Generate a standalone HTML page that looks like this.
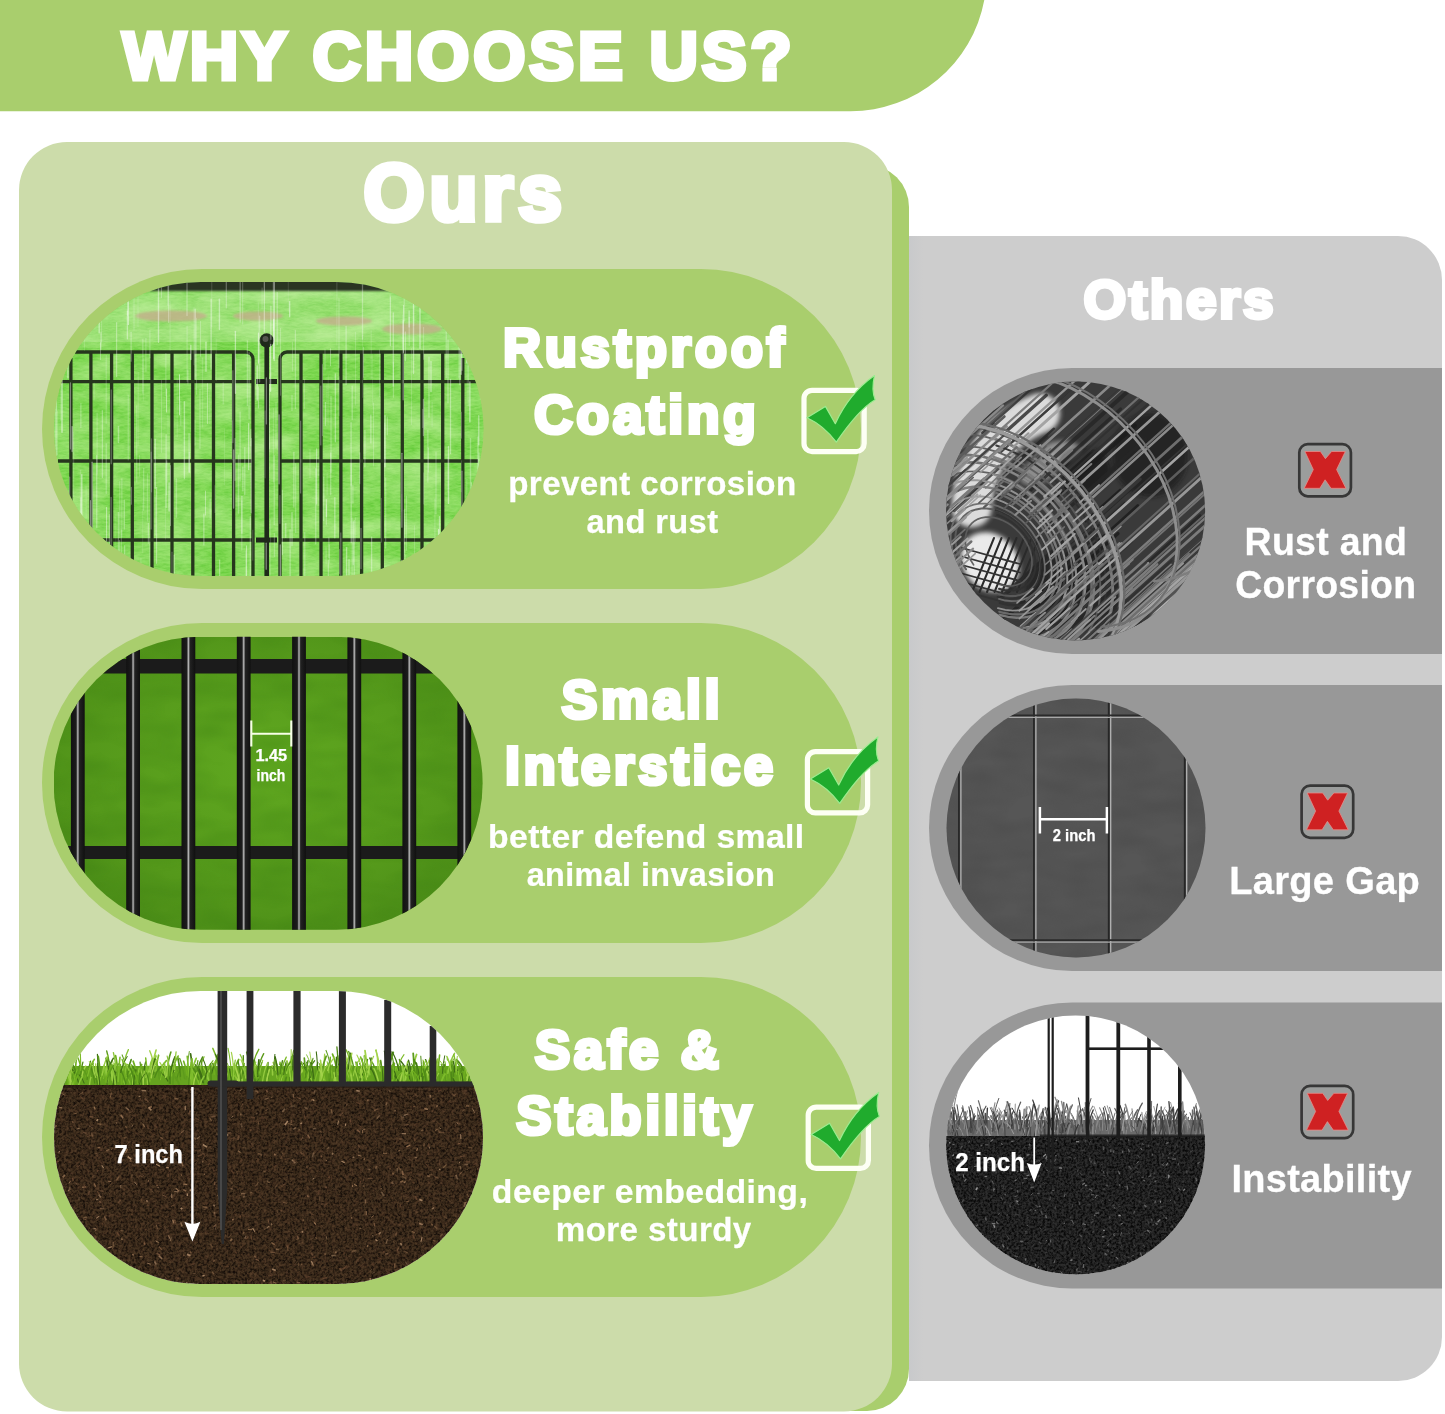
<!DOCTYPE html>
<html lang="en">
<head>
<meta charset="utf-8">
<title>Why Choose Us?</title>
<style>
html,body{margin:0;padding:0;background:#fff;}
body{width:1445px;height:1414px;overflow:hidden;font-family:"Liberation Sans",sans-serif;}
svg{display:block;}
.hv{font-family:"Liberation Sans",sans-serif;font-weight:bold;fill:#fff;stroke:#fff;stroke-linejoin:miter;stroke-miterlimit:3;}
.sub{font-family:"Liberation Sans",sans-serif;font-weight:normal;fill:#fff;stroke:#fff;stroke-width:1.1px;stroke-linejoin:round;}
.lbl{font-family:"Liberation Sans",sans-serif;font-weight:bold;fill:#fff;stroke:#fff;stroke-width:0.25px;}
</style>
</head>
<body>
<svg width="1445" height="1414" viewBox="0 0 1445 1414">
<defs>

<clipPath id="c1"><rect x="54" y="282" width="429.5" height="294" rx="147" ry="147"/></clipPath>
<clipPath id="c2"><rect x="53.6" y="636.7" width="429" height="293" rx="146.5" ry="146.5"/></clipPath>
<clipPath id="c3"><rect x="54" y="991" width="429" height="293" rx="146.5" ry="146.5"/></clipPath>
<clipPath id="k1"><circle cx="1075.6" cy="511" r="129.5"/></clipPath>
<clipPath id="k2"><circle cx="1076" cy="828" r="129.5"/></clipPath>
<clipPath id="k3"><circle cx="1075.6" cy="1145" r="129.5"/></clipPath>
<filter id="soil" x="0" y="0" width="100%" height="100%" color-interpolation-filters="sRGB">
  <feTurbulence type="fractalNoise" baseFrequency="0.42" numOctaves="3" seed="4"/>
  <feColorMatrix type="matrix" values="0 0 0 0 0  0 0 0 0 0  0 0 0 0 0  2.6 0 0 0 -0.95"/>
  <feComposite in="SourceGraphic" operator="in"/>
</filter>
<filter id="soil2" x="0" y="0" width="100%" height="100%" color-interpolation-filters="sRGB">
  <feTurbulence type="fractalNoise" baseFrequency="0.22" numOctaves="2" seed="11"/>
  <feColorMatrix type="matrix" values="0 0 0 0 0  0 0 0 0 0  0 0 0 0 0  0 2.4 0 0 -1.0"/>
  <feComposite in="SourceGraphic" operator="in"/>
</filter>
<filter id="grain" x="0" y="0" width="100%" height="100%" color-interpolation-filters="sRGB">
  <feTurbulence type="fractalNoise" baseFrequency="0.12 0.5" numOctaves="3" seed="9"/>
  <feColorMatrix type="matrix" values="0 0 0 0 0  0 0 0 0 0  0 0 0 0 0  1.8 0 0 0 -0.6"/>
  <feComposite in="SourceGraphic" operator="in"/>
</filter>
<filter id="cloud" x="0" y="0" width="100%" height="100%" color-interpolation-filters="sRGB">
  <feTurbulence type="fractalNoise" baseFrequency="0.02 0.05" numOctaves="2" seed="3"/>
  <feColorMatrix type="matrix" values="0 0 0 0 0  0 0 0 0 0  0 0 0 0 0  1.6 0 0 0 -0.5"/>
  <feComposite in="SourceGraphic" operator="in"/>
</filter>
<filter id="nf" filterUnits="userSpaceOnUse" x="0" y="0" width="1445" height="1414"><feOffset dx="0" dy="0"/></filter>
<filter id="b1" x="-30%" y="-60%" width="160%" height="220%"><feGaussianBlur stdDeviation="1"/></filter>
<filter id="b2" x="-60%" y="-60%" width="220%" height="220%"><feGaussianBlur stdDeviation="2.5"/></filter>
<filter id="b05"><feGaussianBlur stdDeviation="0.5"/></filter>
<linearGradient id="gbar" x1="0" x2="1" y1="0" y2="0">
  <stop offset="0" stop-color="#111"/><stop offset="0.38" stop-color="#1c1c1c"/>
  <stop offset="0.5" stop-color="#b9b9b9"/><stop offset="0.62" stop-color="#222"/><stop offset="1" stop-color="#101010"/>
</linearGradient>
<radialGradient id="g2bg" cx="0.5" cy="0.45" r="0.7">
  <stop offset="0" stop-color="#60a820"/><stop offset="0.6" stop-color="#55991b"/><stop offset="1" stop-color="#478716"/>
</radialGradient>
<linearGradient id="pnlshade" x1="0" x2="1" y1="0" y2="0">
  <stop offset="0" stop-color="#c8c9cb"/><stop offset="1" stop-color="#cdcdcd"/>
</linearGradient>
</defs>

<rect width="1445" height="1414" fill="#fff"/>
<path d="M0 0H984.3A136 136 0 0 1 850.5 111.2H0Z" fill="#a9ce6d"/>
<rect x="60" y="165" width="849" height="1246" rx="42" ry="42" fill="#a9ce6d"/>
<rect x="19" y="142" width="873" height="1269.5" rx="48" ry="48" fill="#ccdcaa"/>
<path d="M909 236H1398a44 44 0 0 1 44 44V1337a44 44 0 0 1 -44 44H909Z" fill="#cdcdcd"/>
<rect x="909" y="236" width="14" height="1145" fill="url(#pnlshade)"/>
<rect x="42" y="269" width="819" height="320" rx="160" ry="160" fill="#a9ce6d"/>
<rect x="42" y="623" width="819" height="320" rx="160" ry="160" fill="#a9ce6d"/>
<rect x="42" y="977" width="819" height="320" rx="160" ry="160" fill="#a9ce6d"/>
<path d="M1072 368H1442V654H1072a143 143 0 0 1 0 -286Z" fill="#989898"/>
<path d="M1072 685H1442V971H1072a143 143 0 0 1 0 -286Z" fill="#989898"/>
<path d="M1072 1002.5H1442V1288.5H1072a143 143 0 0 1 0 -286Z" fill="#989898"/>
<g clip-path="url(#c1)">
<rect x="54" y="282" width="430" height="294" fill="#84db57"/>
<rect x="54" y="282" width="430" height="294" fill="#4fbf26" filter="url(#grain)" opacity="0.6"/>
<rect x="54" y="282" width="430" height="294" fill="#d6f8b4" filter="url(#cloud)" opacity="0.65"/>
<rect x="54" y="282" width="430" height="60" fill="#dff7c8" opacity="0.25"/>
<rect x="150" y="277" width="250" height="14" fill="#2b3524" filter="url(#b1)"/>
<ellipse cx="171" cy="316" rx="36" ry="5.5" fill="#c2ae8a" opacity="0.8" filter="url(#b1)"/>
<ellipse cx="258" cy="316" rx="25" ry="4.5" fill="#c2ae8a" opacity="0.8" filter="url(#b1)"/>
<ellipse cx="344" cy="321" rx="28" ry="4.5" fill="#c2ae8a" opacity="0.8" filter="url(#b1)"/>
<ellipse cx="412" cy="329" rx="30" ry="5.5" fill="#c2ae8a" opacity="0.8" filter="url(#b1)"/>
<g stroke="#26361d" stroke-width="3.3" fill="none" stroke-linecap="butt">
<path d="M70.9 358V580"/>
<path d="M90.9 352V580"/>
<path d="M111.6 352V580"/>
<path d="M132.3 352V580"/>
<path d="M152 352V580"/>
<path d="M172 352V580"/>
<path d="M192.8 352V580"/>
<path d="M213.5 352V580"/>
<path d="M233.6 352V580"/>
<path d="M301 352V580"/>
<path d="M321 352V580"/>
<path d="M340.9 352V580"/>
<path d="M361.6 352V580"/>
<path d="M382.3 352V580"/>
<path d="M402.3 352V580"/>
<path d="M422 352V580"/>
<path d="M442.7 352V580"/>
<path d="M462.8 358V580"/>
<path d="M75 352H246a7 7 0 0 1 7 7V580"/>
<path d="M463 352H287a7 7 0 0 0 -7 7V580"/>
<path d="M58 381.6H253"/><path d="M280 381.6H478"/>
<path d="M58 461H253"/><path d="M280 461H478"/>
<path d="M58 540H253"/><path d="M280 540H478"/>
</g>
<path d="M266.7 340V580" stroke="#1f2a1a" stroke-width="4.6"/>
<circle cx="266.7" cy="340.5" r="7.2" fill="#1f2a1a"/>
<circle cx="265.5" cy="339" r="3" fill="#55584f"/>
<path d="M256 381.6H277M256 540H277" stroke="#1f2a1a" stroke-width="5"/>
<g stroke="#fff" stroke-linecap="round">
<path d="M194.0 307.7v57" stroke-width="1.1" opacity="0.18"/>
<path d="M211.8 279.6v47" stroke-width="1.0" opacity="0.16"/>
<path d="M85.8 289.5v42" stroke-width="0.7" opacity="0.44"/>
<path d="M151.1 452.1v77" stroke-width="1.0" opacity="0.35"/>
<path d="M471.9 276.1v71" stroke-width="0.7" opacity="0.25"/>
<path d="M106.2 355.5v68" stroke-width="1.1" opacity="0.21"/>
<path d="M328.2 374.8v50" stroke-width="0.7" opacity="0.17"/>
<path d="M143.7 468.2v42" stroke-width="1.1" opacity="0.26"/>
<path d="M249.1 352.8v66" stroke-width="0.8" opacity="0.39"/>
<path d="M300.7 421.1v72" stroke-width="0.9" opacity="0.41"/>
<path d="M473.6 297.8v42" stroke-width="0.7" opacity="0.41"/>
<path d="M264.3 273.9v58" stroke-width="1.1" opacity="0.42"/>
<path d="M429.0 357.1v60" stroke-width="1.1" opacity="0.36"/>
<path d="M250.3 516.5v76" stroke-width="1.2" opacity="0.32"/>
<path d="M81.8 474.6v57" stroke-width="1.3" opacity="0.50"/>
<path d="M177.2 378.9v58" stroke-width="1.0" opacity="0.16"/>
<path d="M127.6 297.5v18" stroke-width="0.7" opacity="0.42"/>
<path d="M161.5 380.5v72" stroke-width="1.0" opacity="0.18"/>
<path d="M290.1 529.7v68" stroke-width="0.9" opacity="0.45"/>
<path d="M232.9 370.7v72" stroke-width="0.7" opacity="0.49"/>
<path d="M131.1 332.3v29" stroke-width="1.1" opacity="0.32"/>
<path d="M167.9 263.2v42" stroke-width="1.1" opacity="0.28"/>
<path d="M462.0 471.2v48" stroke-width="1.2" opacity="0.37"/>
<path d="M79.0 534.6v65" stroke-width="1.3" opacity="0.46"/>
<path d="M223.2 382.9v21" stroke-width="0.7" opacity="0.37"/>
<path d="M84.7 325.3v25" stroke-width="0.6" opacity="0.27"/>
<path d="M56.1 307.8v21" stroke-width="0.6" opacity="0.28"/>
<path d="M428.5 448.1v24" stroke-width="0.9" opacity="0.24"/>
<path d="M211.1 299.2v70" stroke-width="1.0" opacity="0.50"/>
<path d="M262.1 288.0v21" stroke-width="0.8" opacity="0.27"/>
<path d="M409.1 310.9v16" stroke-width="1.1" opacity="0.48"/>
<path d="M118.5 426.6v16" stroke-width="1.5" opacity="0.33"/>
<path d="M423.8 472.9v31" stroke-width="0.8" opacity="0.28"/>
<path d="M384.8 423.4v65" stroke-width="0.8" opacity="0.27"/>
<path d="M401.7 560.4v70" stroke-width="1.3" opacity="0.43"/>
<path d="M371.2 330.7v48" stroke-width="0.6" opacity="0.27"/>
<path d="M67.9 346.7v31" stroke-width="1.5" opacity="0.39"/>
<path d="M246.5 545.9v79" stroke-width="0.9" opacity="0.48"/>
<path d="M149.9 330.7v27" stroke-width="1.2" opacity="0.22"/>
<path d="M439.5 516.7v46" stroke-width="1.3" opacity="0.38"/>
<path d="M92.1 462.2v74" stroke-width="1.3" opacity="0.42"/>
<path d="M259.6 316.1v66" stroke-width="1.3" opacity="0.27"/>
<path d="M469.9 381.9v40" stroke-width="1.3" opacity="0.48"/>
<path d="M128.4 300.5v24" stroke-width="1.3" opacity="0.47"/>
<path d="M118.3 512.4v79" stroke-width="0.9" opacity="0.38"/>
<path d="M289.7 301.7v15" stroke-width="1.2" opacity="0.49"/>
<path d="M280.3 544.9v43" stroke-width="1.3" opacity="0.46"/>
<path d="M145.9 338.3v33" stroke-width="1.1" opacity="0.23"/>
<path d="M166.5 389.0v23" stroke-width="0.9" opacity="0.47"/>
<path d="M251.2 438.8v74" stroke-width="1.4" opacity="0.30"/>
<path d="M269.7 423.1v49" stroke-width="1.0" opacity="0.16"/>
<path d="M134.0 263.2v67" stroke-width="1.0" opacity="0.21"/>
<path d="M364.9 430.6v36" stroke-width="1.1" opacity="0.33"/>
<path d="M390.1 294.2v51" stroke-width="0.8" opacity="0.24"/>
<path d="M385.0 415.8v51" stroke-width="1.4" opacity="0.42"/>
<path d="M244.8 447.6v47" stroke-width="1.2" opacity="0.33"/>
<path d="M248.7 423.6v46" stroke-width="1.2" opacity="0.48"/>
<path d="M429.4 547.5v31" stroke-width="1.4" opacity="0.35"/>
<path d="M413.8 303.6v22" stroke-width="0.7" opacity="0.30"/>
<path d="M158.5 284.2v58" stroke-width="1.4" opacity="0.42"/>
<path d="M121.8 479.0v58" stroke-width="1.4" opacity="0.20"/>
<path d="M468.2 328.5v77" stroke-width="1.0" opacity="0.29"/>
<path d="M477.7 514.2v25" stroke-width="1.1" opacity="0.30"/>
<path d="M200.5 321.3v35" stroke-width="0.6" opacity="0.40"/>
<path d="M292.0 395.5v15" stroke-width="1.2" opacity="0.27"/>
<path d="M274.2 281.5v79" stroke-width="1.5" opacity="0.43"/>
<path d="M100.6 342.5v17" stroke-width="0.8" opacity="0.42"/>
<path d="M111.2 389.9v74" stroke-width="0.8" opacity="0.44"/>
<path d="M119.6 540.5v52" stroke-width="0.7" opacity="0.40"/>
<path d="M80.5 470.5v42" stroke-width="1.4" opacity="0.18"/>
<path d="M326.3 504.9v20" stroke-width="0.7" opacity="0.45"/>
<path d="M423.5 399.5v36" stroke-width="1.4" opacity="0.34"/>
<path d="M170.1 301.2v49" stroke-width="0.7" opacity="0.23"/>
<path d="M124.8 277.3v27" stroke-width="0.9" opacity="0.26"/>
<path d="M379.5 349.9v47" stroke-width="0.9" opacity="0.21"/>
<path d="M63.7 337.9v15" stroke-width="1.1" opacity="0.41"/>
<path d="M136.7 405.9v76" stroke-width="1.3" opacity="0.19"/>
<path d="M240.1 412.0v69" stroke-width="1.1" opacity="0.29"/>
<path d="M349.0 559.7v37" stroke-width="1.2" opacity="0.44"/>
<path d="M326.9 384.6v37" stroke-width="0.7" opacity="0.17"/>
<path d="M86.1 486.5v31" stroke-width="0.7" opacity="0.21"/>
<path d="M414.4 525.8v58" stroke-width="0.8" opacity="0.25"/>
<path d="M180.8 401.2v24" stroke-width="0.8" opacity="0.31"/>
<path d="M465.7 556.7v50" stroke-width="1.5" opacity="0.24"/>
<path d="M187.9 370.0v14" stroke-width="1.0" opacity="0.28"/>
<path d="M270.2 322.9v47" stroke-width="0.8" opacity="0.15"/>
<path d="M94.2 383.1v17" stroke-width="0.9" opacity="0.16"/>
<path d="M155.2 439.4v49" stroke-width="1.2" opacity="0.41"/>
<path d="M361.0 528.4v40" stroke-width="1.5" opacity="0.26"/>
<path d="M119.7 481.4v56" stroke-width="1.4" opacity="0.17"/>
<path d="M436.0 452.1v62" stroke-width="0.7" opacity="0.43"/>
<path d="M279.1 414.8v69" stroke-width="1.3" opacity="0.43"/>
<path d="M304.8 532.5v59" stroke-width="0.8" opacity="0.39"/>
<path d="M69.3 302.3v38" stroke-width="1.4" opacity="0.19"/>
<path d="M293.9 452.2v55" stroke-width="1.0" opacity="0.39"/>
<path d="M57.4 503.7v63" stroke-width="1.1" opacity="0.33"/>
<path d="M336.9 282.0v63" stroke-width="0.7" opacity="0.24"/>
<path d="M169.1 483.0v28" stroke-width="1.5" opacity="0.41"/>
<path d="M266.4 377.9v46" stroke-width="1.3" opacity="0.39"/>
<path d="M318.8 456.8v19" stroke-width="0.8" opacity="0.20"/>
<path d="M372.6 354.2v51" stroke-width="0.7" opacity="0.15"/>
<path d="M170.5 465.6v60" stroke-width="0.9" opacity="0.39"/>
<path d="M276.0 402.8v45" stroke-width="1.4" opacity="0.19"/>
<path d="M140.9 558.4v76" stroke-width="1.0" opacity="0.16"/>
<path d="M405.3 555.3v44" stroke-width="0.8" opacity="0.24"/>
<path d="M458.8 325.8v52" stroke-width="1.1" opacity="0.20"/>
<path d="M461.9 302.2v68" stroke-width="1.4" opacity="0.33"/>
<path d="M355.6 332.1v73" stroke-width="0.6" opacity="0.32"/>
<path d="M57.5 411.0v44" stroke-width="0.7" opacity="0.26"/>
<path d="M202.5 357.8v69" stroke-width="1.3" opacity="0.15"/>
<path d="M413.5 298.4v75" stroke-width="1.4" opacity="0.40"/>
<path d="M179.5 374.8v40" stroke-width="1.1" opacity="0.50"/>
<path d="M209.7 391.7v32" stroke-width="0.7" opacity="0.17"/>
<path d="M411.6 348.5v76" stroke-width="0.8" opacity="0.24"/>
<path d="M273.7 319.5v39" stroke-width="1.4" opacity="0.48"/>
<path d="M401.9 453.2v74" stroke-width="1.1" opacity="0.48"/>
<path d="M362.5 277.0v62" stroke-width="1.3" opacity="0.31"/>
<path d="M330.6 348.7v17" stroke-width="0.7" opacity="0.47"/>
<path d="M257.2 366.1v34" stroke-width="1.5" opacity="0.41"/>
<path d="M166.8 460.8v34" stroke-width="1.0" opacity="0.35"/>
<path d="M127.3 311.0v28" stroke-width="1.0" opacity="0.47"/>
<path d="M149.7 536.6v80" stroke-width="0.7" opacity="0.31"/>
<path d="M138.0 289.5v37" stroke-width="0.8" opacity="0.18"/>
<path d="M166.1 434.6v73" stroke-width="1.0" opacity="0.41"/>
<path d="M232.3 420.8v39" stroke-width="0.7" opacity="0.27"/>
<path d="M174.2 555.2v22" stroke-width="1.2" opacity="0.33"/>
<path d="M423.6 327.4v32" stroke-width="1.0" opacity="0.24"/>
<path d="M245.9 551.0v70" stroke-width="0.6" opacity="0.46"/>
<path d="M69.7 477.0v73" stroke-width="1.1" opacity="0.32"/>
<path d="M56.1 380.6v75" stroke-width="1.4" opacity="0.44"/>
<path d="M470.2 337.3v21" stroke-width="1.1" opacity="0.20"/>
<path d="M346.6 547.3v62" stroke-width="1.3" opacity="0.38"/>
<path d="M250.8 429.1v17" stroke-width="0.8" opacity="0.42"/>
<path d="M447.9 457.6v34" stroke-width="0.8" opacity="0.19"/>
<path d="M327.1 473.7v21" stroke-width="1.1" opacity="0.17"/>
<path d="M304.3 379.6v29" stroke-width="0.6" opacity="0.36"/>
<path d="M184.4 401.6v77" stroke-width="1.4" opacity="0.38"/>
<path d="M258.5 333.1v30" stroke-width="1.2" opacity="0.49"/>
<path d="M187.0 268.6v47" stroke-width="1.0" opacity="0.39"/>
<path d="M165.6 464.2v75" stroke-width="0.6" opacity="0.23"/>
<path d="M200.0 389.4v59" stroke-width="1.3" opacity="0.22"/>
<path d="M370.9 415.0v28" stroke-width="0.9" opacity="0.49"/>
<path d="M405.3 331.9v29" stroke-width="0.9" opacity="0.42"/>
<path d="M461.5 412.2v26" stroke-width="1.0" opacity="0.23"/>
<path d="M339.4 549.5v24" stroke-width="0.8" opacity="0.29"/>
<path d="M471.0 305.0v17" stroke-width="1.0" opacity="0.17"/>
<path d="M438.6 529.7v62" stroke-width="1.4" opacity="0.50"/>
<path d="M196.3 318.2v76" stroke-width="0.6" opacity="0.41"/>
<path d="M339.0 376.7v39" stroke-width="0.8" opacity="0.27"/>
<path d="M57.2 346.8v37" stroke-width="0.7" opacity="0.48"/>
<path d="M466.8 324.8v38" stroke-width="1.3" opacity="0.44"/>
<path d="M240.2 276.9v45" stroke-width="1.4" opacity="0.28"/>
<path d="M138.2 372.4v73" stroke-width="1.0" opacity="0.16"/>
<path d="M401.8 494.3v17" stroke-width="0.7" opacity="0.16"/>
<path d="M448.0 339.9v63" stroke-width="0.9" opacity="0.46"/>
<path d="M172.0 552.2v55" stroke-width="1.2" opacity="0.24"/>
<path d="M190.8 345.5v14" stroke-width="1.4" opacity="0.41"/>
<path d="M326.1 547.8v16" stroke-width="1.0" opacity="0.23"/>
<path d="M463.6 551.0v40" stroke-width="1.0" opacity="0.24"/>
<path d="M266.2 543.2v26" stroke-width="1.3" opacity="0.43"/>
<path d="M406.5 496.2v54" stroke-width="0.9" opacity="0.26"/>
<path d="M210.2 499.0v19" stroke-width="1.3" opacity="0.22"/>
<path d="M161.4 281.6v16" stroke-width="0.9" opacity="0.34"/>
<path d="M473.6 529.7v79" stroke-width="0.7" opacity="0.24"/>
<path d="M97.1 413.0v61" stroke-width="0.8" opacity="0.31"/>
<path d="M233.6 450.0v58" stroke-width="1.4" opacity="0.41"/>
<path d="M339.0 298.7v69" stroke-width="1.1" opacity="0.25"/>
<path d="M214.9 485.6v27" stroke-width="0.8" opacity="0.24"/>
<path d="M121.3 529.9v52" stroke-width="1.0" opacity="0.26"/>
<path d="M478.8 415.7v29" stroke-width="1.2" opacity="0.43"/>
<path d="M478.1 293.0v45" stroke-width="1.4" opacity="0.44"/>
<path d="M445.5 274.2v33" stroke-width="0.8" opacity="0.19"/>
<path d="M470.5 438.7v75" stroke-width="1.4" opacity="0.28"/>
<path d="M247.3 340.8v65" stroke-width="0.7" opacity="0.48"/>
<path d="M310.0 449.8v28" stroke-width="0.7" opacity="0.28"/>
<path d="M142.9 339.2v54" stroke-width="0.8" opacity="0.38"/>
<path d="M60.8 361.2v59" stroke-width="0.9" opacity="0.21"/>
<path d="M142.7 503.0v50" stroke-width="0.7" opacity="0.17"/>
<path d="M224.4 428.7v56" stroke-width="0.7" opacity="0.18"/>
<path d="M352.2 386.2v33" stroke-width="1.5" opacity="0.26"/>
<path d="M189.1 433.7v38" stroke-width="1.4" opacity="0.30"/>
<path d="M480.6 372.2v27" stroke-width="0.8" opacity="0.40"/>
<path d="M58.5 535.2v42" stroke-width="1.0" opacity="0.44"/>
<path d="M432.1 401.7v25" stroke-width="1.1" opacity="0.16"/>
<path d="M328.9 537.7v20" stroke-width="0.9" opacity="0.37"/>
<path d="M270.9 306.2v33" stroke-width="1.4" opacity="0.33"/>
<path d="M102.3 410.6v67" stroke-width="0.8" opacity="0.49"/>
<path d="M110.0 547.8v78" stroke-width="0.6" opacity="0.32"/>
<path d="M450.5 379.5v74" stroke-width="1.3" opacity="0.37"/>
<path d="M124.3 500.1v29" stroke-width="1.4" opacity="0.29"/>
<path d="M409.2 317.4v28" stroke-width="1.1" opacity="0.29"/>
<path d="M219.4 299.3v30" stroke-width="1.4" opacity="0.40"/>
<path d="M73.5 432.4v64" stroke-width="1.4" opacity="0.16"/>
<path d="M106.2 443.7v50" stroke-width="0.9" opacity="0.37"/>
<path d="M235.0 438.5v42" stroke-width="1.0" opacity="0.38"/>
<path d="M242.7 269.1v55" stroke-width="0.8" opacity="0.32"/>
<path d="M381.3 498.3v44" stroke-width="1.0" opacity="0.21"/>
<path d="M101.6 300.9v42" stroke-width="1.0" opacity="0.18"/>
<path d="M273.3 274.4v56" stroke-width="1.3" opacity="0.18"/>
<path d="M387.3 417.0v18" stroke-width="0.9" opacity="0.33"/>
<path d="M461.1 303.3v71" stroke-width="1.3" opacity="0.50"/>
<path d="M403.2 320.7v79" stroke-width="1.5" opacity="0.32"/>
<path d="M446.2 312.0v66" stroke-width="0.7" opacity="0.48"/>
<path d="M205.5 491.1v24" stroke-width="0.8" opacity="0.46"/>
<path d="M403.5 305.5v47" stroke-width="0.8" opacity="0.47"/>
<path d="M168.0 415.3v35" stroke-width="0.8" opacity="0.16"/>
<path d="M124.7 545.7v59" stroke-width="0.8" opacity="0.46"/>
<path d="M390.4 296.9v49" stroke-width="0.9" opacity="0.37"/>
<path d="M427.9 430.2v52" stroke-width="0.7" opacity="0.46"/>
<path d="M479.0 452.8v40" stroke-width="0.8" opacity="0.43"/>
<path d="M478.0 436.9v38" stroke-width="1.0" opacity="0.42"/>
<path d="M131.3 487.3v17" stroke-width="0.8" opacity="0.44"/>
<path d="M328.3 560.2v53" stroke-width="0.9" opacity="0.38"/>
<path d="M56.8 272.2v24" stroke-width="1.0" opacity="0.37"/>
<path d="M274.4 533.3v23" stroke-width="1.2" opacity="0.23"/>
<path d="M65.5 262.8v37" stroke-width="0.9" opacity="0.19"/>
<path d="M151.5 438.8v53" stroke-width="1.2" opacity="0.22"/>
<path d="M258.3 302.8v76" stroke-width="0.7" opacity="0.24"/>
<path d="M96.8 455.4v72" stroke-width="1.0" opacity="0.42"/>
<path d="M168.6 265.5v57" stroke-width="0.9" opacity="0.35"/>
<path d="M331.0 396.5v76" stroke-width="0.8" opacity="0.41"/>
<path d="M440.9 275.3v49" stroke-width="0.8" opacity="0.29"/>
<path d="M80.9 498.0v15" stroke-width="1.4" opacity="0.34"/>
<path d="M116.6 322.5v54" stroke-width="1.2" opacity="0.33"/>
<path d="M402.5 314.9v34" stroke-width="0.6" opacity="0.26"/>
<path d="M434.9 499.2v61" stroke-width="1.4" opacity="0.15"/>
<path d="M373.4 403.0v63" stroke-width="0.8" opacity="0.31"/>
<path d="M100.9 332.4v17" stroke-width="1.3" opacity="0.27"/>
<path d="M352.1 518.1v61" stroke-width="1.1" opacity="0.24"/>
<path d="M241.8 500.9v49" stroke-width="1.2" opacity="0.24"/>
<path d="M467.1 327.7v72" stroke-width="0.8" opacity="0.16"/>
<path d="M156.6 487.4v76" stroke-width="0.9" opacity="0.41"/>
<path d="M431.0 361.6v30" stroke-width="1.2" opacity="0.47"/>
<path d="M351.2 463.6v79" stroke-width="1.4" opacity="0.31"/>
<path d="M353.2 521.8v43" stroke-width="1.1" opacity="0.40"/>
<path d="M187.1 326.2v55" stroke-width="1.4" opacity="0.18"/>
<path d="M117.6 270.2v21" stroke-width="0.9" opacity="0.48"/>
<path d="M116.4 270.7v17" stroke-width="1.2" opacity="0.39"/>
<path d="M352.9 485.2v18" stroke-width="0.9" opacity="0.36"/>
<path d="M404.3 510.3v73" stroke-width="1.4" opacity="0.17"/>
<path d="M445.5 548.1v21" stroke-width="0.7" opacity="0.22"/>
<path d="M70.7 518.9v68" stroke-width="1.3" opacity="0.37"/>
<path d="M325.0 349.1v21" stroke-width="1.3" opacity="0.18"/>
<path d="M143.3 358.7v42" stroke-width="0.8" opacity="0.16"/>
<path d="M176.4 478.9v38" stroke-width="1.5" opacity="0.26"/>
<path d="M270.6 520.0v55" stroke-width="1.0" opacity="0.16"/>
<path d="M241.9 496.2v37" stroke-width="1.1" opacity="0.40"/>
<path d="M148.3 523.3v20" stroke-width="0.8" opacity="0.44"/>
<path d="M56.6 323.2v64" stroke-width="0.6" opacity="0.49"/>
<path d="M265.1 410.9v67" stroke-width="1.0" opacity="0.21"/>
<path d="M203.9 514.0v31" stroke-width="0.9" opacity="0.48"/>
<path d="M147.5 473.9v47" stroke-width="1.2" opacity="0.19"/>
<path d="M90.5 500.7v60" stroke-width="1.2" opacity="0.43"/>
<path d="M207.5 383.6v40" stroke-width="0.7" opacity="0.46"/>
<path d="M434.5 269.6v28" stroke-width="1.4" opacity="0.24"/>
<path d="M269.5 376.9v72" stroke-width="1.0" opacity="0.23"/>
<path d="M282.4 490.6v64" stroke-width="0.9" opacity="0.38"/>
<path d="M195.2 309.1v70" stroke-width="1.3" opacity="0.38"/>
<path d="M128.2 395.0v65" stroke-width="0.7" opacity="0.35"/>
<path d="M252.8 530.2v30" stroke-width="0.9" opacity="0.22"/>
<path d="M355.5 517.6v24" stroke-width="0.8" opacity="0.20"/>
<path d="M195.1 420.2v25" stroke-width="0.8" opacity="0.26"/>
<path d="M471.4 482.8v21" stroke-width="0.7" opacity="0.49"/>
<path d="M219.7 560.1v66" stroke-width="1.0" opacity="0.41"/>
<path d="M139.6 455.3v21" stroke-width="0.9" opacity="0.22"/>
<path d="M70.5 382.9v66" stroke-width="1.1" opacity="0.39"/>
<path d="M325.4 402.4v23" stroke-width="1.0" opacity="0.36"/>
<path d="M371.6 537.1v42" stroke-width="1.3" opacity="0.35"/>
<path d="M235.4 331.3v62" stroke-width="1.3" opacity="0.46"/>
<path d="M354.2 520.3v59" stroke-width="1.0" opacity="0.37"/>
<path d="M189.3 452.4v20" stroke-width="1.3" opacity="0.30"/>
<path d="M359.8 452.8v31" stroke-width="1.0" opacity="0.30"/>
<path d="M320.8 386.0v59" stroke-width="0.8" opacity="0.48"/>
<path d="M334.8 497.8v40" stroke-width="1.5" opacity="0.32"/>
<path d="M72.2 426.6v25" stroke-width="1.4" opacity="0.42"/>
<path d="M277.2 292.6v52" stroke-width="1.2" opacity="0.34"/>
<path d="M274.2 455.7v69" stroke-width="1.0" opacity="0.33"/>
<path d="M459.8 325.7v59" stroke-width="1.3" opacity="0.29"/>
<path d="M108.1 560.3v37" stroke-width="0.8" opacity="0.17"/>
<path d="M226.3 266.0v42" stroke-width="1.2" opacity="0.30"/>
<path d="M206.0 342.3v29" stroke-width="1.4" opacity="0.41"/>
<path d="M280.5 328.3v67" stroke-width="0.8" opacity="0.29"/>
<path d="M111.1 497.3v67" stroke-width="1.0" opacity="0.37"/>
<path d="M295.4 330.5v78" stroke-width="1.2" opacity="0.27"/>
<path d="M404.8 509.3v45" stroke-width="1.1" opacity="0.25"/>
<path d="M109.3 514.6v37" stroke-width="0.8" opacity="0.45"/>
<path d="M216.2 338.8v42" stroke-width="0.6" opacity="0.22"/>
<path d="M363.5 347.2v30" stroke-width="1.0" opacity="0.26"/>
<path d="M238.5 455.1v58" stroke-width="1.4" opacity="0.28"/>
<path d="M420.0 279.3v69" stroke-width="1.3" opacity="0.47"/>
<path d="M115.8 513.9v56" stroke-width="0.6" opacity="0.16"/>
<path d="M461.5 460.8v31" stroke-width="0.7" opacity="0.19"/>
<path d="M155.5 497.2v37" stroke-width="1.4" opacity="0.20"/>
<path d="M393.3 312.9v73" stroke-width="1.3" opacity="0.36"/>
<path d="M340.8 532.9v66" stroke-width="0.8" opacity="0.44"/>
<path d="M351.1 422.8v63" stroke-width="1.4" opacity="0.30"/>
<path d="M292.5 342.1v29" stroke-width="1.0" opacity="0.20"/>
<path d="M80.9 403.5v24" stroke-width="1.0" opacity="0.32"/>
<path d="M285.8 523.5v14" stroke-width="1.0" opacity="0.44"/>
<path d="M295.7 463.6v69" stroke-width="1.0" opacity="0.28"/>
<path d="M465.2 284.8v56" stroke-width="0.6" opacity="0.37"/>
<path d="M315.7 468.8v75" stroke-width="1.5" opacity="0.27"/>
<path d="M273.5 408.9v73" stroke-width="1.2" opacity="0.16"/>
<path d="M322.4 364.6v71" stroke-width="1.0" opacity="0.28"/>
<path d="M279.9 495.5v28" stroke-width="1.0" opacity="0.30"/>
<path d="M292.0 512.5v33" stroke-width="1.0" opacity="0.44"/>
<path d="M270.6 344.3v47" stroke-width="1.2" opacity="0.49"/>
<path d="M393.4 362.3v35" stroke-width="1.1" opacity="0.25"/>
<path d="M326.4 499.6v17" stroke-width="1.4" opacity="0.40"/>
<path d="M288.3 277.1v34" stroke-width="0.8" opacity="0.15"/>
<path d="M448.5 446.4v57" stroke-width="1.4" opacity="0.43"/>
<path d="M316.6 448.9v55" stroke-width="1.1" opacity="0.39"/>
<path d="M346.1 326.4v58" stroke-width="1.3" opacity="0.31"/>
<path d="M99.2 316.9v16" stroke-width="1.4" opacity="0.42"/>
<path d="M335.3 373.8v68" stroke-width="1.1" opacity="0.43"/>
<path d="M165.9 353.5v42" stroke-width="1.0" opacity="0.26"/>
<path d="M329.4 545.0v18" stroke-width="0.6" opacity="0.35"/>
<path d="M106.6 507.5v52" stroke-width="1.0" opacity="0.47"/>
<path d="M62.0 379.3v53" stroke-width="1.5" opacity="0.48"/>
<path d="M258.5 387.0v21" stroke-width="0.8" opacity="0.38"/>
<path d="M120.7 266.7v14" stroke-width="0.7" opacity="0.39"/>
<path d="M467.7 288.7v71" stroke-width="0.6" opacity="0.20"/>
<path d="M362.4 335.4v62" stroke-width="0.6" opacity="0.22"/>
<path d="M385.7 478.2v70" stroke-width="0.7" opacity="0.41"/>
<path d="M323.8 476.9v44" stroke-width="0.8" opacity="0.48"/>
<path d="M466.8 479.3v15" stroke-width="1.2" opacity="0.16"/>
<path d="M404.2 286.1v35" stroke-width="0.7" opacity="0.41"/>
<path d="M422.8 409.4v18" stroke-width="1.1" opacity="0.28"/>
<path d="M242.9 467.1v24" stroke-width="0.9" opacity="0.43"/>
<path d="M330.7 452.8v42" stroke-width="1.3" opacity="0.29"/>
</g>
</g>
<g clip-path="url(#c2)">
<rect x="54" y="637" width="429" height="293" fill="url(#g2bg)"/>
<rect x="54" y="637" width="429" height="293" fill="#3a7d12" filter="url(#cloud)" opacity="0.35"/>
<rect x="54" y="659" width="429" height="14.5" fill="#1b1b1b"/>
<rect x="54" y="846" width="429" height="13" fill="#1b1b1b"/>
<rect x="70.9" y="630" width="13.8" height="310" fill="url(#gbar)"/>
<rect x="126.2" y="630" width="13.8" height="310" fill="url(#gbar)"/>
<rect x="181.5" y="630" width="13.8" height="310" fill="url(#gbar)"/>
<rect x="236.8" y="630" width="13.8" height="310" fill="url(#gbar)"/>
<rect x="292.1" y="630" width="13.8" height="310" fill="url(#gbar)"/>
<rect x="347.4" y="630" width="13.8" height="310" fill="url(#gbar)"/>
<rect x="402.4" y="630" width="13.8" height="310" fill="url(#gbar)"/>
<rect x="457.4" y="630" width="13.8" height="310" fill="url(#gbar)"/>
<path d="M251.3 733.7H291.3M251.3 720.5V746.5M291.3 720.5V746.5" stroke="#f6ffe6" stroke-width="2.1" fill="none"/>
</g>
<g clip-path="url(#c3)">
<rect x="54" y="991" width="429" height="293" fill="#fff"/>
<rect x="54" y="1066" width="430" height="22" fill="#66a31f"/>
<g stroke-linecap="round" fill="none">
<path d="M462.0 1083.9q-1.8 -9.2 -6.2 -15.4" stroke="#3e6e14" stroke-width="1.7"/>
<path d="M366.4 1069.3q0.4 -6.0 1.2 -10.0" stroke="#4f8a17" stroke-width="1.2"/>
<path d="M348.6 1080.4q-0.9 -11.8 -3.0 -19.6" stroke="#6fae1f" stroke-width="1.2"/>
<path d="M166.9 1072.0q1.2 -12.0 4.0 -20.0" stroke="#5d9b1c" stroke-width="1.6"/>
<path d="M403.9 1085.5q1.5 -9.3 4.9 -15.4" stroke="#96cc40" stroke-width="1.2"/>
<path d="M87.1 1079.5q1.1 -11.0 3.5 -18.4" stroke="#4f8a17" stroke-width="1.2"/>
<path d="M75.1 1076.5q0.4 -10.3 1.2 -17.2" stroke="#6fae1f" stroke-width="1.6"/>
<path d="M250.4 1070.7q-1.1 -11.1 -3.7 -18.5" stroke="#5d9b1c" stroke-width="1.7"/>
<path d="M277.5 1078.1q-1.3 -9.4 -4.3 -15.7" stroke="#a3d24a" stroke-width="1.6"/>
<path d="M176.4 1080.0q1.5 -7.6 5.0 -12.7" stroke="#4f8a17" stroke-width="0.9"/>
<path d="M484.8 1076.1q1.2 -5.6 4.0 -9.4" stroke="#a3d24a" stroke-width="1.2"/>
<path d="M63.2 1074.3q1.6 -11.9 5.2 -19.9" stroke="#96cc40" stroke-width="1.4"/>
<path d="M143.1 1086.6q0.4 -10.1 1.3 -16.9" stroke="#a3d24a" stroke-width="1.1"/>
<path d="M66.5 1072.8q0.2 -8.2 0.8 -13.6" stroke="#96cc40" stroke-width="1.3"/>
<path d="M418.7 1086.0q1.8 -11.5 5.9 -19.2" stroke="#8cc63a" stroke-width="1.1"/>
<path d="M296.1 1081.2q-0.4 -12.3 -1.5 -20.4" stroke="#96cc40" stroke-width="1.7"/>
<path d="M211.7 1073.5q1.9 -10.4 6.2 -17.4" stroke="#3e6e14" stroke-width="1.0"/>
<path d="M291.0 1069.5q0.1 -12.0 0.2 -19.9" stroke="#96cc40" stroke-width="1.0"/>
<path d="M113.1 1083.3q-0.8 -12.1 -2.8 -20.2" stroke="#96cc40" stroke-width="1.6"/>
<path d="M96.0 1075.2q-0.1 -6.8 -0.3 -11.3" stroke="#a3d24a" stroke-width="1.3"/>
<path d="M402.1 1086.4q1.7 -11.8 5.8 -19.6" stroke="#6fae1f" stroke-width="1.0"/>
<path d="M413.1 1070.5q1.0 -9.6 3.5 -16.0" stroke="#96cc40" stroke-width="1.8"/>
<path d="M453.7 1076.3q-0.7 -9.7 -2.5 -16.1" stroke="#4f8a17" stroke-width="1.3"/>
<path d="M323.9 1071.7q0.2 -10.5 0.7 -17.5" stroke="#a3d24a" stroke-width="1.3"/>
<path d="M115.1 1076.9q-0.9 -10.2 -2.8 -17.1" stroke="#a3d24a" stroke-width="1.1"/>
<path d="M97.6 1077.7q0.1 -8.6 0.2 -14.3" stroke="#4f8a17" stroke-width="1.4"/>
<path d="M414.2 1071.3q-0.3 -10.7 -1.0 -17.8" stroke="#5d9b1c" stroke-width="1.8"/>
<path d="M453.3 1070.9q-1.9 -7.1 -6.2 -11.8" stroke="#5d9b1c" stroke-width="1.0"/>
<path d="M329.0 1077.4q-0.2 -8.8 -0.8 -14.6" stroke="#5d9b1c" stroke-width="1.1"/>
<path d="M239.8 1086.3q-1.5 -6.5 -5.1 -10.8" stroke="#a3d24a" stroke-width="1.4"/>
<path d="M150.5 1072.3q1.6 -9.5 5.5 -15.8" stroke="#96cc40" stroke-width="1.6"/>
<path d="M126.4 1071.6q-1.3 -10.0 -4.3 -16.7" stroke="#5d9b1c" stroke-width="1.1"/>
<path d="M78.6 1082.9q-1.9 -8.0 -6.2 -13.3" stroke="#3e6e14" stroke-width="1.2"/>
<path d="M417.1 1085.4q-0.1 -13.2 -0.3 -22.0" stroke="#5d9b1c" stroke-width="1.1"/>
<path d="M295.5 1087.7q0.3 -5.1 1.0 -8.5" stroke="#6fae1f" stroke-width="1.2"/>
<path d="M456.4 1087.4q-1.1 -5.4 -3.6 -8.9" stroke="#3e6e14" stroke-width="1.6"/>
<path d="M428.5 1079.9q-1.6 -11.8 -5.5 -19.7" stroke="#96cc40" stroke-width="1.3"/>
<path d="M61.2 1084.3q-1.7 -5.8 -5.8 -9.7" stroke="#a3d24a" stroke-width="1.1"/>
<path d="M186.0 1079.6q1.0 -16.8 3.3 -28.1" stroke="#5d9b1c" stroke-width="0.9"/>
<path d="M311.3 1080.0q-1.7 -8.9 -5.6 -14.8" stroke="#8cc63a" stroke-width="1.5"/>
<path d="M69.7 1071.3q-0.9 -8.7 -3.1 -14.4" stroke="#8cc63a" stroke-width="1.0"/>
<path d="M435.6 1079.3q0.7 -6.6 2.4 -11.0" stroke="#96cc40" stroke-width="1.6"/>
<path d="M121.6 1084.7q-0.3 -12.1 -1.1 -20.2" stroke="#6fae1f" stroke-width="1.3"/>
<path d="M460.4 1083.8q-0.7 -7.4 -2.3 -12.4" stroke="#7dbb2a" stroke-width="1.7"/>
<path d="M296.1 1087.7q0.3 -7.3 0.9 -12.2" stroke="#3e6e14" stroke-width="1.4"/>
<path d="M467.6 1086.8q0.6 -6.7 1.9 -11.2" stroke="#3e6e14" stroke-width="1.0"/>
<path d="M131.7 1075.2q-1.2 -6.4 -3.8 -10.6" stroke="#7dbb2a" stroke-width="1.8"/>
<path d="M388.6 1086.8q1.6 -9.7 5.4 -16.2" stroke="#6fae1f" stroke-width="0.9"/>
<path d="M329.7 1074.0q0.2 -10.1 0.6 -16.8" stroke="#6fae1f" stroke-width="1.5"/>
<path d="M159.3 1078.9q-0.9 -8.2 -3.0 -13.6" stroke="#5d9b1c" stroke-width="1.2"/>
<path d="M122.8 1070.1q1.7 -12.3 5.6 -20.5" stroke="#8cc63a" stroke-width="1.3"/>
<path d="M282.8 1071.8q-0.9 -5.8 -2.9 -9.6" stroke="#7dbb2a" stroke-width="1.4"/>
<path d="M169.5 1083.0q-0.2 -10.6 -0.6 -17.6" stroke="#4f8a17" stroke-width="1.5"/>
<path d="M137.7 1082.5q0.5 -8.4 1.6 -14.0" stroke="#96cc40" stroke-width="1.6"/>
<path d="M63.5 1075.3q2.0 -6.3 6.6 -10.5" stroke="#7dbb2a" stroke-width="0.9"/>
<path d="M203.8 1085.4q-0.0 -6.7 -0.1 -11.1" stroke="#5d9b1c" stroke-width="1.7"/>
<path d="M144.2 1070.1q0.4 -5.0 1.5 -8.3" stroke="#3e6e14" stroke-width="1.3"/>
<path d="M77.0 1076.4q-1.6 -8.2 -5.5 -13.7" stroke="#4f8a17" stroke-width="1.8"/>
<path d="M345.5 1086.7q-1.5 -8.1 -5.0 -13.4" stroke="#4f8a17" stroke-width="1.5"/>
<path d="M420.6 1084.6q1.0 -8.8 3.4 -14.7" stroke="#96cc40" stroke-width="1.1"/>
<path d="M325.0 1081.0q-1.7 -10.3 -5.6 -17.1" stroke="#7dbb2a" stroke-width="1.6"/>
<path d="M305.4 1078.5q-0.3 -12.3 -1.1 -20.5" stroke="#5d9b1c" stroke-width="1.7"/>
<path d="M314.8 1076.2q0.9 -8.3 3.1 -13.9" stroke="#5d9b1c" stroke-width="1.2"/>
<path d="M279.4 1080.3q2.1 -13.9 6.9 -23.2" stroke="#7dbb2a" stroke-width="1.3"/>
<path d="M130.3 1074.8q0.3 -5.9 1.1 -9.9" stroke="#8cc63a" stroke-width="1.6"/>
<path d="M193.9 1087.4q-0.7 -9.5 -2.4 -15.9" stroke="#7dbb2a" stroke-width="1.7"/>
<path d="M466.8 1069.5q-0.8 -6.8 -2.8 -11.3" stroke="#5d9b1c" stroke-width="1.4"/>
<path d="M485.3 1078.8q-0.5 -8.8 -1.5 -14.7" stroke="#3e6e14" stroke-width="0.9"/>
<path d="M344.8 1077.6q-0.4 -7.4 -1.3 -12.3" stroke="#7dbb2a" stroke-width="1.5"/>
<path d="M454.8 1071.9q-0.4 -6.3 -1.4 -10.4" stroke="#3e6e14" stroke-width="1.5"/>
<path d="M375.5 1070.8q-1.8 -7.6 -5.9 -12.7" stroke="#5d9b1c" stroke-width="1.4"/>
<path d="M98.2 1086.0q2.1 -10.2 6.9 -17.0" stroke="#7dbb2a" stroke-width="1.5"/>
<path d="M278.5 1084.5q-0.4 -6.4 -1.2 -10.7" stroke="#6fae1f" stroke-width="1.5"/>
<path d="M313.0 1075.7q-1.9 -12.6 -6.4 -20.9" stroke="#7dbb2a" stroke-width="0.9"/>
<path d="M51.2 1082.5q-0.4 -9.1 -1.4 -15.2" stroke="#8cc63a" stroke-width="1.4"/>
<path d="M341.3 1072.7q-1.0 -8.7 -3.3 -14.5" stroke="#a3d24a" stroke-width="1.4"/>
<path d="M229.2 1071.3q-1.7 -6.0 -5.5 -10.0" stroke="#8cc63a" stroke-width="1.0"/>
<path d="M463.3 1078.3q1.3 -8.4 4.2 -14.1" stroke="#6fae1f" stroke-width="1.5"/>
<path d="M302.4 1071.7q-2.0 -6.7 -6.5 -11.1" stroke="#8cc63a" stroke-width="1.7"/>
<path d="M463.2 1070.2q-2.0 -6.3 -6.7 -10.5" stroke="#4f8a17" stroke-width="1.7"/>
<path d="M304.0 1087.2q-1.1 -8.2 -3.5 -13.7" stroke="#6fae1f" stroke-width="1.0"/>
<path d="M305.9 1072.3q-0.2 -4.8 -0.6 -8.1" stroke="#7dbb2a" stroke-width="1.4"/>
<path d="M468.6 1078.4q-0.5 -12.2 -1.5 -20.3" stroke="#4f8a17" stroke-width="1.3"/>
<path d="M223.8 1082.5q-1.7 -5.0 -5.8 -8.3" stroke="#a3d24a" stroke-width="1.2"/>
<path d="M131.3 1087.5q-1.6 -7.1 -5.4 -11.8" stroke="#7dbb2a" stroke-width="1.2"/>
<path d="M334.0 1087.3q0.2 -8.1 0.8 -13.5" stroke="#7dbb2a" stroke-width="1.1"/>
<path d="M173.6 1073.5q-0.7 -5.1 -2.2 -8.5" stroke="#a3d24a" stroke-width="1.1"/>
<path d="M106.6 1072.7q0.2 -9.0 0.8 -15.1" stroke="#96cc40" stroke-width="1.7"/>
<path d="M401.0 1072.0q-0.5 -7.6 -1.7 -12.6" stroke="#4f8a17" stroke-width="1.2"/>
<path d="M257.5 1072.9q1.9 -11.5 6.2 -19.2" stroke="#5d9b1c" stroke-width="1.4"/>
<path d="M242.0 1087.8q0.0 -9.0 0.1 -15.0" stroke="#a3d24a" stroke-width="1.7"/>
<path d="M103.5 1078.7q1.1 -9.0 3.8 -15.1" stroke="#7dbb2a" stroke-width="0.9"/>
<path d="M363.1 1071.8q0.8 -4.9 2.7 -8.2" stroke="#4f8a17" stroke-width="1.2"/>
<path d="M339.0 1071.1q0.0 -9.2 0.0 -15.3" stroke="#5d9b1c" stroke-width="1.1"/>
<path d="M363.4 1070.7q-0.4 -7.1 -1.4 -11.8" stroke="#3e6e14" stroke-width="1.3"/>
<path d="M446.3 1083.7q-1.5 -11.7 -5.1 -19.5" stroke="#5d9b1c" stroke-width="1.1"/>
<path d="M209.8 1084.2q-2.0 -10.2 -6.6 -17.0" stroke="#96cc40" stroke-width="1.1"/>
<path d="M419.2 1075.7q-1.6 -9.7 -5.4 -16.2" stroke="#4f8a17" stroke-width="1.5"/>
<path d="M67.6 1069.8q-0.8 -6.1 -2.8 -10.1" stroke="#7dbb2a" stroke-width="1.6"/>
<path d="M290.8 1081.0q-1.1 -12.1 -3.8 -20.2" stroke="#96cc40" stroke-width="1.5"/>
<path d="M161.1 1077.3q-2.1 -10.1 -7.0 -16.9" stroke="#5d9b1c" stroke-width="1.7"/>
<path d="M431.5 1080.1q0.8 -10.2 2.5 -17.0" stroke="#6fae1f" stroke-width="1.6"/>
<path d="M141.6 1086.4q-0.4 -14.5 -1.5 -24.2" stroke="#4f8a17" stroke-width="1.2"/>
<path d="M89.2 1087.0q0.8 -8.1 2.7 -13.5" stroke="#96cc40" stroke-width="1.4"/>
<path d="M345.0 1072.9q1.2 -10.1 3.9 -16.8" stroke="#96cc40" stroke-width="1.6"/>
<path d="M69.0 1082.4q0.2 -11.1 0.6 -18.5" stroke="#4f8a17" stroke-width="1.4"/>
<path d="M158.9 1070.1q-1.3 -7.6 -4.2 -12.7" stroke="#5d9b1c" stroke-width="1.0"/>
<path d="M349.2 1078.2q-2.1 -8.6 -6.9 -14.3" stroke="#96cc40" stroke-width="1.0"/>
<path d="M329.4 1082.3q0.4 -5.8 1.2 -9.7" stroke="#4f8a17" stroke-width="1.2"/>
<path d="M405.5 1079.4q0.7 -10.7 2.3 -17.9" stroke="#96cc40" stroke-width="1.7"/>
<path d="M227.1 1072.9q-1.9 -13.4 -6.4 -22.4" stroke="#5d9b1c" stroke-width="1.2"/>
<path d="M98.2 1074.9q-0.2 -12.3 -0.8 -20.5" stroke="#3e6e14" stroke-width="1.2"/>
<path d="M293.1 1069.9q-0.1 -8.5 -0.2 -14.1" stroke="#3e6e14" stroke-width="1.8"/>
<path d="M295.8 1071.1q-1.3 -8.6 -4.3 -14.4" stroke="#3e6e14" stroke-width="0.9"/>
<path d="M450.9 1081.2q0.6 -9.7 2.1 -16.2" stroke="#5d9b1c" stroke-width="1.5"/>
<path d="M84.1 1083.2q-1.5 -5.0 -5.0 -8.3" stroke="#3e6e14" stroke-width="1.1"/>
<path d="M328.2 1085.1q1.2 -12.0 4.0 -20.0" stroke="#5d9b1c" stroke-width="1.6"/>
<path d="M192.4 1072.5q-0.6 -11.2 -1.8 -18.7" stroke="#3e6e14" stroke-width="1.7"/>
<path d="M160.5 1070.1q1.8 -5.6 5.9 -9.4" stroke="#7dbb2a" stroke-width="1.7"/>
<path d="M462.0 1078.4q-0.8 -8.7 -2.8 -14.5" stroke="#8cc63a" stroke-width="1.0"/>
<path d="M149.2 1071.6q2.0 -9.8 6.7 -16.3" stroke="#96cc40" stroke-width="1.3"/>
<path d="M145.2 1076.1q1.4 -5.0 4.7 -8.4" stroke="#7dbb2a" stroke-width="1.0"/>
<path d="M81.4 1070.1q-1.8 -10.3 -6.1 -17.2" stroke="#6fae1f" stroke-width="1.5"/>
<path d="M410.2 1086.2q-0.2 -6.1 -0.8 -10.1" stroke="#3e6e14" stroke-width="1.4"/>
<path d="M254.4 1079.3q0.1 -8.8 0.5 -14.7" stroke="#a3d24a" stroke-width="1.8"/>
<path d="M469.4 1080.8q0.5 -15.0 1.5 -24.9" stroke="#5d9b1c" stroke-width="1.4"/>
<path d="M233.6 1076.0q1.5 -9.9 5.1 -16.5" stroke="#6fae1f" stroke-width="1.7"/>
<path d="M147.0 1083.1q0.3 -10.2 1.1 -17.0" stroke="#7dbb2a" stroke-width="1.2"/>
<path d="M154.7 1077.4q2.0 -6.8 6.6 -11.4" stroke="#4f8a17" stroke-width="1.4"/>
<path d="M99.0 1085.4q-1.0 -10.2 -3.5 -16.9" stroke="#96cc40" stroke-width="1.1"/>
<path d="M249.8 1079.3q1.7 -10.2 5.7 -17.1" stroke="#8cc63a" stroke-width="1.7"/>
<path d="M346.3 1084.2q0.0 -5.8 0.1 -9.7" stroke="#8cc63a" stroke-width="1.5"/>
<path d="M468.7 1078.8q0.2 -8.4 0.6 -14.0" stroke="#4f8a17" stroke-width="1.4"/>
<path d="M387.9 1071.6q-0.5 -13.4 -1.8 -22.3" stroke="#6fae1f" stroke-width="1.5"/>
<path d="M466.7 1077.7q1.7 -5.7 5.7 -9.6" stroke="#8cc63a" stroke-width="1.5"/>
<path d="M430.2 1079.7q-1.4 -12.0 -4.6 -19.9" stroke="#3e6e14" stroke-width="1.6"/>
<path d="M370.9 1069.2q0.1 -6.8 0.2 -11.3" stroke="#3e6e14" stroke-width="1.5"/>
<path d="M69.0 1080.5q1.3 -5.6 4.2 -9.3" stroke="#8cc63a" stroke-width="0.9"/>
<path d="M446.9 1073.6q-2.0 -7.6 -6.7 -12.6" stroke="#96cc40" stroke-width="1.0"/>
<path d="M59.1 1071.1q0.2 -11.0 0.8 -18.4" stroke="#5d9b1c" stroke-width="1.7"/>
<path d="M341.9 1084.9q2.1 -9.4 7.0 -15.6" stroke="#5d9b1c" stroke-width="1.8"/>
<path d="M56.0 1075.5q1.6 -6.0 5.2 -10.0" stroke="#6fae1f" stroke-width="1.0"/>
<path d="M320.5 1081.2q2.0 -9.5 6.5 -15.8" stroke="#96cc40" stroke-width="1.3"/>
<path d="M430.6 1080.6q-1.2 -5.4 -4.0 -9.0" stroke="#a3d24a" stroke-width="1.4"/>
<path d="M69.0 1072.2q0.3 -7.6 1.1 -12.7" stroke="#7dbb2a" stroke-width="1.7"/>
<path d="M187.1 1075.4q-1.1 -8.6 -3.5 -14.3" stroke="#6fae1f" stroke-width="1.5"/>
<path d="M367.0 1071.7q-0.6 -12.6 -2.0 -21.0" stroke="#a3d24a" stroke-width="1.8"/>
<path d="M64.9 1079.7q1.2 -10.8 3.8 -18.0" stroke="#8cc63a" stroke-width="1.2"/>
<path d="M172.8 1084.1q0.8 -11.6 2.5 -19.3" stroke="#5d9b1c" stroke-width="1.8"/>
<path d="M198.9 1075.9q1.6 -11.5 5.2 -19.1" stroke="#7dbb2a" stroke-width="1.2"/>
<path d="M357.0 1081.8q0.0 -11.7 0.1 -19.5" stroke="#4f8a17" stroke-width="1.6"/>
<path d="M484.5 1071.9q0.7 -6.4 2.4 -10.7" stroke="#7dbb2a" stroke-width="1.3"/>
<path d="M298.0 1074.7q-0.8 -8.8 -2.7 -14.7" stroke="#3e6e14" stroke-width="1.0"/>
<path d="M132.9 1086.6q-0.6 -9.4 -2.1 -15.6" stroke="#96cc40" stroke-width="1.2"/>
<path d="M387.7 1077.1q1.7 -14.8 5.6 -24.7" stroke="#5d9b1c" stroke-width="1.7"/>
<path d="M288.3 1083.4q-2.0 -9.7 -6.7 -16.1" stroke="#6fae1f" stroke-width="1.3"/>
<path d="M137.4 1080.5q-1.3 -11.5 -4.2 -19.2" stroke="#6fae1f" stroke-width="1.8"/>
<path d="M312.0 1070.5q-0.7 -11.1 -2.2 -18.5" stroke="#a3d24a" stroke-width="0.9"/>
<path d="M168.0 1081.2q-2.0 -4.9 -6.6 -8.2" stroke="#3e6e14" stroke-width="1.2"/>
<path d="M376.7 1081.3q-0.7 -8.0 -2.3 -13.3" stroke="#6fae1f" stroke-width="1.7"/>
<path d="M397.2 1070.7q2.0 -9.6 6.8 -16.0" stroke="#7dbb2a" stroke-width="1.1"/>
<path d="M252.0 1069.3q2.0 -12.0 6.8 -20.0" stroke="#6fae1f" stroke-width="1.3"/>
<path d="M359.6 1084.9q0.1 -8.5 0.4 -14.1" stroke="#8cc63a" stroke-width="1.2"/>
<path d="M207.7 1075.5q-1.5 -10.1 -4.9 -16.8" stroke="#3e6e14" stroke-width="1.1"/>
<path d="M319.7 1084.5q0.6 -12.3 2.1 -20.4" stroke="#96cc40" stroke-width="1.4"/>
<path d="M207.6 1079.1q0.2 -6.9 0.8 -11.6" stroke="#8cc63a" stroke-width="1.5"/>
<path d="M387.5 1075.9q1.1 -12.5 3.6 -20.9" stroke="#8cc63a" stroke-width="1.7"/>
<path d="M322.3 1071.3q1.2 -9.0 3.9 -15.1" stroke="#5d9b1c" stroke-width="1.7"/>
<path d="M209.4 1071.8q1.8 -6.2 5.9 -10.3" stroke="#a3d24a" stroke-width="1.4"/>
<path d="M203.0 1082.5q-1.2 -8.2 -4.0 -13.7" stroke="#3e6e14" stroke-width="1.7"/>
<path d="M219.6 1073.0q-2.0 -14.7 -6.8 -24.6" stroke="#7dbb2a" stroke-width="1.5"/>
<path d="M202.9 1073.3q-0.5 -7.7 -1.7 -12.9" stroke="#4f8a17" stroke-width="0.9"/>
<path d="M59.1 1082.5q-0.7 -6.7 -2.4 -11.1" stroke="#7dbb2a" stroke-width="1.5"/>
<path d="M180.1 1087.9q-1.4 -6.5 -4.8 -10.8" stroke="#5d9b1c" stroke-width="1.8"/>
<path d="M109.5 1074.7q-1.1 -9.9 -3.5 -16.5" stroke="#3e6e14" stroke-width="1.5"/>
<path d="M310.6 1077.6q-1.2 -9.3 -4.1 -15.5" stroke="#3e6e14" stroke-width="0.9"/>
<path d="M387.4 1077.3q1.8 -8.2 6.1 -13.7" stroke="#6fae1f" stroke-width="1.6"/>
<path d="M116.2 1086.3q0.0 -5.8 0.0 -9.7" stroke="#3e6e14" stroke-width="1.0"/>
<path d="M123.6 1082.0q1.8 -5.5 5.9 -9.2" stroke="#7dbb2a" stroke-width="1.7"/>
<path d="M477.1 1069.6q0.8 -6.6 2.7 -11.0" stroke="#6fae1f" stroke-width="1.0"/>
<path d="M309.5 1079.9q-1.9 -10.2 -6.3 -17.1" stroke="#3e6e14" stroke-width="1.0"/>
<path d="M98.1 1087.2q-2.1 -12.4 -7.0 -20.6" stroke="#4f8a17" stroke-width="1.5"/>
<path d="M114.5 1083.0q-0.0 -11.6 -0.1 -19.3" stroke="#8cc63a" stroke-width="1.2"/>
<path d="M143.8 1087.4q-1.0 -11.7 -3.2 -19.5" stroke="#a3d24a" stroke-width="0.9"/>
<path d="M167.3 1087.4q1.9 -10.5 6.3 -17.5" stroke="#5d9b1c" stroke-width="0.9"/>
<path d="M350.0 1081.4q0.8 -9.0 2.7 -15.1" stroke="#5d9b1c" stroke-width="1.3"/>
<path d="M188.8 1077.0q-0.5 -12.4 -1.6 -20.6" stroke="#7dbb2a" stroke-width="1.6"/>
<path d="M441.6 1081.1q2.1 -6.7 6.8 -11.1" stroke="#7dbb2a" stroke-width="1.8"/>
<path d="M409.9 1081.6q-2.0 -5.5 -6.5 -9.1" stroke="#6fae1f" stroke-width="1.3"/>
<path d="M293.5 1082.0q-0.2 -8.3 -0.6 -13.8" stroke="#6fae1f" stroke-width="1.3"/>
<path d="M332.2 1077.9q-0.5 -7.5 -1.7 -12.5" stroke="#7dbb2a" stroke-width="1.2"/>
<path d="M78.0 1087.5q1.4 -6.9 4.6 -11.5" stroke="#8cc63a" stroke-width="1.5"/>
<path d="M286.8 1073.2q1.7 -9.6 5.7 -16.0" stroke="#96cc40" stroke-width="1.7"/>
<path d="M201.6 1080.2q-1.8 -9.3 -6.1 -15.4" stroke="#3e6e14" stroke-width="1.4"/>
<path d="M280.0 1084.5q1.4 -6.7 4.5 -11.1" stroke="#96cc40" stroke-width="1.1"/>
<path d="M463.0 1085.3q-0.7 -9.9 -2.5 -16.5" stroke="#3e6e14" stroke-width="1.6"/>
<path d="M406.5 1071.3q-1.7 -6.0 -5.6 -10.0" stroke="#3e6e14" stroke-width="1.5"/>
<path d="M277.8 1074.7q-0.9 -10.0 -2.9 -16.6" stroke="#96cc40" stroke-width="1.5"/>
<path d="M245.9 1078.1q-1.5 -11.0 -4.9 -18.4" stroke="#a3d24a" stroke-width="1.2"/>
<path d="M277.0 1073.5q-0.5 -7.7 -1.7 -12.8" stroke="#6fae1f" stroke-width="1.4"/>
<path d="M50.4 1073.9q0.2 -9.4 0.6 -15.7" stroke="#3e6e14" stroke-width="1.1"/>
<path d="M165.7 1077.3q-1.7 -8.9 -5.8 -14.8" stroke="#a3d24a" stroke-width="1.3"/>
<path d="M395.4 1080.7q-0.6 -10.8 -1.9 -18.0" stroke="#5d9b1c" stroke-width="1.8"/>
<path d="M237.9 1080.5q1.5 -6.8 4.9 -11.3" stroke="#a3d24a" stroke-width="1.7"/>
<path d="M133.5 1087.5q0.7 -10.4 2.3 -17.3" stroke="#3e6e14" stroke-width="1.7"/>
<path d="M84.9 1077.5q1.8 -7.9 6.1 -13.1" stroke="#6fae1f" stroke-width="1.0"/>
<path d="M295.7 1086.8q2.1 -10.3 6.9 -17.1" stroke="#a3d24a" stroke-width="1.7"/>
<path d="M241.8 1078.3q0.7 -8.8 2.4 -14.7" stroke="#4f8a17" stroke-width="1.3"/>
<path d="M67.7 1081.9q1.1 -9.1 3.8 -15.2" stroke="#8cc63a" stroke-width="1.0"/>
<path d="M419.7 1079.8q1.5 -4.9 4.9 -8.2" stroke="#4f8a17" stroke-width="1.4"/>
<path d="M74.0 1081.9q-1.9 -10.3 -6.2 -17.2" stroke="#7dbb2a" stroke-width="1.7"/>
<path d="M111.1 1076.7q-0.8 -5.2 -2.5 -8.7" stroke="#4f8a17" stroke-width="1.4"/>
<path d="M52.6 1087.8q-0.8 -6.9 -2.6 -11.6" stroke="#5d9b1c" stroke-width="1.5"/>
<path d="M180.3 1076.5q-0.8 -11.7 -2.7 -19.5" stroke="#4f8a17" stroke-width="1.7"/>
<path d="M399.7 1085.3q-1.9 -6.8 -6.3 -11.3" stroke="#3e6e14" stroke-width="1.7"/>
<path d="M336.2 1082.5q-0.7 -5.9 -2.2 -9.8" stroke="#96cc40" stroke-width="1.7"/>
<path d="M292.5 1070.0q-0.4 -7.3 -1.3 -12.1" stroke="#3e6e14" stroke-width="0.9"/>
<path d="M145.8 1077.3q2.0 -6.4 6.6 -10.6" stroke="#96cc40" stroke-width="1.3"/>
<path d="M367.3 1072.9q1.5 -6.4 5.0 -10.6" stroke="#8cc63a" stroke-width="0.9"/>
<path d="M426.1 1070.4q1.8 -9.5 5.9 -15.8" stroke="#a3d24a" stroke-width="1.3"/>
<path d="M343.8 1081.8q1.4 -7.1 4.7 -11.8" stroke="#a3d24a" stroke-width="1.6"/>
<path d="M361.9 1078.8q-1.7 -8.4 -5.7 -14.1" stroke="#6fae1f" stroke-width="1.3"/>
<path d="M337.3 1073.9q-1.4 -11.9 -4.8 -19.8" stroke="#6fae1f" stroke-width="1.7"/>
<path d="M108.2 1072.0q1.6 -8.3 5.2 -13.8" stroke="#3e6e14" stroke-width="1.5"/>
<path d="M363.6 1074.9q-1.2 -6.8 -4.0 -11.4" stroke="#4f8a17" stroke-width="1.3"/>
<path d="M64.4 1076.2q0.2 -9.8 0.6 -16.3" stroke="#8cc63a" stroke-width="1.1"/>
<path d="M114.9 1072.5q-1.9 -7.4 -6.5 -12.3" stroke="#3e6e14" stroke-width="1.0"/>
<path d="M452.6 1087.9q-0.9 -12.1 -2.9 -20.2" stroke="#3e6e14" stroke-width="0.9"/>
<path d="M390.7 1085.9q-0.9 -11.9 -3.1 -19.9" stroke="#5d9b1c" stroke-width="1.4"/>
<path d="M285.8 1070.7q1.7 -5.9 5.5 -9.8" stroke="#4f8a17" stroke-width="1.4"/>
<path d="M180.7 1080.0q-1.5 -8.0 -4.9 -13.3" stroke="#5d9b1c" stroke-width="0.9"/>
<path d="M195.2 1077.5q-1.3 -6.7 -4.5 -11.2" stroke="#5d9b1c" stroke-width="1.6"/>
<path d="M365.5 1077.6q-0.4 -12.9 -1.5 -21.5" stroke="#6fae1f" stroke-width="0.9"/>
<path d="M273.8 1070.8q0.3 -9.8 1.1 -16.4" stroke="#3e6e14" stroke-width="1.0"/>
<path d="M367.2 1083.0q-1.7 -7.6 -5.7 -12.7" stroke="#6fae1f" stroke-width="1.7"/>
<path d="M430.8 1078.1q-1.6 -10.4 -5.4 -17.3" stroke="#96cc40" stroke-width="1.1"/>
<path d="M285.9 1075.2q-1.9 -6.7 -6.4 -11.2" stroke="#5d9b1c" stroke-width="1.2"/>
<path d="M136.2 1076.7q-1.1 -6.4 -3.6 -10.6" stroke="#4f8a17" stroke-width="1.7"/>
<path d="M56.6 1086.9q0.3 -8.6 1.0 -14.3" stroke="#4f8a17" stroke-width="1.0"/>
<path d="M124.7 1085.0q0.5 -12.6 1.7 -21.0" stroke="#8cc63a" stroke-width="1.2"/>
<path d="M438.3 1070.6q0.4 -9.3 1.3 -15.5" stroke="#6fae1f" stroke-width="1.6"/>
<path d="M81.9 1075.4q1.1 -5.6 3.8 -9.3" stroke="#a3d24a" stroke-width="1.6"/>
<path d="M199.1 1084.4q-2.1 -8.4 -6.8 -14.0" stroke="#7dbb2a" stroke-width="1.6"/>
<path d="M64.1 1084.0q-1.4 -6.0 -4.7 -9.9" stroke="#3e6e14" stroke-width="1.6"/>
<path d="M138.8 1086.6q-1.8 -10.2 -6.1 -16.9" stroke="#6fae1f" stroke-width="1.6"/>
<path d="M259.2 1078.4q1.1 -10.9 3.5 -18.1" stroke="#8cc63a" stroke-width="1.1"/>
<path d="M322.6 1085.1q-0.6 -14.9 -2.1 -24.8" stroke="#a3d24a" stroke-width="1.6"/>
<path d="M264.8 1083.7q0.8 -8.7 2.7 -14.5" stroke="#5d9b1c" stroke-width="1.7"/>
<path d="M374.8 1084.8q-0.3 -11.1 -0.9 -18.4" stroke="#5d9b1c" stroke-width="1.6"/>
<path d="M308.8 1081.4q1.3 -13.9 4.2 -23.1" stroke="#4f8a17" stroke-width="1.1"/>
<path d="M306.2 1079.7q1.8 -11.6 6.1 -19.4" stroke="#6fae1f" stroke-width="1.3"/>
<path d="M391.8 1084.1q1.4 -10.1 4.6 -16.9" stroke="#7dbb2a" stroke-width="1.8"/>
<path d="M149.6 1081.8q1.7 -11.0 5.7 -18.3" stroke="#7dbb2a" stroke-width="1.6"/>
<path d="M52.0 1078.3q-0.3 -9.2 -1.1 -15.3" stroke="#5d9b1c" stroke-width="1.3"/>
<path d="M196.2 1073.1q0.5 -7.6 1.7 -12.6" stroke="#5d9b1c" stroke-width="1.2"/>
<path d="M482.7 1072.6q0.2 -11.7 0.5 -19.6" stroke="#4f8a17" stroke-width="1.0"/>
<path d="M347.8 1069.8q-1.0 -11.2 -3.2 -18.7" stroke="#a3d24a" stroke-width="1.2"/>
<path d="M147.8 1085.9q-0.4 -9.6 -1.5 -15.9" stroke="#96cc40" stroke-width="1.2"/>
<path d="M432.0 1084.0q2.0 -9.5 6.6 -15.9" stroke="#7dbb2a" stroke-width="1.4"/>
<path d="M50.2 1072.3q1.3 -12.2 4.3 -20.3" stroke="#5d9b1c" stroke-width="1.6"/>
<path d="M344.8 1087.7q0.7 -10.5 2.3 -17.5" stroke="#a3d24a" stroke-width="1.7"/>
<path d="M439.7 1081.7q-0.2 -5.4 -0.8 -9.0" stroke="#5d9b1c" stroke-width="1.2"/>
<path d="M338.3 1081.0q0.7 -7.7 2.5 -12.9" stroke="#96cc40" stroke-width="1.3"/>
<path d="M351.5 1069.3q-1.6 -11.6 -5.3 -19.4" stroke="#7dbb2a" stroke-width="1.3"/>
<path d="M377.5 1085.9q-2.0 -10.5 -6.5 -17.5" stroke="#3e6e14" stroke-width="1.3"/>
<path d="M53.1 1086.8q1.8 -6.9 5.9 -11.5" stroke="#6fae1f" stroke-width="1.8"/>
<path d="M125.7 1080.2q-1.1 -12.5 -3.6 -20.8" stroke="#6fae1f" stroke-width="1.3"/>
<path d="M476.5 1081.3q-0.5 -11.1 -1.7 -18.5" stroke="#3e6e14" stroke-width="1.5"/>
<path d="M171.0 1072.1q1.2 -9.3 4.1 -15.5" stroke="#3e6e14" stroke-width="1.7"/>
<path d="M137.5 1084.3q0.1 -5.3 0.3 -8.8" stroke="#5d9b1c" stroke-width="1.7"/>
<path d="M306.1 1087.5q0.8 -10.9 2.7 -18.1" stroke="#5d9b1c" stroke-width="1.2"/>
<path d="M461.5 1072.7q-1.6 -7.3 -5.5 -12.2" stroke="#5d9b1c" stroke-width="1.2"/>
<path d="M189.4 1084.1q0.5 -13.1 1.7 -21.8" stroke="#7dbb2a" stroke-width="1.5"/>
<path d="M389.5 1075.0q-0.1 -6.0 -0.4 -10.0" stroke="#7dbb2a" stroke-width="1.6"/>
<path d="M170.1 1075.9q-0.9 -12.0 -3.0 -19.9" stroke="#8cc63a" stroke-width="1.1"/>
<path d="M386.3 1069.8q-0.6 -11.2 -2.0 -18.7" stroke="#3e6e14" stroke-width="1.1"/>
<path d="M156.1 1070.3q0.7 -9.1 2.5 -15.1" stroke="#7dbb2a" stroke-width="1.7"/>
<path d="M360.3 1086.7q0.9 -6.1 3.1 -10.2" stroke="#8cc63a" stroke-width="1.6"/>
<path d="M222.0 1086.9q-0.5 -10.6 -1.5 -17.7" stroke="#3e6e14" stroke-width="1.2"/>
<path d="M131.0 1085.6q0.7 -8.9 2.4 -14.9" stroke="#5d9b1c" stroke-width="1.0"/>
<path d="M197.7 1070.3q1.5 -8.0 4.9 -13.4" stroke="#4f8a17" stroke-width="1.4"/>
<path d="M226.0 1079.9q1.2 -6.9 4.0 -11.6" stroke="#a3d24a" stroke-width="1.0"/>
<path d="M342.8 1083.3q1.7 -8.7 5.6 -14.5" stroke="#7dbb2a" stroke-width="1.7"/>
<path d="M107.2 1082.4q-0.9 -10.3 -3.1 -17.1" stroke="#8cc63a" stroke-width="1.6"/>
<path d="M313.7 1078.7q-0.8 -9.5 -2.7 -15.9" stroke="#3e6e14" stroke-width="1.5"/>
<path d="M475.0 1084.2q-1.8 -7.6 -6.0 -12.7" stroke="#3e6e14" stroke-width="1.1"/>
<path d="M249.6 1083.5q2.0 -8.3 6.7 -13.8" stroke="#6fae1f" stroke-width="0.9"/>
<path d="M410.7 1071.1q-0.7 -6.6 -2.2 -10.9" stroke="#3e6e14" stroke-width="1.4"/>
<path d="M150.4 1079.6q2.0 -11.2 6.6 -18.7" stroke="#6fae1f" stroke-width="1.1"/>
<path d="M125.4 1084.4q1.9 -6.9 6.4 -11.5" stroke="#5d9b1c" stroke-width="1.6"/>
<path d="M305.0 1076.6q-1.1 -8.8 -3.8 -14.7" stroke="#6fae1f" stroke-width="1.6"/>
<path d="M469.1 1075.3q-1.5 -15.7 -5.1 -26.2" stroke="#96cc40" stroke-width="1.8"/>
<path d="M433.8 1080.7q-1.6 -6.3 -5.4 -10.5" stroke="#a3d24a" stroke-width="1.2"/>
<path d="M134.7 1083.0q-1.3 -8.8 -4.2 -14.7" stroke="#4f8a17" stroke-width="1.6"/>
<path d="M137.7 1083.4q1.2 -11.3 4.0 -18.9" stroke="#6fae1f" stroke-width="1.7"/>
<path d="M365.0 1082.7q-2.0 -5.3 -6.8 -8.8" stroke="#5d9b1c" stroke-width="1.4"/>
<path d="M323.6 1079.7q-1.7 -7.3 -5.5 -12.1" stroke="#a3d24a" stroke-width="1.5"/>
<path d="M233.6 1069.6q-0.7 -10.4 -2.2 -17.3" stroke="#a3d24a" stroke-width="1.2"/>
<path d="M435.5 1078.2q-0.8 -5.4 -2.5 -9.1" stroke="#a3d24a" stroke-width="1.7"/>
<path d="M280.3 1073.8q0.7 -7.8 2.2 -13.1" stroke="#4f8a17" stroke-width="1.5"/>
<path d="M462.2 1087.6q-0.5 -8.2 -1.6 -13.7" stroke="#7dbb2a" stroke-width="1.0"/>
<path d="M55.6 1073.1q-2.1 -9.4 -6.9 -15.6" stroke="#8cc63a" stroke-width="1.3"/>
<path d="M68.9 1085.9q0.5 -11.7 1.7 -19.6" stroke="#96cc40" stroke-width="1.3"/>
<path d="M328.8 1072.9q-0.5 -6.7 -1.6 -11.2" stroke="#8cc63a" stroke-width="1.0"/>
<path d="M432.6 1087.0q1.8 -8.2 5.9 -13.7" stroke="#96cc40" stroke-width="1.6"/>
<path d="M298.6 1082.7q0.6 -11.5 2.1 -19.2" stroke="#4f8a17" stroke-width="1.5"/>
<path d="M254.7 1085.7q-0.5 -12.8 -1.7 -21.4" stroke="#4f8a17" stroke-width="1.6"/>
<path d="M437.7 1069.1q-1.2 -9.2 -3.9 -15.4" stroke="#6fae1f" stroke-width="1.1"/>
<path d="M445.9 1072.8q-0.4 -4.8 -1.4 -8.0" stroke="#4f8a17" stroke-width="1.6"/>
<path d="M69.3 1079.6q-1.9 -9.3 -6.4 -15.5" stroke="#96cc40" stroke-width="0.9"/>
<path d="M380.1 1071.0q-1.3 -12.4 -4.4 -20.7" stroke="#a3d24a" stroke-width="1.5"/>
<path d="M190.9 1078.7q1.6 -12.3 5.3 -20.4" stroke="#8cc63a" stroke-width="1.7"/>
<path d="M292.4 1084.6q0.4 -8.7 1.3 -14.5" stroke="#8cc63a" stroke-width="1.5"/>
<path d="M338.4 1080.7q0.3 -8.4 0.8 -13.9" stroke="#4f8a17" stroke-width="0.9"/>
<path d="M411.7 1084.4q0.6 -8.4 2.1 -14.0" stroke="#4f8a17" stroke-width="1.5"/>
<path d="M478.7 1080.6q0.7 -5.5 2.5 -9.1" stroke="#8cc63a" stroke-width="1.6"/>
<path d="M420.5 1085.1q-0.8 -5.6 -2.8 -9.3" stroke="#5d9b1c" stroke-width="1.0"/>
<path d="M314.4 1087.6q-1.6 -12.8 -5.4 -21.4" stroke="#4f8a17" stroke-width="1.4"/>
<path d="M248.7 1076.7q1.7 -9.6 5.8 -15.9" stroke="#8cc63a" stroke-width="1.7"/>
<path d="M415.0 1082.6q1.5 -5.0 4.9 -8.4" stroke="#7dbb2a" stroke-width="1.6"/>
<path d="M73.9 1080.8q-1.5 -7.1 -5.1 -11.8" stroke="#5d9b1c" stroke-width="1.7"/>
<path d="M62.4 1076.3q1.9 -6.1 6.3 -10.1" stroke="#96cc40" stroke-width="1.6"/>
<path d="M414.9 1087.9q-1.1 -10.7 -3.5 -17.8" stroke="#7dbb2a" stroke-width="1.4"/>
<path d="M198.6 1079.3q-2.1 -7.6 -7.0 -12.6" stroke="#4f8a17" stroke-width="1.7"/>
<path d="M396.4 1079.1q-0.8 -5.6 -2.6 -9.4" stroke="#3e6e14" stroke-width="1.2"/>
<path d="M284.3 1087.3q0.6 -6.1 2.1 -10.1" stroke="#4f8a17" stroke-width="1.7"/>
<path d="M227.7 1086.4q-1.7 -10.2 -5.7 -17.0" stroke="#4f8a17" stroke-width="1.1"/>
<path d="M379.2 1085.8q-1.6 -10.4 -5.3 -17.3" stroke="#a3d24a" stroke-width="1.4"/>
<path d="M317.8 1072.2q-0.5 -12.2 -1.5 -20.3" stroke="#3e6e14" stroke-width="1.1"/>
<path d="M62.1 1082.1q2.0 -6.4 6.5 -10.7" stroke="#a3d24a" stroke-width="1.5"/>
<path d="M310.7 1082.2q-2.0 -9.2 -6.8 -15.3" stroke="#3e6e14" stroke-width="1.0"/>
<path d="M293.0 1082.7q1.6 -9.9 5.3 -16.4" stroke="#96cc40" stroke-width="1.1"/>
<path d="M93.6 1074.8q-0.2 -8.0 -0.8 -13.3" stroke="#8cc63a" stroke-width="1.7"/>
<path d="M250.8 1075.1q1.2 -6.4 4.0 -10.7" stroke="#8cc63a" stroke-width="1.7"/>
<path d="M400.1 1081.7q1.7 -9.3 5.7 -15.6" stroke="#a3d24a" stroke-width="1.6"/>
<path d="M338.5 1074.9q1.4 -10.1 4.7 -16.8" stroke="#6fae1f" stroke-width="1.2"/>
<path d="M334.4 1079.8q1.5 -8.4 4.9 -14.0" stroke="#a3d24a" stroke-width="1.7"/>
<path d="M204.9 1079.3q1.0 -6.2 3.3 -10.3" stroke="#3e6e14" stroke-width="1.2"/>
<path d="M278.0 1071.1q-0.9 -6.7 -3.0 -11.2" stroke="#7dbb2a" stroke-width="1.7"/>
<path d="M63.1 1081.3q1.5 -11.7 4.9 -19.5" stroke="#4f8a17" stroke-width="1.5"/>
<path d="M255.7 1085.5q1.4 -5.2 4.7 -8.7" stroke="#4f8a17" stroke-width="1.2"/>
<path d="M256.0 1078.3q-0.0 -5.7 -0.1 -9.4" stroke="#7dbb2a" stroke-width="1.0"/>
<path d="M259.1 1072.3q-1.6 -6.6 -5.3 -11.0" stroke="#8cc63a" stroke-width="1.1"/>
<path d="M243.5 1073.5q-0.1 -10.8 -0.2 -17.9" stroke="#4f8a17" stroke-width="1.4"/>
<path d="M429.4 1087.3q0.1 -16.1 0.3 -26.9" stroke="#4f8a17" stroke-width="1.4"/>
<path d="M272.6 1075.0q-0.1 -5.6 -0.4 -9.3" stroke="#96cc40" stroke-width="1.6"/>
<path d="M107.4 1084.3q1.2 -12.4 4.0 -20.6" stroke="#8cc63a" stroke-width="1.0"/>
<path d="M479.1 1078.2q0.1 -10.0 0.2 -16.6" stroke="#6fae1f" stroke-width="1.5"/>
<path d="M349.5 1069.6q0.7 -9.9 2.3 -16.4" stroke="#a3d24a" stroke-width="1.5"/>
<path d="M113.2 1084.3q1.5 -12.2 5.0 -20.3" stroke="#3e6e14" stroke-width="1.5"/>
<path d="M333.8 1082.3q0.9 -4.9 3.1 -8.2" stroke="#96cc40" stroke-width="1.1"/>
<path d="M65.7 1077.3q1.0 -5.9 3.5 -9.8" stroke="#4f8a17" stroke-width="1.7"/>
<path d="M225.3 1081.9q-1.1 -4.9 -3.7 -8.2" stroke="#96cc40" stroke-width="1.2"/>
<path d="M422.0 1083.1q1.7 -10.0 5.7 -16.7" stroke="#4f8a17" stroke-width="1.7"/>
<path d="M138.0 1088.0q1.9 -8.4 6.5 -13.9" stroke="#3e6e14" stroke-width="0.9"/>
<path d="M127.4 1076.8q1.1 -10.3 3.8 -17.2" stroke="#4f8a17" stroke-width="1.6"/>
<path d="M50.1 1080.5q0.3 -6.8 0.9 -11.4" stroke="#7dbb2a" stroke-width="1.0"/>
<path d="M154.8 1071.3q-1.5 -12.3 -5.1 -20.5" stroke="#a3d24a" stroke-width="1.4"/>
<path d="M436.5 1070.1q0.4 -6.6 1.2 -11.0" stroke="#96cc40" stroke-width="1.6"/>
<path d="M160.4 1079.8q1.0 -6.5 3.4 -10.9" stroke="#7dbb2a" stroke-width="1.0"/>
<path d="M239.9 1084.6q-1.8 -12.3 -6.0 -20.6" stroke="#a3d24a" stroke-width="1.7"/>
<path d="M233.2 1079.1q0.6 -11.4 2.1 -19.0" stroke="#8cc63a" stroke-width="1.3"/>
<path d="M267.8 1079.1q0.1 -10.1 0.3 -16.8" stroke="#4f8a17" stroke-width="1.3"/>
<path d="M308.2 1073.8q1.9 -7.8 6.4 -13.0" stroke="#4f8a17" stroke-width="1.3"/>
<path d="M466.9 1073.9q-1.9 -11.2 -6.2 -18.7" stroke="#96cc40" stroke-width="1.1"/>
<path d="M193.1 1086.5q1.1 -8.3 3.7 -13.8" stroke="#a3d24a" stroke-width="1.3"/>
<path d="M191.4 1087.5q0.2 -17.1 0.6 -28.6" stroke="#7dbb2a" stroke-width="1.8"/>
<path d="M442.4 1073.4q0.7 -10.5 2.3 -17.6" stroke="#3e6e14" stroke-width="1.0"/>
<path d="M147.0 1073.1q-0.4 -9.1 -1.3 -15.1" stroke="#7dbb2a" stroke-width="1.5"/>
<path d="M254.7 1077.6q-0.7 -7.4 -2.2 -12.3" stroke="#7dbb2a" stroke-width="1.2"/>
<path d="M403.8 1082.2q-0.4 -10.1 -1.5 -16.8" stroke="#8cc63a" stroke-width="1.8"/>
<path d="M384.3 1084.9q0.9 -9.8 2.9 -16.3" stroke="#4f8a17" stroke-width="1.2"/>
<path d="M420.7 1081.3q0.7 -9.2 2.3 -15.4" stroke="#6fae1f" stroke-width="1.1"/>
<path d="M56.5 1079.2q-1.8 -10.5 -6.0 -17.4" stroke="#6fae1f" stroke-width="1.7"/>
<path d="M87.4 1073.7q1.7 -6.2 5.6 -10.3" stroke="#4f8a17" stroke-width="0.9"/>
<path d="M99.8 1086.8q-0.7 -12.4 -2.3 -20.6" stroke="#3e6e14" stroke-width="1.2"/>
<path d="M232.0 1078.1q-1.4 -8.9 -4.7 -14.8" stroke="#8cc63a" stroke-width="1.0"/>
<path d="M72.8 1087.5q-0.7 -5.8 -2.4 -9.7" stroke="#96cc40" stroke-width="1.0"/>
<path d="M313.9 1087.8q1.4 -11.1 4.7 -18.5" stroke="#7dbb2a" stroke-width="1.2"/>
<path d="M362.6 1073.4q-1.7 -11.0 -5.7 -18.4" stroke="#a3d24a" stroke-width="1.1"/>
<path d="M358.6 1084.3q-1.7 -11.0 -5.7 -18.3" stroke="#96cc40" stroke-width="1.4"/>
<path d="M110.3 1072.7q-1.1 -13.0 -3.6 -21.7" stroke="#5d9b1c" stroke-width="1.4"/>
<path d="M277.5 1075.3q-2.0 -5.2 -6.7 -8.7" stroke="#5d9b1c" stroke-width="1.1"/>
<path d="M363.0 1077.6q2.0 -6.3 6.8 -10.5" stroke="#5d9b1c" stroke-width="1.0"/>
<path d="M77.0 1077.8q0.8 -7.4 2.5 -12.4" stroke="#5d9b1c" stroke-width="1.3"/>
<path d="M278.0 1074.8q-0.9 -10.8 -2.9 -18.1" stroke="#3e6e14" stroke-width="1.4"/>
<path d="M115.9 1086.7q-1.3 -11.6 -4.2 -19.4" stroke="#8cc63a" stroke-width="1.6"/>
<path d="M363.2 1085.5q-0.8 -10.1 -2.6 -16.9" stroke="#8cc63a" stroke-width="1.0"/>
<path d="M80.5 1076.4q0.7 -8.6 2.4 -14.3" stroke="#4f8a17" stroke-width="1.3"/>
<path d="M421.6 1086.8q0.1 -8.1 0.5 -13.4" stroke="#3e6e14" stroke-width="1.5"/>
<path d="M95.8 1077.7q-1.9 -9.8 -6.5 -16.3" stroke="#a3d24a" stroke-width="1.0"/>
<path d="M348.2 1069.7q0.7 -9.9 2.2 -16.5" stroke="#3e6e14" stroke-width="1.3"/>
<path d="M87.4 1076.5q-1.9 -5.5 -6.3 -9.2" stroke="#5d9b1c" stroke-width="1.7"/>
<path d="M342.3 1079.1q1.3 -10.3 4.5 -17.1" stroke="#7dbb2a" stroke-width="1.1"/>
<path d="M125.7 1083.5q-1.6 -8.1 -5.3 -13.5" stroke="#4f8a17" stroke-width="1.3"/>
<path d="M290.6 1070.7q0.9 -12.2 3.1 -20.3" stroke="#7dbb2a" stroke-width="1.3"/>
<path d="M467.0 1080.5q0.9 -7.1 3.0 -11.8" stroke="#a3d24a" stroke-width="1.6"/>
<path d="M449.2 1078.3q1.3 -11.6 4.2 -19.3" stroke="#6fae1f" stroke-width="1.1"/>
<path d="M254.6 1087.8q-0.8 -6.0 -2.5 -9.9" stroke="#a3d24a" stroke-width="1.6"/>
<path d="M420.0 1082.0q-1.1 -11.7 -3.8 -19.6" stroke="#3e6e14" stroke-width="0.9"/>
<path d="M382.9 1080.5q-0.7 -11.8 -2.4 -19.7" stroke="#3e6e14" stroke-width="1.6"/>
<path d="M166.0 1076.0q-0.5 -7.7 -1.7 -12.9" stroke="#8cc63a" stroke-width="1.7"/>
<path d="M55.5 1081.8q0.3 -10.7 0.9 -17.8" stroke="#4f8a17" stroke-width="1.6"/>
<path d="M330.9 1070.0q-1.5 -11.7 -4.9 -19.6" stroke="#5d9b1c" stroke-width="1.1"/>
<path d="M336.0 1076.2q0.2 -11.3 0.5 -18.9" stroke="#3e6e14" stroke-width="1.5"/>
<path d="M73.9 1086.0q1.2 -6.1 3.8 -10.2" stroke="#6fae1f" stroke-width="1.6"/>
<path d="M417.4 1087.6q-0.2 -12.2 -0.5 -20.3" stroke="#4f8a17" stroke-width="1.6"/>
<path d="M207.4 1070.2q1.7 -5.7 5.6 -9.5" stroke="#6fae1f" stroke-width="1.1"/>
<path d="M80.8 1070.3q-0.2 -10.6 -0.5 -17.6" stroke="#7dbb2a" stroke-width="1.2"/>
<path d="M257.8 1076.2q0.3 -9.8 1.1 -16.3" stroke="#3e6e14" stroke-width="1.7"/>
<path d="M369.9 1074.9q-1.7 -11.6 -5.5 -19.4" stroke="#8cc63a" stroke-width="1.3"/>
<path d="M231.6 1085.7q-0.6 -10.0 -1.9 -16.7" stroke="#3e6e14" stroke-width="1.7"/>
<path d="M337.2 1085.4q-0.2 -9.9 -0.5 -16.5" stroke="#7dbb2a" stroke-width="0.9"/>
<path d="M107.1 1088.0q0.1 -6.2 0.2 -10.4" stroke="#3e6e14" stroke-width="1.0"/>
<path d="M396.1 1080.5q1.9 -5.3 6.2 -8.8" stroke="#7dbb2a" stroke-width="1.0"/>
<path d="M327.7 1070.5q2.1 -8.1 6.9 -13.4" stroke="#a3d24a" stroke-width="1.3"/>
<path d="M378.0 1069.2q-0.5 -11.6 -1.7 -19.3" stroke="#a3d24a" stroke-width="1.1"/>
<path d="M446.8 1079.5q-0.6 -10.7 -1.9 -17.9" stroke="#6fae1f" stroke-width="1.1"/>
<path d="M60.2 1078.5q1.9 -11.8 6.4 -19.7" stroke="#96cc40" stroke-width="1.7"/>
<path d="M294.1 1071.7q-0.3 -9.7 -1.1 -16.2" stroke="#5d9b1c" stroke-width="1.4"/>
<path d="M151.9 1073.1q1.3 -13.8 4.2 -23.0" stroke="#a3d24a" stroke-width="1.6"/>
<path d="M153.4 1073.9q0.4 -8.8 1.4 -14.7" stroke="#4f8a17" stroke-width="1.8"/>
<path d="M364.6 1071.1q-1.2 -8.4 -4.0 -14.0" stroke="#7dbb2a" stroke-width="1.7"/>
<path d="M72.9 1086.9q1.2 -10.3 4.2 -17.1" stroke="#7dbb2a" stroke-width="1.0"/>
<path d="M250.5 1081.1q1.1 -12.6 3.7 -21.0" stroke="#4f8a17" stroke-width="1.8"/>
<path d="M149.3 1085.5q-0.8 -7.6 -2.7 -12.6" stroke="#4f8a17" stroke-width="1.3"/>
<path d="M112.2 1080.2q-0.3 -5.8 -1.2 -9.6" stroke="#96cc40" stroke-width="1.6"/>
<path d="M308.1 1078.0q-0.1 -7.0 -0.4 -11.6" stroke="#a3d24a" stroke-width="1.4"/>
<path d="M151.6 1075.7q1.0 -9.9 3.3 -16.5" stroke="#3e6e14" stroke-width="1.2"/>
<path d="M351.1 1076.4q0.3 -6.0 1.0 -10.0" stroke="#6fae1f" stroke-width="0.9"/>
<path d="M392.0 1078.1q0.7 -8.8 2.5 -14.6" stroke="#7dbb2a" stroke-width="1.5"/>
<path d="M118.2 1081.4q0.5 -14.5 1.8 -24.1" stroke="#7dbb2a" stroke-width="1.6"/>
<path d="M307.3 1081.9q0.2 -7.5 0.7 -12.4" stroke="#7dbb2a" stroke-width="1.5"/>
<path d="M174.5 1071.6q0.5 -11.9 1.6 -19.8" stroke="#96cc40" stroke-width="1.3"/>
<path d="M169.8 1078.9q1.2 -5.0 4.1 -8.3" stroke="#3e6e14" stroke-width="1.5"/>
<path d="M257.9 1075.3q1.2 -7.8 4.0 -13.0" stroke="#5d9b1c" stroke-width="0.9"/>
<path d="M398.8 1070.3q-2.0 -11.1 -6.8 -18.5" stroke="#3e6e14" stroke-width="1.2"/>
<path d="M265.8 1086.8q1.0 -10.2 3.3 -17.0" stroke="#a3d24a" stroke-width="1.0"/>
<path d="M149.4 1070.1q0.9 -6.9 3.1 -11.4" stroke="#8cc63a" stroke-width="1.8"/>
<path d="M290.2 1086.5q-0.3 -5.5 -0.9 -9.2" stroke="#4f8a17" stroke-width="0.9"/>
<path d="M266.6 1082.9q0.9 -8.1 2.9 -13.5" stroke="#a3d24a" stroke-width="1.4"/>
<path d="M475.9 1069.7q-2.0 -5.2 -6.7 -8.7" stroke="#a3d24a" stroke-width="1.0"/>
<path d="M120.6 1072.4q2.0 -9.6 6.6 -15.9" stroke="#3e6e14" stroke-width="1.0"/>
<path d="M423.7 1075.2q-0.1 -8.0 -0.2 -13.3" stroke="#6fae1f" stroke-width="1.8"/>
<path d="M357.8 1072.3q-0.6 -6.2 -2.1 -10.3" stroke="#6fae1f" stroke-width="1.3"/>
<path d="M321.3 1086.2q1.6 -10.9 5.4 -18.2" stroke="#6fae1f" stroke-width="1.3"/>
<path d="M434.3 1080.4q1.9 -7.4 6.2 -12.4" stroke="#6fae1f" stroke-width="1.7"/>
<path d="M294.5 1071.7q0.8 -6.2 2.7 -10.3" stroke="#6fae1f" stroke-width="1.4"/>
<path d="M452.3 1082.3q-0.6 -12.1 -1.9 -20.2" stroke="#4f8a17" stroke-width="1.4"/>
<path d="M367.6 1076.8q1.8 -12.3 6.0 -20.5" stroke="#a3d24a" stroke-width="1.2"/>
<path d="M214.2 1074.1q1.2 -11.8 4.0 -19.7" stroke="#6fae1f" stroke-width="1.8"/>
<path d="M350.0 1075.0q0.5 -10.7 1.6 -17.8" stroke="#a3d24a" stroke-width="1.4"/>
<path d="M288.1 1087.1q-0.0 -11.5 -0.1 -19.2" stroke="#6fae1f" stroke-width="1.0"/>
<path d="M381.8 1079.9q-0.3 -11.9 -1.0 -19.8" stroke="#6fae1f" stroke-width="1.0"/>
<path d="M388.8 1071.0q-0.2 -11.4 -0.8 -19.0" stroke="#5d9b1c" stroke-width="1.0"/>
<path d="M245.7 1076.0q-0.8 -5.1 -2.8 -8.5" stroke="#8cc63a" stroke-width="1.5"/>
<path d="M171.2 1076.0q2.1 -12.0 7.0 -20.0" stroke="#7dbb2a" stroke-width="1.6"/>
<path d="M352.0 1081.3q-0.8 -7.0 -2.6 -11.6" stroke="#96cc40" stroke-width="1.8"/>
<path d="M70.2 1084.9q0.4 -11.1 1.4 -18.5" stroke="#a3d24a" stroke-width="1.2"/>
<path d="M421.2 1085.3q-0.2 -6.8 -0.8 -11.4" stroke="#6fae1f" stroke-width="1.0"/>
<path d="M421.2 1086.0q-0.1 -5.1 -0.4 -8.4" stroke="#8cc63a" stroke-width="1.6"/>
<path d="M199.6 1086.7q1.3 -6.2 4.4 -10.4" stroke="#8cc63a" stroke-width="1.5"/>
<path d="M415.5 1073.9q-1.2 -6.1 -3.9 -10.1" stroke="#4f8a17" stroke-width="1.1"/>
<path d="M447.9 1073.2q2.0 -11.9 6.6 -19.8" stroke="#8cc63a" stroke-width="1.5"/>
<path d="M282.4 1085.2q1.3 -12.8 4.3 -21.3" stroke="#6fae1f" stroke-width="1.6"/>
<path d="M151.2 1077.8q1.8 -11.2 5.9 -18.7" stroke="#a3d24a" stroke-width="1.4"/>
<path d="M102.2 1075.0q1.7 -11.7 5.6 -19.6" stroke="#96cc40" stroke-width="1.3"/>
<path d="M166.8 1076.0q0.4 -9.1 1.3 -15.2" stroke="#a3d24a" stroke-width="1.2"/>
<path d="M91.6 1076.2q-0.0 -5.7 -0.0 -9.5" stroke="#5d9b1c" stroke-width="1.8"/>
<path d="M217.9 1079.4q-1.6 -9.7 -5.3 -16.1" stroke="#5d9b1c" stroke-width="1.3"/>
<path d="M211.1 1083.8q-0.1 -12.1 -0.3 -20.2" stroke="#4f8a17" stroke-width="1.4"/>
<path d="M426.1 1081.7q-0.8 -7.6 -2.8 -12.7" stroke="#4f8a17" stroke-width="1.5"/>
<path d="M305.7 1077.0q0.7 -9.8 2.3 -16.3" stroke="#4f8a17" stroke-width="1.5"/>
<path d="M348.3 1086.6q0.9 -12.5 3.0 -20.9" stroke="#6fae1f" stroke-width="1.1"/>
<path d="M475.1 1070.7q0.8 -7.0 2.7 -11.6" stroke="#7dbb2a" stroke-width="1.2"/>
<path d="M359.6 1079.1q2.1 -6.2 6.8 -10.3" stroke="#4f8a17" stroke-width="1.0"/>
<path d="M456.4 1074.1q-0.7 -11.7 -2.5 -19.4" stroke="#7dbb2a" stroke-width="1.3"/>
<path d="M354.1 1070.3q-1.6 -11.3 -5.5 -18.8" stroke="#5d9b1c" stroke-width="1.4"/>
<path d="M236.5 1085.5q-0.3 -6.9 -1.0 -11.6" stroke="#7dbb2a" stroke-width="1.0"/>
<path d="M366.6 1079.5q-1.0 -7.6 -3.4 -12.7" stroke="#a3d24a" stroke-width="1.0"/>
<path d="M116.1 1071.1q-0.8 -11.0 -2.7 -18.4" stroke="#8cc63a" stroke-width="1.4"/>
<path d="M229.9 1079.3q-1.1 -8.0 -3.7 -13.3" stroke="#6fae1f" stroke-width="1.1"/>
<path d="M409.3 1073.6q-0.5 -5.5 -1.6 -9.2" stroke="#3e6e14" stroke-width="1.3"/>
<path d="M68.1 1087.5q-1.1 -17.3 -3.7 -28.8" stroke="#6fae1f" stroke-width="1.4"/>
<path d="M128.9 1070.3q-1.7 -5.4 -5.8 -9.1" stroke="#8cc63a" stroke-width="1.3"/>
<path d="M184.5 1078.7q-1.5 -12.1 -4.8 -20.2" stroke="#5d9b1c" stroke-width="1.3"/>
<path d="M456.1 1071.0q0.4 -8.8 1.2 -14.7" stroke="#96cc40" stroke-width="1.0"/>
<path d="M419.5 1081.3q-1.9 -6.0 -6.2 -10.0" stroke="#6fae1f" stroke-width="1.2"/>
<path d="M94.7 1083.1q-1.4 -10.4 -4.6 -17.3" stroke="#4f8a17" stroke-width="1.3"/>
<path d="M338.3 1070.7q-0.4 -14.3 -1.4 -23.8" stroke="#4f8a17" stroke-width="1.3"/>
<path d="M283.8 1074.5q0.7 -7.6 2.3 -12.7" stroke="#3e6e14" stroke-width="1.1"/>
<path d="M224.7 1082.1q-1.8 -8.2 -6.0 -13.6" stroke="#4f8a17" stroke-width="1.8"/>
<path d="M451.1 1070.9q-1.3 -8.7 -4.3 -14.5" stroke="#96cc40" stroke-width="1.4"/>
<path d="M245.3 1070.2q-1.6 -9.4 -5.2 -15.7" stroke="#8cc63a" stroke-width="1.3"/>
<path d="M105.4 1082.0q2.0 -10.2 6.7 -17.1" stroke="#6fae1f" stroke-width="1.6"/>
<path d="M394.6 1070.4q-1.2 -11.1 -3.9 -18.4" stroke="#5d9b1c" stroke-width="1.2"/>
<path d="M353.2 1076.0q2.0 -10.4 6.7 -17.3" stroke="#96cc40" stroke-width="1.1"/>
<path d="M107.6 1079.3q1.7 -8.2 5.7 -13.6" stroke="#5d9b1c" stroke-width="1.5"/>
<path d="M100.2 1076.2q-0.6 -12.0 -2.0 -19.9" stroke="#5d9b1c" stroke-width="1.8"/>
<path d="M188.8 1086.3q0.4 -10.9 1.2 -18.2" stroke="#4f8a17" stroke-width="1.2"/>
<path d="M139.0 1082.8q0.2 -5.8 0.8 -9.6" stroke="#4f8a17" stroke-width="1.5"/>
<path d="M337.6 1071.4q0.4 -5.0 1.4 -8.3" stroke="#6fae1f" stroke-width="1.4"/>
<path d="M170.2 1083.6q0.1 -10.3 0.2 -17.1" stroke="#4f8a17" stroke-width="1.5"/>
<path d="M430.0 1079.3q1.4 -9.0 4.6 -15.1" stroke="#6fae1f" stroke-width="1.6"/>
<path d="M260.4 1082.9q-0.6 -6.5 -2.0 -10.8" stroke="#5d9b1c" stroke-width="1.3"/>
<path d="M87.6 1075.8q2.0 -9.9 6.8 -16.5" stroke="#7dbb2a" stroke-width="1.5"/>
<path d="M344.8 1081.1q-1.8 -10.2 -6.1 -17.0" stroke="#3e6e14" stroke-width="1.3"/>
<path d="M240.7 1080.6q-0.8 -11.7 -2.7 -19.6" stroke="#4f8a17" stroke-width="1.2"/>
<path d="M255.9 1082.7q-1.7 -10.5 -5.6 -17.6" stroke="#4f8a17" stroke-width="1.1"/>
<path d="M262.4 1082.5q1.5 -11.8 5.1 -19.6" stroke="#96cc40" stroke-width="1.2"/>
<path d="M117.7 1071.9q-0.6 -9.8 -2.1 -16.3" stroke="#6fae1f" stroke-width="1.7"/>
<path d="M421.8 1075.3q-0.3 -11.4 -1.0 -19.1" stroke="#4f8a17" stroke-width="1.0"/>
<path d="M391.9 1078.7q0.0 -5.7 0.1 -9.4" stroke="#5d9b1c" stroke-width="1.8"/>
<path d="M220.9 1072.5q-1.6 -10.9 -5.4 -18.2" stroke="#3e6e14" stroke-width="1.2"/>
<path d="M346.3 1080.9q0.5 -10.1 1.6 -16.8" stroke="#5d9b1c" stroke-width="1.0"/>
<path d="M358.8 1085.1q1.1 -6.7 3.8 -11.1" stroke="#3e6e14" stroke-width="1.0"/>
<path d="M299.2 1078.8q-1.1 -14.6 -3.7 -24.4" stroke="#96cc40" stroke-width="1.2"/>
<path d="M231.6 1075.9q-1.1 -16.6 -3.6 -27.7" stroke="#7dbb2a" stroke-width="1.1"/>
<path d="M306.0 1076.2q1.3 -5.1 4.3 -8.5" stroke="#5d9b1c" stroke-width="1.3"/>
<path d="M361.3 1077.9q-0.2 -4.9 -0.5 -8.2" stroke="#a3d24a" stroke-width="1.6"/>
</g>
<rect x="54" y="1085" width="430" height="200" fill="#41301f"/>
<rect x="54" y="1085" width="430" height="200" fill="#120b07" filter="url(#soil)" opacity="0.9"/>
<rect x="54" y="1085" width="430" height="200" fill="#80593d" filter="url(#soil2)" opacity="0.3"/>
<g>
<path d="M415.3 1195.9l1.5 4.0" stroke="#6b4a33" stroke-width="1.8" opacity="0.77"/>
<path d="M374.9 1272.1l-2.4 1.0" stroke="#b28e6c" stroke-width="1.0" opacity="0.35"/>
<path d="M94.1 1106.7l1.2 2.8" stroke="#a07a58" stroke-width="1.3" opacity="0.86"/>
<path d="M203.2 1160.8l-1.1 1.5" stroke="#a07a58" stroke-width="1.3" opacity="0.55"/>
<path d="M423.5 1129.9l-2.6 1.0" stroke="#8a6748" stroke-width="1.4" opacity="0.66"/>
<path d="M171.5 1237.5l-1.5 3.7" stroke="#b28e6c" stroke-width="0.9" opacity="0.71"/>
<path d="M282.2 1152.9l2.3 3.8" stroke="#8a6748" stroke-width="1.0" opacity="0.36"/>
<path d="M439.3 1132.3l5.0 0.1" stroke="#7d5a40" stroke-width="1.5" opacity="0.60"/>
<path d="M228.1 1134.4l-2.4 1.9" stroke="#b28e6c" stroke-width="1.7" opacity="0.80"/>
<path d="M79.0 1162.4l-2.5 0.9" stroke="#5a3e2b" stroke-width="1.5" opacity="0.62"/>
<path d="M256.6 1127.5l3.2 1.9" stroke="#4d3526" stroke-width="1.0" opacity="0.80"/>
<path d="M269.3 1225.9l-2.9 2.5" stroke="#b28e6c" stroke-width="1.1" opacity="0.65"/>
<path d="M111.5 1183.3l-0.7 1.8" stroke="#8a6748" stroke-width="1.1" opacity="0.46"/>
<path d="M471.6 1242.6l-4.3 0.8" stroke="#4d3526" stroke-width="1.2" opacity="0.81"/>
<path d="M297.1 1235.9l1.3 2.8" stroke="#7d5a40" stroke-width="1.6" opacity="0.71"/>
<path d="M99.7 1208.3l4.7 0.5" stroke="#a07a58" stroke-width="1.5" opacity="0.50"/>
<path d="M416.9 1123.6l-2.8 1.7" stroke="#6b4a33" stroke-width="1.4" opacity="0.48"/>
<path d="M91.3 1250.1l0.3 2.3" stroke="#7d5a40" stroke-width="1.0" opacity="0.84"/>
<path d="M199.4 1094.1l0.9 1.5" stroke="#6b4a33" stroke-width="0.8" opacity="0.75"/>
<path d="M75.7 1225.7l-1.3 2.2" stroke="#4d3526" stroke-width="1.7" opacity="0.83"/>
<path d="M478.6 1174.8l-2.0 1.5" stroke="#6b4a33" stroke-width="1.6" opacity="0.75"/>
<path d="M151.7 1106.8l-3.3 0.8" stroke="#a07a58" stroke-width="1.4" opacity="0.84"/>
<path d="M217.8 1194.8l1.6 4.0" stroke="#b28e6c" stroke-width="1.0" opacity="0.88"/>
<path d="M174.6 1234.2l-2.0 1.2" stroke="#4d3526" stroke-width="1.1" opacity="0.38"/>
<path d="M94.7 1174.8l-2.5 1.9" stroke="#8a6748" stroke-width="1.3" opacity="0.36"/>
<path d="M377.3 1234.3l-2.5 1.0" stroke="#7d5a40" stroke-width="1.0" opacity="0.62"/>
<path d="M445.4 1271.0l3.7 2.0" stroke="#5a3e2b" stroke-width="1.7" opacity="0.61"/>
<path d="M271.4 1242.5l3.3 2.3" stroke="#8a6748" stroke-width="1.4" opacity="0.85"/>
<path d="M167.1 1157.0l2.3 0.9" stroke="#a07a58" stroke-width="1.4" opacity="0.47"/>
<path d="M241.6 1089.4l-1.9 1.4" stroke="#b28e6c" stroke-width="0.9" opacity="0.65"/>
<path d="M295.7 1264.0l-1.2 1.7" stroke="#4d3526" stroke-width="1.7" opacity="0.78"/>
<path d="M344.9 1248.0l0.8 3.8" stroke="#5a3e2b" stroke-width="1.0" opacity="0.41"/>
<path d="M230.7 1188.4l2.0 1.0" stroke="#b28e6c" stroke-width="1.2" opacity="0.50"/>
<path d="M96.8 1229.8l-1.8 1.0" stroke="#a07a58" stroke-width="1.3" opacity="0.59"/>
<path d="M270.1 1252.2l4.7 0.2" stroke="#7d5a40" stroke-width="1.2" opacity="0.84"/>
<path d="M331.1 1108.9l0.9 4.4" stroke="#8a6748" stroke-width="1.4" opacity="0.68"/>
<path d="M457.0 1122.5l0.9 1.7" stroke="#b28e6c" stroke-width="0.9" opacity="0.70"/>
<path d="M350.6 1118.9l-0.6 4.0" stroke="#6b4a33" stroke-width="0.9" opacity="0.66"/>
<path d="M439.1 1127.5l1.9 1.4" stroke="#b28e6c" stroke-width="0.9" opacity="0.62"/>
<path d="M161.4 1147.5l0.3 2.8" stroke="#b28e6c" stroke-width="1.7" opacity="0.58"/>
<path d="M377.6 1257.4l3.9 1.5" stroke="#5a3e2b" stroke-width="1.5" opacity="0.78"/>
<path d="M481.2 1129.8l4.1 0.5" stroke="#5a3e2b" stroke-width="1.5" opacity="0.64"/>
<path d="M150.0 1170.5l-1.6 4.0" stroke="#4d3526" stroke-width="1.2" opacity="0.59"/>
<path d="M383.7 1251.0l0.2 2.1" stroke="#5a3e2b" stroke-width="1.7" opacity="0.80"/>
<path d="M144.6 1098.6l3.8 3.0" stroke="#7d5a40" stroke-width="1.8" opacity="0.63"/>
<path d="M104.8 1222.6l-2.9 0.9" stroke="#6b4a33" stroke-width="0.8" opacity="0.69"/>
<path d="M325.1 1253.4l0.2 1.9" stroke="#8a6748" stroke-width="1.2" opacity="0.70"/>
<path d="M454.5 1116.8l0.5 1.4" stroke="#8a6748" stroke-width="0.8" opacity="0.59"/>
<path d="M193.4 1205.5l1.0 1.7" stroke="#4d3526" stroke-width="0.9" opacity="0.37"/>
<path d="M180.7 1244.1l-1.2 1.7" stroke="#6b4a33" stroke-width="1.5" opacity="0.39"/>
<path d="M455.7 1093.9l-1.8 2.1" stroke="#7d5a40" stroke-width="1.4" opacity="0.70"/>
<path d="M371.5 1263.6l2.9 1.1" stroke="#5a3e2b" stroke-width="1.8" opacity="0.56"/>
<path d="M240.8 1133.5l-2.6 0.3" stroke="#4d3526" stroke-width="1.5" opacity="0.56"/>
<path d="M276.7 1197.5l-3.1 1.8" stroke="#4d3526" stroke-width="1.2" opacity="0.83"/>
<path d="M141.1 1174.9l-1.8 1.7" stroke="#7d5a40" stroke-width="1.4" opacity="0.44"/>
<path d="M117.8 1142.2l-1.7 0.9" stroke="#6b4a33" stroke-width="1.2" opacity="0.37"/>
<path d="M244.6 1267.5l2.1 2.9" stroke="#4d3526" stroke-width="1.6" opacity="0.41"/>
<path d="M397.3 1168.0l-0.1 4.4" stroke="#b28e6c" stroke-width="1.2" opacity="0.42"/>
<path d="M257.1 1092.1l2.0 1.0" stroke="#6b4a33" stroke-width="1.6" opacity="0.65"/>
<path d="M313.3 1102.7l3.0 3.9" stroke="#5a3e2b" stroke-width="1.1" opacity="0.48"/>
<path d="M414.2 1098.1l-1.3 1.3" stroke="#4d3526" stroke-width="1.2" opacity="0.68"/>
<path d="M424.3 1108.6l3.8 0.8" stroke="#a07a58" stroke-width="1.6" opacity="0.82"/>
<path d="M344.7 1145.4l-0.4 1.5" stroke="#5a3e2b" stroke-width="1.4" opacity="0.51"/>
<path d="M171.9 1214.3l4.1 1.1" stroke="#5a3e2b" stroke-width="1.1" opacity="0.55"/>
<path d="M189.8 1251.3l1.6 2.0" stroke="#7d5a40" stroke-width="1.2" opacity="0.84"/>
<path d="M171.5 1280.3l-4.7 1.6" stroke="#5a3e2b" stroke-width="1.1" opacity="0.80"/>
<path d="M316.5 1128.8l-3.8 0.0" stroke="#b28e6c" stroke-width="1.6" opacity="0.36"/>
<path d="M164.4 1226.2l1.7 3.5" stroke="#7d5a40" stroke-width="1.2" opacity="0.45"/>
<path d="M333.1 1147.6l-1.7 1.3" stroke="#4d3526" stroke-width="1.4" opacity="0.73"/>
<path d="M72.5 1126.3l-2.8 0.4" stroke="#5a3e2b" stroke-width="1.0" opacity="0.72"/>
<path d="M295.0 1279.4l2.4 3.0" stroke="#5a3e2b" stroke-width="1.3" opacity="0.45"/>
<path d="M461.3 1277.1l-3.8 3.2" stroke="#5a3e2b" stroke-width="0.8" opacity="0.39"/>
<path d="M347.0 1103.8l-0.4 2.1" stroke="#8a6748" stroke-width="1.7" opacity="0.50"/>
<path d="M391.8 1181.7l1.5 2.3" stroke="#b28e6c" stroke-width="1.7" opacity="0.45"/>
<path d="M288.2 1123.5l4.4 1.3" stroke="#a07a58" stroke-width="1.0" opacity="0.54"/>
<path d="M98.0 1119.2l-1.4 1.8" stroke="#b28e6c" stroke-width="1.6" opacity="0.88"/>
<path d="M177.8 1105.0l3.8 2.8" stroke="#5a3e2b" stroke-width="1.0" opacity="0.61"/>
<path d="M243.0 1212.1l-1.4 1.1" stroke="#7d5a40" stroke-width="1.2" opacity="0.48"/>
<path d="M308.6 1179.1l1.0 3.7" stroke="#6b4a33" stroke-width="1.0" opacity="0.51"/>
<path d="M470.2 1161.6l-4.6 0.2" stroke="#6b4a33" stroke-width="1.6" opacity="0.67"/>
<path d="M323.7 1203.4l-3.0 1.1" stroke="#7d5a40" stroke-width="1.6" opacity="0.43"/>
<path d="M285.6 1140.8l0.7 2.1" stroke="#4d3526" stroke-width="1.8" opacity="0.78"/>
<path d="M338.7 1154.5l0.5 2.1" stroke="#8a6748" stroke-width="1.4" opacity="0.53"/>
<path d="M452.0 1161.4l2.5 0.8" stroke="#4d3526" stroke-width="1.5" opacity="0.87"/>
<path d="M165.6 1142.4l0.7 3.3" stroke="#5a3e2b" stroke-width="1.3" opacity="0.77"/>
<path d="M190.3 1110.4l-1.6 4.0" stroke="#7d5a40" stroke-width="1.5" opacity="0.72"/>
<path d="M357.0 1129.9l3.0 2.3" stroke="#7d5a40" stroke-width="1.7" opacity="0.90"/>
<path d="M245.2 1243.7l-0.8 1.9" stroke="#6b4a33" stroke-width="1.0" opacity="0.39"/>
<path d="M248.1 1092.5l0.2 2.9" stroke="#6b4a33" stroke-width="1.2" opacity="0.82"/>
<path d="M388.5 1203.3l1.9 1.7" stroke="#5a3e2b" stroke-width="1.2" opacity="0.38"/>
<path d="M432.5 1090.8l4.2 0.5" stroke="#5a3e2b" stroke-width="1.0" opacity="0.53"/>
<path d="M59.2 1107.3l2.9 0.5" stroke="#b28e6c" stroke-width="1.3" opacity="0.62"/>
<path d="M214.3 1108.2l1.0 2.4" stroke="#5a3e2b" stroke-width="1.4" opacity="0.58"/>
<path d="M465.3 1186.4l-0.2 1.9" stroke="#6b4a33" stroke-width="1.2" opacity="0.41"/>
<path d="M367.8 1245.1l-0.6 1.8" stroke="#a07a58" stroke-width="1.3" opacity="0.77"/>
<path d="M417.6 1148.3l-1.0 2.8" stroke="#a07a58" stroke-width="1.1" opacity="0.86"/>
<path d="M408.4 1263.6l2.5 2.5" stroke="#5a3e2b" stroke-width="0.9" opacity="0.70"/>
<path d="M312.8 1099.2l1.3 1.9" stroke="#b28e6c" stroke-width="1.4" opacity="0.85"/>
<path d="M296.8 1282.5l3.1 0.3" stroke="#a07a58" stroke-width="1.4" opacity="0.67"/>
<path d="M116.7 1232.1l2.7 3.8" stroke="#6b4a33" stroke-width="1.5" opacity="0.87"/>
<path d="M60.0 1151.5l-1.6 0.6" stroke="#b28e6c" stroke-width="1.0" opacity="0.85"/>
<path d="M124.7 1140.2l-3.0 3.3" stroke="#4d3526" stroke-width="1.5" opacity="0.64"/>
<path d="M313.8 1152.5l-1.3 4.7" stroke="#b28e6c" stroke-width="1.6" opacity="0.41"/>
<path d="M242.5 1261.8l-2.0 0.3" stroke="#5a3e2b" stroke-width="1.0" opacity="0.66"/>
<path d="M386.1 1271.4l2.4 0.1" stroke="#5a3e2b" stroke-width="0.9" opacity="0.42"/>
<path d="M413.6 1089.2l-3.4 1.9" stroke="#4d3526" stroke-width="0.9" opacity="0.53"/>
<path d="M120.8 1115.1l2.3 3.2" stroke="#a07a58" stroke-width="1.7" opacity="0.82"/>
<path d="M251.2 1235.4l0.2 4.4" stroke="#6b4a33" stroke-width="1.0" opacity="0.87"/>
<path d="M401.6 1133.7l4.5 0.0" stroke="#b28e6c" stroke-width="1.1" opacity="0.84"/>
<path d="M132.1 1174.4l-0.3 4.3" stroke="#8a6748" stroke-width="1.8" opacity="0.42"/>
<path d="M133.4 1226.7l0.7 1.9" stroke="#4d3526" stroke-width="1.4" opacity="0.50"/>
<path d="M162.0 1194.8l4.1 1.9" stroke="#7d5a40" stroke-width="1.0" opacity="0.73"/>
<path d="M342.8 1112.8l-3.2 2.7" stroke="#8a6748" stroke-width="1.1" opacity="0.76"/>
<path d="M448.7 1221.3l-2.8 1.9" stroke="#5a3e2b" stroke-width="0.9" opacity="0.54"/>
<path d="M431.5 1120.6l4.0 0.9" stroke="#6b4a33" stroke-width="1.7" opacity="0.57"/>
<path d="M107.9 1177.5l4.7 0.8" stroke="#4d3526" stroke-width="1.2" opacity="0.37"/>
<path d="M200.1 1136.2l-3.2 2.5" stroke="#b28e6c" stroke-width="1.3" opacity="0.55"/>
<path d="M418.9 1259.9l2.9 0.6" stroke="#8a6748" stroke-width="1.5" opacity="0.47"/>
<path d="M193.6 1144.1l-3.4 1.5" stroke="#5a3e2b" stroke-width="1.1" opacity="0.69"/>
<path d="M92.4 1112.1l3.0 0.6" stroke="#5a3e2b" stroke-width="1.1" opacity="0.49"/>
<path d="M98.2 1186.9l-1.5 1.4" stroke="#5a3e2b" stroke-width="1.0" opacity="0.35"/>
<path d="M431.6 1252.0l-2.7 0.3" stroke="#4d3526" stroke-width="0.9" opacity="0.70"/>
<path d="M371.6 1269.0l-1.2 2.3" stroke="#a07a58" stroke-width="0.9" opacity="0.53"/>
<path d="M410.3 1145.1l-3.9 1.7" stroke="#a07a58" stroke-width="1.3" opacity="0.88"/>
<path d="M113.6 1268.6l-1.9 4.1" stroke="#5a3e2b" stroke-width="1.5" opacity="0.79"/>
<path d="M171.8 1193.6l0.0 4.6" stroke="#b28e6c" stroke-width="1.0" opacity="0.76"/>
<path d="M255.0 1169.2l3.5 2.5" stroke="#4d3526" stroke-width="0.9" opacity="0.70"/>
<path d="M479.7 1149.5l2.3 1.7" stroke="#4d3526" stroke-width="1.7" opacity="0.87"/>
<path d="M325.7 1160.3l1.6 0.6" stroke="#a07a58" stroke-width="0.9" opacity="0.76"/>
<path d="M380.1 1271.5l-1.7 3.1" stroke="#4d3526" stroke-width="1.0" opacity="0.87"/>
<path d="M307.5 1194.8l0.5 2.3" stroke="#8a6748" stroke-width="1.8" opacity="0.75"/>
<path d="M69.9 1186.4l-0.1 3.8" stroke="#b28e6c" stroke-width="1.0" opacity="0.54"/>
<path d="M389.7 1262.4l3.1 2.9" stroke="#5a3e2b" stroke-width="1.7" opacity="0.58"/>
<path d="M86.9 1231.7l1.9 1.1" stroke="#6b4a33" stroke-width="1.2" opacity="0.86"/>
<path d="M405.8 1147.9l3.4 0.7" stroke="#4d3526" stroke-width="1.2" opacity="0.42"/>
<path d="M87.8 1152.4l-2.6 1.2" stroke="#4d3526" stroke-width="1.1" opacity="0.60"/>
<path d="M153.9 1125.3l3.7 2.4" stroke="#5a3e2b" stroke-width="1.7" opacity="0.85"/>
<path d="M379.6 1115.2l-2.7 3.4" stroke="#b28e6c" stroke-width="1.4" opacity="0.45"/>
<path d="M471.7 1220.1l-0.4 3.7" stroke="#6b4a33" stroke-width="1.4" opacity="0.56"/>
<path d="M319.7 1151.2l3.9 0.1" stroke="#5a3e2b" stroke-width="1.6" opacity="0.75"/>
<path d="M183.4 1134.3l-1.5 2.0" stroke="#4d3526" stroke-width="1.4" opacity="0.66"/>
<path d="M258.9 1158.4l-2.7 3.8" stroke="#6b4a33" stroke-width="1.8" opacity="0.36"/>
<path d="M430.4 1094.8l-0.4 2.8" stroke="#b28e6c" stroke-width="1.4" opacity="0.62"/>
<path d="M240.7 1215.5l-0.7 2.1" stroke="#6b4a33" stroke-width="1.3" opacity="0.84"/>
<path d="M193.9 1240.6l-1.5 2.1" stroke="#4d3526" stroke-width="1.6" opacity="0.70"/>
<path d="M244.1 1231.9l-1.1 1.9" stroke="#a07a58" stroke-width="1.3" opacity="0.45"/>
<path d="M443.5 1281.6l0.5 1.5" stroke="#8a6748" stroke-width="1.1" opacity="0.75"/>
<path d="M301.8 1122.7l-1.3 1.4" stroke="#b28e6c" stroke-width="1.4" opacity="0.88"/>
<path d="M184.2 1237.2l1.0 3.6" stroke="#5a3e2b" stroke-width="1.7" opacity="0.51"/>
<path d="M375.7 1224.6l-0.5 2.3" stroke="#4d3526" stroke-width="0.8" opacity="0.53"/>
<path d="M191.7 1127.7l1.0 4.5" stroke="#6b4a33" stroke-width="1.5" opacity="0.71"/>
<path d="M174.9 1189.0l-2.0 0.3" stroke="#8a6748" stroke-width="0.9" opacity="0.55"/>
<path d="M105.3 1124.0l2.5 2.5" stroke="#5a3e2b" stroke-width="1.3" opacity="0.55"/>
<path d="M275.9 1249.1l2.9 0.4" stroke="#a07a58" stroke-width="1.6" opacity="0.66"/>
<path d="M258.0 1153.3l4.2 1.9" stroke="#a07a58" stroke-width="1.5" opacity="0.48"/>
<path d="M160.3 1137.1l2.7 1.9" stroke="#7d5a40" stroke-width="1.3" opacity="0.81"/>
<path d="M204.4 1186.2l-1.1 1.9" stroke="#4d3526" stroke-width="1.0" opacity="0.63"/>
<path d="M258.3 1097.8l0.8 1.6" stroke="#8a6748" stroke-width="0.9" opacity="0.43"/>
<path d="M280.6 1123.0l-1.5 1.1" stroke="#a07a58" stroke-width="0.9" opacity="0.56"/>
<path d="M184.2 1202.6l0.9 1.5" stroke="#5a3e2b" stroke-width="1.1" opacity="0.57"/>
<path d="M464.8 1156.1l-4.6 0.5" stroke="#7d5a40" stroke-width="1.0" opacity="0.63"/>
<path d="M470.6 1223.4l0.6 4.8" stroke="#7d5a40" stroke-width="1.4" opacity="0.40"/>
<path d="M465.1 1109.0l-3.1 2.5" stroke="#8a6748" stroke-width="1.2" opacity="0.39"/>
<path d="M98.7 1194.5l2.2 3.0" stroke="#b28e6c" stroke-width="1.6" opacity="0.61"/>
<path d="M402.5 1147.7l-0.2 1.6" stroke="#5a3e2b" stroke-width="1.0" opacity="0.46"/>
<path d="M201.7 1202.4l3.4 2.3" stroke="#6b4a33" stroke-width="1.8" opacity="0.40"/>
<path d="M356.1 1230.9l-0.5 1.5" stroke="#5a3e2b" stroke-width="1.2" opacity="0.68"/>
<path d="M403.5 1142.7l4.7 0.4" stroke="#8a6748" stroke-width="1.3" opacity="0.50"/>
<path d="M251.9 1129.4l-2.1 1.0" stroke="#6b4a33" stroke-width="1.7" opacity="0.72"/>
<path d="M304.1 1114.6l1.3 4.6" stroke="#6b4a33" stroke-width="1.2" opacity="0.73"/>
<path d="M271.1 1281.3l0.0 3.5" stroke="#b28e6c" stroke-width="1.5" opacity="0.37"/>
<path d="M352.3 1185.1l0.1 2.0" stroke="#a07a58" stroke-width="1.2" opacity="0.83"/>
<path d="M270.0 1270.6l1.2 1.4" stroke="#6b4a33" stroke-width="1.3" opacity="0.71"/>
<path d="M298.5 1262.6l-0.1 3.3" stroke="#a07a58" stroke-width="1.0" opacity="0.36"/>
<path d="M194.9 1150.1l2.7 1.1" stroke="#6b4a33" stroke-width="0.9" opacity="0.61"/>
<path d="M427.0 1217.0l-2.1 0.9" stroke="#5a3e2b" stroke-width="1.1" opacity="0.75"/>
<path d="M142.4 1197.2l-1.2 4.0" stroke="#7d5a40" stroke-width="0.8" opacity="0.66"/>
<path d="M143.7 1154.2l-3.9 1.2" stroke="#5a3e2b" stroke-width="0.9" opacity="0.75"/>
<path d="M373.8 1215.4l-2.5 2.1" stroke="#a07a58" stroke-width="0.9" opacity="0.73"/>
<path d="M74.4 1141.4l3.5 0.1" stroke="#5a3e2b" stroke-width="1.4" opacity="0.42"/>
<path d="M236.7 1171.2l0.7 3.4" stroke="#8a6748" stroke-width="1.3" opacity="0.43"/>
<path d="M166.1 1147.0l-1.0 2.9" stroke="#8a6748" stroke-width="1.5" opacity="0.57"/>
<path d="M246.6 1204.4l0.9 2.1" stroke="#6b4a33" stroke-width="1.0" opacity="0.38"/>
<path d="M358.5 1258.7l-2.4 4.0" stroke="#7d5a40" stroke-width="1.6" opacity="0.48"/>
<path d="M163.3 1225.1l-2.5 1.9" stroke="#5a3e2b" stroke-width="0.9" opacity="0.45"/>
<path d="M400.6 1243.0l1.1 2.5" stroke="#b28e6c" stroke-width="1.8" opacity="0.74"/>
<path d="M251.0 1117.3l4.0 0.8" stroke="#6b4a33" stroke-width="1.5" opacity="0.59"/>
<path d="M302.8 1242.7l-4.1 0.8" stroke="#7d5a40" stroke-width="0.9" opacity="0.67"/>
<path d="M234.6 1137.7l-4.0 0.9" stroke="#6b4a33" stroke-width="1.4" opacity="0.59"/>
<path d="M147.2 1263.2l3.5 1.0" stroke="#b28e6c" stroke-width="1.0" opacity="0.75"/>
<path d="M195.8 1273.2l-2.6 0.4" stroke="#a07a58" stroke-width="0.8" opacity="0.49"/>
<path d="M455.6 1123.2l-0.0 4.5" stroke="#5a3e2b" stroke-width="0.9" opacity="0.66"/>
<path d="M127.4 1148.7l-1.7 4.3" stroke="#a07a58" stroke-width="1.1" opacity="0.85"/>
<path d="M347.4 1176.1l-1.6 1.9" stroke="#4d3526" stroke-width="1.2" opacity="0.85"/>
<path d="M125.0 1126.5l2.1 0.9" stroke="#8a6748" stroke-width="1.0" opacity="0.80"/>
<path d="M184.8 1255.3l-2.0 0.1" stroke="#8a6748" stroke-width="1.7" opacity="0.58"/>
<path d="M449.2 1137.9l-3.3 0.2" stroke="#4d3526" stroke-width="1.0" opacity="0.89"/>
<path d="M408.3 1114.1l-4.8 1.3" stroke="#b28e6c" stroke-width="1.3" opacity="0.64"/>
<path d="M142.7 1123.5l1.9 3.4" stroke="#a07a58" stroke-width="1.1" opacity="0.72"/>
<path d="M374.7 1125.4l-1.8 0.2" stroke="#6b4a33" stroke-width="1.6" opacity="0.65"/>
<path d="M194.2 1137.5l1.5 2.0" stroke="#8a6748" stroke-width="1.5" opacity="0.73"/>
<path d="M77.3 1234.3l-0.8 3.7" stroke="#a07a58" stroke-width="0.8" opacity="0.44"/>
<path d="M164.7 1192.0l-3.0 1.9" stroke="#5a3e2b" stroke-width="1.0" opacity="0.62"/>
<path d="M287.5 1246.3l0.6 4.4" stroke="#8a6748" stroke-width="1.1" opacity="0.82"/>
<path d="M104.3 1216.3l2.0 4.1" stroke="#8a6748" stroke-width="1.5" opacity="0.76"/>
<path d="M462.4 1255.2l-1.3 3.8" stroke="#8a6748" stroke-width="1.1" opacity="0.50"/>
<path d="M91.2 1281.0l3.6 0.5" stroke="#8a6748" stroke-width="1.4" opacity="0.71"/>
<path d="M199.7 1141.5l-1.7 4.2" stroke="#4d3526" stroke-width="1.3" opacity="0.51"/>
<path d="M301.7 1263.6l-0.3 1.6" stroke="#8a6748" stroke-width="1.3" opacity="0.61"/>
<path d="M291.5 1230.8l-3.0 1.0" stroke="#6b4a33" stroke-width="1.2" opacity="0.40"/>
<path d="M333.0 1252.2l1.7 0.1" stroke="#7d5a40" stroke-width="0.9" opacity="0.51"/>
<path d="M419.1 1223.4l3.7 1.3" stroke="#b28e6c" stroke-width="1.7" opacity="0.71"/>
<path d="M286.7 1146.6l2.6 1.6" stroke="#5a3e2b" stroke-width="1.2" opacity="0.42"/>
<path d="M219.2 1196.5l-0.5 2.9" stroke="#b28e6c" stroke-width="1.6" opacity="0.64"/>
<path d="M314.0 1178.1l-1.3 1.3" stroke="#b28e6c" stroke-width="1.3" opacity="0.78"/>
<path d="M299.6 1111.9l1.3 1.3" stroke="#8a6748" stroke-width="1.1" opacity="0.57"/>
<path d="M284.9 1108.7l-2.6 3.4" stroke="#b28e6c" stroke-width="1.7" opacity="0.49"/>
<path d="M77.8 1234.9l1.3 1.5" stroke="#8a6748" stroke-width="1.1" opacity="0.43"/>
<path d="M410.9 1178.8l-2.2 1.5" stroke="#8a6748" stroke-width="1.5" opacity="0.41"/>
<path d="M188.9 1099.8l-2.1 2.6" stroke="#4d3526" stroke-width="1.7" opacity="0.77"/>
<path d="M292.2 1159.7l3.0 3.5" stroke="#b28e6c" stroke-width="1.7" opacity="0.70"/>
<path d="M351.6 1217.1l0.4 1.6" stroke="#a07a58" stroke-width="1.1" opacity="0.85"/>
<path d="M131.5 1267.1l-0.2 2.0" stroke="#7d5a40" stroke-width="0.9" opacity="0.43"/>
<path d="M342.5 1214.0l-3.2 2.2" stroke="#7d5a40" stroke-width="0.9" opacity="0.36"/>
<path d="M155.6 1240.9l3.0 1.6" stroke="#b28e6c" stroke-width="0.9" opacity="0.82"/>
<path d="M422.1 1237.0l-1.2 4.8" stroke="#b28e6c" stroke-width="1.1" opacity="0.88"/>
<path d="M389.7 1221.7l2.3 3.3" stroke="#5a3e2b" stroke-width="1.7" opacity="0.37"/>
<path d="M241.1 1113.6l-0.7 1.8" stroke="#a07a58" stroke-width="1.6" opacity="0.64"/>
<path d="M465.9 1090.4l-3.8 1.3" stroke="#5a3e2b" stroke-width="1.4" opacity="0.65"/>
<path d="M57.8 1182.2l-2.5 1.5" stroke="#a07a58" stroke-width="1.8" opacity="0.71"/>
<path d="M73.4 1113.0l3.4 0.8" stroke="#8a6748" stroke-width="1.0" opacity="0.71"/>
<path d="M331.8 1175.7l-0.5 4.4" stroke="#5a3e2b" stroke-width="1.4" opacity="0.64"/>
<path d="M285.4 1183.9l-4.4 2.3" stroke="#7d5a40" stroke-width="1.6" opacity="0.39"/>
<path d="M107.1 1156.4l2.7 1.1" stroke="#4d3526" stroke-width="1.6" opacity="0.88"/>
<path d="M149.1 1132.3l2.5 0.2" stroke="#6b4a33" stroke-width="0.8" opacity="0.58"/>
<path d="M448.5 1242.6l1.4 3.8" stroke="#b28e6c" stroke-width="1.5" opacity="0.73"/>
<path d="M360.4 1180.9l0.3 2.5" stroke="#6b4a33" stroke-width="0.9" opacity="0.87"/>
<path d="M192.4 1213.1l-0.0 1.6" stroke="#4d3526" stroke-width="1.6" opacity="0.62"/>
<path d="M129.4 1141.9l-3.4 3.6" stroke="#6b4a33" stroke-width="1.1" opacity="0.67"/>
<path d="M446.5 1164.5l-3.4 3.4" stroke="#8a6748" stroke-width="1.1" opacity="0.74"/>
<path d="M404.0 1116.7l-1.3 1.0" stroke="#b28e6c" stroke-width="1.6" opacity="0.38"/>
<path d="M286.9 1231.9l-4.8 0.2" stroke="#6b4a33" stroke-width="0.8" opacity="0.47"/>
<path d="M229.5 1139.3l1.7 2.9" stroke="#6b4a33" stroke-width="1.7" opacity="0.50"/>
<path d="M294.5 1159.3l-1.2 4.6" stroke="#5a3e2b" stroke-width="1.7" opacity="0.49"/>
<path d="M406.2 1092.6l1.2 4.6" stroke="#8a6748" stroke-width="0.8" opacity="0.38"/>
<path d="M79.2 1196.6l-0.3 3.1" stroke="#a07a58" stroke-width="1.7" opacity="0.39"/>
<path d="M352.8 1156.9l1.6 0.8" stroke="#b28e6c" stroke-width="1.6" opacity="0.60"/>
<path d="M394.9 1278.1l-3.3 0.8" stroke="#8a6748" stroke-width="1.7" opacity="0.54"/>
<path d="M405.6 1181.5l-1.8 1.5" stroke="#a07a58" stroke-width="1.4" opacity="0.82"/>
<path d="M139.4 1256.5l3.4 0.3" stroke="#a07a58" stroke-width="0.9" opacity="0.79"/>
<path d="M408.8 1156.0l1.3 4.3" stroke="#8a6748" stroke-width="1.2" opacity="0.35"/>
<path d="M93.6 1228.1l2.2 1.0" stroke="#b28e6c" stroke-width="1.4" opacity="0.72"/>
<path d="M361.1 1228.3l-1.6 0.1" stroke="#b28e6c" stroke-width="1.2" opacity="0.36"/>
<path d="M239.1 1135.2l-1.3 4.7" stroke="#7d5a40" stroke-width="1.7" opacity="0.70"/>
<path d="M152.5 1133.9l3.4 1.1" stroke="#6b4a33" stroke-width="1.1" opacity="0.52"/>
<path d="M257.8 1120.7l1.2 3.8" stroke="#8a6748" stroke-width="1.2" opacity="0.60"/>
<path d="M283.6 1221.5l3.3 1.0" stroke="#5a3e2b" stroke-width="0.9" opacity="0.76"/>
<path d="M341.4 1161.2l3.3 1.4" stroke="#b28e6c" stroke-width="1.2" opacity="0.89"/>
<path d="M215.9 1115.7l-2.9 1.3" stroke="#5a3e2b" stroke-width="1.1" opacity="0.40"/>
<path d="M311.4 1264.0l2.5 1.3" stroke="#a07a58" stroke-width="1.4" opacity="0.76"/>
<path d="M160.3 1223.6l-2.9 0.0" stroke="#5a3e2b" stroke-width="1.2" opacity="0.71"/>
<path d="M425.8 1128.7l2.3 4.4" stroke="#6b4a33" stroke-width="0.9" opacity="0.41"/>
<path d="M131.3 1179.1l-4.6 0.5" stroke="#5a3e2b" stroke-width="0.8" opacity="0.39"/>
<path d="M69.7 1173.2l3.3 0.3" stroke="#4d3526" stroke-width="0.9" opacity="0.77"/>
<path d="M201.6 1152.4l3.0 2.3" stroke="#7d5a40" stroke-width="1.3" opacity="0.49"/>
<path d="M388.5 1089.8l1.9 1.9" stroke="#b28e6c" stroke-width="1.3" opacity="0.37"/>
<path d="M182.3 1207.9l-1.6 1.1" stroke="#b28e6c" stroke-width="1.8" opacity="0.89"/>
<path d="M412.5 1234.5l1.9 4.0" stroke="#6b4a33" stroke-width="1.7" opacity="0.75"/>
<path d="M354.4 1116.6l4.4 0.5" stroke="#4d3526" stroke-width="1.5" opacity="0.61"/>
<path d="M299.0 1238.4l-2.9 1.3" stroke="#8a6748" stroke-width="1.1" opacity="0.54"/>
<path d="M83.0 1279.7l-4.2 1.3" stroke="#6b4a33" stroke-width="1.3" opacity="0.82"/>
<path d="M392.5 1182.5l-1.6 0.9" stroke="#6b4a33" stroke-width="1.1" opacity="0.56"/>
<path d="M430.5 1192.6l-1.9 4.5" stroke="#5a3e2b" stroke-width="1.7" opacity="0.42"/>
<path d="M193.4 1089.4l-2.9 0.2" stroke="#b28e6c" stroke-width="1.8" opacity="0.66"/>
<path d="M124.9 1192.2l-1.5 3.4" stroke="#6b4a33" stroke-width="0.9" opacity="0.76"/>
<path d="M151.1 1152.3l2.4 4.4" stroke="#6b4a33" stroke-width="1.1" opacity="0.72"/>
<path d="M268.7 1249.9l2.1 1.5" stroke="#6b4a33" stroke-width="1.6" opacity="0.54"/>
<path d="M231.4 1234.2l-2.7 3.7" stroke="#8a6748" stroke-width="0.8" opacity="0.54"/>
<path d="M220.4 1133.8l-2.8 0.6" stroke="#6b4a33" stroke-width="0.9" opacity="0.52"/>
<path d="M106.9 1098.5l-2.6 3.2" stroke="#a07a58" stroke-width="0.8" opacity="0.37"/>
<path d="M107.7 1261.7l-0.3 3.7" stroke="#5a3e2b" stroke-width="1.2" opacity="0.50"/>
<path d="M117.7 1257.6l-1.9 4.4" stroke="#7d5a40" stroke-width="1.2" opacity="0.88"/>
<path d="M254.1 1255.9l1.8 1.5" stroke="#8a6748" stroke-width="1.7" opacity="0.67"/>
<path d="M327.5 1203.1l-2.2 1.7" stroke="#6b4a33" stroke-width="1.5" opacity="0.65"/>
<path d="M367.3 1103.3l-4.1 0.1" stroke="#4d3526" stroke-width="0.9" opacity="0.36"/>
<path d="M266.0 1090.2l1.9 2.1" stroke="#7d5a40" stroke-width="1.3" opacity="0.80"/>
<path d="M348.1 1256.0l2.2 1.0" stroke="#8a6748" stroke-width="1.1" opacity="0.36"/>
<path d="M413.2 1233.0l0.0 1.5" stroke="#7d5a40" stroke-width="0.9" opacity="0.61"/>
<path d="M335.8 1251.4l0.1 2.0" stroke="#a07a58" stroke-width="1.3" opacity="0.89"/>
<path d="M56.2 1124.9l-0.3 2.1" stroke="#a07a58" stroke-width="1.4" opacity="0.56"/>
<path d="M83.5 1092.1l-4.0 2.2" stroke="#8a6748" stroke-width="0.9" opacity="0.77"/>
<path d="M127.7 1156.5l3.6 2.7" stroke="#b28e6c" stroke-width="1.7" opacity="0.89"/>
<path d="M173.4 1127.5l0.6 1.8" stroke="#5a3e2b" stroke-width="1.0" opacity="0.56"/>
<path d="M97.0 1244.3l1.7 1.1" stroke="#8a6748" stroke-width="1.0" opacity="0.71"/>
<path d="M115.0 1241.1l-2.9 4.1" stroke="#5a3e2b" stroke-width="1.3" opacity="0.44"/>
<path d="M157.7 1117.7l2.6 0.7" stroke="#8a6748" stroke-width="1.5" opacity="0.40"/>
<path d="M148.0 1204.4l-0.1 1.6" stroke="#6b4a33" stroke-width="1.4" opacity="0.88"/>
<path d="M377.8 1109.5l1.9 4.4" stroke="#5a3e2b" stroke-width="1.3" opacity="0.54"/>
<path d="M460.0 1166.1l0.8 3.3" stroke="#b28e6c" stroke-width="1.5" opacity="0.44"/>
<path d="M346.4 1266.4l-3.8 2.8" stroke="#6b4a33" stroke-width="1.8" opacity="0.77"/>
<path d="M146.8 1199.9l0.4 2.3" stroke="#b28e6c" stroke-width="1.3" opacity="0.75"/>
<path d="M84.9 1242.3l0.7 2.3" stroke="#8a6748" stroke-width="1.8" opacity="0.90"/>
<path d="M397.2 1140.5l-1.6 2.8" stroke="#6b4a33" stroke-width="1.2" opacity="0.55"/>
<path d="M65.1 1180.7l-0.3 2.6" stroke="#6b4a33" stroke-width="1.3" opacity="0.39"/>
<path d="M432.3 1174.7l-3.2 0.3" stroke="#8a6748" stroke-width="1.3" opacity="0.56"/>
<path d="M111.3 1092.6l-0.9 4.8" stroke="#8a6748" stroke-width="1.0" opacity="0.78"/>
<path d="M191.6 1169.4l-1.4 4.1" stroke="#7d5a40" stroke-width="0.9" opacity="0.46"/>
<path d="M212.3 1166.9l1.7 4.6" stroke="#5a3e2b" stroke-width="1.4" opacity="0.64"/>
<path d="M71.5 1204.6l-2.0 1.1" stroke="#4d3526" stroke-width="0.8" opacity="0.88"/>
<path d="M283.2 1202.5l4.0 0.9" stroke="#8a6748" stroke-width="1.2" opacity="0.62"/>
<path d="M215.3 1187.4l2.7 2.0" stroke="#7d5a40" stroke-width="1.0" opacity="0.50"/>
<path d="M262.9 1280.3l2.1 0.8" stroke="#b28e6c" stroke-width="1.7" opacity="0.89"/>
<path d="M270.9 1223.6l1.2 1.3" stroke="#b28e6c" stroke-width="1.7" opacity="0.55"/>
<path d="M403.3 1181.0l-3.0 1.1" stroke="#8a6748" stroke-width="1.7" opacity="0.85"/>
<path d="M108.2 1250.9l-1.3 1.8" stroke="#5a3e2b" stroke-width="1.7" opacity="0.43"/>
<path d="M260.0 1180.4l2.3 0.8" stroke="#4d3526" stroke-width="1.5" opacity="0.63"/>
<path d="M315.5 1256.9l-3.5 0.5" stroke="#6b4a33" stroke-width="1.1" opacity="0.70"/>
<path d="M445.3 1214.7l-1.7 4.4" stroke="#5a3e2b" stroke-width="0.9" opacity="0.36"/>
<path d="M143.9 1242.5l1.2 2.2" stroke="#6b4a33" stroke-width="1.7" opacity="0.89"/>
<path d="M83.6 1164.8l0.4 2.4" stroke="#4d3526" stroke-width="1.7" opacity="0.41"/>
<path d="M159.8 1278.9l3.5 2.9" stroke="#7d5a40" stroke-width="0.9" opacity="0.60"/>
<path d="M276.0 1242.2l2.1 1.4" stroke="#5a3e2b" stroke-width="0.8" opacity="0.69"/>
<path d="M94.8 1235.4l1.1 4.6" stroke="#7d5a40" stroke-width="1.5" opacity="0.41"/>
<path d="M154.9 1152.1l-1.9 3.7" stroke="#a07a58" stroke-width="1.2" opacity="0.74"/>
<path d="M68.7 1189.6l-0.2 1.8" stroke="#a07a58" stroke-width="1.5" opacity="0.81"/>
<path d="M94.2 1152.9l2.8 0.8" stroke="#8a6748" stroke-width="0.9" opacity="0.49"/>
<path d="M327.1 1277.8l-4.5 0.4" stroke="#6b4a33" stroke-width="1.4" opacity="0.79"/>
<path d="M407.3 1275.5l2.3 2.2" stroke="#7d5a40" stroke-width="1.0" opacity="0.42"/>
<path d="M315.9 1210.7l-1.4 0.7" stroke="#6b4a33" stroke-width="0.9" opacity="0.45"/>
<path d="M300.2 1129.8l-1.8 0.5" stroke="#8a6748" stroke-width="1.7" opacity="0.66"/>
<path d="M315.0 1090.1l-1.2 3.4" stroke="#b28e6c" stroke-width="1.3" opacity="0.37"/>
<path d="M97.3 1123.8l4.0 0.6" stroke="#8a6748" stroke-width="1.1" opacity="0.79"/>
<path d="M288.4 1158.6l-3.5 0.4" stroke="#7d5a40" stroke-width="0.9" opacity="0.60"/>
<path d="M78.8 1221.3l0.3 2.8" stroke="#a07a58" stroke-width="1.4" opacity="0.45"/>
<path d="M303.7 1151.7l0.3 4.0" stroke="#6b4a33" stroke-width="1.7" opacity="0.49"/>
<path d="M283.0 1186.2l-4.3 1.9" stroke="#6b4a33" stroke-width="1.1" opacity="0.49"/>
<path d="M272.8 1192.8l3.2 2.7" stroke="#5a3e2b" stroke-width="1.0" opacity="0.53"/>
<path d="M112.6 1147.7l-1.5 2.4" stroke="#8a6748" stroke-width="0.9" opacity="0.70"/>
<path d="M64.6 1256.0l-1.4 2.3" stroke="#5a3e2b" stroke-width="1.1" opacity="0.51"/>
<path d="M216.2 1133.8l3.0 0.9" stroke="#b28e6c" stroke-width="0.9" opacity="0.47"/>
<path d="M164.1 1095.1l-1.5 3.2" stroke="#5a3e2b" stroke-width="1.4" opacity="0.86"/>
<path d="M255.1 1189.9l2.0 2.4" stroke="#5a3e2b" stroke-width="1.2" opacity="0.53"/>
<path d="M466.0 1105.8l3.4 0.2" stroke="#8a6748" stroke-width="1.7" opacity="0.77"/>
<path d="M91.4 1095.0l-2.1 2.9" stroke="#4d3526" stroke-width="1.4" opacity="0.37"/>
<path d="M218.3 1190.5l2.0 0.1" stroke="#8a6748" stroke-width="0.9" opacity="0.85"/>
<path d="M287.8 1121.1l-2.9 3.8" stroke="#b28e6c" stroke-width="1.7" opacity="0.88"/>
<path d="M471.8 1141.4l-2.9 0.4" stroke="#4d3526" stroke-width="0.9" opacity="0.83"/>
<path d="M356.3 1090.5l3.4 0.7" stroke="#b28e6c" stroke-width="1.4" opacity="0.83"/>
<path d="M99.1 1201.3l2.2 1.4" stroke="#7d5a40" stroke-width="1.7" opacity="0.74"/>
<path d="M438.5 1254.7l1.6 1.3" stroke="#6b4a33" stroke-width="0.9" opacity="0.83"/>
<path d="M286.9 1271.6l0.0 1.8" stroke="#4d3526" stroke-width="1.7" opacity="0.78"/>
<path d="M411.8 1231.4l3.1 1.5" stroke="#8a6748" stroke-width="1.5" opacity="0.74"/>
<path d="M251.4 1142.7l1.0 3.9" stroke="#7d5a40" stroke-width="1.0" opacity="0.51"/>
<path d="M209.9 1162.9l-2.3 2.2" stroke="#6b4a33" stroke-width="1.1" opacity="0.77"/>
<path d="M185.1 1105.7l0.2 4.5" stroke="#b28e6c" stroke-width="1.1" opacity="0.90"/>
<path d="M461.6 1172.5l-1.8 1.3" stroke="#a07a58" stroke-width="1.0" opacity="0.73"/>
<path d="M109.3 1149.4l-3.1 1.6" stroke="#a07a58" stroke-width="1.6" opacity="0.61"/>
<path d="M109.1 1273.8l-1.8 3.4" stroke="#5a3e2b" stroke-width="0.8" opacity="0.90"/>
<path d="M443.5 1216.5l3.9 2.1" stroke="#8a6748" stroke-width="1.2" opacity="0.41"/>
<path d="M121.9 1280.9l-1.2 2.2" stroke="#b28e6c" stroke-width="1.3" opacity="0.77"/>
<path d="M414.3 1138.6l0.8 2.7" stroke="#6b4a33" stroke-width="1.6" opacity="0.66"/>
<path d="M168.3 1173.9l-0.1 3.1" stroke="#6b4a33" stroke-width="1.2" opacity="0.73"/>
<path d="M283.4 1186.0l1.6 1.7" stroke="#4d3526" stroke-width="0.9" opacity="0.36"/>
<path d="M321.8 1225.2l1.7 3.2" stroke="#7d5a40" stroke-width="0.9" opacity="0.55"/>
<path d="M86.0 1186.8l-4.1 0.6" stroke="#8a6748" stroke-width="1.8" opacity="0.82"/>
<path d="M425.5 1229.4l-0.7 2.2" stroke="#4d3526" stroke-width="1.8" opacity="0.71"/>
<path d="M220.9 1171.9l-1.1 3.2" stroke="#b28e6c" stroke-width="1.2" opacity="0.65"/>
<path d="M144.7 1242.4l-0.7 4.0" stroke="#a07a58" stroke-width="0.9" opacity="0.39"/>
<path d="M439.5 1160.0l0.4 4.9" stroke="#7d5a40" stroke-width="1.4" opacity="0.46"/>
<path d="M190.6 1189.2l-0.1 2.0" stroke="#b28e6c" stroke-width="1.8" opacity="0.80"/>
<path d="M393.2 1273.7l-2.2 2.7" stroke="#b28e6c" stroke-width="1.7" opacity="0.88"/>
<path d="M393.1 1197.8l-1.6 0.7" stroke="#5a3e2b" stroke-width="1.7" opacity="0.78"/>
<path d="M178.7 1282.8l1.7 0.3" stroke="#8a6748" stroke-width="1.5" opacity="0.67"/>
<path d="M129.2 1282.5l0.7 1.6" stroke="#7d5a40" stroke-width="1.4" opacity="0.59"/>
<path d="M251.4 1275.6l2.2 2.6" stroke="#5a3e2b" stroke-width="1.8" opacity="0.46"/>
<path d="M281.2 1105.6l0.5 1.6" stroke="#5a3e2b" stroke-width="1.7" opacity="0.43"/>
<path d="M433.4 1097.8l-0.9 1.8" stroke="#8a6748" stroke-width="1.3" opacity="0.41"/>
<path d="M252.6 1228.0l2.2 3.7" stroke="#b28e6c" stroke-width="1.1" opacity="0.87"/>
<path d="M135.7 1114.9l-0.4 2.7" stroke="#4d3526" stroke-width="1.1" opacity="0.54"/>
<path d="M408.9 1124.4l-4.6 0.9" stroke="#7d5a40" stroke-width="1.1" opacity="0.64"/>
<path d="M174.5 1219.6l1.1 3.8" stroke="#8a6748" stroke-width="1.0" opacity="0.67"/>
<path d="M205.9 1209.1l-3.0 0.2" stroke="#8a6748" stroke-width="0.9" opacity="0.43"/>
<path d="M132.9 1124.8l-1.3 2.4" stroke="#b28e6c" stroke-width="1.0" opacity="0.49"/>
<path d="M132.5 1117.2l-1.9 3.0" stroke="#8a6748" stroke-width="0.9" opacity="0.39"/>
<path d="M265.6 1258.0l-2.5 2.3" stroke="#4d3526" stroke-width="0.9" opacity="0.55"/>
<path d="M459.9 1161.8l-0.8 1.6" stroke="#b28e6c" stroke-width="0.9" opacity="0.85"/>
<path d="M187.4 1282.6l-1.6 0.0" stroke="#b28e6c" stroke-width="0.9" opacity="0.73"/>
<path d="M272.5 1275.5l-4.5 0.5" stroke="#7d5a40" stroke-width="1.6" opacity="0.36"/>
<path d="M109.6 1279.3l-3.4 1.4" stroke="#a07a58" stroke-width="1.1" opacity="0.43"/>
<path d="M303.3 1219.2l0.0 2.2" stroke="#8a6748" stroke-width="1.7" opacity="0.67"/>
<path d="M429.9 1146.3l-0.6 2.4" stroke="#b28e6c" stroke-width="0.9" opacity="0.81"/>
<path d="M120.9 1239.1l2.0 0.4" stroke="#a07a58" stroke-width="1.6" opacity="0.71"/>
<path d="M215.5 1188.9l1.4 1.0" stroke="#7d5a40" stroke-width="1.4" opacity="0.37"/>
<path d="M89.2 1227.1l0.0 1.9" stroke="#5a3e2b" stroke-width="1.1" opacity="0.89"/>
<path d="M355.9 1096.3l-1.9 2.8" stroke="#5a3e2b" stroke-width="1.7" opacity="0.67"/>
<path d="M202.9 1144.5l4.0 2.6" stroke="#b28e6c" stroke-width="1.6" opacity="0.86"/>
<path d="M77.2 1219.1l-0.2 2.0" stroke="#b28e6c" stroke-width="1.0" opacity="0.66"/>
<path d="M61.4 1093.3l3.3 1.9" stroke="#a07a58" stroke-width="0.9" opacity="0.66"/>
<path d="M241.0 1123.4l1.2 4.1" stroke="#b28e6c" stroke-width="1.7" opacity="0.37"/>
<path d="M412.3 1181.8l2.3 1.8" stroke="#6b4a33" stroke-width="1.4" opacity="0.61"/>
<path d="M72.3 1177.8l1.1 3.0" stroke="#6b4a33" stroke-width="1.5" opacity="0.87"/>
<path d="M180.7 1222.2l1.5 4.4" stroke="#b28e6c" stroke-width="1.4" opacity="0.66"/>
<path d="M156.2 1185.2l1.9 0.4" stroke="#7d5a40" stroke-width="1.1" opacity="0.80"/>
<path d="M345.2 1252.8l-2.5 1.8" stroke="#5a3e2b" stroke-width="1.1" opacity="0.59"/>
<path d="M413.8 1210.1l3.8 3.1" stroke="#7d5a40" stroke-width="1.3" opacity="0.40"/>
<path d="M415.3 1106.2l-2.1 0.8" stroke="#7d5a40" stroke-width="1.2" opacity="0.77"/>
<path d="M451.1 1243.0l2.8 0.2" stroke="#4d3526" stroke-width="1.3" opacity="0.65"/>
<path d="M252.2 1169.3l-1.1 1.6" stroke="#4d3526" stroke-width="1.2" opacity="0.69"/>
<path d="M94.2 1183.4l1.4 3.3" stroke="#a07a58" stroke-width="1.3" opacity="0.83"/>
<path d="M425.6 1124.8l-3.1 3.1" stroke="#5a3e2b" stroke-width="0.9" opacity="0.61"/>
<path d="M142.7 1208.1l-2.3 0.2" stroke="#5a3e2b" stroke-width="1.1" opacity="0.83"/>
<path d="M222.1 1170.8l2.4 2.1" stroke="#4d3526" stroke-width="1.3" opacity="0.82"/>
<path d="M375.4 1239.4l2.1 1.7" stroke="#b28e6c" stroke-width="1.3" opacity="0.88"/>
<path d="M142.7 1101.5l1.6 1.2" stroke="#b28e6c" stroke-width="0.9" opacity="0.43"/>
<path d="M339.6 1268.0l2.0 3.3" stroke="#7d5a40" stroke-width="1.7" opacity="0.59"/>
<path d="M154.0 1205.5l3.1 1.2" stroke="#4d3526" stroke-width="1.4" opacity="0.79"/>
<path d="M245.1 1196.3l-2.0 0.7" stroke="#b28e6c" stroke-width="1.4" opacity="0.45"/>
<path d="M133.6 1226.2l-1.4 1.0" stroke="#5a3e2b" stroke-width="0.8" opacity="0.89"/>
<path d="M381.9 1188.6l-1.5 0.5" stroke="#a07a58" stroke-width="1.1" opacity="0.69"/>
<path d="M214.9 1181.5l-0.4 3.8" stroke="#7d5a40" stroke-width="1.3" opacity="0.79"/>
<path d="M58.8 1231.2l-2.4 2.8" stroke="#a07a58" stroke-width="0.8" opacity="0.88"/>
<path d="M140.2 1095.8l-1.5 1.4" stroke="#b28e6c" stroke-width="1.1" opacity="0.73"/>
<path d="M145.2 1150.2l-0.0 2.0" stroke="#5a3e2b" stroke-width="1.5" opacity="0.62"/>
<path d="M468.1 1253.5l4.0 2.4" stroke="#7d5a40" stroke-width="1.4" opacity="0.64"/>
<path d="M126.9 1151.6l1.7 1.4" stroke="#a07a58" stroke-width="0.8" opacity="0.39"/>
<path d="M212.3 1271.6l1.2 2.5" stroke="#8a6748" stroke-width="1.3" opacity="0.70"/>
<path d="M156.3 1224.7l1.2 3.9" stroke="#a07a58" stroke-width="1.1" opacity="0.47"/>
<path d="M403.8 1250.8l3.9 2.0" stroke="#8a6748" stroke-width="1.5" opacity="0.53"/>
<path d="M258.6 1182.0l-1.2 1.2" stroke="#a07a58" stroke-width="1.0" opacity="0.85"/>
<path d="M354.2 1184.2l2.7 1.5" stroke="#a07a58" stroke-width="1.2" opacity="0.83"/>
<path d="M369.5 1141.4l-0.3 1.5" stroke="#4d3526" stroke-width="1.4" opacity="0.41"/>
<path d="M276.6 1185.5l-1.3 2.2" stroke="#a07a58" stroke-width="1.4" opacity="0.39"/>
<path d="M405.2 1261.5l2.3 3.3" stroke="#b28e6c" stroke-width="1.2" opacity="0.36"/>
<path d="M399.2 1138.8l3.4 0.3" stroke="#7d5a40" stroke-width="1.3" opacity="0.85"/>
<path d="M398.6 1282.9l-3.5 0.5" stroke="#4d3526" stroke-width="1.3" opacity="0.88"/>
<path d="M319.1 1190.0l-0.6 4.8" stroke="#5a3e2b" stroke-width="1.6" opacity="0.82"/>
<path d="M353.2 1223.3l-0.1 3.5" stroke="#4d3526" stroke-width="1.3" opacity="0.85"/>
<path d="M181.0 1174.2l0.8 1.5" stroke="#8a6748" stroke-width="1.1" opacity="0.80"/>
<path d="M68.1 1244.8l-3.7 2.7" stroke="#8a6748" stroke-width="1.3" opacity="0.59"/>
<path d="M281.4 1218.7l-2.7 0.2" stroke="#6b4a33" stroke-width="0.9" opacity="0.35"/>
<path d="M167.5 1109.6l-2.0 1.2" stroke="#4d3526" stroke-width="1.5" opacity="0.46"/>
<path d="M358.9 1151.0l-0.1 1.8" stroke="#b28e6c" stroke-width="0.8" opacity="0.40"/>
<path d="M158.8 1255.9l3.4 3.0" stroke="#b28e6c" stroke-width="1.5" opacity="0.66"/>
<path d="M111.8 1135.9l0.1 1.5" stroke="#6b4a33" stroke-width="0.9" opacity="0.72"/>
<path d="M168.2 1235.2l1.9 3.6" stroke="#b28e6c" stroke-width="1.1" opacity="0.65"/>
<path d="M479.6 1209.3l1.7 4.6" stroke="#8a6748" stroke-width="1.1" opacity="0.90"/>
<path d="M335.8 1255.4l-4.6 0.4" stroke="#b28e6c" stroke-width="1.5" opacity="0.45"/>
<path d="M478.8 1229.9l-0.1 4.5" stroke="#6b4a33" stroke-width="1.1" opacity="0.55"/>
<path d="M365.1 1158.5l-1.4 1.2" stroke="#8a6748" stroke-width="1.4" opacity="0.88"/>
<path d="M193.9 1114.6l-3.2 2.2" stroke="#5a3e2b" stroke-width="1.1" opacity="0.50"/>
<path d="M133.1 1110.9l-4.2 2.2" stroke="#7d5a40" stroke-width="1.5" opacity="0.36"/>
<path d="M418.7 1193.5l1.3 2.1" stroke="#5a3e2b" stroke-width="0.9" opacity="0.49"/>
<path d="M269.5 1092.0l2.2 2.3" stroke="#4d3526" stroke-width="1.6" opacity="0.80"/>
<path d="M272.2 1269.0l3.6 1.6" stroke="#b28e6c" stroke-width="1.6" opacity="0.83"/>
<path d="M72.3 1245.9l-3.3 1.8" stroke="#8a6748" stroke-width="0.9" opacity="0.57"/>
<path d="M256.4 1112.6l0.8 1.8" stroke="#b28e6c" stroke-width="1.6" opacity="0.38"/>
<path d="M94.5 1215.0l3.4 1.7" stroke="#4d3526" stroke-width="1.3" opacity="0.57"/>
<path d="M468.2 1164.4l-3.8 0.1" stroke="#b28e6c" stroke-width="1.4" opacity="0.38"/>
<path d="M434.1 1241.0l-0.2 3.6" stroke="#5a3e2b" stroke-width="1.5" opacity="0.65"/>
<path d="M167.7 1131.3l-2.5 1.8" stroke="#5a3e2b" stroke-width="1.3" opacity="0.83"/>
<path d="M362.6 1129.8l-0.1 3.5" stroke="#a07a58" stroke-width="0.9" opacity="0.85"/>
<path d="M464.3 1178.2l1.5 0.0" stroke="#6b4a33" stroke-width="1.5" opacity="0.42"/>
<path d="M165.1 1150.1l1.4 2.9" stroke="#8a6748" stroke-width="1.3" opacity="0.48"/>
<path d="M187.4 1193.4l-0.0 2.6" stroke="#b28e6c" stroke-width="1.4" opacity="0.88"/>
<path d="M215.0 1260.1l-2.1 1.5" stroke="#7d5a40" stroke-width="1.3" opacity="0.68"/>
<path d="M242.2 1159.6l-2.2 2.0" stroke="#5a3e2b" stroke-width="1.7" opacity="0.77"/>
<path d="M129.4 1161.0l2.2 0.0" stroke="#8a6748" stroke-width="1.7" opacity="0.72"/>
<path d="M265.5 1228.0l-1.1 2.0" stroke="#8a6748" stroke-width="1.5" opacity="0.53"/>
<path d="M64.2 1252.5l-3.3 3.2" stroke="#8a6748" stroke-width="1.7" opacity="0.49"/>
<path d="M227.8 1089.3l-1.5 0.5" stroke="#7d5a40" stroke-width="0.9" opacity="0.51"/>
<path d="M235.6 1280.2l3.2 1.6" stroke="#6b4a33" stroke-width="1.6" opacity="0.48"/>
<path d="M391.6 1281.2l2.1 1.1" stroke="#6b4a33" stroke-width="0.8" opacity="0.65"/>
<path d="M88.8 1125.7l4.0 2.5" stroke="#b28e6c" stroke-width="0.9" opacity="0.43"/>
<path d="M82.8 1218.7l3.5 1.0" stroke="#8a6748" stroke-width="0.9" opacity="0.78"/>
<path d="M287.4 1244.7l0.8 1.4" stroke="#6b4a33" stroke-width="1.4" opacity="0.42"/>
<path d="M369.9 1278.2l1.5 3.6" stroke="#b28e6c" stroke-width="1.7" opacity="0.74"/>
<path d="M120.4 1230.5l3.1 0.4" stroke="#8a6748" stroke-width="1.0" opacity="0.65"/>
<path d="M451.9 1093.7l2.2 2.3" stroke="#8a6748" stroke-width="1.5" opacity="0.36"/>
<path d="M413.7 1264.0l1.4 3.0" stroke="#4d3526" stroke-width="1.2" opacity="0.89"/>
<path d="M372.9 1178.3l-4.9 0.1" stroke="#7d5a40" stroke-width="1.3" opacity="0.58"/>
<path d="M197.8 1165.9l2.0 1.7" stroke="#4d3526" stroke-width="1.0" opacity="0.72"/>
<path d="M150.3 1189.2l2.2 0.6" stroke="#6b4a33" stroke-width="1.6" opacity="0.56"/>
<path d="M126.0 1276.3l-1.3 3.6" stroke="#8a6748" stroke-width="1.6" opacity="0.37"/>
<path d="M132.4 1253.9l1.2 1.6" stroke="#a07a58" stroke-width="1.4" opacity="0.76"/>
<path d="M111.4 1283.3l-0.9 3.5" stroke="#7d5a40" stroke-width="1.7" opacity="0.50"/>
<path d="M387.5 1239.2l-1.5 4.5" stroke="#b28e6c" stroke-width="1.1" opacity="0.57"/>
<path d="M467.7 1147.2l4.8 0.8" stroke="#8a6748" stroke-width="1.3" opacity="0.39"/>
<path d="M233.7 1219.3l-1.6 0.7" stroke="#a07a58" stroke-width="1.4" opacity="0.85"/>
<path d="M326.7 1236.2l-0.5 3.3" stroke="#b28e6c" stroke-width="0.9" opacity="0.47"/>
<path d="M233.7 1226.9l-3.4 0.7" stroke="#5a3e2b" stroke-width="1.2" opacity="0.71"/>
<path d="M54.1 1170.6l2.0 0.1" stroke="#b28e6c" stroke-width="1.0" opacity="0.90"/>
<path d="M300.4 1152.1l2.4 2.3" stroke="#7d5a40" stroke-width="1.5" opacity="0.57"/>
<path d="M93.6 1182.3l1.9 4.6" stroke="#6b4a33" stroke-width="1.4" opacity="0.39"/>
<path d="M306.9 1196.6l2.9 0.2" stroke="#7d5a40" stroke-width="1.3" opacity="0.55"/>
<path d="M473.3 1226.9l-0.8 2.3" stroke="#5a3e2b" stroke-width="1.1" opacity="0.65"/>
<path d="M77.9 1165.8l-1.7 1.0" stroke="#6b4a33" stroke-width="1.2" opacity="0.63"/>
<path d="M377.3 1247.4l-1.9 2.1" stroke="#4d3526" stroke-width="1.5" opacity="0.48"/>
<path d="M153.1 1199.6l-2.6 0.3" stroke="#4d3526" stroke-width="0.9" opacity="0.83"/>
<path d="M472.4 1108.4l2.2 4.3" stroke="#b28e6c" stroke-width="0.9" opacity="0.68"/>
<path d="M415.2 1094.6l3.1 2.1" stroke="#8a6748" stroke-width="1.6" opacity="0.43"/>
<path d="M89.7 1191.0l-1.3 3.7" stroke="#7d5a40" stroke-width="1.8" opacity="0.54"/>
<path d="M146.8 1125.4l2.1 3.6" stroke="#5a3e2b" stroke-width="1.7" opacity="0.87"/>
<path d="M321.4 1134.7l-0.9 4.1" stroke="#5a3e2b" stroke-width="1.2" opacity="0.83"/>
<path d="M295.6 1264.1l-3.8 1.3" stroke="#5a3e2b" stroke-width="1.3" opacity="0.35"/>
<path d="M437.7 1129.1l-2.6 1.3" stroke="#8a6748" stroke-width="1.1" opacity="0.75"/>
<path d="M117.4 1259.1l-0.3 3.0" stroke="#a07a58" stroke-width="1.8" opacity="0.64"/>
<path d="M295.8 1127.5l-2.5 2.0" stroke="#b28e6c" stroke-width="1.6" opacity="0.58"/>
<path d="M199.7 1096.1l2.8 2.2" stroke="#4d3526" stroke-width="0.9" opacity="0.45"/>
<path d="M474.7 1163.1l2.8 1.2" stroke="#6b4a33" stroke-width="1.6" opacity="0.49"/>
<path d="M307.6 1134.7l2.2 3.6" stroke="#a07a58" stroke-width="1.5" opacity="0.67"/>
<path d="M262.9 1171.2l2.7 0.1" stroke="#a07a58" stroke-width="1.3" opacity="0.46"/>
<path d="M431.0 1223.9l1.9 1.2" stroke="#8a6748" stroke-width="1.3" opacity="0.62"/>
<path d="M415.9 1111.9l1.2 1.0" stroke="#5a3e2b" stroke-width="0.9" opacity="0.70"/>
<path d="M310.6 1234.9l-0.3 1.7" stroke="#4d3526" stroke-width="1.6" opacity="0.64"/>
<path d="M126.0 1260.0l2.2 0.3" stroke="#5a3e2b" stroke-width="1.2" opacity="0.45"/>
<path d="M393.4 1241.3l2.0 3.0" stroke="#8a6748" stroke-width="0.8" opacity="0.48"/>
<path d="M186.9 1254.4l3.7 1.2" stroke="#b28e6c" stroke-width="1.8" opacity="0.79"/>
<path d="M75.7 1183.2l1.5 1.2" stroke="#7d5a40" stroke-width="1.2" opacity="0.82"/>
<path d="M304.2 1107.3l3.7 1.6" stroke="#b28e6c" stroke-width="1.6" opacity="0.36"/>
<path d="M119.2 1176.4l-2.8 4.0" stroke="#8a6748" stroke-width="1.4" opacity="0.68"/>
<path d="M276.4 1239.9l-0.2 2.6" stroke="#4d3526" stroke-width="1.7" opacity="0.35"/>
<path d="M433.2 1109.7l-0.8 2.0" stroke="#6b4a33" stroke-width="1.6" opacity="0.72"/>
<path d="M465.5 1202.0l-1.5 4.7" stroke="#b28e6c" stroke-width="1.7" opacity="0.54"/>
<path d="M171.7 1155.6l-0.5 4.0" stroke="#6b4a33" stroke-width="1.5" opacity="0.87"/>
<path d="M314.5 1234.4l-0.7 2.2" stroke="#6b4a33" stroke-width="1.4" opacity="0.51"/>
<path d="M255.3 1090.8l2.9 1.1" stroke="#8a6748" stroke-width="1.7" opacity="0.69"/>
<path d="M375.0 1248.3l0.6 3.0" stroke="#5a3e2b" stroke-width="1.0" opacity="0.53"/>
<path d="M80.5 1164.5l-2.9 2.6" stroke="#7d5a40" stroke-width="0.8" opacity="0.73"/>
<path d="M387.0 1153.3l-4.0 0.1" stroke="#8a6748" stroke-width="1.4" opacity="0.75"/>
<path d="M463.6 1184.5l4.5 2.0" stroke="#4d3526" stroke-width="1.2" opacity="0.64"/>
<path d="M280.2 1146.4l3.6 0.7" stroke="#4d3526" stroke-width="1.7" opacity="0.40"/>
<path d="M434.3 1176.4l4.3 2.1" stroke="#7d5a40" stroke-width="1.4" opacity="0.64"/>
<path d="M151.6 1191.5l1.6 0.0" stroke="#a07a58" stroke-width="1.7" opacity="0.39"/>
<path d="M335.3 1188.1l-0.5 4.4" stroke="#4d3526" stroke-width="1.6" opacity="0.43"/>
<path d="M392.2 1173.4l1.7 0.9" stroke="#8a6748" stroke-width="1.7" opacity="0.79"/>
<path d="M468.6 1236.3l1.1 3.1" stroke="#b28e6c" stroke-width="1.4" opacity="0.53"/>
<path d="M366.1 1095.4l-3.2 1.5" stroke="#4d3526" stroke-width="1.5" opacity="0.56"/>
<path d="M346.4 1265.2l1.3 3.1" stroke="#5a3e2b" stroke-width="1.2" opacity="0.77"/>
<path d="M376.7 1165.9l-1.1 2.9" stroke="#8a6748" stroke-width="1.8" opacity="0.63"/>
<path d="M367.4 1169.4l2.8 0.2" stroke="#a07a58" stroke-width="1.6" opacity="0.51"/>
<path d="M142.1 1260.3l0.9 1.5" stroke="#4d3526" stroke-width="1.1" opacity="0.71"/>
<path d="M128.7 1183.6l2.3 2.6" stroke="#4d3526" stroke-width="1.1" opacity="0.43"/>
<path d="M172.7 1219.6l1.0 3.8" stroke="#a07a58" stroke-width="1.6" opacity="0.87"/>
<path d="M204.8 1254.8l2.8 2.5" stroke="#6b4a33" stroke-width="1.3" opacity="0.44"/>
<path d="M306.1 1229.8l-1.9 0.0" stroke="#5a3e2b" stroke-width="1.5" opacity="0.69"/>
<path d="M77.4 1141.7l-2.4 0.5" stroke="#8a6748" stroke-width="0.9" opacity="0.37"/>
<path d="M306.8 1119.7l0.9 2.6" stroke="#5a3e2b" stroke-width="1.0" opacity="0.59"/>
<path d="M175.8 1220.5l-1.6 0.6" stroke="#6b4a33" stroke-width="0.8" opacity="0.59"/>
<path d="M261.5 1116.7l2.3 2.1" stroke="#4d3526" stroke-width="1.8" opacity="0.89"/>
<path d="M234.4 1214.4l3.3 1.5" stroke="#6b4a33" stroke-width="1.7" opacity="0.43"/>
<path d="M125.2 1264.9l-2.4 3.4" stroke="#6b4a33" stroke-width="1.5" opacity="0.51"/>
<path d="M100.1 1147.5l-2.6 0.2" stroke="#8a6748" stroke-width="1.5" opacity="0.90"/>
<path d="M320.2 1160.4l2.2 3.7" stroke="#5a3e2b" stroke-width="1.2" opacity="0.47"/>
<path d="M481.5 1172.4l0.5 2.5" stroke="#4d3526" stroke-width="1.0" opacity="0.81"/>
<path d="M148.7 1107.5l2.7 3.0" stroke="#b28e6c" stroke-width="1.8" opacity="0.77"/>
<path d="M356.3 1250.3l-4.7 1.2" stroke="#a07a58" stroke-width="1.8" opacity="0.45"/>
<path d="M200.9 1149.5l-1.6 1.3" stroke="#6b4a33" stroke-width="1.1" opacity="0.86"/>
<path d="M60.7 1159.2l-3.0 2.4" stroke="#4d3526" stroke-width="1.1" opacity="0.79"/>
<path d="M120.7 1199.7l-2.3 3.4" stroke="#7d5a40" stroke-width="1.6" opacity="0.62"/>
<path d="M258.0 1183.5l-2.8 3.0" stroke="#8a6748" stroke-width="1.4" opacity="0.47"/>
<path d="M346.1 1250.0l3.9 0.1" stroke="#4d3526" stroke-width="1.6" opacity="0.56"/>
<path d="M204.7 1173.5l-0.5 1.5" stroke="#a07a58" stroke-width="1.1" opacity="0.63"/>
<path d="M451.2 1243.9l2.2 1.7" stroke="#5a3e2b" stroke-width="1.5" opacity="0.76"/>
<path d="M234.7 1112.0l-4.1 2.0" stroke="#4d3526" stroke-width="1.7" opacity="0.68"/>
<path d="M252.4 1279.1l-3.4 2.7" stroke="#5a3e2b" stroke-width="1.8" opacity="0.69"/>
<path d="M472.9 1266.1l3.6 2.2" stroke="#5a3e2b" stroke-width="1.4" opacity="0.77"/>
<path d="M332.9 1152.7l-0.7 2.1" stroke="#b28e6c" stroke-width="1.6" opacity="0.62"/>
<path d="M330.0 1283.3l1.0 1.2" stroke="#6b4a33" stroke-width="1.3" opacity="0.71"/>
<path d="M410.3 1262.6l1.7 4.6" stroke="#5a3e2b" stroke-width="1.2" opacity="0.87"/>
<path d="M159.0 1246.3l2.9 3.7" stroke="#7d5a40" stroke-width="1.2" opacity="0.82"/>
<path d="M80.0 1281.9l-2.7 2.1" stroke="#4d3526" stroke-width="1.4" opacity="0.87"/>
<path d="M111.9 1246.8l-4.1 1.3" stroke="#b28e6c" stroke-width="1.1" opacity="0.82"/>
<path d="M329.5 1176.2l-0.9 1.9" stroke="#6b4a33" stroke-width="1.6" opacity="0.74"/>
<path d="M174.5 1098.4l4.0 0.7" stroke="#a07a58" stroke-width="1.5" opacity="0.55"/>
<path d="M372.5 1235.2l0.6 1.5" stroke="#b28e6c" stroke-width="0.9" opacity="0.73"/>
<path d="M231.9 1238.8l-1.6 2.5" stroke="#a07a58" stroke-width="1.8" opacity="0.69"/>
<path d="M228.7 1265.9l-3.4 1.2" stroke="#6b4a33" stroke-width="1.6" opacity="0.44"/>
<path d="M480.9 1242.7l-2.8 1.5" stroke="#7d5a40" stroke-width="1.1" opacity="0.49"/>
<path d="M70.0 1109.8l2.2 2.5" stroke="#4d3526" stroke-width="1.0" opacity="0.51"/>
<path d="M214.0 1213.8l1.7 3.4" stroke="#7d5a40" stroke-width="1.1" opacity="0.58"/>
<path d="M267.7 1109.5l-2.3 1.2" stroke="#8a6748" stroke-width="0.9" opacity="0.86"/>
<path d="M350.3 1120.3l0.5 1.6" stroke="#6b4a33" stroke-width="1.7" opacity="0.83"/>
<path d="M68.8 1271.5l-3.1 0.3" stroke="#8a6748" stroke-width="1.3" opacity="0.71"/>
<path d="M267.1 1166.5l-2.2 1.3" stroke="#5a3e2b" stroke-width="1.4" opacity="0.64"/>
<path d="M202.0 1154.6l-4.3 1.8" stroke="#6b4a33" stroke-width="1.2" opacity="0.78"/>
<path d="M134.6 1182.1l2.2 2.7" stroke="#b28e6c" stroke-width="1.0" opacity="0.69"/>
<path d="M329.9 1135.7l-1.8 4.1" stroke="#5a3e2b" stroke-width="1.0" opacity="0.52"/>
<path d="M194.9 1263.1l-3.9 1.6" stroke="#5a3e2b" stroke-width="1.7" opacity="0.75"/>
<path d="M366.2 1210.9l0.1 4.2" stroke="#a07a58" stroke-width="1.0" opacity="0.81"/>
<path d="M183.3 1184.0l3.9 0.6" stroke="#a07a58" stroke-width="1.2" opacity="0.89"/>
<path d="M268.0 1263.2l0.0 2.5" stroke="#4d3526" stroke-width="0.8" opacity="0.87"/>
<path d="M363.1 1185.2l0.7 1.6" stroke="#a07a58" stroke-width="1.7" opacity="0.39"/>
<path d="M309.7 1276.6l-4.1 0.6" stroke="#5a3e2b" stroke-width="1.2" opacity="0.89"/>
<path d="M428.4 1151.7l-0.4 3.5" stroke="#5a3e2b" stroke-width="1.7" opacity="0.86"/>
<path d="M97.6 1217.1l0.3 1.7" stroke="#4d3526" stroke-width="1.4" opacity="0.36"/>
<path d="M402.4 1176.4l3.9 2.2" stroke="#a07a58" stroke-width="1.4" opacity="0.41"/>
<path d="M145.9 1228.6l-0.5 1.7" stroke="#7d5a40" stroke-width="1.5" opacity="0.56"/>
<path d="M378.4 1108.6l-4.4 2.1" stroke="#8a6748" stroke-width="1.3" opacity="0.61"/>
<path d="M59.2 1192.0l1.3 1.3" stroke="#6b4a33" stroke-width="0.8" opacity="0.82"/>
<path d="M462.4 1283.8l-1.6 1.1" stroke="#a07a58" stroke-width="1.7" opacity="0.53"/>
<path d="M84.8 1277.2l3.6 1.0" stroke="#b28e6c" stroke-width="1.5" opacity="0.88"/>
<path d="M475.8 1206.0l-0.3 1.9" stroke="#8a6748" stroke-width="1.6" opacity="0.59"/>
<path d="M273.5 1254.5l0.9 2.2" stroke="#6b4a33" stroke-width="1.1" opacity="0.63"/>
<path d="M456.7 1122.0l3.0 2.3" stroke="#7d5a40" stroke-width="1.5" opacity="0.59"/>
<path d="M99.2 1160.2l2.9 3.8" stroke="#5a3e2b" stroke-width="1.7" opacity="0.63"/>
<path d="M309.8 1211.8l2.3 3.1" stroke="#7d5a40" stroke-width="1.4" opacity="0.51"/>
<path d="M411.9 1172.7l-3.4 0.2" stroke="#6b4a33" stroke-width="1.7" opacity="0.56"/>
<path d="M350.6 1231.0l-0.7 1.4" stroke="#4d3526" stroke-width="1.2" opacity="0.45"/>
<path d="M398.3 1166.7l2.5 3.6" stroke="#8a6748" stroke-width="1.6" opacity="0.58"/>
<path d="M481.1 1232.1l0.5 2.1" stroke="#5a3e2b" stroke-width="1.7" opacity="0.66"/>
<path d="M202.5 1206.7l4.8 0.7" stroke="#8a6748" stroke-width="1.5" opacity="0.71"/>
<path d="M398.6 1247.4l-1.7 4.0" stroke="#7d5a40" stroke-width="1.3" opacity="0.74"/>
<path d="M400.0 1150.3l-1.7 0.8" stroke="#a07a58" stroke-width="1.1" opacity="0.62"/>
<path d="M270.0 1272.3l2.7 3.8" stroke="#4d3526" stroke-width="1.3" opacity="0.85"/>
<path d="M182.1 1128.5l-0.6 4.5" stroke="#7d5a40" stroke-width="0.8" opacity="0.58"/>
<path d="M118.6 1278.2l1.4 0.7" stroke="#5a3e2b" stroke-width="1.6" opacity="0.76"/>
<path d="M245.6 1193.5l-4.7 0.2" stroke="#a07a58" stroke-width="1.7" opacity="0.66"/>
<path d="M380.6 1232.2l-1.7 2.1" stroke="#b28e6c" stroke-width="1.6" opacity="0.73"/>
<path d="M124.9 1266.1l-3.8 0.0" stroke="#b28e6c" stroke-width="1.6" opacity="0.61"/>
<path d="M407.7 1272.0l-1.0 1.5" stroke="#8a6748" stroke-width="1.2" opacity="0.42"/>
<path d="M87.0 1217.0l-3.4 0.5" stroke="#a07a58" stroke-width="0.9" opacity="0.75"/>
<path d="M145.4 1271.5l3.5 1.2" stroke="#4d3526" stroke-width="1.0" opacity="0.77"/>
<path d="M276.6 1165.2l-2.7 2.5" stroke="#5a3e2b" stroke-width="1.6" opacity="0.69"/>
<path d="M158.6 1154.2l-1.6 0.6" stroke="#5a3e2b" stroke-width="1.3" opacity="0.85"/>
<path d="M478.3 1270.4l-1.6 3.9" stroke="#4d3526" stroke-width="1.1" opacity="0.60"/>
<path d="M76.5 1104.8l-3.6 2.1" stroke="#7d5a40" stroke-width="1.6" opacity="0.43"/>
<path d="M165.3 1156.8l-3.3 0.0" stroke="#7d5a40" stroke-width="1.6" opacity="0.90"/>
<path d="M297.4 1097.5l3.5 1.6" stroke="#7d5a40" stroke-width="1.2" opacity="0.76"/>
<path d="M315.5 1237.0l1.4 1.6" stroke="#a07a58" stroke-width="1.4" opacity="0.42"/>
<path d="M198.0 1160.9l-2.9 3.1" stroke="#4d3526" stroke-width="0.9" opacity="0.86"/>
<path d="M395.1 1139.0l4.4 2.2" stroke="#4d3526" stroke-width="0.8" opacity="0.73"/>
<path d="M251.9 1192.1l-1.6 0.9" stroke="#a07a58" stroke-width="1.2" opacity="0.58"/>
<path d="M302.3 1179.6l-3.8 1.7" stroke="#4d3526" stroke-width="1.5" opacity="0.44"/>
<path d="M312.8 1098.9l-1.4 1.5" stroke="#8a6748" stroke-width="1.5" opacity="0.77"/>
<path d="M343.2 1256.3l3.9 1.1" stroke="#4d3526" stroke-width="1.6" opacity="0.55"/>
<path d="M250.6 1203.5l-2.4 1.7" stroke="#7d5a40" stroke-width="1.0" opacity="0.64"/>
<path d="M116.2 1122.3l1.0 1.3" stroke="#a07a58" stroke-width="1.6" opacity="0.62"/>
<path d="M329.2 1219.9l-2.5 3.8" stroke="#5a3e2b" stroke-width="1.1" opacity="0.36"/>
<path d="M122.6 1254.7l3.3 1.5" stroke="#5a3e2b" stroke-width="1.1" opacity="0.62"/>
<path d="M437.3 1104.9l-0.5 2.2" stroke="#8a6748" stroke-width="1.8" opacity="0.77"/>
<path d="M173.2 1153.0l-0.3 4.4" stroke="#6b4a33" stroke-width="1.1" opacity="0.68"/>
<path d="M100.6 1091.0l-1.9 3.1" stroke="#4d3526" stroke-width="1.2" opacity="0.40"/>
<path d="M408.9 1201.2l-2.6 0.4" stroke="#8a6748" stroke-width="1.0" opacity="0.80"/>
<path d="M227.7 1132.8l3.0 0.1" stroke="#a07a58" stroke-width="1.8" opacity="0.43"/>
<path d="M300.6 1130.7l-4.0 1.3" stroke="#5a3e2b" stroke-width="1.2" opacity="0.58"/>
<path d="M358.0 1144.6l1.4 2.9" stroke="#7d5a40" stroke-width="1.6" opacity="0.49"/>
<path d="M357.7 1124.7l4.0 2.5" stroke="#6b4a33" stroke-width="1.0" opacity="0.56"/>
<path d="M294.0 1160.1l3.8 2.5" stroke="#6b4a33" stroke-width="1.1" opacity="0.48"/>
<path d="M400.3 1275.4l3.6 2.5" stroke="#7d5a40" stroke-width="1.7" opacity="0.53"/>
<path d="M79.8 1128.0l-3.3 1.3" stroke="#b28e6c" stroke-width="1.1" opacity="0.61"/>
<path d="M296.4 1230.8l1.9 1.7" stroke="#5a3e2b" stroke-width="1.1" opacity="0.73"/>
<path d="M443.0 1180.0l-1.5 1.2" stroke="#4d3526" stroke-width="1.5" opacity="0.61"/>
<path d="M84.3 1185.0l0.8 3.2" stroke="#5a3e2b" stroke-width="1.5" opacity="0.85"/>
<path d="M231.5 1101.8l-2.0 1.4" stroke="#4d3526" stroke-width="1.2" opacity="0.59"/>
<path d="M422.3 1272.5l2.9 0.2" stroke="#8a6748" stroke-width="1.7" opacity="0.79"/>
<path d="M283.0 1280.7l2.9 0.0" stroke="#a07a58" stroke-width="1.2" opacity="0.37"/>
<path d="M119.9 1109.3l-3.1 1.1" stroke="#4d3526" stroke-width="1.3" opacity="0.51"/>
<path d="M127.5 1219.1l-0.7 1.6" stroke="#5a3e2b" stroke-width="0.9" opacity="0.47"/>
<path d="M174.7 1160.1l0.1 4.7" stroke="#6b4a33" stroke-width="0.9" opacity="0.40"/>
<path d="M404.4 1194.5l2.8 0.6" stroke="#4d3526" stroke-width="1.6" opacity="0.61"/>
<path d="M83.6 1158.8l-2.5 1.6" stroke="#5a3e2b" stroke-width="1.5" opacity="0.41"/>
<path d="M409.0 1113.9l-1.4 1.7" stroke="#4d3526" stroke-width="1.7" opacity="0.49"/>
<path d="M281.4 1156.4l-0.5 2.8" stroke="#8a6748" stroke-width="1.0" opacity="0.69"/>
<path d="M427.0 1175.4l2.8 1.7" stroke="#a07a58" stroke-width="1.7" opacity="0.55"/>
<path d="M345.7 1123.5l-0.3 2.4" stroke="#b28e6c" stroke-width="1.2" opacity="0.87"/>
<path d="M297.1 1155.5l-0.8 4.7" stroke="#4d3526" stroke-width="1.0" opacity="0.47"/>
<path d="M223.6 1115.0l3.6 1.1" stroke="#4d3526" stroke-width="1.4" opacity="0.52"/>
<path d="M381.3 1191.8l2.7 4.2" stroke="#b28e6c" stroke-width="1.7" opacity="0.42"/>
<path d="M386.1 1098.5l0.8 1.3" stroke="#5a3e2b" stroke-width="1.5" opacity="0.59"/>
<path d="M268.8 1097.9l-4.1 1.5" stroke="#a07a58" stroke-width="1.4" opacity="0.58"/>
<path d="M111.2 1181.3l-3.0 0.2" stroke="#a07a58" stroke-width="1.2" opacity="0.68"/>
<path d="M439.0 1169.1l1.4 0.5" stroke="#b28e6c" stroke-width="1.3" opacity="0.70"/>
<path d="M179.4 1269.9l-2.0 2.5" stroke="#b28e6c" stroke-width="0.8" opacity="0.53"/>
<path d="M257.0 1200.8l2.9 2.4" stroke="#4d3526" stroke-width="1.0" opacity="0.59"/>
<path d="M481.8 1234.0l0.5 2.3" stroke="#b28e6c" stroke-width="0.8" opacity="0.79"/>
<path d="M172.1 1234.2l-3.6 2.4" stroke="#6b4a33" stroke-width="1.5" opacity="0.38"/>
<path d="M252.9 1271.8l-0.1 1.9" stroke="#6b4a33" stroke-width="1.3" opacity="0.54"/>
<path d="M266.7 1180.9l3.2 2.1" stroke="#b28e6c" stroke-width="1.3" opacity="0.37"/>
<path d="M129.6 1169.4l0.5 4.4" stroke="#5a3e2b" stroke-width="1.5" opacity="0.64"/>
<path d="M195.8 1092.3l-1.2 1.7" stroke="#a07a58" stroke-width="0.8" opacity="0.51"/>
<path d="M324.5 1187.3l2.6 0.3" stroke="#7d5a40" stroke-width="1.7" opacity="0.65"/>
<path d="M125.7 1107.4l3.3 2.9" stroke="#b28e6c" stroke-width="1.2" opacity="0.61"/>
<path d="M360.8 1118.5l-2.5 0.9" stroke="#7d5a40" stroke-width="0.9" opacity="0.42"/>
<path d="M307.3 1135.9l0.4 2.2" stroke="#4d3526" stroke-width="1.5" opacity="0.77"/>
<path d="M83.1 1132.1l3.4 1.4" stroke="#7d5a40" stroke-width="1.5" opacity="0.65"/>
<path d="M454.0 1248.5l-2.1 3.9" stroke="#a07a58" stroke-width="1.0" opacity="0.66"/>
<path d="M248.5 1236.6l-2.8 2.7" stroke="#6b4a33" stroke-width="1.3" opacity="0.86"/>
<path d="M215.5 1116.3l-4.1 0.6" stroke="#8a6748" stroke-width="1.8" opacity="0.59"/>
<path d="M120.7 1185.1l0.1 2.9" stroke="#b28e6c" stroke-width="1.1" opacity="0.59"/>
<path d="M438.5 1129.6l0.9 3.6" stroke="#8a6748" stroke-width="1.5" opacity="0.50"/>
<path d="M229.5 1180.6l3.1 3.1" stroke="#8a6748" stroke-width="1.7" opacity="0.44"/>
<path d="M65.0 1174.8l-2.3 2.5" stroke="#a07a58" stroke-width="1.8" opacity="0.73"/>
<path d="M166.1 1167.3l2.8 0.6" stroke="#b28e6c" stroke-width="1.1" opacity="0.86"/>
<path d="M480.4 1180.3l-4.9 0.7" stroke="#a07a58" stroke-width="1.2" opacity="0.48"/>
<path d="M402.3 1170.6l0.8 4.5" stroke="#8a6748" stroke-width="1.8" opacity="0.89"/>
<path d="M99.8 1190.8l4.1 0.4" stroke="#7d5a40" stroke-width="1.4" opacity="0.58"/>
<path d="M410.5 1197.6l-2.3 2.7" stroke="#4d3526" stroke-width="1.7" opacity="0.46"/>
<path d="M189.4 1176.2l-1.9 2.5" stroke="#5a3e2b" stroke-width="1.3" opacity="0.61"/>
<path d="M356.2 1102.0l3.7 1.5" stroke="#6b4a33" stroke-width="1.5" opacity="0.60"/>
<path d="M238.0 1150.7l2.5 1.7" stroke="#a07a58" stroke-width="1.2" opacity="0.77"/>
<path d="M252.1 1229.4l-4.1 0.1" stroke="#a07a58" stroke-width="1.2" opacity="0.65"/>
<path d="M460.3 1134.1l0.7 4.8" stroke="#b28e6c" stroke-width="1.4" opacity="0.66"/>
<path d="M98.2 1199.3l-2.3 0.5" stroke="#b28e6c" stroke-width="1.0" opacity="0.71"/>
<path d="M428.8 1143.6l-0.4 4.1" stroke="#6b4a33" stroke-width="1.6" opacity="0.64"/>
<path d="M158.8 1148.9l-0.7 4.0" stroke="#7d5a40" stroke-width="1.2" opacity="0.45"/>
<path d="M414.4 1157.0l2.4 0.7" stroke="#b28e6c" stroke-width="1.2" opacity="0.67"/>
<path d="M116.5 1207.8l-1.0 2.1" stroke="#4d3526" stroke-width="1.0" opacity="0.36"/>
<path d="M291.4 1119.9l-0.0 3.2" stroke="#7d5a40" stroke-width="1.5" opacity="0.69"/>
<path d="M216.4 1224.1l-2.8 2.7" stroke="#7d5a40" stroke-width="1.5" opacity="0.78"/>
<path d="M192.5 1109.9l2.5 2.2" stroke="#5a3e2b" stroke-width="1.0" opacity="0.48"/>
<path d="M264.1 1117.2l3.0 2.8" stroke="#6b4a33" stroke-width="1.2" opacity="0.47"/>
<path d="M477.2 1167.7l1.0 3.0" stroke="#7d5a40" stroke-width="0.8" opacity="0.83"/>
<path d="M211.2 1146.6l-2.7 0.6" stroke="#a07a58" stroke-width="1.0" opacity="0.39"/>
<path d="M398.5 1224.0l1.9 2.2" stroke="#7d5a40" stroke-width="1.0" opacity="0.47"/>
<path d="M225.6 1234.2l-0.2 2.3" stroke="#6b4a33" stroke-width="1.0" opacity="0.68"/>
<path d="M233.0 1116.2l-1.6 1.4" stroke="#b28e6c" stroke-width="1.0" opacity="0.65"/>
<path d="M449.5 1100.4l-0.8 2.5" stroke="#5a3e2b" stroke-width="1.2" opacity="0.66"/>
<path d="M211.9 1140.9l3.6 2.0" stroke="#5a3e2b" stroke-width="1.4" opacity="0.37"/>
<path d="M412.5 1156.4l3.2 3.1" stroke="#5a3e2b" stroke-width="1.6" opacity="0.37"/>
<path d="M450.8 1226.0l-2.6 1.5" stroke="#5a3e2b" stroke-width="1.1" opacity="0.44"/>
<path d="M327.9 1131.1l1.1 1.3" stroke="#4d3526" stroke-width="1.7" opacity="0.43"/>
<path d="M235.4 1251.6l1.3 2.0" stroke="#6b4a33" stroke-width="1.3" opacity="0.75"/>
<path d="M98.6 1170.2l-1.9 1.4" stroke="#6b4a33" stroke-width="1.6" opacity="0.83"/>
<path d="M234.2 1114.4l-0.6 2.5" stroke="#6b4a33" stroke-width="0.9" opacity="0.72"/>
<path d="M223.9 1178.9l-1.3 2.6" stroke="#6b4a33" stroke-width="1.2" opacity="0.67"/>
<path d="M148.7 1179.7l-0.6 2.5" stroke="#a07a58" stroke-width="0.9" opacity="0.74"/>
<path d="M476.9 1163.1l-3.6 1.8" stroke="#5a3e2b" stroke-width="1.4" opacity="0.69"/>
<path d="M433.8 1207.6l-1.4 1.3" stroke="#b28e6c" stroke-width="1.4" opacity="0.68"/>
<path d="M223.0 1140.2l2.4 3.5" stroke="#a07a58" stroke-width="1.3" opacity="0.74"/>
<path d="M394.8 1263.3l-0.3 4.8" stroke="#8a6748" stroke-width="1.5" opacity="0.66"/>
<path d="M318.9 1169.8l-2.7 1.8" stroke="#5a3e2b" stroke-width="1.5" opacity="0.46"/>
<path d="M419.4 1199.4l3.0 1.4" stroke="#b28e6c" stroke-width="1.8" opacity="0.84"/>
<path d="M231.1 1170.6l3.0 2.9" stroke="#5a3e2b" stroke-width="1.4" opacity="0.86"/>
<path d="M140.4 1098.0l-0.3 2.7" stroke="#5a3e2b" stroke-width="1.4" opacity="0.87"/>
<path d="M207.4 1202.0l-0.8 2.7" stroke="#5a3e2b" stroke-width="1.1" opacity="0.52"/>
<path d="M136.6 1225.7l-1.6 2.3" stroke="#6b4a33" stroke-width="0.9" opacity="0.64"/>
<path d="M368.5 1099.5l-1.3 1.4" stroke="#8a6748" stroke-width="1.6" opacity="0.83"/>
<path d="M91.5 1132.5l1.0 4.3" stroke="#8a6748" stroke-width="1.7" opacity="0.61"/>
<path d="M441.6 1090.2l-3.7 1.1" stroke="#5a3e2b" stroke-width="1.5" opacity="0.85"/>
<path d="M204.7 1275.3l-2.3 0.7" stroke="#b28e6c" stroke-width="1.4" opacity="0.87"/>
<path d="M478.8 1178.7l-2.1 1.6" stroke="#5a3e2b" stroke-width="1.1" opacity="0.50"/>
<path d="M213.3 1204.7l1.4 1.6" stroke="#b28e6c" stroke-width="1.6" opacity="0.66"/>
<path d="M183.5 1089.3l4.1 1.6" stroke="#8a6748" stroke-width="1.8" opacity="0.50"/>
<path d="M455.8 1174.9l1.9 4.3" stroke="#b28e6c" stroke-width="1.6" opacity="0.51"/>
<path d="M357.7 1155.0l3.8 1.2" stroke="#a07a58" stroke-width="1.2" opacity="0.86"/>
<path d="M445.1 1255.6l-0.6 4.3" stroke="#a07a58" stroke-width="1.4" opacity="0.37"/>
<path d="M293.1 1094.0l0.4 3.6" stroke="#a07a58" stroke-width="1.3" opacity="0.62"/>
<path d="M250.2 1120.9l4.9 0.6" stroke="#5a3e2b" stroke-width="1.2" opacity="0.65"/>
<path d="M231.5 1242.4l2.0 1.2" stroke="#5a3e2b" stroke-width="1.7" opacity="0.45"/>
<path d="M424.9 1153.9l-4.3 0.4" stroke="#4d3526" stroke-width="0.9" opacity="0.64"/>
<path d="M311.2 1252.6l1.9 3.1" stroke="#7d5a40" stroke-width="1.8" opacity="0.66"/>
<path d="M199.2 1215.8l-2.6 2.9" stroke="#4d3526" stroke-width="1.0" opacity="0.39"/>
<path d="M235.2 1161.3l-0.1 1.7" stroke="#6b4a33" stroke-width="1.0" opacity="0.51"/>
<path d="M181.6 1161.5l1.3 4.7" stroke="#a07a58" stroke-width="1.8" opacity="0.66"/>
<path d="M59.0 1182.8l-1.8 3.3" stroke="#a07a58" stroke-width="1.2" opacity="0.45"/>
<path d="M145.4 1106.4l1.0 1.3" stroke="#5a3e2b" stroke-width="0.9" opacity="0.86"/>
<path d="M157.6 1187.0l1.0 1.2" stroke="#b28e6c" stroke-width="1.1" opacity="0.69"/>
<path d="M433.0 1240.2l2.6 1.2" stroke="#7d5a40" stroke-width="1.2" opacity="0.72"/>
<path d="M246.1 1236.1l-1.4 2.5" stroke="#b28e6c" stroke-width="1.2" opacity="0.59"/>
<path d="M345.8 1241.6l-2.6 0.2" stroke="#6b4a33" stroke-width="1.0" opacity="0.53"/>
<path d="M280.6 1210.4l1.8 0.9" stroke="#7d5a40" stroke-width="1.1" opacity="0.84"/>
<path d="M305.9 1166.9l1.7 0.4" stroke="#7d5a40" stroke-width="1.6" opacity="0.67"/>
<path d="M400.6 1204.3l-0.8 2.4" stroke="#6b4a33" stroke-width="1.2" opacity="0.69"/>
<path d="M369.6 1221.3l0.6 2.6" stroke="#4d3526" stroke-width="1.1" opacity="0.70"/>
<path d="M291.1 1102.7l0.2 2.8" stroke="#5a3e2b" stroke-width="1.7" opacity="0.79"/>
<path d="M154.6 1261.3l1.6 3.4" stroke="#b28e6c" stroke-width="1.6" opacity="0.65"/>
<path d="M184.5 1123.8l0.8 2.9" stroke="#5a3e2b" stroke-width="0.9" opacity="0.79"/>
<path d="M294.9 1106.1l-4.3 0.1" stroke="#b28e6c" stroke-width="1.0" opacity="0.49"/>
<path d="M70.4 1181.0l-1.5 2.5" stroke="#a07a58" stroke-width="0.9" opacity="0.87"/>
<path d="M113.1 1246.1l-0.6 2.7" stroke="#a07a58" stroke-width="1.2" opacity="0.49"/>
<path d="M110.6 1215.0l-2.1 1.9" stroke="#6b4a33" stroke-width="1.1" opacity="0.47"/>
<path d="M235.0 1090.0l1.8 1.7" stroke="#7d5a40" stroke-width="0.8" opacity="0.46"/>
<path d="M435.9 1226.6l2.4 0.7" stroke="#5a3e2b" stroke-width="1.7" opacity="0.54"/>
<path d="M72.4 1121.2l0.8 2.0" stroke="#7d5a40" stroke-width="1.4" opacity="0.86"/>
<path d="M362.3 1256.5l-3.5 1.5" stroke="#6b4a33" stroke-width="1.0" opacity="0.48"/>
<path d="M355.6 1209.7l0.9 1.8" stroke="#8a6748" stroke-width="1.5" opacity="0.51"/>
<path d="M255.7 1259.1l3.3 1.6" stroke="#7d5a40" stroke-width="1.5" opacity="0.78"/>
<path d="M102.4 1149.9l-2.0 1.0" stroke="#5a3e2b" stroke-width="1.2" opacity="0.87"/>
<path d="M470.0 1282.9l-3.1 0.9" stroke="#4d3526" stroke-width="1.3" opacity="0.78"/>
<path d="M107.2 1143.1l-2.9 1.6" stroke="#4d3526" stroke-width="1.8" opacity="0.47"/>
<path d="M387.0 1102.5l-1.1 2.3" stroke="#a07a58" stroke-width="1.6" opacity="0.63"/>
<path d="M374.1 1223.0l0.6 3.3" stroke="#7d5a40" stroke-width="1.2" opacity="0.88"/>
<path d="M110.9 1260.2l1.2 1.7" stroke="#5a3e2b" stroke-width="1.7" opacity="0.78"/>
<path d="M453.9 1240.9l2.6 1.8" stroke="#b28e6c" stroke-width="0.9" opacity="0.38"/>
<path d="M471.1 1231.5l-3.1 1.1" stroke="#5a3e2b" stroke-width="1.5" opacity="0.72"/>
<path d="M245.8 1200.4l-0.2 2.7" stroke="#6b4a33" stroke-width="0.8" opacity="0.58"/>
<path d="M183.2 1189.8l2.9 1.2" stroke="#8a6748" stroke-width="1.6" opacity="0.88"/>
<path d="M71.1 1272.7l0.6 4.2" stroke="#4d3526" stroke-width="1.5" opacity="0.82"/>
<path d="M443.4 1235.2l1.2 2.0" stroke="#5a3e2b" stroke-width="1.1" opacity="0.80"/>
<path d="M328.9 1147.2l-1.5 1.6" stroke="#b28e6c" stroke-width="1.3" opacity="0.41"/>
<path d="M182.4 1143.9l0.5 3.3" stroke="#5a3e2b" stroke-width="1.4" opacity="0.66"/>
<path d="M176.4 1148.7l-3.5 2.6" stroke="#8a6748" stroke-width="1.5" opacity="0.63"/>
<path d="M223.4 1226.5l-2.2 4.3" stroke="#4d3526" stroke-width="1.1" opacity="0.70"/>
<path d="M438.6 1267.3l0.8 1.4" stroke="#7d5a40" stroke-width="0.9" opacity="0.62"/>
<path d="M439.4 1143.1l-2.9 3.0" stroke="#4d3526" stroke-width="1.2" opacity="0.44"/>
<path d="M110.4 1260.0l-0.6 4.2" stroke="#5a3e2b" stroke-width="1.2" opacity="0.85"/>
<path d="M321.9 1155.6l-0.9 1.8" stroke="#7d5a40" stroke-width="1.6" opacity="0.85"/>
<path d="M334.2 1283.8l-1.9 4.2" stroke="#b28e6c" stroke-width="1.6" opacity="0.68"/>
<path d="M222.8 1164.0l1.8 1.4" stroke="#4d3526" stroke-width="1.0" opacity="0.48"/>
<path d="M314.1 1222.5l2.0 2.1" stroke="#a07a58" stroke-width="1.2" opacity="0.88"/>
<path d="M363.3 1178.5l0.7 2.2" stroke="#7d5a40" stroke-width="1.3" opacity="0.47"/>
<path d="M273.0 1282.1l3.2 1.2" stroke="#a07a58" stroke-width="1.1" opacity="0.72"/>
<path d="M389.8 1167.9l0.6 1.7" stroke="#7d5a40" stroke-width="1.7" opacity="0.54"/>
<path d="M324.2 1204.4l0.9 2.9" stroke="#5a3e2b" stroke-width="1.3" opacity="0.72"/>
<path d="M195.2 1160.4l-2.1 2.5" stroke="#5a3e2b" stroke-width="1.2" opacity="0.60"/>
<path d="M59.4 1166.2l-0.4 1.7" stroke="#4d3526" stroke-width="1.5" opacity="0.64"/>
<path d="M268.1 1219.6l1.2 4.8" stroke="#7d5a40" stroke-width="1.0" opacity="0.75"/>
<path d="M467.4 1194.1l1.3 2.8" stroke="#7d5a40" stroke-width="1.0" opacity="0.79"/>
<path d="M424.3 1143.4l-0.6 3.0" stroke="#7d5a40" stroke-width="1.3" opacity="0.69"/>
<path d="M175.0 1151.5l1.8 4.4" stroke="#8a6748" stroke-width="0.9" opacity="0.80"/>
<path d="M100.4 1223.0l3.4 2.1" stroke="#6b4a33" stroke-width="1.3" opacity="0.40"/>
<path d="M184.2 1130.1l-3.0 3.1" stroke="#a07a58" stroke-width="1.0" opacity="0.74"/>
<path d="M219.4 1179.5l1.3 1.9" stroke="#8a6748" stroke-width="1.2" opacity="0.86"/>
<path d="M184.5 1146.5l-0.7 1.5" stroke="#4d3526" stroke-width="1.4" opacity="0.88"/>
<path d="M277.4 1210.1l0.6 3.6" stroke="#7d5a40" stroke-width="1.4" opacity="0.37"/>
<path d="M216.0 1225.1l-0.7 4.8" stroke="#b28e6c" stroke-width="0.9" opacity="0.39"/>
<path d="M204.6 1154.5l-1.3 4.4" stroke="#7d5a40" stroke-width="0.9" opacity="0.62"/>
<path d="M243.2 1103.0l-1.8 3.9" stroke="#7d5a40" stroke-width="0.9" opacity="0.67"/>
<path d="M468.6 1168.2l-1.5 1.8" stroke="#8a6748" stroke-width="0.9" opacity="0.51"/>
<path d="M313.9 1218.0l0.4 2.5" stroke="#a07a58" stroke-width="0.8" opacity="0.39"/>
<path d="M213.6 1212.6l1.5 0.7" stroke="#b28e6c" stroke-width="1.5" opacity="0.51"/>
<path d="M126.7 1136.8l-3.2 1.5" stroke="#8a6748" stroke-width="1.5" opacity="0.51"/>
<path d="M275.1 1153.8l-0.5 1.8" stroke="#a07a58" stroke-width="1.7" opacity="0.79"/>
<path d="M425.9 1164.0l2.3 2.4" stroke="#6b4a33" stroke-width="1.1" opacity="0.70"/>
<path d="M388.3 1253.7l-3.1 0.3" stroke="#a07a58" stroke-width="1.2" opacity="0.63"/>
<path d="M433.2 1169.6l-3.2 0.6" stroke="#5a3e2b" stroke-width="1.1" opacity="0.68"/>
<path d="M167.9 1229.2l0.0 2.6" stroke="#5a3e2b" stroke-width="1.5" opacity="0.82"/>
<path d="M91.0 1135.1l-4.4 1.8" stroke="#6b4a33" stroke-width="0.8" opacity="0.86"/>
<path d="M142.7 1276.7l0.7 3.5" stroke="#a07a58" stroke-width="1.0" opacity="0.85"/>
<path d="M475.5 1150.9l-2.1 2.8" stroke="#4d3526" stroke-width="0.9" opacity="0.58"/>
<path d="M272.4 1096.9l-1.4 1.2" stroke="#a07a58" stroke-width="0.9" opacity="0.54"/>
<path d="M342.5 1113.3l-3.7 1.3" stroke="#4d3526" stroke-width="1.4" opacity="0.83"/>
<path d="M81.1 1162.8l2.8 2.3" stroke="#5a3e2b" stroke-width="1.5" opacity="0.70"/>
<path d="M338.6 1120.7l-1.0 4.2" stroke="#b28e6c" stroke-width="1.2" opacity="0.75"/>
<path d="M117.8 1229.8l3.3 2.8" stroke="#6b4a33" stroke-width="0.9" opacity="0.43"/>
<path d="M209.7 1117.7l1.8 3.3" stroke="#8a6748" stroke-width="1.1" opacity="0.79"/>
<path d="M302.8 1137.2l-1.6 2.5" stroke="#7d5a40" stroke-width="1.2" opacity="0.69"/>
<path d="M319.8 1131.0l2.4 1.5" stroke="#7d5a40" stroke-width="1.1" opacity="0.64"/>
<path d="M461.8 1107.5l2.2 2.3" stroke="#4d3526" stroke-width="1.8" opacity="0.35"/>
<path d="M329.4 1115.9l1.6 1.2" stroke="#5a3e2b" stroke-width="1.4" opacity="0.45"/>
<path d="M58.9 1161.2l-3.5 1.4" stroke="#6b4a33" stroke-width="1.1" opacity="0.89"/>
<path d="M110.7 1264.5l-0.1 3.3" stroke="#7d5a40" stroke-width="1.1" opacity="0.65"/>
<path d="M469.8 1264.2l0.1 2.6" stroke="#5a3e2b" stroke-width="0.9" opacity="0.76"/>
<path d="M311.3 1261.2l1.5 2.7" stroke="#b28e6c" stroke-width="1.4" opacity="0.81"/>
<path d="M286.1 1245.4l2.8 2.5" stroke="#6b4a33" stroke-width="1.6" opacity="0.58"/>
<path d="M156.0 1164.3l4.0 1.9" stroke="#b28e6c" stroke-width="1.2" opacity="0.89"/>
<path d="M434.2 1225.7l2.9 3.0" stroke="#8a6748" stroke-width="1.4" opacity="0.55"/>
<path d="M241.8 1224.7l0.2 2.6" stroke="#7d5a40" stroke-width="1.2" opacity="0.45"/>
<path d="M97.4 1191.3l1.5 2.9" stroke="#6b4a33" stroke-width="1.1" opacity="0.67"/>
<path d="M147.6 1089.8l1.1 2.6" stroke="#4d3526" stroke-width="0.9" opacity="0.70"/>
<path d="M89.5 1116.7l3.4 0.1" stroke="#7d5a40" stroke-width="1.2" opacity="0.70"/>
<path d="M460.9 1126.5l1.6 1.3" stroke="#5a3e2b" stroke-width="1.0" opacity="0.39"/>
<path d="M99.3 1156.6l-1.3 1.3" stroke="#4d3526" stroke-width="0.9" opacity="0.61"/>
<path d="M132.7 1183.5l-1.9 3.6" stroke="#8a6748" stroke-width="0.9" opacity="0.38"/>
<path d="M460.5 1143.5l-2.8 0.4" stroke="#7d5a40" stroke-width="1.4" opacity="0.87"/>
<path d="M463.5 1233.0l-1.6 1.1" stroke="#8a6748" stroke-width="1.5" opacity="0.88"/>
<path d="M271.8 1280.6l-2.9 3.8" stroke="#6b4a33" stroke-width="1.5" opacity="0.41"/>
<path d="M266.3 1142.8l1.2 3.6" stroke="#4d3526" stroke-width="0.9" opacity="0.44"/>
<path d="M319.6 1095.0l2.6 0.2" stroke="#4d3526" stroke-width="1.7" opacity="0.37"/>
<path d="M396.1 1110.4l-1.7 0.5" stroke="#a07a58" stroke-width="1.6" opacity="0.56"/>
<path d="M144.4 1175.1l-3.6 2.0" stroke="#7d5a40" stroke-width="0.9" opacity="0.70"/>
<path d="M243.9 1176.9l-1.7 0.8" stroke="#8a6748" stroke-width="1.0" opacity="0.58"/>
<path d="M114.0 1260.4l3.0 0.2" stroke="#5a3e2b" stroke-width="1.3" opacity="0.84"/>
<path d="M301.9 1231.3l1.0 1.2" stroke="#b28e6c" stroke-width="1.7" opacity="0.82"/>
<path d="M365.5 1199.6l-0.1 4.0" stroke="#a07a58" stroke-width="1.7" opacity="0.68"/>
<path d="M365.3 1128.9l-2.0 0.9" stroke="#b28e6c" stroke-width="1.1" opacity="0.57"/>
<path d="M301.4 1278.1l3.2 3.1" stroke="#4d3526" stroke-width="1.3" opacity="0.43"/>
<path d="M131.3 1213.8l1.0 1.6" stroke="#6b4a33" stroke-width="1.6" opacity="0.70"/>
<path d="M291.0 1126.5l-0.3 4.9" stroke="#8a6748" stroke-width="0.8" opacity="0.52"/>
<path d="M156.7 1253.2l3.5 2.3" stroke="#7d5a40" stroke-width="1.5" opacity="0.77"/>
<path d="M198.2 1235.0l-2.2 0.8" stroke="#5a3e2b" stroke-width="0.9" opacity="0.72"/>
<path d="M164.5 1275.7l2.0 3.3" stroke="#6b4a33" stroke-width="1.0" opacity="0.66"/>
<path d="M174.4 1258.7l-1.6 2.9" stroke="#5a3e2b" stroke-width="1.2" opacity="0.46"/>
<path d="M436.0 1218.4l0.8 1.6" stroke="#4d3526" stroke-width="1.2" opacity="0.83"/>
<path d="M175.7 1277.1l3.2 1.4" stroke="#7d5a40" stroke-width="1.8" opacity="0.50"/>
<path d="M396.9 1232.5l-1.6 3.3" stroke="#7d5a40" stroke-width="1.7" opacity="0.64"/>
<path d="M298.0 1205.4l1.6 1.6" stroke="#4d3526" stroke-width="1.8" opacity="0.52"/>
<path d="M174.3 1191.4l4.2 0.5" stroke="#b28e6c" stroke-width="1.1" opacity="0.61"/>
<path d="M231.3 1165.6l-1.7 2.5" stroke="#5a3e2b" stroke-width="1.8" opacity="0.70"/>
<path d="M67.6 1280.4l-1.3 1.7" stroke="#a07a58" stroke-width="1.7" opacity="0.37"/>
<path d="M360.5 1168.7l0.1 4.7" stroke="#4d3526" stroke-width="0.9" opacity="0.67"/>
<path d="M113.1 1242.0l0.6 4.2" stroke="#a07a58" stroke-width="1.8" opacity="0.46"/>
<path d="M210.3 1243.8l2.4 4.1" stroke="#8a6748" stroke-width="1.5" opacity="0.45"/>
<path d="M63.1 1115.7l-2.8 2.3" stroke="#6b4a33" stroke-width="1.6" opacity="0.43"/>
<path d="M128.3 1130.3l-2.9 2.6" stroke="#4d3526" stroke-width="1.7" opacity="0.40"/>
<path d="M442.6 1233.9l-2.3 2.6" stroke="#8a6748" stroke-width="1.5" opacity="0.53"/>
<path d="M242.5 1147.8l3.7 0.0" stroke="#a07a58" stroke-width="1.2" opacity="0.38"/>
<path d="M99.3 1216.2l-3.3 2.1" stroke="#b28e6c" stroke-width="0.9" opacity="0.89"/>
<path d="M174.8 1204.6l-4.3 2.2" stroke="#8a6748" stroke-width="1.0" opacity="0.40"/>
<path d="M101.7 1165.4l2.1 2.8" stroke="#b28e6c" stroke-width="1.1" opacity="0.80"/>
<path d="M326.0 1143.5l-1.5 0.5" stroke="#5a3e2b" stroke-width="0.9" opacity="0.47"/>
<path d="M141.6 1090.5l4.3 0.3" stroke="#b28e6c" stroke-width="1.6" opacity="0.70"/>
<path d="M80.0 1096.5l3.3 2.5" stroke="#6b4a33" stroke-width="1.5" opacity="0.64"/>
<path d="M195.3 1118.3l3.7 1.4" stroke="#6b4a33" stroke-width="1.0" opacity="0.69"/>
<path d="M194.9 1098.5l1.6 2.6" stroke="#4d3526" stroke-width="0.9" opacity="0.58"/>
<path d="M401.9 1116.0l-0.5 4.3" stroke="#a07a58" stroke-width="1.5" opacity="0.37"/>
<path d="M175.7 1187.9l3.3 3.3" stroke="#a07a58" stroke-width="1.3" opacity="0.81"/>
<path d="M319.9 1196.3l-0.2 4.6" stroke="#8a6748" stroke-width="1.3" opacity="0.59"/>
<path d="M456.8 1229.0l-1.7 2.3" stroke="#8a6748" stroke-width="1.6" opacity="0.60"/>
<path d="M277.6 1132.9l-2.8 1.0" stroke="#5a3e2b" stroke-width="0.9" opacity="0.89"/>
</g>
<path d="M54 1086.5H483" stroke="#2a1d13" stroke-width="3" opacity="0.6"/>
<g fill="#2b2b2b">
<path d="M217.6 988h9.6V1190l-3.3 54h-2.2l-4.1 -54Z"/>
<rect x="246.6" y="988" width="6.8" height="111"/>
<rect x="293.4" y="988" width="7.2" height="96"/>
<rect x="338.9" y="988" width="7" height="96"/>
<rect x="384.2" y="1000" width="7" height="84"/>
<rect x="429.7" y="1026" width="6.6" height="58"/>
<rect x="212" y="1081.4" width="272" height="5.2"/>
<rect x="207.5" y="1080.6" width="31" height="6" rx="3"/>
</g>
<path d="M221 990V1230" stroke="#5c5c5c" stroke-width="1.2"/>
<path d="M192.4 1087V1228" stroke="#fff" stroke-width="2.4"/>
<path d="M184.4 1221.8q8 4.2 16 0l-8 19.8Z" fill="#fff"/>
</g>
<g clip-path="url(#k1)">
<rect x="946" y="381" width="260" height="260" fill="#3a3a3a"/>
<path d="M971.7 507.4L972.2 500.1L973.2 492.9L974.7 485.8L976.7 478.9L979.2 472.0L982.1 465.4L985.5 459.0L989.4 452.8L993.6 447.0L998.3 441.4L1003.4 436.2L1008.8 431.3L1014.5 426.9L1020.5 422.8L1026.8 419.2L1033.3 416.0L1040.0 413.3" fill="none" stroke="#f2f2f2" stroke-width="40" stroke-linecap="round" opacity="0.88" filter="url(#b2)"/>
<ellipse cx="1040" cy="470" rx="22" ry="12" fill="#dddddd" opacity="0.5" filter="url(#b2)" transform="rotate(-30 1040 470)"/>
<ellipse cx="990" cy="562" rx="27" ry="32" fill="#f4f4f4" opacity="0.95" filter="url(#b2)" transform="rotate(-42 990 562)"/>
<ellipse cx="1062" cy="452" rx="20" ry="11" fill="#d0d0d0" opacity="0.6" filter="url(#b2)"/>
<path d="M1150 612L1196 560L1215 600L1170 650Z" fill="#c4c4c4" opacity="0.9" filter="url(#b2)"/>
<ellipse cx="1150" cy="455" rx="38" ry="42" fill="#141414" opacity="0.6" filter="url(#b2)"/>
<ellipse cx="1085" cy="470" rx="26" ry="22" fill="#161616" opacity="0.7" filter="url(#b2)"/>
<ellipse cx="1075" cy="590" rx="50" ry="40" fill="#1c1c1c" opacity="0.6" filter="url(#b2)"/>
<g fill="none" stroke-linecap="round">
<path d="M934.7 451.2L1016.4 377.7" stroke="#3a3a3a" stroke-width="3.7" opacity="0.8"/>
<path d="M988.4 633.0L1096.9 535.4" stroke="#262626" stroke-width="3.0" opacity="0.8"/>
<path d="M983.7 507.6L1043.7 453.6" stroke="#3a3a3a" stroke-width="2.1" opacity="0.8"/>
<path d="M1043.8 611.0L1092.5 567.1" stroke="#1c1c1c" stroke-width="2.9" opacity="0.8"/>
<path d="M982.9 656.1L1045.8 599.4" stroke="#3a3a3a" stroke-width="2.1" opacity="0.8"/>
<path d="M1008.2 472.1L1047.4 436.8" stroke="#303030" stroke-width="2.0" opacity="0.8"/>
<path d="M1042.0 591.9L1137.8 505.6" stroke="#1c1c1c" stroke-width="2.9" opacity="0.8"/>
<path d="M1064.9 547.9L1134.3 485.5" stroke="#262626" stroke-width="3.3" opacity="0.8"/>
<path d="M1079.0 500.8L1114.9 468.6" stroke="#262626" stroke-width="2.4" opacity="0.8"/>
<path d="M996.7 672.0L1088.1 589.7" stroke="#1c1c1c" stroke-width="2.2" opacity="0.8"/>
<path d="M1081.9 503.8L1128.0 462.2" stroke="#262626" stroke-width="3.8" opacity="0.8"/>
<path d="M1033.8 500.5L1100.4 440.5" stroke="#3a3a3a" stroke-width="2.6" opacity="0.8"/>
<path d="M1047.7 527.0L1145.6 438.9" stroke="#262626" stroke-width="3.4" opacity="0.8"/>
<path d="M987.0 634.3L1056.9 571.3" stroke="#262626" stroke-width="3.1" opacity="0.8"/>
<path d="M1007.4 430.3L1046.3 395.3" stroke="#262626" stroke-width="3.3" opacity="0.8"/>
<path d="M1040.0 624.4L1132.0 541.6" stroke="#303030" stroke-width="2.5" opacity="0.8"/>
<path d="M924.3 430.6L968.2 391.0" stroke="#3a3a3a" stroke-width="2.7" opacity="0.8"/>
<path d="M1096.8 608.6L1200.0 515.6" stroke="#262626" stroke-width="2.8" opacity="0.8"/>
<path d="M984.5 673.2L1062.5 603.0" stroke="#303030" stroke-width="3.0" opacity="0.8"/>
<path d="M1019.3 500.3L1120.6 409.0" stroke="#262626" stroke-width="3.1" opacity="0.8"/>
<path d="M1044.8 506.9L1135.1 425.6" stroke="#1c1c1c" stroke-width="3.7" opacity="0.8"/>
<path d="M936.0 508.0L989.4 459.9" stroke="#3a3a3a" stroke-width="2.5" opacity="0.8"/>
<path d="M1047.7 463.6L1130.2 389.3" stroke="#262626" stroke-width="4.0" opacity="0.8"/>
<path d="M1070.9 619.1L1121.3 573.7" stroke="#3a3a3a" stroke-width="2.1" opacity="0.8"/>
<path d="M949.3 433.0L1044.0 347.7" stroke="#303030" stroke-width="3.2" opacity="0.8"/>
<path d="M1049.2 493.2L1148.3 403.9" stroke="#303030" stroke-width="2.3" opacity="0.8"/>
<path d="M1051.4 559.0L1140.0 479.2" stroke="#3a3a3a" stroke-width="3.4" opacity="0.8"/>
<path d="M1000.1 598.6L1078.3 528.2" stroke="#262626" stroke-width="3.7" opacity="0.8"/>
<path d="M1061.1 558.8L1124.0 502.2" stroke="#262626" stroke-width="2.3" opacity="0.8"/>
<path d="M954.2 510.4L986.0 481.8" stroke="#3a3a3a" stroke-width="3.6" opacity="0.8"/>
<path d="M949.3 512.5L1002.1 465.0" stroke="#303030" stroke-width="3.1" opacity="0.8"/>
<path d="M1006.3 471.6L1053.9 428.7" stroke="#262626" stroke-width="2.4" opacity="0.8"/>
<path d="M1027.5 615.0L1118.0 533.5" stroke="#1c1c1c" stroke-width="3.2" opacity="0.8"/>
<path d="M1085.8 521.0L1120.2 490.0" stroke="#1c1c1c" stroke-width="2.8" opacity="0.8"/>
<path d="M1033.8 632.8L1109.8 564.3" stroke="#262626" stroke-width="2.5" opacity="0.8"/>
<path d="M1064.9 595.3L1098.1 565.5" stroke="#3a3a3a" stroke-width="2.3" opacity="0.8"/>
<path d="M1115.1 644.9L1211.7 558.0" stroke="#3a3a3a" stroke-width="3.9" opacity="0.8"/>
<path d="M918.5 473.0L989.8 408.8" stroke="#303030" stroke-width="3.9" opacity="0.8"/>
<path d="M1001.2 452.0L1073.9 386.5" stroke="#262626" stroke-width="2.1" opacity="0.8"/>
<path d="M1082.2 675.6L1141.0 622.7" stroke="#303030" stroke-width="3.3" opacity="0.8"/>
<path d="M972.0 592L994.0 538" stroke="#2a2a2a" stroke-width="2"/>
<path d="M979.5 592L1001.5 538" stroke="#2a2a2a" stroke-width="2"/>
<path d="M987.0 592L1009.0 538" stroke="#2a2a2a" stroke-width="2"/>
<path d="M994.5 592L1016.5 538" stroke="#2a2a2a" stroke-width="2"/>
<path d="M1002.0 592L1024.0 538" stroke="#2a2a2a" stroke-width="2"/>
<path d="M1009.5 592L1031.5 538" stroke="#2a2a2a" stroke-width="2"/>
<path d="M1017.0 592L1039.0 538" stroke="#2a2a2a" stroke-width="2"/>
<path d="M962 548.0L1020 564.0" stroke="#333" stroke-width="1.8"/>
<path d="M962 556.5L1020 572.5" stroke="#333" stroke-width="1.8"/>
<path d="M962 565.0L1020 581.0" stroke="#333" stroke-width="1.8"/>
<path d="M962 573.5L1020 589.5" stroke="#333" stroke-width="1.8"/>
<path d="M962 582.0L1020 598.0" stroke="#333" stroke-width="1.8"/>
<path d="M962 590.5L1020 606.5" stroke="#333" stroke-width="1.8"/>
<path d="M973.6 564.9L970.9 560.5L968.6 556.0L966.9 551.3L965.8 546.7L965.3 542.1L965.4 537.7L966.1 533.6L967.4 529.7L969.3 526.3L971.7 523.4L974.6 520.9L977.9 519.1L981.6 517.8L985.6 517.1L989.9 517.1L994.3 517.6L998.8 518.9L1003.3 520.7L1007.7 523.0L1012.0 525.9L1016.0 529.3L1019.7 533.0L1023.0 537.1L1025.8 541.5L1028.2 546.0L1030.0 550.7L1031.3 555.3L1031.9 559.9L1032.0 564.4L1031.4 568.6L1030.2 572.5L1028.5 576.0L1026.2 579.0L1023.4 581.6L1020.2 583.6L1016.5 585.0L1012.6 585.8L1008.4 586.0L1004.0 585.6L999.5 584.5" stroke="#5c5c5c" stroke-width="1.7" opacity="0.95"/>
<path d="M997.2 515.1L1000.2 516.1L1003.1 517.3L1006.0 518.8L1008.8 520.4L1011.6 522.2L1014.3 524.3L1016.9 526.5L1019.3 528.8L1021.7 531.3L1023.9 533.9L1025.9 536.6L1027.8 539.5L1029.5 542.4L1031.0 545.3L1032.3 548.3L1033.3 551.4L1034.2 554.4L1034.8 557.4L1035.3 560.4L1035.5 563.3L1035.4 566.2L1035.1 568.9L1034.6 571.6L1033.9 574.1L1033.0 576.5L1031.8 578.8L1030.4 580.9L1028.9 582.8L1027.1 584.5L1025.2 586.0L1023.1 587.4L1020.8 588.5L1018.4 589.3L1015.9 590.0L1013.3 590.4L1010.6 590.5L1007.8 590.5L1004.9 590.1L1002.0 589.6L999.1 588.8" stroke="#303030" stroke-width="2.1" opacity="0.95"/>
<path d="M966.0 569.3L962.5 563.7L959.6 557.9L957.5 552.0L956.1 546.1L955.4 540.3L955.5 534.7L956.4 529.4L958.1 524.6L960.5 520.3L963.5 516.5L967.2 513.4L971.4 511.0L976.2 509.4L981.3 508.5L986.7 508.5L992.3 509.2L998.0 510.8L1003.8 513.1L1009.4 516.1L1014.8 519.7L1019.9 524.0L1024.6 528.8L1028.7 534.0L1032.4 539.5L1035.4 545.3L1037.7 551.2L1039.3 557.1L1040.1 563.0L1040.2 568.6L1039.4 574.0L1038.0 578.9L1035.8 583.4L1032.8 587.3L1029.3 590.5L1025.2 593.1L1020.6 594.9L1015.5 595.9L1010.2 596.1L1004.6 595.6L998.9 594.2" stroke="#5c5c5c" stroke-width="2.0" opacity="0.95"/>
<path d="M995.4 510.1L998.9 511.3L1002.3 512.7L1005.7 514.4L1009.0 516.3L1012.3 518.5L1015.5 520.9L1018.5 523.4L1021.4 526.2L1024.2 529.1L1026.8 532.2L1029.2 535.4L1031.4 538.8L1033.3 542.2L1035.1 545.6L1036.6 549.2L1037.9 552.7L1038.9 556.3L1039.7 559.8L1040.2 563.4L1040.4 566.8L1040.3 570.2L1040.0 573.4L1039.4 576.6L1038.6 579.5L1037.5 582.4L1036.1 585.0L1034.5 587.5L1032.6 589.7L1030.6 591.8L1028.3 593.6L1025.8 595.1L1023.2 596.4L1020.4 597.4L1017.4 598.1L1014.3 598.6L1011.1 598.8L1007.8 598.7L1004.4 598.4L1001.0 597.7L997.6 596.8" stroke="#303030" stroke-width="1.7" opacity="0.95"/>
<path d="M962.4 571.3L958.5 565.1L955.3 558.6L952.9 552.0L951.3 545.5L950.6 539.0L950.8 532.8L951.7 527.0L953.6 521.6L956.2 516.8L959.6 512.6L963.7 509.2L968.4 506.5L973.7 504.7L979.4 503.7L985.4 503.7L991.6 504.5L998.0 506.2L1004.3 508.8L1010.6 512.1L1016.6 516.2L1022.2 520.9L1027.4 526.2L1032.1 532.0L1036.1 538.2L1039.5 544.6L1042.0 551.2L1043.8 557.8L1044.7 564.2L1044.8 570.5L1044.0 576.4L1042.3 581.9L1039.9 586.9L1036.7 591.2L1032.7 594.8L1028.1 597.7L1023.0 599.7L1017.4 600.8L1011.4 601.1L1005.2 600.5L998.9 598.9" stroke="#6e6e6e" stroke-width="1.8" opacity="0.95"/>
<path d="M997.1 500.4L1001.2 501.8L1005.3 503.5L1009.3 505.5L1013.2 507.8L1017.1 510.4L1020.8 513.2L1024.4 516.2L1027.9 519.5L1031.1 523.0L1034.2 526.6L1037.0 530.4L1039.6 534.3L1042.0 538.4L1044.1 542.5L1045.9 546.7L1047.4 550.9L1048.6 555.1L1049.5 559.3L1050.1 563.4L1050.3 567.5L1050.3 571.5L1049.9 575.4L1049.2 579.1L1048.2 582.6L1046.9 586.0L1045.2 589.1L1043.3 592.0L1041.2 594.7L1038.7 597.1L1036.0 599.2L1033.1 601.0L1030.0 602.5L1026.6 603.7L1023.1 604.6L1019.5 605.2L1015.7 605.4L1011.8 605.3L1007.8 604.9L1003.8 604.1L999.7 603.0" stroke="#303030" stroke-width="2.1" opacity="0.95"/>
<path d="M955.1 575.7L950.5 568.4L946.8 560.8L944.0 553.1L942.1 545.4L941.3 537.8L941.5 530.6L942.6 523.7L944.8 517.4L947.9 511.8L951.8 506.9L956.6 502.8L962.2 499.7L968.3 497.6L975.0 496.5L982.0 496.4L989.4 497.4L996.8 499.4L1004.3 502.4L1011.6 506.3L1018.6 511.1L1025.2 516.6L1031.3 522.9L1036.8 529.6L1041.5 536.9L1045.4 544.4L1048.4 552.1L1050.5 559.8L1051.6 567.4L1051.6 574.7L1050.7 581.7L1048.8 588.1L1045.9 593.9L1042.1 599.0L1037.5 603.2L1032.1 606.6L1026.1 608.9L1019.6 610.3L1012.6 610.6L1005.3 609.8L997.9 608.1" stroke="#979797" stroke-width="1.8" opacity="0.95"/>
<path d="M996.2 493.1L1000.9 494.7L1005.6 496.7L1010.2 499.0L1014.8 501.6L1019.3 504.6L1023.6 507.8L1027.8 511.3L1031.8 515.1L1035.5 519.1L1039.1 523.4L1042.3 527.7L1045.4 532.3L1048.1 537.0L1050.5 541.7L1052.6 546.6L1054.3 551.4L1055.7 556.3L1056.7 561.1L1057.4 565.9L1057.7 570.6L1057.6 575.2L1057.2 579.7L1056.4 584.0L1055.2 588.1L1053.7 591.9L1051.8 595.6L1049.6 598.9L1047.1 602.0L1044.3 604.8L1041.2 607.2L1037.8 609.3L1034.2 611.1L1030.3 612.5L1026.3 613.5L1022.0 614.2L1017.6 614.4L1013.1 614.3L1008.5 613.8L1003.9 612.9L999.2 611.7" stroke="#6e6e6e" stroke-width="2.1" opacity="0.95"/>
<path d="M950.4 577.7L945.1 569.3L940.9 560.6L937.6 551.7L935.5 542.9L934.5 534.2L934.7 525.8L936.1 518.0L938.5 510.7L942.1 504.2L946.7 498.6L952.2 494.0L958.5 490.4L965.6 488.0L973.2 486.7L981.4 486.6L989.8 487.7L998.3 490.0L1006.9 493.4L1015.3 497.9L1023.4 503.4L1031.0 509.8L1038.0 517.0L1044.3 524.8L1049.7 533.1L1054.2 541.7L1057.7 550.5L1060.0 559.4L1061.3 568.1L1061.4 576.6L1060.3 584.6L1058.1 592.0L1054.7 598.6L1050.4 604.5L1045.1 609.3L1038.9 613.1L1032.0 615.9L1024.5 617.4L1016.4 617.7L1008.1 616.9L999.5 614.9" stroke="#7c7c7c" stroke-width="2.4" opacity="0.95"/>
<path d="M996.5 486.1L1001.7 487.9L1006.9 490.1L1012.1 492.7L1017.2 495.6L1022.1 498.9L1026.9 502.5L1031.5 506.4L1036.0 510.6L1040.2 515.1L1044.1 519.7L1047.7 524.6L1051.1 529.7L1054.1 534.8L1056.8 540.1L1059.1 545.5L1061.0 550.9L1062.5 556.3L1063.7 561.7L1064.4 567.0L1064.8 572.2L1064.7 577.3L1064.2 582.3L1063.3 587.0L1062.0 591.6L1060.3 595.9L1058.3 599.9L1055.8 603.6L1053.0 607.1L1049.9 610.1L1046.4 612.9L1042.7 615.2L1038.6 617.1L1034.4 618.7L1029.9 619.8L1025.2 620.6L1020.3 620.8L1015.3 620.7L1010.2 620.2L1005.0 619.2L999.8 617.8" stroke="#3a3a3a" stroke-width="2.3" opacity="0.95"/>
<path d="M942.2 582.8L936.3 573.3L931.5 563.5L927.9 553.6L925.5 543.6L924.4 533.8L924.6 524.4L926.1 515.5L928.9 507.4L932.9 500.1L938.0 493.7L944.3 488.5L951.4 484.5L959.4 481.7L968.0 480.3L977.1 480.2L986.6 481.4L996.3 484.0L1005.9 487.9L1015.4 493.0L1024.5 499.2L1033.1 506.3L1041.0 514.4L1048.0 523.2L1054.2 532.5L1059.2 542.3L1063.1 552.2L1065.8 562.2L1067.2 572.1L1067.3 581.6L1066.1 590.6L1063.6 598.9L1059.8 606.4L1054.9 613.0L1049.0 618.5L1042.0 622.8L1034.2 625.8L1025.7 627.6L1016.7 628.0L1007.3 627.0L997.6 624.7" stroke="#979797" stroke-width="2.0" opacity="0.95"/>
<path d="M996.6 478.5L1002.4 480.5L1008.2 482.9L1013.9 485.8L1019.6 489.0L1025.1 492.7L1030.4 496.7L1035.6 501.1L1040.5 505.7L1045.1 510.7L1049.5 515.9L1053.6 521.3L1057.3 526.9L1060.6 532.7L1063.6 538.5L1066.2 544.5L1068.3 550.5L1070.0 556.5L1071.3 562.5L1072.1 568.4L1072.5 574.2L1072.4 579.9L1071.9 585.4L1070.9 590.7L1069.4 595.7L1067.6 600.5L1065.3 605.0L1062.5 609.2L1059.4 612.9L1055.9 616.4L1052.1 619.4L1047.9 622.0L1043.5 624.2L1038.7 625.9L1033.7 627.1L1028.5 627.9L1023.1 628.3L1017.5 628.1L1011.8 627.5L1006.1 626.4L1000.3 624.9" stroke="#6e6e6e" stroke-width="1.8" opacity="0.95"/>
<path d="M940.5 582.7L934.1 572.4L928.9 561.8L925.0 551.0L922.4 540.2L921.2 529.6L921.4 519.4L923.0 509.8L926.1 500.9L930.4 493.0L936.0 486.1L942.7 480.4L950.5 476.1L959.1 473.1L968.5 471.5L978.4 471.4L988.7 472.8L999.1 475.6L1009.6 479.8L1019.8 485.3L1029.7 492.0L1039.0 499.8L1047.6 508.5L1055.2 518.1L1061.9 528.2L1067.4 538.8L1071.6 549.5L1074.5 560.4L1076.0 571.0L1076.1 581.4L1074.8 591.1L1072.1 600.2L1068.0 608.3L1062.7 615.4L1056.2 621.4L1048.7 626.0L1040.3 629.3L1031.1 631.2L1021.3 631.7L1011.0 630.6L1000.6 628.1" stroke="#5c5c5c" stroke-width="1.7" opacity="0.95"/>
<path d="M993.1 474.3L999.5 476.5L1005.9 479.2L1012.1 482.3L1018.3 485.9L1024.4 489.9L1030.3 494.3L1035.9 499.1L1041.3 504.2L1046.4 509.6L1051.2 515.3L1055.7 521.3L1059.7 527.5L1063.4 533.8L1066.7 540.2L1069.5 546.8L1071.9 553.4L1073.7 560.0L1075.1 566.6L1076.0 573.1L1076.5 579.4L1076.4 585.7L1075.8 591.7L1074.7 597.5L1073.1 603.1L1071.0 608.3L1068.5 613.2L1065.5 617.8L1062.1 622.0L1058.3 625.7L1054.1 629.0L1049.5 631.9L1044.6 634.3L1039.3 636.2L1033.8 637.6L1028.1 638.4L1022.2 638.8L1016.1 638.6L1009.8 638.0L1003.5 636.8L997.1 635.1" stroke="#8a8a8a" stroke-width="2.2" opacity="0.95"/>
<path d="M933.0 586.9L925.8 575.5L920.0 563.6L915.6 551.5L912.7 539.4L911.4 527.5L911.6 516.1L913.4 505.3L916.8 495.4L921.7 486.5L927.9 478.9L935.5 472.5L944.1 467.6L953.8 464.3L964.3 462.5L975.4 462.4L986.9 464.0L998.6 467.1L1010.3 471.8L1021.8 477.9L1032.8 485.4L1043.2 494.2L1052.8 503.9L1061.4 514.6L1068.8 525.9L1075.0 537.8L1079.7 549.8L1082.9 562.0L1084.6 573.9L1084.7 585.4L1083.3 596.4L1080.2 606.5L1075.7 615.6L1069.8 623.6L1062.5 630.2L1054.1 635.5L1044.6 639.2L1034.3 641.3L1023.3 641.7L1011.9 640.6L1000.2 637.8" stroke="#6e6e6e" stroke-width="2.6" opacity="0.95"/>
<path d="M994.5 465.4L1001.5 467.8L1008.4 470.7L1015.3 474.1L1022.1 478.1L1028.7 482.4L1035.1 487.3L1041.3 492.5L1047.2 498.1L1052.8 504.0L1058.0 510.3L1062.9 516.8L1067.3 523.5L1071.3 530.4L1074.9 537.5L1078.0 544.6L1080.6 551.8L1082.6 559.1L1084.2 566.2L1085.1 573.3L1085.6 580.3L1085.5 587.1L1084.8 593.7L1083.7 600.1L1081.9 606.1L1079.7 611.9L1076.9 617.3L1073.6 622.2L1069.9 626.8L1065.7 630.9L1061.1 634.5L1056.1 637.7L1050.7 640.3L1045.0 642.3L1039.0 643.8L1032.8 644.8L1026.3 645.2L1019.6 645.0L1012.8 644.3L1005.9 643.0L998.9 641.1" stroke="#8a8a8a" stroke-width="2.0" opacity="0.95"/>
<path d="M923.5 592.9L915.6 580.2L909.1 567.0L904.3 553.6L901.1 540.2L899.6 527.1L899.9 514.4L901.9 502.5L905.6 491.5L911.0 481.7L917.9 473.2L926.3 466.2L935.9 460.8L946.6 457.1L958.2 455.1L970.5 455.0L983.2 456.7L996.2 460.2L1009.1 465.4L1021.8 472.2L1034.1 480.5L1045.6 490.2L1056.2 501.0L1065.7 512.8L1074.0 525.4L1080.8 538.5L1086.0 551.8L1089.6 565.3L1091.5 578.5L1091.6 591.3L1090.0 603.4L1086.6 614.6L1081.6 624.7L1075.0 633.5L1067.0 640.9L1057.6 646.6L1047.2 650.7L1035.7 653.1L1023.6 653.6L1010.9 652.3L998.0 649.3" stroke="#6e6e6e" stroke-width="2.6" opacity="0.95"/>
<path d="M993.5 457.0L1001.2 459.7L1008.8 462.9L1016.4 466.7L1023.9 471.0L1031.2 475.8L1038.3 481.2L1045.1 486.9L1051.6 493.1L1057.7 499.7L1063.5 506.5L1068.9 513.7L1073.8 521.1L1078.3 528.8L1082.2 536.6L1085.6 544.5L1088.4 552.4L1090.7 560.4L1092.4 568.3L1093.5 576.1L1094.0 583.8L1093.9 591.3L1093.1 598.6L1091.8 605.6L1089.9 612.3L1087.4 618.7L1084.4 624.6L1080.8 630.1L1076.7 635.1L1072.1 639.6L1067.0 643.6L1061.4 647.1L1055.5 650.0L1049.2 652.2L1042.6 653.9L1035.7 655.0L1028.5 655.4L1021.2 655.2L1013.7 654.4L1006.0 653.0L998.3 650.9" stroke="#7c7c7c" stroke-width="2.5" opacity="0.95"/>
<path d="M917.4 596.1L908.8 582.3L901.7 568.0L896.4 553.4L892.9 538.8L891.3 524.5L891.6 510.7L893.8 497.7L897.9 485.8L903.7 475.1L911.3 465.9L920.3 458.2L930.8 452.3L942.5 448.3L955.1 446.2L968.4 446.1L982.3 447.9L996.4 451.7L1010.5 457.3L1024.4 464.7L1037.7 473.8L1050.2 484.3L1061.8 496.1L1072.1 508.9L1081.1 522.6L1088.5 536.9L1094.2 551.4L1098.1 566.0L1100.2 580.4L1100.3 594.3L1098.5 607.5L1094.9 619.7L1089.4 630.7L1082.2 640.3L1073.5 648.3L1063.3 654.6L1051.9 659.1L1039.5 661.6L1026.3 662.2L1012.5 660.8L998.4 657.4" stroke="#5c5c5c" stroke-width="1.9" opacity="0.95"/>
<path d="M996.3 445.5L1004.7 448.4L1013.1 451.9L1021.4 456.0L1029.5 460.7L1037.4 466.0L1045.2 471.8L1052.6 478.1L1059.7 484.8L1066.4 492.0L1072.7 499.5L1078.6 507.3L1083.9 515.4L1088.8 523.7L1093.1 532.2L1096.8 540.8L1099.9 549.5L1102.3 558.2L1104.2 566.8L1105.4 575.4L1105.9 583.8L1105.8 592.0L1105.0 599.9L1103.6 607.6L1101.5 614.9L1098.8 621.8L1095.5 628.2L1091.5 634.2L1087.1 639.7L1082.0 644.6L1076.5 649.0L1070.4 652.8L1064.0 655.9L1057.1 658.4L1049.9 660.2L1042.3 661.4L1034.5 661.8L1026.5 661.6L1018.3 660.7L1010.0 659.2L1001.6 657.0" stroke="#303030" stroke-width="2.0" opacity="0.95"/>
<path d="M911.9 598.4L902.5 583.2L894.8 567.6L889.0 551.6L885.2 535.6L883.4 520.0L883.7 504.9L886.1 490.7L890.6 477.7L897.0 466.0L905.2 455.9L915.2 447.5L926.6 441.0L939.4 436.6L953.2 434.3L967.8 434.2L983.0 436.2L998.4 440.3L1013.8 446.5L1029.0 454.6L1043.5 464.5L1057.2 476.0L1069.9 488.9L1081.2 503.0L1091.0 518.0L1099.1 533.5L1105.3 549.5L1109.6 565.4L1111.9 581.2L1112.0 596.4L1110.1 610.8L1106.1 624.1L1100.1 636.2L1092.3 646.7L1082.7 655.4L1071.6 662.3L1059.1 667.2L1045.5 670.0L1031.1 670.6L1016.0 669.1L1000.6 665.4" stroke="#5c5c5c" stroke-width="1.8" opacity="0.95"/>
<path d="M993.1 438.3L1002.3 441.5L1011.4 445.3L1020.5 449.8L1029.4 455.0L1038.1 460.7L1046.5 467.1L1054.6 473.9L1062.4 481.3L1069.7 489.1L1076.6 497.3L1083.0 505.9L1088.9 514.8L1094.2 523.9L1098.9 533.1L1102.9 542.6L1106.3 552.0L1109.0 561.5L1111.0 571.0L1112.3 580.3L1112.9 589.5L1112.8 598.5L1111.9 607.1L1110.4 615.5L1108.1 623.5L1105.1 631.0L1101.5 638.1L1097.2 644.6L1092.3 650.6L1086.8 656.0L1080.7 660.8L1074.1 664.9L1067.1 668.3L1059.6 671.1L1051.7 673.1L1043.4 674.3L1034.9 674.8L1026.1 674.6L1017.1 673.6L1008.1 671.9L998.9 669.5" stroke="#7c7c7c" stroke-width="2.6" opacity="0.95"/>
<path d="M903.6 603.3L893.4 587.0L885.1 570.0L878.8 552.8L874.7 535.6L872.8 518.6L873.1 502.4L875.7 487.0L880.5 472.9L887.5 460.3L896.4 449.3L907.1 440.3L919.5 433.3L933.2 428.6L948.2 426.1L964.0 425.9L980.4 428.1L997.0 432.6L1013.7 439.3L1030.1 448.0L1045.8 458.7L1060.6 471.2L1074.3 485.1L1086.5 500.3L1097.1 516.4L1105.9 533.3L1112.6 550.5L1117.2 567.8L1119.7 584.8L1119.8 601.2L1117.7 616.8L1113.4 631.2L1106.9 644.2L1098.5 655.5L1088.1 665.0L1076.1 672.5L1062.6 677.7L1048.0 680.8L1032.3 681.4L1016.0 679.8L999.4 675.8" stroke="#5c5c5c" stroke-width="2.5" opacity="0.95"/>
<path d="M991.7 428.6L1001.7 432.0L1011.7 436.2L1021.6 441.1L1031.3 446.8L1040.8 453.1L1050.1 460.0L1058.9 467.5L1067.4 475.6L1075.5 484.1L1083.0 493.1L1090.0 502.4L1096.4 512.1L1102.2 522.1L1107.3 532.2L1111.8 542.5L1115.5 552.9L1118.4 563.3L1120.6 573.6L1122.1 583.8L1122.7 593.8L1122.6 603.6L1121.6 613.1L1119.9 622.3L1117.4 631.0L1114.2 639.2L1110.2 647.0L1105.5 654.1L1100.2 660.7L1094.1 666.6L1087.5 671.8L1080.3 676.3L1072.6 680.0L1064.4 683.0L1055.7 685.2L1046.7 686.6L1037.4 687.1L1027.8 686.9L1018.0 685.8L1008.1 684.0L998.0 681.3" stroke="#3a3a3a" stroke-width="2.2" opacity="0.95"/>
<path d="M958.2 568.9L975.2 553.7" stroke="#979797" stroke-width="1.7"/>
<path d="M952.8 558.1L971.3 541.5" stroke="#6e6e6e" stroke-width="2.4"/>
<path d="M948.9 544.1L964.8 529.7" stroke="#6e6e6e" stroke-width="1.8"/>
<path d="M948.7 531.8L970.9 511.9" stroke="#979797" stroke-width="2.0"/>
<path d="M951.6 521.1L964.8 509.2" stroke="#979797" stroke-width="2.3"/>
<path d="M958.2 511.6L977.2 494.5" stroke="#a4a4a4" stroke-width="2.3"/>
<path d="M969.8 504.6L980.4 495.0" stroke="#a4a4a4" stroke-width="1.6"/>
<path d="M979.0 502.9L1001.7 482.4" stroke="#5c5c5c" stroke-width="1.7"/>
<path d="M989.3 503.5L1011.9 483.2" stroke="#a4a4a4" stroke-width="2.0"/>
<path d="M1004.2 508.3L1024.7 489.8" stroke="#5c5c5c" stroke-width="1.8"/>
<path d="M1015.3 514.9L1031.0 500.8" stroke="#8a8a8a" stroke-width="2.1"/>
<path d="M1025.3 523.6L1047.7 503.4" stroke="#5c5c5c" stroke-width="1.6"/>
<path d="M1036.1 537.6L1056.6 519.2" stroke="#7c7c7c" stroke-width="1.8"/>
<path d="M1041.9 549.7L1054.7 538.2" stroke="#a4a4a4" stroke-width="1.9"/>
<path d="M1045.4 564.5L1065.5 546.4" stroke="#7c7c7c" stroke-width="1.5"/>
<path d="M1045.2 574.6L1060.9 560.5" stroke="#8a8a8a" stroke-width="1.9"/>
<path d="M1041.1 587.4L1062.3 568.3" stroke="#a4a4a4" stroke-width="1.9"/>
<path d="M1035.5 594.7L1049.2 582.4" stroke="#a4a4a4" stroke-width="1.5"/>
<path d="M1026.4 600.5L1044.8 584.1" stroke="#5c5c5c" stroke-width="2.1"/>
<path d="M1017.0 603.0L1032.9 588.7" stroke="#979797" stroke-width="1.6"/>
<path d="M950.7 568.8L973.1 548.6" stroke="#8a8a8a" stroke-width="2.1"/>
<path d="M945.7 558.4L967.7 538.6" stroke="#a4a4a4" stroke-width="2.0"/>
<path d="M941.2 539.8L966.0 517.5" stroke="#979797" stroke-width="1.7"/>
<path d="M941.3 528.7L962.0 510.0" stroke="#8a8a8a" stroke-width="1.5"/>
<path d="M944.3 517.0L963.8 499.5" stroke="#a4a4a4" stroke-width="1.5"/>
<path d="M950.7 506.8L972.2 487.5" stroke="#7c7c7c" stroke-width="2.3"/>
<path d="M960.6 499.3L984.1 478.1" stroke="#7c7c7c" stroke-width="1.7"/>
<path d="M972.1 495.6L986.8 482.4" stroke="#979797" stroke-width="2.2"/>
<path d="M987.4 495.7L1003.2 481.5" stroke="#6e6e6e" stroke-width="1.7"/>
<path d="M999.7 499.0L1015.3 484.9" stroke="#5c5c5c" stroke-width="2.2"/>
<path d="M1012.1 505.0L1024.4 493.9" stroke="#6e6e6e" stroke-width="2.3"/>
<path d="M1027.9 517.3L1049.5 497.8" stroke="#5c5c5c" stroke-width="2.2"/>
<path d="M1037.6 528.5L1051.2 516.3" stroke="#a4a4a4" stroke-width="2.0"/>
<path d="M1046.3 543.1L1064.4 526.9" stroke="#6e6e6e" stroke-width="1.6"/>
<path d="M1051.0 556.1L1070.5 538.5" stroke="#979797" stroke-width="2.2"/>
<path d="M1053.0 570.8L1073.1 552.7" stroke="#8a8a8a" stroke-width="1.7"/>
<path d="M1051.4 584.3L1065.1 571.9" stroke="#979797" stroke-width="1.7"/>
<path d="M1047.1 594.1L1064.3 578.6" stroke="#6e6e6e" stroke-width="2.2"/>
<path d="M1040.1 602.3L1057.0 587.0" stroke="#8a8a8a" stroke-width="2.2"/>
<path d="M1028.0 609.0L1053.2 586.3" stroke="#979797" stroke-width="1.6"/>
<path d="M1019.4 610.7L1041.3 591.0" stroke="#a4a4a4" stroke-width="1.8"/>
<path d="M944.6 571.0L961.8 555.5" stroke="#979797" stroke-width="1.7"/>
<path d="M938.1 556.9L960.6 536.7" stroke="#979797" stroke-width="2.1"/>
<path d="M935.2 546.9L959.2 525.2" stroke="#7c7c7c" stroke-width="1.9"/>
<path d="M933.5 529.5L949.7 514.9" stroke="#5c5c5c" stroke-width="1.9"/>
<path d="M936.3 514.8L947.7 504.5" stroke="#8a8a8a" stroke-width="2.2"/>
<path d="M940.9 505.3L955.1 492.6" stroke="#979797" stroke-width="2.2"/>
<path d="M951.6 494.5L965.0 482.5" stroke="#8a8a8a" stroke-width="2.3"/>
<path d="M958.2 491.0L973.2 477.5" stroke="#5c5c5c" stroke-width="1.6"/>
<path d="M974.7 487.4L999.0 465.5" stroke="#6e6e6e" stroke-width="2.1"/>
<path d="M985.7 488.0L999.3 475.7" stroke="#7c7c7c" stroke-width="1.6"/>
<path d="M1003.2 493.1L1021.0 477.1" stroke="#6e6e6e" stroke-width="2.1"/>
<path d="M1014.6 498.9L1034.6 480.9" stroke="#8a8a8a" stroke-width="1.5"/>
<path d="M1030.8 511.4L1045.4 498.2" stroke="#8a8a8a" stroke-width="2.1"/>
<path d="M1040.0 521.3L1052.2 510.3" stroke="#a4a4a4" stroke-width="2.1"/>
<path d="M1047.9 532.5L1069.1 513.5" stroke="#a4a4a4" stroke-width="2.1"/>
<path d="M1056.4 550.4L1074.8 533.8" stroke="#a4a4a4" stroke-width="1.8"/>
<path d="M1060.1 566.2L1079.9 548.4" stroke="#8a8a8a" stroke-width="1.6"/>
<path d="M1060.3 578.9L1077.3 563.6" stroke="#5c5c5c" stroke-width="1.9"/>
<path d="M1057.3 592.5L1071.0 580.1" stroke="#7c7c7c" stroke-width="1.5"/>
<path d="M1050.7 603.9L1067.9 588.4" stroke="#7c7c7c" stroke-width="2.2"/>
<path d="M1040.4 612.7L1062.0 593.3" stroke="#8a8a8a" stroke-width="1.9"/>
<path d="M1033.0 616.1L1055.3 596.1" stroke="#8a8a8a" stroke-width="2.1"/>
<path d="M1019.4 618.6L1044.2 596.3" stroke="#979797" stroke-width="1.7"/>
<path d="M941.5 578.1L961.1 560.4" stroke="#7c7c7c" stroke-width="1.7"/>
<path d="M933.3 562.9L951.7 546.3" stroke="#6e6e6e" stroke-width="2.1"/>
<path d="M928.0 546.8L940.3 535.8" stroke="#5c5c5c" stroke-width="2.1"/>
<path d="M926.0 528.1L937.7 517.6" stroke="#7c7c7c" stroke-width="1.7"/>
<path d="M928.1 513.5L942.2 500.9" stroke="#979797" stroke-width="2.0"/>
<path d="M934.3 499.7L952.5 483.4" stroke="#5c5c5c" stroke-width="2.2"/>
<path d="M941.0 491.8L965.7 469.6" stroke="#5c5c5c" stroke-width="1.8"/>
<path d="M954.1 483.5L965.0 473.6" stroke="#979797" stroke-width="1.5"/>
<path d="M964.8 480.4L987.2 460.2" stroke="#979797" stroke-width="1.7"/>
<path d="M983.0 480.2L994.6 469.7" stroke="#8a8a8a" stroke-width="2.2"/>
<path d="M996.9 483.4L1015.2 466.9" stroke="#7c7c7c" stroke-width="1.8"/>
<path d="M1009.7 488.7L1027.4 472.8" stroke="#8a8a8a" stroke-width="1.9"/>
<path d="M1027.4 500.1L1038.6 490.0" stroke="#8a8a8a" stroke-width="2.0"/>
<path d="M1038.7 510.4L1061.3 490.1" stroke="#7c7c7c" stroke-width="2.2"/>
<path d="M1048.5 522.0L1063.5 508.5" stroke="#6e6e6e" stroke-width="1.7"/>
<path d="M1059.8 541.1L1083.6 519.6" stroke="#6e6e6e" stroke-width="1.8"/>
<path d="M1065.8 558.5L1082.5 543.4" stroke="#5c5c5c" stroke-width="1.6"/>
<path d="M1068.0 575.0L1081.6 562.7" stroke="#8a8a8a" stroke-width="2.2"/>
<path d="M1067.6 583.3L1087.3 565.6" stroke="#a4a4a4" stroke-width="1.8"/>
<path d="M1064.0 597.9L1088.0 576.3" stroke="#979797" stroke-width="2.0"/>
<path d="M1057.5 609.3L1071.1 597.0" stroke="#7c7c7c" stroke-width="2.3"/>
<path d="M1047.1 618.8L1067.4 600.5" stroke="#7c7c7c" stroke-width="2.3"/>
<path d="M1031.0 625.3L1045.1 612.6" stroke="#8a8a8a" stroke-width="2.0"/>
<path d="M1020.9 626.4L1035.5 613.3" stroke="#a4a4a4" stroke-width="2.3"/>
<path d="M935.5 580.5L951.3 566.2" stroke="#7c7c7c" stroke-width="1.8"/>
<path d="M924.5 558.7L947.5 538.0" stroke="#7c7c7c" stroke-width="1.8"/>
<path d="M920.2 543.6L941.0 524.9" stroke="#5c5c5c" stroke-width="2.4"/>
<path d="M918.5 526.6L932.6 513.9" stroke="#8a8a8a" stroke-width="1.8"/>
<path d="M919.5 515.5L944.4 493.1" stroke="#7c7c7c" stroke-width="2.1"/>
<path d="M922.6 504.2L941.6 487.1" stroke="#8a8a8a" stroke-width="1.7"/>
<path d="M933.3 487.2L955.1 467.5" stroke="#7c7c7c" stroke-width="2.2"/>
<path d="M943.1 479.4L966.8 458.1" stroke="#979797" stroke-width="2.4"/>
<path d="M953.0 474.9L973.8 456.1" stroke="#a4a4a4" stroke-width="1.7"/>
<path d="M964.4 472.3L988.2 450.9" stroke="#979797" stroke-width="2.1"/>
<path d="M980.3 472.4L992.7 461.3" stroke="#979797" stroke-width="1.5"/>
<path d="M999.4 476.9L1021.1 457.5" stroke="#7c7c7c" stroke-width="1.9"/>
<path d="M1015.5 484.3L1026.6 474.3" stroke="#5c5c5c" stroke-width="1.8"/>
<path d="M1025.9 491.0L1045.0 473.8" stroke="#5c5c5c" stroke-width="1.9"/>
<path d="M1043.5 506.4L1060.1 491.5" stroke="#979797" stroke-width="2.4"/>
<path d="M1054.4 519.4L1068.9 506.3" stroke="#6e6e6e" stroke-width="2.1"/>
<path d="M1065.1 537.2L1090.0 514.7" stroke="#8a8a8a" stroke-width="1.9"/>
<path d="M1071.7 554.0L1095.2 532.8" stroke="#8a8a8a" stroke-width="2.3"/>
<path d="M1074.0 563.7L1089.6 549.8" stroke="#5c5c5c" stroke-width="1.8"/>
<path d="M1075.3 583.6L1097.9 563.2" stroke="#8a8a8a" stroke-width="2.2"/>
<path d="M1073.7 594.6L1098.4 572.3" stroke="#6e6e6e" stroke-width="1.7"/>
<path d="M1068.1 608.8L1081.7 596.6" stroke="#6e6e6e" stroke-width="1.5"/>
<path d="M1061.6 617.9L1076.8 604.2" stroke="#5c5c5c" stroke-width="2.0"/>
<path d="M1046.3 629.0L1069.3 608.3" stroke="#a4a4a4" stroke-width="2.1"/>
<path d="M1034.9 632.8L1048.2 620.8" stroke="#7c7c7c" stroke-width="2.3"/>
<path d="M1022.7 634.1L1036.8 621.4" stroke="#7c7c7c" stroke-width="2.2"/>
<path d="M927.5 581.7L949.7 561.7" stroke="#8a8a8a" stroke-width="2.2"/>
<path d="M917.6 562.1L931.6 549.5" stroke="#8a8a8a" stroke-width="1.7"/>
<path d="M912.1 544.4L933.9 524.7" stroke="#7c7c7c" stroke-width="2.4"/>
<path d="M910.4 534.6L935.2 512.4" stroke="#979797" stroke-width="1.9"/>
<path d="M910.6 513.3L932.7 493.4" stroke="#7c7c7c" stroke-width="2.1"/>
<path d="M913.5 500.9L924.7 490.9" stroke="#979797" stroke-width="2.3"/>
<path d="M918.2 490.5L939.3 471.6" stroke="#979797" stroke-width="2.3"/>
<path d="M931.4 475.2L953.9 454.9" stroke="#6e6e6e" stroke-width="2.1"/>
<path d="M936.8 471.4L958.6 451.8" stroke="#8a8a8a" stroke-width="2.0"/>
<path d="M955.2 464.3L965.6 454.9" stroke="#6e6e6e" stroke-width="2.3"/>
<path d="M972.4 462.9L997.1 440.7" stroke="#6e6e6e" stroke-width="2.0"/>
<path d="M982.8 464.0L1002.2 446.5" stroke="#979797" stroke-width="2.2"/>
<path d="M1000.2 468.6L1014.5 455.7" stroke="#a4a4a4" stroke-width="1.8"/>
<path d="M1018.7 477.4L1032.5 465.0" stroke="#6e6e6e" stroke-width="2.3"/>
<path d="M1028.9 483.9L1052.9 462.3" stroke="#5c5c5c" stroke-width="1.8"/>
<path d="M1044.3 496.8L1059.9 482.7" stroke="#a4a4a4" stroke-width="2.2"/>
<path d="M1057.8 511.7L1075.8 495.5" stroke="#6e6e6e" stroke-width="2.1"/>
<path d="M1071.0 532.1L1088.2 516.6" stroke="#979797" stroke-width="1.8"/>
<path d="M1078.1 548.3L1098.3 530.1" stroke="#979797" stroke-width="1.8"/>
<path d="M1081.3 559.1L1100.2 542.0" stroke="#8a8a8a" stroke-width="2.1"/>
<path d="M1084.2 580.7L1102.5 564.1" stroke="#7c7c7c" stroke-width="2.1"/>
<path d="M1082.5 597.6L1096.9 584.7" stroke="#5c5c5c" stroke-width="1.7"/>
<path d="M1079.2 608.6L1103.8 586.4" stroke="#7c7c7c" stroke-width="1.6"/>
<path d="M1071.5 621.9L1085.8 609.0" stroke="#979797" stroke-width="1.9"/>
<path d="M1062.9 630.6L1077.0 617.9" stroke="#8a8a8a" stroke-width="1.6"/>
<path d="M1050.6 638.0L1073.0 617.8" stroke="#6e6e6e" stroke-width="2.3"/>
<path d="M1037.2 642.0L1048.5 631.8" stroke="#a4a4a4" stroke-width="1.7"/>
<path d="M1026.9 643.1L1048.8 623.4" stroke="#a4a4a4" stroke-width="2.4"/>
<path d="M918.2 580.7L932.1 568.1" stroke="#979797" stroke-width="2.1"/>
<path d="M909.0 561.5L932.0 540.8" stroke="#979797" stroke-width="1.7"/>
<path d="M904.5 547.4L921.3 532.2" stroke="#6e6e6e" stroke-width="2.1"/>
<path d="M901.3 527.5L917.9 512.5" stroke="#5c5c5c" stroke-width="2.1"/>
<path d="M901.2 518.0L922.3 499.0" stroke="#5c5c5c" stroke-width="2.3"/>
<path d="M903.8 500.4L922.9 483.2" stroke="#7c7c7c" stroke-width="1.6"/>
<path d="M908.6 487.6L924.5 473.2" stroke="#8a8a8a" stroke-width="2.0"/>
<path d="M917.2 474.7L931.5 461.8" stroke="#7c7c7c" stroke-width="2.4"/>
<path d="M925.7 466.7L938.9 454.8" stroke="#8a8a8a" stroke-width="2.1"/>
<path d="M943.4 457.4L956.4 445.8" stroke="#a4a4a4" stroke-width="1.7"/>
<path d="M955.2 454.7L976.3 435.6" stroke="#5c5c5c" stroke-width="2.0"/>
<path d="M965.4 453.9L976.6 443.8" stroke="#5c5c5c" stroke-width="1.9"/>
<path d="M989.9 456.9L1009.2 439.5" stroke="#7c7c7c" stroke-width="2.4"/>
<path d="M1001.8 460.7L1016.7 447.2" stroke="#6e6e6e" stroke-width="2.4"/>
<path d="M1016.0 467.1L1040.4 445.2" stroke="#979797" stroke-width="2.1"/>
<path d="M1034.9 479.1L1051.3 464.3" stroke="#979797" stroke-width="1.8"/>
<path d="M1051.5 493.5L1064.9 481.4" stroke="#a4a4a4" stroke-width="2.2"/>
<path d="M1060.1 503.0L1085.1 480.5" stroke="#6e6e6e" stroke-width="1.6"/>
<path d="M1073.4 521.4L1093.6 503.3" stroke="#a4a4a4" stroke-width="1.9"/>
<path d="M1083.9 541.8L1098.3 528.7" stroke="#5c5c5c" stroke-width="2.3"/>
<path d="M1087.6 552.0L1109.4 532.4" stroke="#a4a4a4" stroke-width="2.0"/>
<path d="M1091.8 570.2L1109.9 553.9" stroke="#6e6e6e" stroke-width="1.8"/>
<path d="M1092.9 586.5L1109.2 571.8" stroke="#5c5c5c" stroke-width="1.9"/>
<path d="M1090.3 605.5L1104.9 592.4" stroke="#a4a4a4" stroke-width="2.2"/>
<path d="M1085.2 618.8L1105.2 600.8" stroke="#6e6e6e" stroke-width="2.2"/>
<path d="M1075.5 632.8L1094.5 615.7" stroke="#7c7c7c" stroke-width="1.9"/>
<path d="M1068.0 639.5L1090.3 619.5" stroke="#979797" stroke-width="1.7"/>
<path d="M1050.3 648.7L1071.7 629.4" stroke="#979797" stroke-width="1.8"/>
<path d="M1041.1 651.0L1065.5 628.9" stroke="#7c7c7c" stroke-width="1.8"/>
<path d="M1020.8 651.9L1035.4 638.7" stroke="#8a8a8a" stroke-width="2.1"/>
<path d="M916.0 591.3L935.8 573.5" stroke="#8a8a8a" stroke-width="1.6"/>
<path d="M905.5 572.7L923.3 556.7" stroke="#5c5c5c" stroke-width="1.9"/>
<path d="M896.1 546.9L921.0 524.6" stroke="#8a8a8a" stroke-width="1.9"/>
<path d="M893.2 531.8L904.7 521.4" stroke="#7c7c7c" stroke-width="1.7"/>
<path d="M892.6 511.9L904.2 501.5" stroke="#8a8a8a" stroke-width="2.1"/>
<path d="M894.7 497.8L919.5 475.5" stroke="#a4a4a4" stroke-width="1.9"/>
<path d="M898.3 486.7L916.3 470.4" stroke="#7c7c7c" stroke-width="1.6"/>
<path d="M908.3 469.5L932.8 447.4" stroke="#5c5c5c" stroke-width="2.4"/>
<path d="M918.0 459.8L934.6 444.9" stroke="#7c7c7c" stroke-width="1.7"/>
<path d="M933.4 450.7L944.1 441.0" stroke="#5c5c5c" stroke-width="2.2"/>
<path d="M941.0 448.0L960.3 430.6" stroke="#a4a4a4" stroke-width="2.1"/>
<path d="M958.2 445.0L970.2 434.2" stroke="#979797" stroke-width="1.8"/>
<path d="M973.9 445.4L993.0 428.2" stroke="#8a8a8a" stroke-width="2.3"/>
<path d="M998.8 451.0L1009.7 441.2" stroke="#7c7c7c" stroke-width="2.3"/>
<path d="M1016.7 458.7L1033.4 443.7" stroke="#6e6e6e" stroke-width="1.8"/>
<path d="M1030.4 466.8L1050.5 448.7" stroke="#6e6e6e" stroke-width="1.5"/>
<path d="M1050.5 482.5L1061.4 472.7" stroke="#979797" stroke-width="2.0"/>
<path d="M1062.3 494.3L1077.4 480.8" stroke="#5c5c5c" stroke-width="1.9"/>
<path d="M1076.3 512.2L1087.9 501.7" stroke="#8a8a8a" stroke-width="2.2"/>
<path d="M1086.3 528.9L1100.6 516.0" stroke="#8a8a8a" stroke-width="1.8"/>
<path d="M1094.3 547.3L1106.7 536.2" stroke="#a4a4a4" stroke-width="2.3"/>
<path d="M1099.0 563.8L1121.7 543.4" stroke="#a4a4a4" stroke-width="2.3"/>
<path d="M1101.3 579.8L1119.5 563.4" stroke="#6e6e6e" stroke-width="2.4"/>
<path d="M1101.3 595.7L1122.0 577.0" stroke="#6e6e6e" stroke-width="2.2"/>
<path d="M1098.1 612.6L1115.5 596.9" stroke="#8a8a8a" stroke-width="1.6"/>
<path d="M1089.1 631.9L1110.5 612.7" stroke="#8a8a8a" stroke-width="1.7"/>
<path d="M1081.4 641.3L1095.1 629.0" stroke="#7c7c7c" stroke-width="2.2"/>
<path d="M1069.5 650.7L1089.4 632.9" stroke="#979797" stroke-width="2.4"/>
<path d="M1060.6 655.3L1078.9 638.8" stroke="#979797" stroke-width="2.4"/>
<path d="M1038.1 660.8L1049.6 650.5" stroke="#7c7c7c" stroke-width="1.7"/>
<path d="M1030.8 661.2L1050.8 643.2" stroke="#5c5c5c" stroke-width="2.0"/>
<path d="M905.0 589.7L924.9 571.7" stroke="#7c7c7c" stroke-width="1.7"/>
<path d="M896.0 572.8L913.5 556.9" stroke="#6e6e6e" stroke-width="2.3"/>
<path d="M889.7 557.0L905.2 543.0" stroke="#979797" stroke-width="2.1"/>
<path d="M884.3 536.4L900.1 522.2" stroke="#8a8a8a" stroke-width="1.7"/>
<path d="M882.5 511.7L895.6 499.9" stroke="#8a8a8a" stroke-width="2.3"/>
<path d="M883.1 503.4L905.2 483.5" stroke="#7c7c7c" stroke-width="2.0"/>
<path d="M888.6 480.9L907.6 463.8" stroke="#979797" stroke-width="1.7"/>
<path d="M895.7 467.3L911.1 453.4" stroke="#a4a4a4" stroke-width="1.5"/>
<path d="M905.4 455.4L924.4 438.4" stroke="#979797" stroke-width="1.6"/>
<path d="M918.0 445.7L935.2 430.2" stroke="#a4a4a4" stroke-width="1.6"/>
<path d="M935.1 438.1L952.0 422.9" stroke="#5c5c5c" stroke-width="2.1"/>
<path d="M942.3 436.3L965.6 415.3" stroke="#a4a4a4" stroke-width="2.0"/>
<path d="M961.1 434.5L973.2 423.6" stroke="#a4a4a4" stroke-width="2.4"/>
<path d="M979.7 436.3L994.1 423.4" stroke="#6e6e6e" stroke-width="1.8"/>
<path d="M992.9 439.4L1007.0 426.7" stroke="#979797" stroke-width="2.2"/>
<path d="M1013.1 447.1L1028.4 433.3" stroke="#979797" stroke-width="2.2"/>
<path d="M1032.6 457.9L1045.6 446.2" stroke="#5c5c5c" stroke-width="2.3"/>
<path d="M1049.5 470.4L1072.1 450.1" stroke="#7c7c7c" stroke-width="2.2"/>
<path d="M1066.4 486.4L1091.3 464.0" stroke="#7c7c7c" stroke-width="2.1"/>
<path d="M1079.8 502.5L1099.2 485.0" stroke="#979797" stroke-width="1.7"/>
<path d="M1090.3 518.5L1102.9 507.1" stroke="#979797" stroke-width="2.2"/>
<path d="M1102.2 543.0L1120.8 526.3" stroke="#979797" stroke-width="1.8"/>
<path d="M1106.3 555.1L1119.6 543.1" stroke="#8a8a8a" stroke-width="2.0"/>
<path d="M1111.1 579.9L1129.2 563.5" stroke="#8a8a8a" stroke-width="1.8"/>
<path d="M1111.4 596.1L1133.7 576.1" stroke="#a4a4a4" stroke-width="2.1"/>
<path d="M1110.2 607.6L1131.9 588.1" stroke="#979797" stroke-width="1.8"/>
<path d="M1106.2 622.9L1127.9 603.3" stroke="#7c7c7c" stroke-width="2.1"/>
<path d="M1095.8 642.3L1106.7 632.5" stroke="#7c7c7c" stroke-width="2.1"/>
<path d="M1083.9 654.8L1095.4 644.4" stroke="#a4a4a4" stroke-width="2.1"/>
<path d="M1077.8 659.2L1091.2 647.1" stroke="#979797" stroke-width="1.5"/>
<path d="M1064.7 665.9L1088.4 644.6" stroke="#979797" stroke-width="1.9"/>
<path d="M1049.7 670.1L1067.3 654.2" stroke="#979797" stroke-width="2.3"/>
<path d="M1031.1 671.4L1053.1 651.6" stroke="#6e6e6e" stroke-width="2.4"/>
<path d="M880.2 557.0L1010.2 439.9" stroke="#8a8a8a" stroke-width="2.0"/>
<path d="M876.2 543.0L1006.2 425.9" stroke="#8a8a8a" stroke-width="2.5"/>
<path d="M874.3 533.6L1004.4 416.5" stroke="#5c5c5c" stroke-width="2.6"/>
<path d="M872.9 522.5L1003.0 405.4" stroke="#8a8a8a" stroke-width="2.3"/>
<path d="M872.5 508.0L1002.6 390.9" stroke="#6e6e6e" stroke-width="2.1"/>
<path d="M873.3 498.2L1003.4 381.1" stroke="#7c7c7c" stroke-width="2.7"/>
<path d="M875.5 486.1L1005.6 369.0" stroke="#5c5c5c" stroke-width="2.5"/>
<path d="M879.7 473.5L1009.7 356.4" stroke="#6e6e6e" stroke-width="2.2"/>
<path d="M884.9 463.0L1015.0 345.9" stroke="#7c7c7c" stroke-width="2.1"/>
<path d="M892.5 452.3L1022.5 335.2" stroke="#8a8a8a" stroke-width="2.1"/>
<path d="M896.4 447.9L1026.5 330.8" stroke="#8a8a8a" stroke-width="2.6"/>
<path d="M908.1 438.3L1038.2 321.2" stroke="#6e6e6e" stroke-width="2.2"/>
<path d="M914.2 434.6L1044.3 317.5" stroke="#a4a4a4" stroke-width="2.4"/>
<path d="M924.7 429.8L1054.8 312.7" stroke="#979797" stroke-width="2.3"/>
<path d="M938.5 426.0L1068.5 308.9" stroke="#7c7c7c" stroke-width="2.4"/>
<path d="M949.6 424.5L1079.6 307.4" stroke="#979797" stroke-width="2.5"/>
<path d="M957.0 424.2L1087.1 307.1" stroke="#8a8a8a" stroke-width="2.7"/>
<path d="M970.9 425.0L1100.9 307.9" stroke="#979797" stroke-width="2.6"/>
<path d="M985.2 427.6L1115.3 310.5" stroke="#5c5c5c" stroke-width="2.1"/>
<path d="M998.6 431.4L1128.6 314.3" stroke="#7c7c7c" stroke-width="2.1"/>
<path d="M1012.4 436.9L1142.5 319.8" stroke="#979797" stroke-width="2.3"/>
<path d="M1022.8 442.1L1152.9 325.0" stroke="#a4a4a4" stroke-width="2.9"/>
<path d="M1037.3 450.8L1167.4 333.7" stroke="#8a8a8a" stroke-width="2.6"/>
<path d="M1046.0 456.9L1176.1 339.8" stroke="#7c7c7c" stroke-width="2.6"/>
<path d="M1059.9 468.3L1190.0 351.2" stroke="#6e6e6e" stroke-width="2.2"/>
<path d="M1070.3 478.4L1200.4 361.3" stroke="#a4a4a4" stroke-width="2.3"/>
<path d="M1077.3 486.1L1207.3 369.0" stroke="#979797" stroke-width="2.7"/>
<path d="M1088.9 500.8L1218.9 383.7" stroke="#8a8a8a" stroke-width="2.5"/>
<path d="M1097.3 513.5L1227.3 396.4" stroke="#6e6e6e" stroke-width="2.8"/>
<path d="M1103.3 524.3L1233.3 407.2" stroke="#a4a4a4" stroke-width="2.7"/>
<path d="M1108.5 535.3L1238.6 418.2" stroke="#5c5c5c" stroke-width="2.6"/>
<path d="M1115.6 554.8L1245.7 437.7" stroke="#979797" stroke-width="2.8"/>
<path d="M1118.9 568.2L1249.0 451.1" stroke="#7c7c7c" stroke-width="2.4"/>
<path d="M1120.9 581.3L1250.9 464.2" stroke="#7c7c7c" stroke-width="2.5"/>
<path d="M1121.5 593.3L1251.6 476.2" stroke="#7c7c7c" stroke-width="2.4"/>
<path d="M1121.3 601.0L1251.4 483.9" stroke="#7c7c7c" stroke-width="2.8"/>
<path d="M1119.9 613.0L1250.0 495.9" stroke="#7c7c7c" stroke-width="2.1"/>
<path d="M1115.7 629.0L1245.7 511.9" stroke="#8a8a8a" stroke-width="2.7"/>
<path d="M1113.1 635.2L1243.2 518.1" stroke="#979797" stroke-width="2.8"/>
<path d="M1107.0 646.4L1237.1 529.3" stroke="#6e6e6e" stroke-width="2.7"/>
<path d="M1101.8 653.5L1231.8 536.4" stroke="#7c7c7c" stroke-width="2.4"/>
<path d="M1091.4 663.7L1221.4 546.6" stroke="#979797" stroke-width="2.1"/>
<path d="M1085.6 667.9L1215.7 550.8" stroke="#979797" stroke-width="2.2"/>
<path d="M1074.5 674.0L1204.5 556.9" stroke="#a4a4a4" stroke-width="2.6"/>
<path d="M1064.1 677.9L1194.2 560.8" stroke="#6e6e6e" stroke-width="2.3"/>
<path d="M1052.5 680.5L1182.6 563.4" stroke="#979797" stroke-width="2.6"/>
<path d="M1041.1 681.7L1171.2 564.6" stroke="#7c7c7c" stroke-width="2.0"/>
<path d="M1027.3 681.4L1157.3 564.3" stroke="#7c7c7c" stroke-width="2.3"/>
<path d="M1018.1 680.3L1148.2 563.2" stroke="#8a8a8a" stroke-width="2.5"/>
<path d="M1002.4 676.7L1132.4 559.6" stroke="#7c7c7c" stroke-width="2.6"/>
<path d="M989.2 672.3L1119.2 555.2" stroke="#a4a4a4" stroke-width="2.2"/>
<path d="M977.3 667.1L1107.4 550.0" stroke="#5c5c5c" stroke-width="2.5"/>
<path d="M893.4 534.8L1004.9 434.5" stroke="#3a3a3a" stroke-width="2.2" opacity="0.85"/>
<path d="M891.2 502.5L1002.7 402.1" stroke="#303030" stroke-width="2.0" opacity="0.85"/>
<path d="M893.7 487.3L1005.1 386.9" stroke="#3a3a3a" stroke-width="1.8" opacity="0.85"/>
<path d="M907.3 458.9L1018.8 358.5" stroke="#8a8a8a" stroke-width="1.6" opacity="0.85"/>
<path d="M919.7 446.7L1031.1 346.4" stroke="#303030" stroke-width="2.2" opacity="0.85"/>
<path d="M938.1 436.7L1049.6 336.3" stroke="#6e6e6e" stroke-width="1.7" opacity="0.85"/>
<path d="M956.9 432.3L1068.4 332.0" stroke="#7c7c7c" stroke-width="2.2" opacity="0.85"/>
<path d="M982.2 432.9L1093.7 332.5" stroke="#303030" stroke-width="2.2" opacity="0.85"/>
<path d="M1012.7 441.4L1124.1 341.0" stroke="#3a3a3a" stroke-width="2.4" opacity="0.85"/>
<path d="M1043.3 458.4L1154.7 358.0" stroke="#303030" stroke-width="2.2" opacity="0.85"/>
<path d="M1061.2 473.0L1172.7 372.6" stroke="#303030" stroke-width="2.1" opacity="0.85"/>
<path d="M1085.1 500.0L1196.6 399.6" stroke="#7c7c7c" stroke-width="2.3" opacity="0.85"/>
<path d="M1099.3 523.2L1210.8 422.8" stroke="#3a3a3a" stroke-width="1.8" opacity="0.85"/>
<path d="M1111.0 553.8L1222.4 453.4" stroke="#6e6e6e" stroke-width="2.1" opacity="0.85"/>
<path d="M1114.6 575.2L1226.1 474.9" stroke="#7c7c7c" stroke-width="1.8" opacity="0.85"/>
<path d="M1114.4 595.9L1225.9 495.6" stroke="#6e6e6e" stroke-width="1.9" opacity="0.85"/>
<path d="M1105.8 625.0L1217.3 524.7" stroke="#303030" stroke-width="1.6" opacity="0.85"/>
<path d="M1092.0 643.6L1203.5 543.3" stroke="#8a8a8a" stroke-width="2.0" opacity="0.85"/>
<path d="M1077.8 654.0L1189.2 553.7" stroke="#7c7c7c" stroke-width="1.7" opacity="0.85"/>
<path d="M1060.1 660.9L1171.6 560.6" stroke="#303030" stroke-width="2.1" opacity="0.85"/>
<path d="M1034.5 663.5L1146.0 563.1" stroke="#3a3a3a" stroke-width="1.7" opacity="0.85"/>
<path d="M1000.7 656.8L1112.2 556.4" stroke="#6e6e6e" stroke-width="2.4" opacity="0.85"/>
<path d="M911.2 613.2L899.3 596.5L889.3 579.0L881.6 560.9L876.1 542.7L873.1 524.6L872.6 507.1L874.5 490.6L879.0 475.3L885.7 461.6L894.8 449.7L905.8 439.9L918.8 432.3L933.2 427.2L949.0 424.6L965.7 424.5L983.1 427.1L1000.7 432.2L1018.3 439.7L1035.4 449.5L1051.7 461.3L1067.0 475.0L1080.9 490.3L1093.0 506.8L1103.3 524.3L1111.4 542.3L1117.2 560.5L1120.6 578.6L1121.5 596.2L1119.9 612.9L1115.9 628.4L1109.4 642.4L1100.8 654.6L1090.0 664.8L1077.3 672.7L1063.1 678.2L1047.5 681.2L1030.9 681.6L1013.6 679.5L996.0 674.8L978.4 667.6" stroke="#9a9a9a" stroke-width="3.4" opacity="1"/>
<path d="M914.1 610.6L902.2 593.9L892.3 576.3L884.5 558.2L879.1 540.0L876.1 521.9L875.5 504.5L877.5 487.9L881.9 472.6L888.7 458.9L897.7 447.0L908.8 437.2L921.7 429.6L936.2 424.5L952.0 421.9L968.7 421.9L986.0 424.4L1003.7 429.5L1021.2 437.0L1038.4 446.8L1054.7 458.7L1070.0 472.4L1083.8 487.6L1096.0 504.1L1106.2 521.6L1114.4 539.6L1120.2 557.9L1123.6 576.0L1124.5 593.5L1122.9 610.2L1118.9 625.8L1112.4 639.7L1103.7 651.9L1093.0 662.1L1080.3 670.0L1066.1 675.5L1050.5 678.5L1033.9 678.9L1016.6 676.8L999.0 672.1L981.4 664.9" stroke="#6a6a6a" stroke-width="2.2" opacity="1"/>
<path d="M929.6 444.1L932.2 432.5L936.1 421.6L941.4 411.6L947.8 402.6L955.4 394.7L964.0 388.0L973.7 382.5L984.1 378.4L995.4 375.6L1007.3 374.2L1019.6 374.2L1032.3 375.7L1045.3 378.5L1058.3 382.7L1071.3 388.2L1084.1 395.0L1096.5 402.9L1108.5 411.9L1119.8 422.0L1130.4 432.9L1140.1 444.6L1148.9 456.9L1156.7 469.7L1163.3 482.9L1168.7 496.3L1172.8 509.8L1175.6 523.2L1177.1 536.4L1177.1 549.2L1175.9 561.5L1173.3 573.2L1169.3 584.0L1164.1 594.0L1157.7 603.0L1150.1 610.9L1141.4 617.7L1131.8 623.1L1121.3 627.3L1110.1 630.0L1098.2 631.4" stroke="#8e8e8e" stroke-width="3.0" opacity="1"/>
<path d="M934.5 441.4L937.1 429.8L941.0 419.1L946.2 409.2L952.6 400.2L960.1 392.4L968.6 385.8L978.2 380.4L988.5 376.3L999.7 373.5L1011.4 372.2L1023.7 372.2L1036.3 373.6L1049.1 376.4L1062.0 380.5L1074.8 386.0L1087.5 392.7L1099.8 400.6L1111.6 409.5L1122.8 419.4L1133.3 430.2L1143.0 441.8L1151.7 454.0L1159.4 466.7L1165.9 479.8L1171.2 493.0L1175.3 506.4L1178.1 519.7L1179.5 532.7L1179.6 545.4L1178.4 557.6L1175.8 569.1L1171.9 579.9L1166.7 589.8L1160.3 598.7L1152.8 606.5L1144.3 613.2L1134.7 618.6L1124.4 622.7L1113.2 625.4L1101.5 626.8" stroke="#707070" stroke-width="2.0" opacity="1"/>
<path d="M985.3 394.0L987.9 382.3L991.9 371.4L997.1 361.4L1003.5 352.4L1011.1 344.5L1019.8 337.8L1029.4 332.3L1039.9 328.2L1051.1 325.4L1063.0 324.0L1075.4 324.1L1088.1 325.5L1101.0 328.3L1114.1 332.5L1127.0 338.0L1139.8 344.8L1152.2 352.7L1164.2 361.8L1175.5 371.8L1186.1 382.7L1195.9 394.4L1204.7 406.7L1212.4 419.5L1219.0 432.7L1224.4 446.1L1228.5 459.6L1231.3 473.0L1232.8 486.2L1232.9 499.0L1231.6 511.3L1229.0 523.0L1225.1 533.9L1219.8 543.9L1213.4 552.9L1205.8 560.8L1197.2 567.5L1187.6 572.9L1177.1 577.1L1165.8 579.9L1154.0 581.2" stroke="#7e7e7e" stroke-width="2.6" opacity="1"/>
<path d="M899.8 622.1L895.1 615.8L890.5 609.4L886.3 602.9L882.3 596.3L878.5 589.5L875.1 582.7L872.0 575.8L869.1 568.9L866.6 561.9L864.4 554.9L862.5 548.0L860.9 541.0L859.7 534.1L858.8 527.2L858.3 520.5L858.0 513.8L858.2 507.2L858.6 500.8L859.4 494.5L860.5 488.3L862.0 482.3L863.8 476.5L865.9 470.9L868.3 465.6L871.1 460.4L874.1 455.5L877.5 450.9L881.1 446.5L885.1 442.4L889.2 438.6L893.7 435.1L898.4 431.9L903.3 429.0L908.5 426.4L913.9 424.2L919.4 422.3L925.2 420.7L931.1 419.5L937.2 418.6L943.4 418.1" stroke="#979797" stroke-width="1.7" opacity="0.9"/>
<path d="M897.8 623.1L892.8 616.5L888.0 609.8L883.6 603.0L879.4 596.1L875.5 589.0L871.9 581.9L868.6 574.7L865.6 567.4L863.0 560.1L860.7 552.8L858.7 545.5L857.1 538.3L855.8 531.0L854.9 523.9L854.3 516.8L854.0 509.8L854.2 502.9L854.7 496.1L855.5 489.5L856.7 483.1L858.2 476.9L860.1 470.8L862.3 465.0L864.8 459.3L867.7 454.0L870.9 448.8L874.4 444.0L878.2 439.4L882.3 435.1L886.7 431.1L891.4 427.5L896.3 424.1L901.4 421.1L906.8 418.4L912.5 416.1L918.3 414.1L924.3 412.4L930.5 411.2L936.9 410.2L943.4 409.7" stroke="#303030" stroke-width="2.0" opacity="0.9"/>
<path d="M895.7 624.1L890.5 617.3L885.5 610.3L880.9 603.1L876.5 595.9L872.4 588.5L868.7 581.1L865.3 573.5L862.2 566.0L859.4 558.3L857.0 550.7L854.9 543.1L853.2 535.5L851.9 528.0L850.9 520.5L850.3 513.1L850.0 505.8L850.2 498.6L850.7 491.5L851.5 484.6L852.8 477.9L854.4 471.4L856.3 465.1L858.6 459.0L861.3 453.1L864.3 447.5L867.6 442.1L871.3 437.1L875.3 432.3L879.6 427.8L884.1 423.6L889.0 419.8L894.1 416.3L899.5 413.1L905.2 410.3L911.0 407.9L917.1 405.8L923.4 404.1L929.9 402.8L936.5 401.8L943.3 401.2" stroke="#979797" stroke-width="1.6" opacity="0.9"/>
<path d="M893.6 625.1L888.2 618.0L883.0 610.7L878.2 603.2L873.6 595.7L869.4 588.0L865.5 580.2L861.9 572.4L858.7 564.5L855.8 556.6L853.3 548.6L851.1 540.7L849.4 532.8L848.0 524.9L846.9 517.1L846.3 509.4L846.1 501.8L846.2 494.3L846.7 486.9L847.6 479.7L848.9 472.7L850.6 465.9L852.6 459.3L855.0 453.0L857.8 446.9L860.9 441.0L864.4 435.4L868.2 430.1L872.4 425.2L876.8 420.5L881.6 416.2L886.7 412.2L892.0 408.5L897.6 405.2L903.5 402.3L909.6 399.7L916.0 397.6L922.5 395.8L929.3 394.4L936.2 393.4L943.3 392.8" stroke="#7c7c7c" stroke-width="2.2" opacity="0.9"/>
<path d="M891.6 626.1L885.9 618.7L880.6 611.1L875.5 603.4L870.8 595.5L866.3 587.5L862.3 579.4L858.5 571.3L855.2 563.0L852.2 554.8L849.6 546.5L847.3 538.2L845.5 530.0L844.0 521.8L843.0 513.7L842.3 505.7L842.1 497.8L842.2 490.0L842.7 482.3L843.7 474.8L845.0 467.5L846.8 460.5L848.9 453.6L851.4 447.0L854.3 440.6L857.5 434.5L861.1 428.7L865.1 423.2L869.4 418.0L874.1 413.2L879.0 408.7L884.3 404.5L889.9 400.7L895.7 397.3L901.9 394.2L908.2 391.6L914.8 389.3L921.6 387.5L928.7 386.0L935.9 385.0L943.2 384.4" stroke="#6e6e6e" stroke-width="1.8" opacity="0.9"/>
<path d="M889.5 627.1L883.6 619.4L878.1 611.5L872.8 603.5L867.9 595.3L863.3 587.0L859.1 578.6L855.2 570.1L851.7 561.6L848.6 553.0L845.9 544.4L843.5 535.8L841.6 527.3L840.1 518.8L839.0 510.3L838.3 502.0L838.1 493.7L838.2 485.6L838.8 477.7L839.7 469.9L841.1 462.4L842.9 455.0L845.1 447.9L847.8 441.0L850.7 434.4L854.1 428.0L857.9 422.0L862.0 416.3L866.5 410.9L871.3 405.9L876.5 401.2L882.0 396.9L887.8 392.9L893.8 389.3L900.2 386.2L906.8 383.4L913.7 381.1L920.8 379.2L928.0 377.7L935.5 376.6L943.2 375.9" stroke="#3a3a3a" stroke-width="1.7" opacity="0.9"/>
<path d="M887.4 628.1L881.4 620.1L875.6 611.9L870.1 603.6L865.0 595.1L860.2 586.5L855.9 577.8L851.8 569.0L848.2 560.1L845.0 551.2L842.2 542.3L839.8 533.4L837.8 524.5L836.2 515.7L835.1 506.9L834.3 498.3L834.1 489.7L834.2 481.3L834.8 473.1L835.8 465.0L837.3 457.2L839.1 449.5L841.4 442.1L844.1 435.0L847.2 428.1L850.7 421.6L854.6 415.3L858.9 409.4L863.6 403.8L868.6 398.6L873.9 393.7L879.6 389.2L885.6 385.1L891.9 381.4L898.5 378.1L905.4 375.3L912.5 372.8L919.9 370.8L927.4 369.3L935.2 368.2L943.1 367.5" stroke="#6e6e6e" stroke-width="2.2" opacity="0.9"/>
<path d="M896.9 602.5L895.3 594.3" stroke="#8a8a8a" stroke-width="2.0" opacity="0.9"/>
<path d="M887.5 587.0L883.7 575.1" stroke="#7c7c7c" stroke-width="1.7" opacity="0.9"/>
<path d="M880.2 572.3L874.7 556.9" stroke="#303030" stroke-width="2.1" opacity="0.9"/>
<path d="M872.4 551.0L865.1 530.5" stroke="#3a3a3a" stroke-width="2.0" opacity="0.9"/>
<path d="M867.8 530.1L859.3 504.6" stroke="#7c7c7c" stroke-width="2.0" opacity="0.9"/>
<path d="M866.2 509.6L857.4 479.2" stroke="#303030" stroke-width="2.3" opacity="0.9"/>
<path d="M867.6 492.3L859.0 457.8" stroke="#3a3a3a" stroke-width="2.2" opacity="0.9"/>
<path d="M870.7 478.2L863.0 440.3" stroke="#262626" stroke-width="1.8" opacity="0.9"/>
<path d="M878.9 459.1L873.1 416.7" stroke="#303030" stroke-width="1.9" opacity="0.9"/>
<path d="M884.4 450.8L879.9 406.4" stroke="#7c7c7c" stroke-width="1.7" opacity="0.9"/>
<path d="M896.7 437.8L895.1 390.3" stroke="#6e6e6e" stroke-width="2.2" opacity="0.9"/>
<path d="M909.5 429.0L911.0 379.4" stroke="#262626" stroke-width="1.7" opacity="0.9"/>
<path d="M928.0 421.4L933.9 370.0" stroke="#6e6e6e" stroke-width="1.6" opacity="0.9"/>
<path d="M942.6 418.5L951.9 366.5" stroke="#262626" stroke-width="2.1" opacity="0.9"/>
</g>
</g>
<g clip-path="url(#k2)">
<rect x="946" y="698" width="260" height="260" fill="#565656"/>
<rect x="946" y="698" width="260" height="260" fill="#474747" filter="url(#cloud)" opacity="0.5"/>
<path d="M958.9 690V966" stroke="#262626" stroke-width="1.7"/><path d="M960.9 690V966" stroke="#b4b4b4" stroke-width="1.3"/>
<path d="M1033.9 690V966" stroke="#262626" stroke-width="1.7"/><path d="M1035.9 690V966" stroke="#b4b4b4" stroke-width="1.3"/>
<path d="M1108.7 690V966" stroke="#262626" stroke-width="1.7"/><path d="M1110.7 690V966" stroke="#b4b4b4" stroke-width="1.3"/>
<path d="M1184.7 690V966" stroke="#262626" stroke-width="1.7"/><path d="M1186.7 690V966" stroke="#b4b4b4" stroke-width="1.3"/>
<path d="M940 715.4H1210" stroke="#2a2a2a" stroke-width="1.7"/><path d="M940 717.4H1210" stroke="#a8a8a8" stroke-width="1.3"/>
<path d="M940 940.2H1210" stroke="#2a2a2a" stroke-width="1.7"/><path d="M940 942.2H1210" stroke="#a8a8a8" stroke-width="1.3"/>
<path d="M1039 819.3H1108M1039.9 807V833.4M1106.9 807V833.4" stroke="#fff" stroke-width="2.5" fill="none"/>
</g>
<g clip-path="url(#k3)">
<rect x="946" y="1015" width="260" height="260" fill="#fff"/>
<rect x="946" y="1120" width="260" height="20" fill="#6a6a6a"/>
<g stroke-linecap="round" fill="none">
<path d="M1151.2 1122.5q0.1 -12.7 0.4 -21.2" stroke="#6a6a6a" stroke-width="1.0"/>
<path d="M958.3 1137.0q-1.1 -6.7 -3.8 -11.2" stroke="#3a3a3a" stroke-width="1.0"/>
<path d="M972.6 1134.5q0.5 -12.2 1.5 -20.4" stroke="#6a6a6a" stroke-width="1.0"/>
<path d="M945.8 1127.3q2.0 -13.4 6.8 -22.4" stroke="#5a5a5a" stroke-width="0.8"/>
<path d="M1168.7 1122.3q0.8 -7.2 2.8 -12.1" stroke="#3a3a3a" stroke-width="1.0"/>
<path d="M1008.4 1122.4q-0.4 -7.9 -1.3 -13.2" stroke="#4a4a4a" stroke-width="0.9"/>
<path d="M1199.6 1131.2q-1.1 -15.2 -3.6 -25.3" stroke="#6a6a6a" stroke-width="1.3"/>
<path d="M1015.1 1127.2q-1.0 -7.2 -3.4 -12.1" stroke="#6a6a6a" stroke-width="1.1"/>
<path d="M990.6 1136.6q1.6 -13.7 5.4 -22.8" stroke="#9a9a9a" stroke-width="0.9"/>
<path d="M1136.9 1132.1q0.1 -11.4 0.2 -19.0" stroke="#6a6a6a" stroke-width="0.9"/>
<path d="M1208.7 1136.7q1.7 -8.9 5.5 -14.9" stroke="#9a9a9a" stroke-width="1.1"/>
<path d="M1157.5 1124.0q-1.1 -10.6 -3.7 -17.6" stroke="#888" stroke-width="0.8"/>
<path d="M1145.4 1128.2q-2.1 -5.7 -7.0 -9.5" stroke="#3a3a3a" stroke-width="1.1"/>
<path d="M1154.4 1128.3q0.6 -7.3 1.9 -12.1" stroke="#3a3a3a" stroke-width="1.5"/>
<path d="M965.6 1128.4q-1.9 -7.1 -6.5 -11.9" stroke="#888" stroke-width="1.1"/>
<path d="M1028.5 1137.7q1.1 -5.6 3.6 -9.3" stroke="#6a6a6a" stroke-width="0.9"/>
<path d="M1008.9 1126.1q1.3 -8.8 4.4 -14.6" stroke="#4a4a4a" stroke-width="1.4"/>
<path d="M1027.3 1123.9q-0.3 -9.0 -0.9 -15.1" stroke="#5a5a5a" stroke-width="1.1"/>
<path d="M947.7 1123.0q-0.7 -10.3 -2.4 -17.2" stroke="#6a6a6a" stroke-width="1.1"/>
<path d="M1124.7 1126.0q-1.4 -12.3 -4.7 -20.5" stroke="#3a3a3a" stroke-width="1.3"/>
<path d="M1183.8 1123.2q-0.4 -12.8 -1.2 -21.3" stroke="#888" stroke-width="1.4"/>
<path d="M1014.9 1129.3q0.1 -15.1 0.4 -25.2" stroke="#9a9a9a" stroke-width="1.1"/>
<path d="M1062.8 1122.0q0.2 -6.1 0.6 -10.2" stroke="#3a3a3a" stroke-width="1.2"/>
<path d="M1197.7 1133.1q1.2 -11.4 4.1 -19.1" stroke="#3a3a3a" stroke-width="1.4"/>
<path d="M996.7 1128.3q-1.1 -8.3 -3.5 -13.8" stroke="#9a9a9a" stroke-width="0.9"/>
<path d="M1200.4 1133.1q1.9 -9.9 6.4 -16.5" stroke="#9a9a9a" stroke-width="0.9"/>
<path d="M997.9 1125.6q0.7 -8.8 2.3 -14.7" stroke="#6a6a6a" stroke-width="1.1"/>
<path d="M1057.4 1125.5q-0.1 -8.1 -0.4 -13.6" stroke="#6a6a6a" stroke-width="1.3"/>
<path d="M955.2 1129.7q-0.8 -13.3 -2.7 -22.2" stroke="#5a5a5a" stroke-width="1.2"/>
<path d="M1100.8 1130.4q0.1 -8.1 0.3 -13.5" stroke="#5a5a5a" stroke-width="1.0"/>
<path d="M969.5 1131.9q0.8 -6.7 2.7 -11.2" stroke="#5a5a5a" stroke-width="1.3"/>
<path d="M1098.6 1126.4q-1.4 -7.9 -4.8 -13.1" stroke="#888" stroke-width="1.1"/>
<path d="M1019.9 1123.3q-0.1 -6.5 -0.4 -10.9" stroke="#4a4a4a" stroke-width="1.4"/>
<path d="M1008.5 1125.6q0.4 -13.3 1.4 -22.2" stroke="#5a5a5a" stroke-width="1.0"/>
<path d="M965.8 1128.7q-0.9 -13.7 -3.1 -22.9" stroke="#3a3a3a" stroke-width="0.8"/>
<path d="M947.8 1136.8q1.9 -10.0 6.4 -16.7" stroke="#6a6a6a" stroke-width="1.3"/>
<path d="M1050.7 1134.7q1.0 -10.5 3.4 -17.6" stroke="#888" stroke-width="1.4"/>
<path d="M1060.0 1125.0q1.1 -9.4 3.6 -15.7" stroke="#3a3a3a" stroke-width="1.2"/>
<path d="M1192.3 1131.8q0.0 -13.2 0.1 -22.0" stroke="#6a6a6a" stroke-width="1.2"/>
<path d="M1154.7 1134.9q0.8 -9.0 2.7 -15.1" stroke="#5a5a5a" stroke-width="1.2"/>
<path d="M1108.9 1133.3q0.9 -8.4 2.9 -14.0" stroke="#9a9a9a" stroke-width="1.4"/>
<path d="M1127.2 1128.2q-0.9 -8.4 -3.2 -14.0" stroke="#9a9a9a" stroke-width="0.8"/>
<path d="M971.1 1124.3q-0.7 -10.5 -2.2 -17.5" stroke="#4a4a4a" stroke-width="1.1"/>
<path d="M1050.1 1123.2q-0.8 -9.1 -2.8 -15.1" stroke="#3a3a3a" stroke-width="1.4"/>
<path d="M1044.3 1133.4q-0.9 -10.1 -3.1 -16.8" stroke="#3a3a3a" stroke-width="0.8"/>
<path d="M1063.4 1131.0q-1.5 -12.1 -5.0 -20.1" stroke="#4a4a4a" stroke-width="1.1"/>
<path d="M1134.5 1136.7q-0.5 -10.5 -1.7 -17.5" stroke="#6a6a6a" stroke-width="1.5"/>
<path d="M951.7 1134.6q0.7 -14.3 2.4 -23.8" stroke="#3a3a3a" stroke-width="1.5"/>
<path d="M1043.4 1137.1q-1.0 -5.8 -3.4 -9.6" stroke="#888" stroke-width="1.5"/>
<path d="M1112.3 1122.8q-1.3 -5.1 -4.4 -8.5" stroke="#5a5a5a" stroke-width="1.2"/>
<path d="M1155.0 1126.5q0.7 -13.4 2.4 -22.4" stroke="#3a3a3a" stroke-width="1.1"/>
<path d="M1125.7 1136.0q1.2 -11.4 3.9 -19.0" stroke="#888" stroke-width="1.0"/>
<path d="M973.5 1137.3q-0.8 -10.0 -2.7 -16.7" stroke="#4a4a4a" stroke-width="1.0"/>
<path d="M1190.4 1137.7q1.4 -12.1 4.5 -20.1" stroke="#4a4a4a" stroke-width="1.2"/>
<path d="M1023.7 1134.2q1.7 -8.0 5.8 -13.4" stroke="#9a9a9a" stroke-width="1.1"/>
<path d="M1041.8 1127.4q1.9 -5.3 6.3 -8.8" stroke="#9a9a9a" stroke-width="1.5"/>
<path d="M968.2 1129.1q-1.8 -12.8 -6.1 -21.3" stroke="#6a6a6a" stroke-width="1.5"/>
<path d="M1090.7 1126.0q-0.8 -10.1 -2.8 -16.8" stroke="#6a6a6a" stroke-width="0.9"/>
<path d="M963.2 1137.7q0.7 -15.5 2.2 -25.8" stroke="#6a6a6a" stroke-width="1.3"/>
<path d="M1080.0 1127.4q-0.9 -6.4 -2.9 -10.7" stroke="#9a9a9a" stroke-width="0.8"/>
<path d="M1037.1 1123.2q-0.7 -10.1 -2.4 -16.8" stroke="#3a3a3a" stroke-width="1.4"/>
<path d="M1152.6 1130.9q2.1 -12.1 6.9 -20.2" stroke="#3a3a3a" stroke-width="1.4"/>
<path d="M1034.2 1125.2q-1.4 -11.1 -4.7 -18.5" stroke="#6a6a6a" stroke-width="0.9"/>
<path d="M1167.8 1127.1q0.3 -4.9 1.1 -8.2" stroke="#6a6a6a" stroke-width="0.9"/>
<path d="M986.6 1131.4q0.2 -13.9 0.8 -23.2" stroke="#3a3a3a" stroke-width="1.4"/>
<path d="M1204.8 1136.5q1.5 -6.6 5.0 -11.1" stroke="#3a3a3a" stroke-width="1.4"/>
<path d="M981.3 1134.6q-1.6 -5.9 -5.3 -9.9" stroke="#888" stroke-width="1.0"/>
<path d="M1070.1 1125.1q-1.0 -12.5 -3.5 -20.9" stroke="#5a5a5a" stroke-width="1.4"/>
<path d="M1008.3 1128.2q0.8 -11.9 2.6 -19.8" stroke="#4a4a4a" stroke-width="1.1"/>
<path d="M1052.1 1125.0q0.4 -7.1 1.2 -11.9" stroke="#5a5a5a" stroke-width="1.1"/>
<path d="M991.9 1128.5q2.1 -18.0 6.9 -30.1" stroke="#5a5a5a" stroke-width="1.0"/>
<path d="M1064.1 1125.6q-0.1 -13.9 -0.3 -23.2" stroke="#4a4a4a" stroke-width="1.2"/>
<path d="M1111.9 1135.6q1.1 -6.8 3.6 -11.4" stroke="#3a3a3a" stroke-width="1.0"/>
<path d="M956.5 1127.2q0.4 -8.1 1.4 -13.6" stroke="#6a6a6a" stroke-width="0.9"/>
<path d="M1015.1 1123.3q1.6 -12.6 5.5 -21.1" stroke="#5a5a5a" stroke-width="1.3"/>
<path d="M1166.5 1132.6q1.1 -7.0 3.6 -11.6" stroke="#5a5a5a" stroke-width="1.4"/>
<path d="M1158.6 1134.9q1.5 -6.8 5.1 -11.4" stroke="#9a9a9a" stroke-width="0.9"/>
<path d="M1074.9 1122.2q-1.2 -5.1 -3.9 -8.6" stroke="#5a5a5a" stroke-width="1.2"/>
<path d="M1180.0 1136.2q-0.0 -12.3 -0.0 -20.5" stroke="#4a4a4a" stroke-width="1.0"/>
<path d="M1100.0 1133.3q-0.8 -10.3 -2.7 -17.2" stroke="#3a3a3a" stroke-width="0.8"/>
<path d="M986.6 1132.7q-1.1 -14.1 -3.6 -23.6" stroke="#9a9a9a" stroke-width="1.1"/>
<path d="M1095.0 1132.4q1.7 -10.7 5.6 -17.9" stroke="#888" stroke-width="1.4"/>
<path d="M1051.8 1127.6q0.6 -9.5 2.1 -15.8" stroke="#3a3a3a" stroke-width="1.5"/>
<path d="M1078.2 1131.5q1.0 -7.2 3.2 -12.0" stroke="#888" stroke-width="1.1"/>
<path d="M973.2 1138.0q0.2 -5.8 0.6 -9.6" stroke="#6a6a6a" stroke-width="1.3"/>
<path d="M1011.6 1128.5q-0.4 -4.8 -1.3 -8.0" stroke="#888" stroke-width="0.8"/>
<path d="M995.9 1129.9q-1.5 -8.5 -5.0 -14.2" stroke="#6a6a6a" stroke-width="1.4"/>
<path d="M1122.4 1134.9q-0.7 -7.2 -2.3 -12.1" stroke="#5a5a5a" stroke-width="1.1"/>
<path d="M1065.2 1137.1q-0.1 -11.2 -0.4 -18.7" stroke="#5a5a5a" stroke-width="1.4"/>
<path d="M1026.7 1126.5q1.2 -9.2 4.0 -15.4" stroke="#3a3a3a" stroke-width="1.2"/>
<path d="M1002.7 1125.5q1.4 -13.0 4.5 -21.6" stroke="#888" stroke-width="1.5"/>
<path d="M1155.2 1128.6q-1.8 -11.9 -6.1 -19.9" stroke="#9a9a9a" stroke-width="1.4"/>
<path d="M943.2 1137.1q-1.4 -6.4 -4.8 -10.7" stroke="#9a9a9a" stroke-width="1.2"/>
<path d="M1078.5 1136.5q-0.2 -6.4 -0.7 -10.7" stroke="#5a5a5a" stroke-width="1.2"/>
<path d="M945.4 1123.8q1.0 -13.1 3.2 -21.9" stroke="#6a6a6a" stroke-width="1.5"/>
<path d="M1071.3 1127.5q-0.7 -5.1 -2.2 -8.6" stroke="#4a4a4a" stroke-width="1.0"/>
<path d="M1200.7 1137.6q1.2 -10.3 4.1 -17.2" stroke="#3a3a3a" stroke-width="0.8"/>
<path d="M1082.8 1131.7q-0.7 -10.1 -2.2 -16.9" stroke="#3a3a3a" stroke-width="1.3"/>
<path d="M1049.4 1128.6q-1.0 -9.8 -3.4 -16.4" stroke="#4a4a4a" stroke-width="1.4"/>
<path d="M1206.5 1137.1q-1.0 -11.5 -3.3 -19.2" stroke="#3a3a3a" stroke-width="0.9"/>
<path d="M1061.9 1128.1q-0.6 -10.5 -2.0 -17.5" stroke="#5a5a5a" stroke-width="0.9"/>
<path d="M996.9 1132.2q1.8 -6.0 6.0 -10.1" stroke="#3a3a3a" stroke-width="1.5"/>
<path d="M1018.4 1128.5q-1.5 -4.9 -4.9 -8.2" stroke="#6a6a6a" stroke-width="1.4"/>
<path d="M1150.0 1132.7q0.4 -10.0 1.4 -16.7" stroke="#3a3a3a" stroke-width="1.4"/>
<path d="M1137.7 1137.9q1.4 -8.9 4.6 -14.8" stroke="#5a5a5a" stroke-width="1.4"/>
<path d="M1031.4 1125.1q2.1 -10.3 6.9 -17.2" stroke="#9a9a9a" stroke-width="1.5"/>
<path d="M957.3 1123.7q-0.9 -9.8 -3.0 -16.4" stroke="#4a4a4a" stroke-width="1.3"/>
<path d="M1061.2 1135.1q1.4 -11.3 4.6 -18.9" stroke="#4a4a4a" stroke-width="1.2"/>
<path d="M952.5 1129.7q1.6 -5.9 5.2 -9.8" stroke="#9a9a9a" stroke-width="0.9"/>
<path d="M1183.2 1122.3q-0.5 -11.5 -1.6 -19.2" stroke="#888" stroke-width="1.1"/>
<path d="M1017.3 1124.5q0.1 -5.5 0.3 -9.2" stroke="#6a6a6a" stroke-width="1.1"/>
<path d="M985.5 1134.3q0.0 -12.5 0.0 -20.8" stroke="#4a4a4a" stroke-width="1.4"/>
<path d="M998.7 1136.9q-0.9 -13.6 -3.0 -22.7" stroke="#3a3a3a" stroke-width="1.0"/>
<path d="M1186.4 1132.2q0.6 -8.9 1.9 -14.8" stroke="#5a5a5a" stroke-width="1.4"/>
<path d="M1029.4 1135.0q-0.5 -4.9 -1.5 -8.2" stroke="#4a4a4a" stroke-width="0.8"/>
<path d="M1161.2 1134.8q-0.3 -11.0 -1.1 -18.3" stroke="#888" stroke-width="1.1"/>
<path d="M1182.3 1130.9q-0.6 -10.9 -2.0 -18.2" stroke="#4a4a4a" stroke-width="1.3"/>
<path d="M1013.5 1130.4q-1.8 -17.1 -6.0 -28.6" stroke="#4a4a4a" stroke-width="1.4"/>
<path d="M998.2 1135.6q-1.1 -8.5 -3.7 -14.1" stroke="#888" stroke-width="1.4"/>
<path d="M1208.4 1130.4q2.0 -4.9 6.7 -8.2" stroke="#5a5a5a" stroke-width="1.3"/>
<path d="M1036.0 1129.5q1.8 -10.4 5.8 -17.4" stroke="#9a9a9a" stroke-width="1.3"/>
<path d="M947.1 1136.2q-1.1 -12.3 -3.6 -20.5" stroke="#9a9a9a" stroke-width="0.8"/>
<path d="M1059.8 1123.9q1.7 -7.4 5.8 -12.3" stroke="#4a4a4a" stroke-width="1.0"/>
<path d="M1180.0 1133.8q-1.5 -8.0 -4.8 -13.3" stroke="#9a9a9a" stroke-width="1.0"/>
<path d="M1165.8 1128.8q1.3 -12.8 4.4 -21.3" stroke="#5a5a5a" stroke-width="1.4"/>
<path d="M1107.3 1130.3q0.9 -12.0 2.9 -20.0" stroke="#888" stroke-width="0.9"/>
<path d="M1143.5 1133.3q1.6 -13.7 5.3 -22.9" stroke="#6a6a6a" stroke-width="1.3"/>
<path d="M1061.5 1129.1q0.5 -8.4 1.8 -14.1" stroke="#6a6a6a" stroke-width="0.9"/>
<path d="M1040.6 1128.0q0.8 -11.6 2.5 -19.4" stroke="#3a3a3a" stroke-width="1.1"/>
<path d="M1081.7 1132.1q0.6 -13.7 2.1 -22.8" stroke="#888" stroke-width="0.8"/>
<path d="M1080.7 1130.0q-1.0 -11.5 -3.4 -19.1" stroke="#9a9a9a" stroke-width="1.5"/>
<path d="M974.3 1123.0q-1.1 -10.5 -3.8 -17.5" stroke="#5a5a5a" stroke-width="1.2"/>
<path d="M1020.5 1127.8q-1.5 -7.0 -5.1 -11.6" stroke="#6a6a6a" stroke-width="1.3"/>
<path d="M1038.4 1123.7q-1.7 -14.2 -5.7 -23.6" stroke="#3a3a3a" stroke-width="1.2"/>
<path d="M1206.0 1129.0q-1.1 -13.5 -3.7 -22.4" stroke="#6a6a6a" stroke-width="1.0"/>
<path d="M1206.2 1124.1q0.9 -10.7 2.9 -17.8" stroke="#6a6a6a" stroke-width="1.1"/>
<path d="M1012.5 1125.8q-0.8 -5.8 -2.6 -9.7" stroke="#3a3a3a" stroke-width="0.8"/>
<path d="M1076.5 1130.1q-1.2 -6.3 -4.1 -10.5" stroke="#3a3a3a" stroke-width="0.8"/>
<path d="M1158.8 1125.2q1.9 -10.9 6.2 -18.1" stroke="#9a9a9a" stroke-width="0.9"/>
<path d="M1026.1 1137.5q1.1 -8.4 3.5 -14.0" stroke="#4a4a4a" stroke-width="1.1"/>
<path d="M973.4 1133.7q1.6 -9.2 5.2 -15.3" stroke="#5a5a5a" stroke-width="1.5"/>
<path d="M1048.9 1133.4q-0.8 -9.2 -2.6 -15.4" stroke="#888" stroke-width="1.4"/>
<path d="M1123.1 1122.2q-1.7 -6.7 -5.6 -11.2" stroke="#9a9a9a" stroke-width="1.2"/>
<path d="M1116.8 1125.1q2.0 -6.8 6.7 -11.3" stroke="#4a4a4a" stroke-width="1.1"/>
<path d="M956.0 1137.8q-1.1 -6.2 -3.6 -10.3" stroke="#3a3a3a" stroke-width="1.4"/>
<path d="M1018.7 1124.3q-1.9 -9.7 -6.5 -16.2" stroke="#3a3a3a" stroke-width="1.0"/>
<path d="M1196.4 1123.5q1.8 -10.9 5.9 -18.1" stroke="#6a6a6a" stroke-width="1.4"/>
<path d="M1184.3 1133.6q-0.7 -9.7 -2.3 -16.2" stroke="#5a5a5a" stroke-width="0.9"/>
<path d="M1195.2 1137.4q1.0 -7.2 3.3 -12.1" stroke="#888" stroke-width="1.1"/>
<path d="M1040.2 1134.3q1.2 -15.2 4.0 -25.4" stroke="#5a5a5a" stroke-width="1.0"/>
<path d="M956.8 1129.7q1.7 -8.0 5.7 -13.3" stroke="#9a9a9a" stroke-width="1.2"/>
<path d="M1149.6 1132.0q0.1 -7.8 0.4 -13.1" stroke="#9a9a9a" stroke-width="0.8"/>
<path d="M955.0 1135.5q-1.2 -14.4 -4.0 -23.9" stroke="#3a3a3a" stroke-width="1.2"/>
<path d="M1174.9 1124.8q-1.3 -13.4 -4.3 -22.4" stroke="#9a9a9a" stroke-width="1.0"/>
<path d="M952.0 1124.6q1.6 -20.1 5.4 -33.5" stroke="#888" stroke-width="1.1"/>
<path d="M1075.8 1123.0q2.1 -8.9 6.9 -14.8" stroke="#4a4a4a" stroke-width="0.8"/>
<path d="M1195.1 1132.5q0.9 -9.6 3.1 -16.1" stroke="#6a6a6a" stroke-width="0.9"/>
<path d="M1065.8 1128.8q-1.8 -6.5 -6.1 -10.9" stroke="#3a3a3a" stroke-width="1.0"/>
<path d="M1028.2 1135.6q1.3 -14.3 4.2 -23.8" stroke="#3a3a3a" stroke-width="1.3"/>
<path d="M1181.1 1125.2q-0.8 -13.1 -2.7 -21.9" stroke="#5a5a5a" stroke-width="0.8"/>
<path d="M1165.9 1125.1q1.8 -9.9 6.1 -16.5" stroke="#5a5a5a" stroke-width="0.9"/>
<path d="M1133.8 1128.9q1.8 -6.4 6.1 -10.7" stroke="#4a4a4a" stroke-width="0.9"/>
<path d="M952.5 1123.3q0.5 -6.1 1.8 -10.1" stroke="#3a3a3a" stroke-width="0.9"/>
<path d="M1126.6 1126.7q1.5 -5.3 4.9 -8.9" stroke="#6a6a6a" stroke-width="1.1"/>
<path d="M1066.2 1122.2q1.3 -9.6 4.4 -15.9" stroke="#9a9a9a" stroke-width="1.3"/>
<path d="M1174.0 1130.0q-0.2 -12.6 -0.5 -21.0" stroke="#4a4a4a" stroke-width="1.5"/>
<path d="M1135.1 1129.5q0.3 -6.9 0.8 -11.5" stroke="#888" stroke-width="1.4"/>
<path d="M1142.7 1133.6q0.9 -6.4 3.0 -10.7" stroke="#4a4a4a" stroke-width="1.2"/>
<path d="M965.8 1127.7q-0.6 -8.1 -2.1 -13.5" stroke="#5a5a5a" stroke-width="1.1"/>
<path d="M1193.4 1124.4q-1.0 -7.0 -3.4 -11.6" stroke="#3a3a3a" stroke-width="0.9"/>
<path d="M1079.2 1130.8q-0.4 -11.7 -1.2 -19.4" stroke="#9a9a9a" stroke-width="0.9"/>
<path d="M1198.7 1127.2q1.3 -13.1 4.5 -21.9" stroke="#3a3a3a" stroke-width="1.1"/>
<path d="M1202.0 1130.2q-0.5 -4.9 -1.8 -8.2" stroke="#6a6a6a" stroke-width="1.0"/>
<path d="M1044.1 1134.5q0.4 -7.9 1.3 -13.2" stroke="#4a4a4a" stroke-width="1.4"/>
<path d="M1009.6 1126.8q-1.6 -9.9 -5.4 -16.6" stroke="#4a4a4a" stroke-width="1.2"/>
<path d="M1088.5 1129.5q-1.0 -12.8 -3.2 -21.3" stroke="#5a5a5a" stroke-width="0.8"/>
<path d="M1106.6 1127.3q0.6 -7.2 1.8 -12.0" stroke="#6a6a6a" stroke-width="1.5"/>
<path d="M971.4 1127.4q1.1 -6.8 3.7 -11.4" stroke="#3a3a3a" stroke-width="1.5"/>
<path d="M1140.6 1131.1q1.9 -9.9 6.2 -16.5" stroke="#888" stroke-width="1.1"/>
<path d="M996.0 1130.6q1.8 -8.9 5.9 -14.8" stroke="#9a9a9a" stroke-width="1.4"/>
<path d="M992.0 1126.7q0.9 -14.4 3.0 -24.0" stroke="#888" stroke-width="1.1"/>
<path d="M984.3 1136.9q-1.9 -13.2 -6.3 -21.9" stroke="#3a3a3a" stroke-width="1.1"/>
<path d="M950.8 1131.3q-2.0 -10.8 -6.5 -17.9" stroke="#888" stroke-width="1.2"/>
<path d="M1057.5 1134.0q-1.0 -9.6 -3.2 -16.0" stroke="#9a9a9a" stroke-width="1.2"/>
<path d="M1187.8 1129.3q-0.5 -7.7 -1.7 -12.9" stroke="#888" stroke-width="1.2"/>
<path d="M1088.3 1125.4q-1.8 -9.4 -5.9 -15.7" stroke="#4a4a4a" stroke-width="1.2"/>
<path d="M1007.8 1126.7q-0.1 -13.1 -0.2 -21.8" stroke="#9a9a9a" stroke-width="0.8"/>
<path d="M1142.7 1123.2q1.1 -7.0 3.6 -11.7" stroke="#888" stroke-width="0.9"/>
<path d="M1206.4 1124.7q1.6 -12.5 5.2 -20.8" stroke="#3a3a3a" stroke-width="1.3"/>
<path d="M1150.1 1130.3q0.4 -12.7 1.3 -21.2" stroke="#5a5a5a" stroke-width="1.3"/>
<path d="M1028.3 1127.1q1.6 -5.3 5.2 -8.9" stroke="#9a9a9a" stroke-width="0.9"/>
<path d="M1076.7 1125.0q1.1 -8.9 3.6 -14.9" stroke="#6a6a6a" stroke-width="1.3"/>
<path d="M950.9 1134.1q-1.3 -6.9 -4.3 -11.5" stroke="#4a4a4a" stroke-width="1.0"/>
<path d="M1172.8 1122.8q2.0 -9.8 6.8 -16.4" stroke="#3a3a3a" stroke-width="1.3"/>
<path d="M980.3 1122.9q1.7 -10.0 5.7 -16.7" stroke="#4a4a4a" stroke-width="1.1"/>
<path d="M963.1 1135.2q-1.4 -5.3 -4.6 -8.8" stroke="#9a9a9a" stroke-width="0.9"/>
<path d="M1111.5 1124.3q-1.3 -11.1 -4.2 -18.5" stroke="#9a9a9a" stroke-width="1.0"/>
<path d="M1062.9 1132.6q-1.6 -14.4 -5.4 -24.0" stroke="#3a3a3a" stroke-width="1.3"/>
<path d="M1057.7 1137.6q-0.9 -8.6 -2.8 -14.4" stroke="#9a9a9a" stroke-width="1.0"/>
<path d="M1139.4 1133.3q-0.0 -5.0 -0.1 -8.3" stroke="#6a6a6a" stroke-width="0.8"/>
<path d="M1208.0 1129.3q-2.0 -6.1 -6.8 -10.2" stroke="#4a4a4a" stroke-width="0.9"/>
<path d="M1093.0 1137.1q-0.9 -12.2 -3.0 -20.3" stroke="#3a3a3a" stroke-width="0.8"/>
<path d="M1148.2 1130.2q-1.3 -6.6 -4.2 -11.0" stroke="#9a9a9a" stroke-width="1.2"/>
<path d="M1013.6 1133.6q-2.1 -6.2 -6.9 -10.4" stroke="#9a9a9a" stroke-width="1.1"/>
<path d="M1165.2 1137.4q-2.0 -13.8 -6.6 -23.0" stroke="#3a3a3a" stroke-width="1.1"/>
<path d="M1075.8 1136.6q-1.8 -9.3 -6.2 -15.5" stroke="#5a5a5a" stroke-width="1.4"/>
<path d="M995.9 1129.9q1.8 -10.9 6.0 -18.2" stroke="#6a6a6a" stroke-width="1.0"/>
<path d="M1023.6 1123.1q0.2 -8.3 0.6 -13.9" stroke="#5a5a5a" stroke-width="1.2"/>
<path d="M1114.6 1128.8q-1.5 -12.8 -5.0 -21.4" stroke="#6a6a6a" stroke-width="1.1"/>
<path d="M1114.6 1126.8q0.8 -6.9 2.7 -11.5" stroke="#888" stroke-width="1.3"/>
<path d="M1054.5 1131.4q2.0 -5.2 6.6 -8.6" stroke="#9a9a9a" stroke-width="1.1"/>
<path d="M1067.3 1136.2q0.9 -7.2 3.0 -12.0" stroke="#888" stroke-width="1.4"/>
<path d="M1002.6 1132.7q1.3 -7.7 4.2 -12.8" stroke="#888" stroke-width="1.2"/>
<path d="M1049.0 1127.8q-1.1 -12.2 -3.7 -20.4" stroke="#5a5a5a" stroke-width="1.4"/>
<path d="M1180.4 1129.8q-0.5 -9.3 -1.6 -15.4" stroke="#888" stroke-width="0.8"/>
<path d="M1165.7 1131.2q-1.9 -8.9 -6.3 -14.9" stroke="#4a4a4a" stroke-width="1.3"/>
<path d="M971.0 1132.4q-0.3 -13.2 -1.0 -21.9" stroke="#3a3a3a" stroke-width="1.2"/>
<path d="M1101.9 1137.7q1.2 -9.7 4.0 -16.2" stroke="#6a6a6a" stroke-width="1.2"/>
<path d="M952.1 1124.6q-1.5 -7.7 -5.1 -12.9" stroke="#888" stroke-width="1.0"/>
<path d="M994.2 1123.5q0.7 -7.4 2.2 -12.3" stroke="#888" stroke-width="1.2"/>
<path d="M1090.1 1131.6q0.7 -8.5 2.3 -14.1" stroke="#4a4a4a" stroke-width="1.3"/>
<path d="M1118.3 1137.3q1.4 -7.2 4.6 -12.1" stroke="#3a3a3a" stroke-width="1.4"/>
<path d="M1106.3 1130.3q-2.0 -13.5 -6.7 -22.5" stroke="#888" stroke-width="1.1"/>
<path d="M1087.6 1131.6q1.7 -13.0 5.6 -21.6" stroke="#3a3a3a" stroke-width="1.4"/>
<path d="M996.0 1129.3q-1.7 -12.9 -5.6 -21.5" stroke="#5a5a5a" stroke-width="1.0"/>
<path d="M1168.0 1137.5q-0.6 -6.7 -2.1 -11.2" stroke="#5a5a5a" stroke-width="1.2"/>
<path d="M973.7 1128.7q-1.1 -8.1 -3.8 -13.5" stroke="#5a5a5a" stroke-width="1.2"/>
<path d="M991.1 1134.4q-2.0 -5.7 -6.6 -9.5" stroke="#6a6a6a" stroke-width="1.0"/>
<path d="M1206.5 1135.7q-0.6 -13.4 -1.9 -22.4" stroke="#4a4a4a" stroke-width="1.3"/>
<path d="M1025.8 1128.4q-1.0 -6.9 -3.4 -11.6" stroke="#3a3a3a" stroke-width="0.9"/>
<path d="M1181.1 1136.7q1.2 -12.3 3.9 -20.5" stroke="#3a3a3a" stroke-width="1.1"/>
<path d="M1135.5 1122.2q2.0 -11.5 6.8 -19.1" stroke="#5a5a5a" stroke-width="1.3"/>
<path d="M948.8 1134.1q0.6 -12.0 2.0 -20.1" stroke="#5a5a5a" stroke-width="1.3"/>
<path d="M1187.5 1132.1q-1.5 -12.1 -5.0 -20.1" stroke="#888" stroke-width="0.8"/>
<path d="M993.0 1130.9q0.6 -7.6 2.0 -12.6" stroke="#3a3a3a" stroke-width="0.9"/>
<path d="M1052.9 1131.3q-2.1 -5.9 -6.9 -9.8" stroke="#3a3a3a" stroke-width="1.5"/>
<path d="M1094.7 1124.9q-0.7 -5.3 -2.3 -8.9" stroke="#5a5a5a" stroke-width="1.3"/>
<path d="M1060.2 1132.6q-1.3 -11.3 -4.3 -18.9" stroke="#3a3a3a" stroke-width="1.4"/>
<path d="M1065.5 1131.1q1.7 -6.9 5.8 -11.5" stroke="#3a3a3a" stroke-width="1.1"/>
<path d="M1021.2 1134.0q2.1 -16.4 6.9 -27.4" stroke="#9a9a9a" stroke-width="0.9"/>
<path d="M1184.8 1132.7q-1.1 -12.8 -3.7 -21.3" stroke="#5a5a5a" stroke-width="1.0"/>
<path d="M1076.3 1135.0q0.6 -17.4 1.9 -29.0" stroke="#888" stroke-width="1.3"/>
<path d="M1109.5 1137.7q-0.5 -13.4 -1.8 -22.3" stroke="#6a6a6a" stroke-width="1.5"/>
<path d="M1187.4 1135.6q-1.9 -12.9 -6.2 -21.5" stroke="#6a6a6a" stroke-width="1.5"/>
<path d="M955.7 1129.3q1.1 -6.4 3.8 -10.7" stroke="#5a5a5a" stroke-width="1.0"/>
<path d="M1078.4 1135.6q0.2 -4.9 0.6 -8.2" stroke="#4a4a4a" stroke-width="1.1"/>
<path d="M980.2 1123.9q-0.1 -6.6 -0.5 -10.9" stroke="#6a6a6a" stroke-width="1.0"/>
<path d="M1027.2 1137.6q-0.1 -11.0 -0.5 -18.3" stroke="#3a3a3a" stroke-width="1.0"/>
<path d="M1034.4 1135.9q0.8 -10.2 2.8 -17.0" stroke="#3a3a3a" stroke-width="1.2"/>
<path d="M959.5 1124.7q-0.8 -11.9 -2.5 -19.9" stroke="#4a4a4a" stroke-width="1.0"/>
<path d="M1057.2 1130.2q-1.9 -5.9 -6.2 -9.8" stroke="#888" stroke-width="1.0"/>
<path d="M957.5 1128.7q1.6 -11.1 5.3 -18.5" stroke="#3a3a3a" stroke-width="0.9"/>
<path d="M1143.1 1135.9q0.2 -5.6 0.7 -9.3" stroke="#3a3a3a" stroke-width="1.0"/>
<path d="M946.3 1123.9q-0.1 -12.4 -0.4 -20.7" stroke="#3a3a3a" stroke-width="0.9"/>
<path d="M1051.7 1127.2q1.6 -16.5 5.4 -27.5" stroke="#9a9a9a" stroke-width="1.3"/>
<path d="M1201.8 1131.6q-1.6 -10.7 -5.4 -17.8" stroke="#3a3a3a" stroke-width="1.2"/>
<path d="M1123.8 1133.2q0.1 -11.0 0.4 -18.3" stroke="#9a9a9a" stroke-width="0.9"/>
<path d="M995.0 1132.3q-2.0 -9.3 -6.7 -15.6" stroke="#5a5a5a" stroke-width="1.2"/>
<path d="M1085.3 1127.1q1.7 -17.2 5.7 -28.6" stroke="#5a5a5a" stroke-width="1.0"/>
<path d="M1175.8 1125.1q0.8 -7.5 2.8 -12.6" stroke="#3a3a3a" stroke-width="0.9"/>
<path d="M1169.4 1129.3q-0.8 -8.9 -2.7 -14.8" stroke="#3a3a3a" stroke-width="0.9"/>
<path d="M1074.3 1124.4q-1.3 -7.9 -4.3 -13.2" stroke="#9a9a9a" stroke-width="1.0"/>
<path d="M946.0 1130.6q0.8 -11.9 2.6 -19.8" stroke="#6a6a6a" stroke-width="0.8"/>
<path d="M1021.3 1129.1q-0.5 -11.4 -1.7 -19.0" stroke="#4a4a4a" stroke-width="1.2"/>
<path d="M1061.4 1125.4q-1.1 -12.3 -3.6 -20.6" stroke="#5a5a5a" stroke-width="1.1"/>
<path d="M1070.3 1122.4q-1.2 -7.1 -4.2 -11.9" stroke="#9a9a9a" stroke-width="1.5"/>
<path d="M1027.4 1134.8q-1.3 -7.7 -4.3 -12.8" stroke="#5a5a5a" stroke-width="1.2"/>
<path d="M1100.2 1134.7q0.9 -9.8 3.0 -16.4" stroke="#5a5a5a" stroke-width="0.9"/>
<path d="M1024.6 1134.8q-1.4 -6.3 -4.8 -10.5" stroke="#3a3a3a" stroke-width="0.8"/>
<path d="M992.2 1131.3q1.7 -9.7 5.6 -16.2" stroke="#4a4a4a" stroke-width="1.4"/>
<path d="M990.2 1136.9q-1.4 -6.5 -4.8 -10.8" stroke="#9a9a9a" stroke-width="1.3"/>
<path d="M1155.5 1133.5q1.2 -12.7 4.1 -21.1" stroke="#9a9a9a" stroke-width="1.4"/>
<path d="M1168.3 1134.7q1.2 -11.5 4.0 -19.1" stroke="#5a5a5a" stroke-width="0.9"/>
<path d="M983.7 1127.1q-1.6 -15.8 -5.3 -26.4" stroke="#6a6a6a" stroke-width="1.2"/>
<path d="M1170.3 1123.3q-0.4 -13.0 -1.4 -21.7" stroke="#4a4a4a" stroke-width="1.4"/>
<path d="M1100.1 1136.7q-0.6 -11.7 -1.9 -19.4" stroke="#6a6a6a" stroke-width="1.4"/>
<path d="M949.3 1124.3q0.0 -9.5 0.1 -15.8" stroke="#5a5a5a" stroke-width="1.5"/>
<path d="M1045.3 1136.0q-0.6 -13.9 -1.9 -23.1" stroke="#3a3a3a" stroke-width="0.8"/>
<path d="M950.9 1127.0q-1.7 -17.1 -5.7 -28.5" stroke="#9a9a9a" stroke-width="1.3"/>
<path d="M1057.1 1133.4q-1.0 -12.3 -3.4 -20.6" stroke="#6a6a6a" stroke-width="1.2"/>
<path d="M1121.4 1128.2q-2.0 -11.8 -6.6 -19.7" stroke="#5a5a5a" stroke-width="1.2"/>
<path d="M976.7 1126.8q0.4 -10.6 1.4 -17.7" stroke="#6a6a6a" stroke-width="0.8"/>
<path d="M1095.8 1129.8q-0.6 -6.4 -1.9 -10.7" stroke="#6a6a6a" stroke-width="1.0"/>
<path d="M1163.5 1133.5q-1.1 -12.3 -3.6 -20.4" stroke="#4a4a4a" stroke-width="0.8"/>
<path d="M1056.3 1135.2q-0.7 -8.0 -2.3 -13.3" stroke="#5a5a5a" stroke-width="1.2"/>
<path d="M982.4 1125.2q-1.5 -10.7 -4.9 -17.8" stroke="#6a6a6a" stroke-width="1.2"/>
<path d="M1148.9 1122.2q-0.6 -5.4 -1.9 -9.0" stroke="#888" stroke-width="0.9"/>
<path d="M1122.7 1123.0q0.7 -9.2 2.2 -15.4" stroke="#3a3a3a" stroke-width="0.9"/>
<path d="M977.0 1129.6q0.3 -7.8 1.2 -13.0" stroke="#888" stroke-width="1.1"/>
<path d="M953.8 1128.0q-1.8 -13.0 -6.1 -21.6" stroke="#6a6a6a" stroke-width="0.8"/>
<path d="M976.3 1130.4q-1.9 -6.3 -6.4 -10.5" stroke="#4a4a4a" stroke-width="0.9"/>
<path d="M1162.3 1136.0q0.8 -12.4 2.7 -20.6" stroke="#4a4a4a" stroke-width="1.3"/>
<path d="M1035.7 1135.0q-1.9 -12.4 -6.3 -20.6" stroke="#6a6a6a" stroke-width="1.5"/>
<path d="M1181.4 1132.4q0.8 -10.7 2.6 -17.9" stroke="#6a6a6a" stroke-width="1.2"/>
<path d="M1086.4 1123.3q-0.3 -12.4 -1.0 -20.6" stroke="#888" stroke-width="1.5"/>
<path d="M1019.9 1130.6q2.1 -9.5 6.9 -15.8" stroke="#3a3a3a" stroke-width="1.4"/>
<path d="M1022.3 1136.6q-1.4 -13.5 -4.5 -22.6" stroke="#6a6a6a" stroke-width="0.9"/>
<path d="M1027.5 1137.0q1.9 -10.9 6.4 -18.1" stroke="#888" stroke-width="1.3"/>
<path d="M954.5 1133.5q-0.4 -14.0 -1.4 -23.3" stroke="#3a3a3a" stroke-width="1.2"/>
<path d="M1005.1 1137.0q-0.3 -11.0 -0.9 -18.3" stroke="#4a4a4a" stroke-width="1.2"/>
<path d="M1047.4 1137.6q1.3 -11.8 4.3 -19.6" stroke="#3a3a3a" stroke-width="1.1"/>
<path d="M1120.2 1123.8q2.0 -8.1 6.7 -13.6" stroke="#6a6a6a" stroke-width="1.4"/>
<path d="M1075.0 1130.9q-2.0 -7.2 -6.6 -11.9" stroke="#5a5a5a" stroke-width="1.1"/>
<path d="M1149.9 1133.6q0.4 -14.2 1.2 -23.7" stroke="#6a6a6a" stroke-width="1.0"/>
<path d="M954.1 1135.0q1.3 -11.5 4.2 -19.1" stroke="#6a6a6a" stroke-width="0.8"/>
<path d="M1029.9 1125.6q0.7 -8.5 2.3 -14.2" stroke="#888" stroke-width="0.9"/>
<path d="M1090.2 1132.7q-1.8 -14.1 -6.0 -23.5" stroke="#888" stroke-width="1.0"/>
<path d="M1131.2 1131.5q-1.1 -7.1 -3.6 -11.8" stroke="#9a9a9a" stroke-width="1.0"/>
<path d="M1094.3 1132.7q-1.0 -8.0 -3.5 -13.4" stroke="#5a5a5a" stroke-width="1.5"/>
<path d="M1050.6 1126.2q-0.5 -11.7 -1.8 -19.5" stroke="#3a3a3a" stroke-width="1.1"/>
<path d="M966.6 1137.3q1.0 -5.8 3.3 -9.6" stroke="#4a4a4a" stroke-width="1.2"/>
<path d="M1018.7 1128.6q-1.3 -8.7 -4.3 -14.5" stroke="#9a9a9a" stroke-width="1.3"/>
<path d="M1060.2 1131.8q-1.2 -10.5 -4.0 -17.5" stroke="#5a5a5a" stroke-width="1.3"/>
<path d="M1050.8 1131.3q-1.7 -8.7 -5.8 -14.5" stroke="#888" stroke-width="1.1"/>
<path d="M1030.7 1135.5q-0.3 -7.6 -1.1 -12.7" stroke="#4a4a4a" stroke-width="1.1"/>
<path d="M1131.0 1126.1q2.0 -9.8 6.5 -16.3" stroke="#5a5a5a" stroke-width="1.3"/>
<path d="M1023.1 1124.1q1.1 -10.4 3.6 -17.3" stroke="#9a9a9a" stroke-width="1.4"/>
<path d="M1100.2 1130.4q-1.9 -14.4 -6.3 -24.0" stroke="#888" stroke-width="0.8"/>
<path d="M1065.9 1127.6q1.9 -13.6 6.5 -22.7" stroke="#6a6a6a" stroke-width="1.4"/>
<path d="M1104.2 1122.3q-0.7 -5.6 -2.2 -9.3" stroke="#5a5a5a" stroke-width="1.1"/>
<path d="M1188.8 1125.8q0.8 -4.8 2.8 -8.1" stroke="#6a6a6a" stroke-width="1.0"/>
<path d="M1206.8 1136.9q-0.8 -14.3 -2.8 -23.8" stroke="#4a4a4a" stroke-width="1.0"/>
<path d="M1092.8 1137.6q0.1 -11.7 0.4 -19.6" stroke="#9a9a9a" stroke-width="1.3"/>
<path d="M944.5 1130.2q-1.4 -5.0 -4.7 -8.4" stroke="#6a6a6a" stroke-width="1.0"/>
<path d="M1082.3 1126.2q-1.2 -17.0 -3.8 -28.3" stroke="#3a3a3a" stroke-width="1.0"/>
<path d="M1191.9 1122.8q1.3 -11.5 4.4 -19.2" stroke="#6a6a6a" stroke-width="0.9"/>
<path d="M1181.0 1123.9q1.7 -5.9 5.6 -9.8" stroke="#5a5a5a" stroke-width="1.1"/>
<path d="M1131.2 1128.3q1.7 -10.3 5.7 -17.2" stroke="#6a6a6a" stroke-width="0.9"/>
<path d="M1030.6 1126.9q0.9 -13.7 3.0 -22.8" stroke="#4a4a4a" stroke-width="1.4"/>
<path d="M1194.6 1130.5q0.6 -11.6 2.1 -19.3" stroke="#4a4a4a" stroke-width="1.3"/>
<path d="M1209.2 1137.4q-1.5 -17.1 -5.0 -28.5" stroke="#9a9a9a" stroke-width="1.4"/>
<path d="M1017.5 1129.1q-0.5 -6.1 -1.8 -10.1" stroke="#5a5a5a" stroke-width="1.1"/>
<path d="M1089.2 1134.4q1.3 -6.8 4.4 -11.3" stroke="#5a5a5a" stroke-width="0.8"/>
<path d="M997.1 1125.0q-1.7 -10.5 -5.6 -17.5" stroke="#9a9a9a" stroke-width="1.4"/>
<path d="M991.7 1127.5q-0.8 -6.2 -2.7 -10.3" stroke="#9a9a9a" stroke-width="0.9"/>
<path d="M1167.7 1131.9q-1.6 -12.6 -5.5 -21.0" stroke="#5a5a5a" stroke-width="1.4"/>
<path d="M1197.7 1131.3q1.8 -17.2 6.1 -28.7" stroke="#5a5a5a" stroke-width="0.8"/>
<path d="M1039.5 1137.6q2.0 -7.2 6.8 -12.0" stroke="#5a5a5a" stroke-width="1.3"/>
<path d="M1085.6 1135.6q0.5 -17.4 1.8 -29.0" stroke="#9a9a9a" stroke-width="1.1"/>
<path d="M1052.1 1128.1q1.9 -16.3 6.4 -27.2" stroke="#4a4a4a" stroke-width="1.5"/>
<path d="M1003.2 1137.7q-0.4 -9.9 -1.4 -16.5" stroke="#6a6a6a" stroke-width="1.3"/>
<path d="M1125.9 1129.5q-2.0 -12.0 -6.8 -20.0" stroke="#5a5a5a" stroke-width="1.0"/>
<path d="M1002.7 1126.5q1.2 -8.6 3.9 -14.3" stroke="#4a4a4a" stroke-width="1.0"/>
<path d="M1181.6 1131.5q0.8 -6.9 2.8 -11.4" stroke="#888" stroke-width="1.1"/>
<path d="M1043.1 1134.4q-1.0 -10.9 -3.2 -18.2" stroke="#6a6a6a" stroke-width="1.1"/>
<path d="M1174.8 1132.3q-1.8 -10.2 -5.9 -17.0" stroke="#888" stroke-width="1.1"/>
<path d="M945.0 1136.9q1.4 -10.5 4.7 -17.4" stroke="#5a5a5a" stroke-width="1.1"/>
<path d="M1133.6 1130.4q-0.5 -13.0 -1.6 -21.6" stroke="#9a9a9a" stroke-width="1.3"/>
<path d="M967.7 1136.9q-1.2 -14.3 -4.1 -23.9" stroke="#888" stroke-width="1.4"/>
<path d="M1126.1 1125.9q1.9 -8.8 6.5 -14.7" stroke="#6a6a6a" stroke-width="0.9"/>
<path d="M984.6 1123.0q-1.1 -7.8 -3.5 -13.0" stroke="#3a3a3a" stroke-width="1.2"/>
<path d="M1122.2 1130.3q0.8 -8.8 2.7 -14.6" stroke="#9a9a9a" stroke-width="1.4"/>
<path d="M1001.3 1127.5q-1.2 -10.7 -4.0 -17.8" stroke="#6a6a6a" stroke-width="0.9"/>
<path d="M1111.6 1128.5q1.0 -9.3 3.4 -15.5" stroke="#4a4a4a" stroke-width="0.8"/>
<path d="M1159.1 1134.7q1.0 -4.8 3.2 -8.0" stroke="#3a3a3a" stroke-width="1.2"/>
<path d="M1180.3 1123.4q1.2 -7.3 4.1 -12.2" stroke="#6a6a6a" stroke-width="1.4"/>
<path d="M1160.7 1130.1q0.2 -14.0 0.5 -23.3" stroke="#4a4a4a" stroke-width="1.3"/>
<path d="M1039.0 1133.4q-1.3 -7.3 -4.4 -12.2" stroke="#888" stroke-width="1.1"/>
<path d="M995.5 1137.7q1.2 -9.2 3.9 -15.4" stroke="#6a6a6a" stroke-width="1.4"/>
<path d="M1169.7 1126.7q1.1 -11.7 3.6 -19.5" stroke="#3a3a3a" stroke-width="1.3"/>
<path d="M1108.8 1123.5q-1.2 -10.3 -4.1 -17.2" stroke="#4a4a4a" stroke-width="0.9"/>
<path d="M1059.3 1123.3q0.6 -6.9 2.1 -11.4" stroke="#6a6a6a" stroke-width="1.0"/>
<path d="M1004.3 1123.0q-1.6 -9.0 -5.4 -15.0" stroke="#9a9a9a" stroke-width="1.0"/>
<path d="M1147.2 1130.0q1.9 -5.4 6.4 -8.9" stroke="#3a3a3a" stroke-width="1.5"/>
<path d="M1142.8 1125.8q-0.3 -8.1 -0.9 -13.5" stroke="#888" stroke-width="1.1"/>
<path d="M1208.2 1128.8q-1.3 -11.0 -4.4 -18.3" stroke="#4a4a4a" stroke-width="1.3"/>
<path d="M997.4 1123.8q1.3 -4.8 4.2 -8.0" stroke="#9a9a9a" stroke-width="0.9"/>
<path d="M1117.7 1136.2q0.4 -14.4 1.2 -24.0" stroke="#9a9a9a" stroke-width="1.1"/>
<path d="M1207.4 1133.6q0.8 -6.0 2.7 -10.1" stroke="#5a5a5a" stroke-width="1.2"/>
<path d="M1197.7 1135.6q-0.3 -7.5 -1.1 -12.4" stroke="#5a5a5a" stroke-width="1.5"/>
<path d="M1102.3 1130.2q0.4 -10.7 1.4 -17.9" stroke="#888" stroke-width="1.1"/>
<path d="M1176.7 1125.8q-2.0 -8.1 -6.8 -13.4" stroke="#888" stroke-width="1.2"/>
<path d="M954.5 1129.9q-1.7 -12.3 -5.7 -20.5" stroke="#6a6a6a" stroke-width="1.1"/>
<path d="M1062.0 1127.0q1.4 -13.7 4.6 -22.9" stroke="#4a4a4a" stroke-width="0.9"/>
<path d="M1176.1 1124.7q0.7 -7.2 2.5 -12.0" stroke="#5a5a5a" stroke-width="1.2"/>
<path d="M1086.2 1132.9q-0.6 -12.1 -1.9 -20.2" stroke="#4a4a4a" stroke-width="0.9"/>
<path d="M1150.1 1129.4q1.9 -9.9 6.2 -16.5" stroke="#888" stroke-width="1.0"/>
<path d="M976.6 1133.7q1.7 -5.3 5.8 -8.8" stroke="#888" stroke-width="1.0"/>
<path d="M949.7 1130.0q0.0 -12.9 0.0 -21.6" stroke="#888" stroke-width="1.1"/>
<path d="M1175.4 1133.3q-0.7 -9.8 -2.3 -16.3" stroke="#3a3a3a" stroke-width="1.5"/>
<path d="M1177.1 1132.0q-0.0 -13.1 -0.0 -21.8" stroke="#3a3a3a" stroke-width="0.9"/>
<path d="M960.9 1136.7q2.1 -12.0 6.8 -19.9" stroke="#6a6a6a" stroke-width="0.9"/>
<path d="M1061.7 1122.9q-2.0 -15.4 -6.7 -25.6" stroke="#888" stroke-width="1.3"/>
<path d="M1002.0 1127.9q0.7 -8.1 2.3 -13.4" stroke="#888" stroke-width="1.1"/>
<path d="M1013.7 1131.5q-1.8 -6.9 -5.9 -11.6" stroke="#6a6a6a" stroke-width="1.3"/>
<path d="M951.5 1134.4q-1.8 -8.4 -6.0 -14.0" stroke="#6a6a6a" stroke-width="1.3"/>
<path d="M1106.5 1129.5q-0.9 -13.0 -3.2 -21.7" stroke="#4a4a4a" stroke-width="1.1"/>
<path d="M1058.3 1128.7q1.4 -7.7 4.7 -12.8" stroke="#6a6a6a" stroke-width="1.4"/>
<path d="M1030.8 1126.5q-0.1 -8.8 -0.4 -14.7" stroke="#888" stroke-width="1.2"/>
<path d="M1012.0 1128.6q-0.6 -9.3 -2.2 -15.5" stroke="#3a3a3a" stroke-width="1.3"/>
<path d="M1152.6 1133.6q1.2 -5.7 4.1 -9.5" stroke="#3a3a3a" stroke-width="0.8"/>
<path d="M1017.9 1132.7q-1.0 -8.3 -3.2 -13.8" stroke="#5a5a5a" stroke-width="0.9"/>
<path d="M1064.6 1122.2q-0.9 -12.4 -3.1 -20.7" stroke="#888" stroke-width="1.4"/>
<path d="M1195.4 1123.8q-0.4 -10.0 -1.5 -16.6" stroke="#5a5a5a" stroke-width="1.4"/>
<path d="M1137.3 1134.2q-1.6 -5.0 -5.4 -8.4" stroke="#4a4a4a" stroke-width="0.9"/>
<path d="M1189.6 1127.5q-1.3 -6.3 -4.4 -10.4" stroke="#888" stroke-width="1.3"/>
<path d="M1171.6 1132.4q1.9 -9.7 6.4 -16.2" stroke="#4a4a4a" stroke-width="1.2"/>
<path d="M1056.3 1129.9q0.2 -8.1 0.7 -13.6" stroke="#3a3a3a" stroke-width="0.9"/>
<path d="M1156.6 1130.9q-0.3 -9.5 -1.0 -15.8" stroke="#5a5a5a" stroke-width="1.1"/>
<path d="M1162.0 1126.5q0.2 -6.3 0.7 -10.5" stroke="#3a3a3a" stroke-width="1.2"/>
<path d="M1011.1 1123.9q-1.4 -13.4 -4.7 -22.4" stroke="#9a9a9a" stroke-width="0.8"/>
<path d="M1078.7 1135.9q0.3 -6.1 1.0 -10.2" stroke="#5a5a5a" stroke-width="1.4"/>
<path d="M1074.6 1134.3q1.1 -5.7 3.6 -9.5" stroke="#3a3a3a" stroke-width="1.5"/>
<path d="M1082.6 1123.5q0.6 -9.8 2.0 -16.3" stroke="#888" stroke-width="0.9"/>
<path d="M970.1 1130.7q1.2 -10.1 4.1 -16.8" stroke="#4a4a4a" stroke-width="0.8"/>
<path d="M1169.9 1135.9q-0.9 -10.0 -3.0 -16.7" stroke="#888" stroke-width="1.0"/>
<path d="M1081.0 1130.4q-0.4 -8.7 -1.4 -14.5" stroke="#5a5a5a" stroke-width="1.2"/>
<path d="M1035.6 1135.5q1.1 -18.2 3.6 -30.4" stroke="#9a9a9a" stroke-width="1.4"/>
<path d="M952.3 1131.4q-1.7 -8.4 -5.7 -14.1" stroke="#6a6a6a" stroke-width="1.3"/>
<path d="M1048.3 1134.6q-1.1 -10.0 -3.7 -16.7" stroke="#6a6a6a" stroke-width="1.3"/>
<path d="M1209.2 1126.2q-1.0 -8.7 -3.4 -14.4" stroke="#6a6a6a" stroke-width="0.9"/>
<path d="M1137.1 1126.6q1.2 -7.4 3.9 -12.4" stroke="#3a3a3a" stroke-width="1.0"/>
<path d="M997.4 1131.1q-2.1 -8.7 -6.9 -14.5" stroke="#888" stroke-width="1.2"/>
<path d="M1172.6 1125.4q-2.0 -9.3 -6.8 -15.5" stroke="#5a5a5a" stroke-width="1.0"/>
<path d="M1087.0 1122.1q1.7 -9.6 5.7 -15.9" stroke="#888" stroke-width="1.2"/>
<path d="M1129.3 1122.2q-1.2 -10.7 -4.0 -17.8" stroke="#888" stroke-width="1.5"/>
<path d="M998.1 1129.1q-1.6 -10.6 -5.2 -17.7" stroke="#3a3a3a" stroke-width="1.1"/>
<path d="M964.2 1128.9q1.0 -10.8 3.2 -18.0" stroke="#888" stroke-width="1.1"/>
<path d="M1203.1 1135.7q-0.4 -13.4 -1.3 -22.3" stroke="#5a5a5a" stroke-width="1.5"/>
<path d="M967.8 1128.2q-0.9 -7.1 -2.9 -11.8" stroke="#4a4a4a" stroke-width="1.1"/>
</g>
<rect x="946" y="1136" width="260" height="140" fill="#2c2c2c"/>
<rect x="946" y="1136" width="260" height="140" fill="#050505" filter="url(#soil)" opacity="0.9"/>
<path d="M1197.1 1230.5l-1.7 3.4" stroke="#aaa" stroke-width="1.5" opacity="0.38"/>
<path d="M1082.5 1163.7l-0.7 1.1" stroke="#5a5a5a" stroke-width="0.7" opacity="0.65"/>
<path d="M964.9 1241.8l0.3 1.5" stroke="#4a4a4a" stroke-width="0.9" opacity="0.80"/>
<path d="M1045.8 1215.0l0.6 3.3" stroke="#8d8d8d" stroke-width="1.2" opacity="0.74"/>
<path d="M1033.8 1187.2l-3.4 0.3" stroke="#aaa" stroke-width="1.3" opacity="0.38"/>
<path d="M986.0 1271.3l-0.6 1.3" stroke="#aaa" stroke-width="1.3" opacity="0.64"/>
<path d="M1196.1 1211.6l1.1 0.5" stroke="#5a5a5a" stroke-width="1.3" opacity="0.43"/>
<path d="M1004.0 1168.0l2.4 1.4" stroke="#777" stroke-width="1.0" opacity="0.81"/>
<path d="M1149.0 1145.0l-0.5 1.6" stroke="#777" stroke-width="0.8" opacity="0.73"/>
<path d="M1156.4 1180.5l-1.8 1.6" stroke="#aaa" stroke-width="1.1" opacity="0.49"/>
<path d="M1038.8 1266.2l-1.2 2.4" stroke="#8d8d8d" stroke-width="1.0" opacity="0.82"/>
<path d="M1101.7 1236.5l2.7 0.4" stroke="#8d8d8d" stroke-width="1.4" opacity="0.72"/>
<path d="M959.2 1273.3l3.4 0.2" stroke="#4a4a4a" stroke-width="1.0" opacity="0.63"/>
<path d="M1044.7 1252.1l3.0 0.6" stroke="#5a5a5a" stroke-width="1.0" opacity="0.37"/>
<path d="M1024.4 1146.1l-0.2 1.4" stroke="#777" stroke-width="1.2" opacity="0.33"/>
<path d="M969.6 1274.5l2.2 3.2" stroke="#8d8d8d" stroke-width="1.4" opacity="0.43"/>
<path d="M994.4 1274.2l-2.0 0.5" stroke="#8d8d8d" stroke-width="0.8" opacity="0.42"/>
<path d="M1170.5 1153.2l-1.7 0.8" stroke="#8d8d8d" stroke-width="0.8" opacity="0.58"/>
<path d="M1095.4 1215.0l-1.2 0.5" stroke="#aaa" stroke-width="1.4" opacity="0.59"/>
<path d="M1007.3 1247.4l0.4 1.9" stroke="#777" stroke-width="1.4" opacity="0.57"/>
<path d="M949.9 1142.2l-0.2 1.3" stroke="#aaa" stroke-width="1.4" opacity="0.85"/>
<path d="M1060.6 1169.6l0.3 1.8" stroke="#777" stroke-width="1.1" opacity="0.58"/>
<path d="M1166.8 1177.6l-2.0 0.2" stroke="#5a5a5a" stroke-width="1.2" opacity="0.53"/>
<path d="M1135.4 1166.9l2.4 2.3" stroke="#777" stroke-width="1.5" opacity="0.33"/>
<path d="M1124.4 1255.4l2.0 1.3" stroke="#777" stroke-width="0.8" opacity="0.51"/>
<path d="M1184.3 1236.6l2.1 0.9" stroke="#777" stroke-width="1.0" opacity="0.45"/>
<path d="M968.0 1224.5l0.5 1.7" stroke="#8d8d8d" stroke-width="1.2" opacity="0.67"/>
<path d="M977.6 1251.7l0.2 3.2" stroke="#777" stroke-width="1.5" opacity="0.69"/>
<path d="M1001.2 1253.8l-2.1 0.4" stroke="#777" stroke-width="1.2" opacity="0.60"/>
<path d="M1181.2 1230.2l-1.7 3.4" stroke="#4a4a4a" stroke-width="1.1" opacity="0.36"/>
<path d="M973.9 1257.0l-0.7 1.1" stroke="#8d8d8d" stroke-width="1.2" opacity="0.38"/>
<path d="M1176.1 1245.8l2.6 1.7" stroke="#4a4a4a" stroke-width="1.4" opacity="0.48"/>
<path d="M1076.4 1269.3l1.3 3.0" stroke="#4a4a4a" stroke-width="1.3" opacity="0.70"/>
<path d="M1028.5 1217.2l-1.6 1.0" stroke="#8d8d8d" stroke-width="1.2" opacity="0.42"/>
<path d="M1172.8 1265.1l-1.3 0.9" stroke="#8d8d8d" stroke-width="1.4" opacity="0.48"/>
<path d="M1195.1 1239.4l-0.7 2.5" stroke="#777" stroke-width="1.3" opacity="0.40"/>
<path d="M1086.5 1175.7l1.5 1.0" stroke="#5a5a5a" stroke-width="1.0" opacity="0.40"/>
<path d="M992.0 1180.7l1.4 3.4" stroke="#aaa" stroke-width="0.9" opacity="0.52"/>
<path d="M1127.8 1232.2l2.5 1.6" stroke="#5a5a5a" stroke-width="0.9" opacity="0.61"/>
<path d="M1102.8 1175.2l2.7 0.6" stroke="#777" stroke-width="1.0" opacity="0.48"/>
<path d="M1042.2 1273.0l1.5 0.4" stroke="#5a5a5a" stroke-width="1.2" opacity="0.32"/>
<path d="M1017.3 1189.9l0.5 2.8" stroke="#777" stroke-width="1.5" opacity="0.58"/>
<path d="M1120.7 1246.4l0.1 1.6" stroke="#777" stroke-width="1.0" opacity="0.42"/>
<path d="M961.7 1159.9l-1.5 2.9" stroke="#777" stroke-width="1.2" opacity="0.70"/>
<path d="M1091.8 1187.6l-0.1 3.1" stroke="#4a4a4a" stroke-width="1.0" opacity="0.57"/>
<path d="M1060.6 1271.9l1.9 1.7" stroke="#8d8d8d" stroke-width="1.0" opacity="0.79"/>
<path d="M1141.0 1172.6l-3.5 0.1" stroke="#4a4a4a" stroke-width="0.8" opacity="0.50"/>
<path d="M1140.2 1252.4l1.3 3.6" stroke="#aaa" stroke-width="1.2" opacity="0.48"/>
<path d="M996.1 1232.7l3.0 0.6" stroke="#777" stroke-width="1.0" opacity="0.32"/>
<path d="M1006.9 1235.4l1.7 3.5" stroke="#5a5a5a" stroke-width="1.0" opacity="0.73"/>
<path d="M1106.7 1139.4l1.4 2.5" stroke="#777" stroke-width="1.3" opacity="0.70"/>
<path d="M1078.4 1154.5l1.7 0.7" stroke="#4a4a4a" stroke-width="0.9" opacity="0.32"/>
<path d="M1114.8 1233.3l-1.3 0.7" stroke="#777" stroke-width="1.0" opacity="0.57"/>
<path d="M1002.2 1240.9l-1.3 0.2" stroke="#777" stroke-width="1.5" opacity="0.37"/>
<path d="M1180.2 1265.0l2.4 1.2" stroke="#5a5a5a" stroke-width="1.0" opacity="0.33"/>
<path d="M1166.6 1227.8l-1.4 1.8" stroke="#4a4a4a" stroke-width="0.8" opacity="0.76"/>
<path d="M1151.6 1218.8l0.7 2.7" stroke="#aaa" stroke-width="0.9" opacity="0.44"/>
<path d="M1196.3 1179.7l1.9 0.6" stroke="#4a4a4a" stroke-width="1.1" opacity="0.48"/>
<path d="M1087.4 1232.8l3.1 2.0" stroke="#4a4a4a" stroke-width="1.0" opacity="0.49"/>
<path d="M1068.1 1156.6l3.3 1.3" stroke="#777" stroke-width="0.7" opacity="0.54"/>
<path d="M979.3 1166.1l1.5 3.4" stroke="#aaa" stroke-width="1.2" opacity="0.73"/>
<path d="M1168.1 1174.6l0.9 1.9" stroke="#8d8d8d" stroke-width="1.3" opacity="0.83"/>
<path d="M950.4 1208.9l0.9 2.3" stroke="#4a4a4a" stroke-width="1.3" opacity="0.68"/>
<path d="M1003.8 1269.8l-0.2 1.6" stroke="#4a4a4a" stroke-width="1.0" opacity="0.40"/>
<path d="M1146.8 1230.3l2.6 1.2" stroke="#aaa" stroke-width="1.4" opacity="0.51"/>
<path d="M1041.3 1211.2l1.0 3.8" stroke="#5a5a5a" stroke-width="1.4" opacity="0.85"/>
<path d="M973.4 1267.7l0.8 1.8" stroke="#aaa" stroke-width="0.9" opacity="0.34"/>
<path d="M1013.6 1262.8l-0.8 1.2" stroke="#777" stroke-width="1.4" opacity="0.74"/>
<path d="M1064.1 1193.9l3.1 1.5" stroke="#5a5a5a" stroke-width="0.9" opacity="0.67"/>
<path d="M1178.1 1187.9l2.5 2.2" stroke="#aaa" stroke-width="1.0" opacity="0.57"/>
<path d="M1172.0 1237.5l-1.7 0.4" stroke="#777" stroke-width="1.0" opacity="0.37"/>
<path d="M1121.7 1232.2l-1.2 3.5" stroke="#8d8d8d" stroke-width="0.8" opacity="0.79"/>
<path d="M1005.3 1264.4l-2.7 0.1" stroke="#777" stroke-width="1.0" opacity="0.54"/>
<path d="M993.7 1188.2l1.0 1.8" stroke="#777" stroke-width="1.2" opacity="0.70"/>
<path d="M1160.4 1219.4l-2.8 2.6" stroke="#8d8d8d" stroke-width="1.4" opacity="0.82"/>
<path d="M1185.1 1258.6l2.0 3.2" stroke="#5a5a5a" stroke-width="1.2" opacity="0.40"/>
<path d="M1109.8 1216.4l0.2 2.8" stroke="#777" stroke-width="1.1" opacity="0.68"/>
<path d="M1204.7 1180.0l-1.8 0.3" stroke="#8d8d8d" stroke-width="0.9" opacity="0.41"/>
<path d="M1072.5 1204.1l0.1 3.2" stroke="#777" stroke-width="0.8" opacity="0.38"/>
<path d="M959.4 1258.2l0.7 2.1" stroke="#8d8d8d" stroke-width="1.3" opacity="0.53"/>
<path d="M1036.1 1210.1l-1.5 0.8" stroke="#777" stroke-width="1.1" opacity="0.82"/>
<path d="M1130.5 1264.4l0.7 2.4" stroke="#777" stroke-width="1.0" opacity="0.79"/>
<path d="M1079.3 1234.6l2.7 2.4" stroke="#5a5a5a" stroke-width="1.3" opacity="0.83"/>
<path d="M1083.2 1222.7l-0.2 2.5" stroke="#8d8d8d" stroke-width="1.3" opacity="0.66"/>
<path d="M1198.7 1252.6l-1.8 2.0" stroke="#aaa" stroke-width="1.1" opacity="0.75"/>
<path d="M1078.3 1271.3l3.5 0.8" stroke="#777" stroke-width="1.2" opacity="0.58"/>
<path d="M1165.5 1257.5l0.1 2.3" stroke="#5a5a5a" stroke-width="1.5" opacity="0.48"/>
<path d="M1096.4 1195.6l-1.3 2.4" stroke="#aaa" stroke-width="0.9" opacity="0.73"/>
<path d="M1202.3 1249.3l2.7 1.0" stroke="#777" stroke-width="1.3" opacity="0.48"/>
<path d="M958.7 1160.6l1.5 2.6" stroke="#4a4a4a" stroke-width="1.5" opacity="0.61"/>
<path d="M958.1 1229.5l1.3 2.6" stroke="#777" stroke-width="1.1" opacity="0.45"/>
<path d="M1056.7 1155.5l-1.6 0.3" stroke="#8d8d8d" stroke-width="1.2" opacity="0.72"/>
<path d="M1039.1 1175.5l-1.0 1.8" stroke="#4a4a4a" stroke-width="1.4" opacity="0.85"/>
<path d="M1084.8 1183.1l-2.5 1.6" stroke="#8d8d8d" stroke-width="1.4" opacity="0.77"/>
<path d="M961.6 1162.6l2.5 2.3" stroke="#777" stroke-width="0.8" opacity="0.73"/>
<path d="M1170.9 1249.9l1.6 3.1" stroke="#8d8d8d" stroke-width="1.4" opacity="0.57"/>
<path d="M1171.1 1199.5l-1.4 2.0" stroke="#aaa" stroke-width="1.0" opacity="0.43"/>
<path d="M1016.6 1202.2l2.1 2.8" stroke="#777" stroke-width="1.1" opacity="0.56"/>
<path d="M1098.2 1190.6l-1.8 0.4" stroke="#4a4a4a" stroke-width="1.4" opacity="0.37"/>
<path d="M1123.4 1221.6l2.0 2.2" stroke="#5a5a5a" stroke-width="1.4" opacity="0.31"/>
<path d="M1175.0 1249.9l-0.1 3.7" stroke="#4a4a4a" stroke-width="1.2" opacity="0.44"/>
<path d="M969.3 1154.8l3.0 0.9" stroke="#4a4a4a" stroke-width="1.0" opacity="0.50"/>
<path d="M1128.5 1149.2l0.8 2.8" stroke="#8d8d8d" stroke-width="1.0" opacity="0.74"/>
<path d="M1000.1 1212.7l-2.3 2.3" stroke="#777" stroke-width="0.8" opacity="0.80"/>
<path d="M960.3 1250.5l-0.6 2.9" stroke="#777" stroke-width="1.4" opacity="0.66"/>
<path d="M955.2 1273.4l0.8 3.1" stroke="#777" stroke-width="0.9" opacity="0.51"/>
<path d="M1001.1 1143.7l1.5 0.7" stroke="#aaa" stroke-width="1.0" opacity="0.75"/>
<path d="M998.5 1271.9l-3.5 1.3" stroke="#4a4a4a" stroke-width="1.2" opacity="0.50"/>
<path d="M1062.0 1249.1l-2.8 0.7" stroke="#5a5a5a" stroke-width="1.5" opacity="0.30"/>
<path d="M1113.3 1150.5l-0.0 2.6" stroke="#8d8d8d" stroke-width="1.3" opacity="0.57"/>
<path d="M975.0 1209.7l-3.1 1.0" stroke="#5a5a5a" stroke-width="0.7" opacity="0.76"/>
<path d="M1177.0 1227.3l-2.3 2.1" stroke="#aaa" stroke-width="0.7" opacity="0.54"/>
<path d="M950.6 1147.4l-1.8 2.8" stroke="#8d8d8d" stroke-width="0.7" opacity="0.74"/>
<path d="M1143.5 1244.7l1.2 3.0" stroke="#8d8d8d" stroke-width="0.7" opacity="0.43"/>
<path d="M1108.3 1199.9l2.2 0.6" stroke="#8d8d8d" stroke-width="1.4" opacity="0.33"/>
<path d="M1089.3 1195.9l-2.7 0.5" stroke="#777" stroke-width="1.1" opacity="0.36"/>
<path d="M1008.5 1264.8l3.3 2.0" stroke="#777" stroke-width="1.1" opacity="0.46"/>
<path d="M1194.3 1201.9l1.8 1.1" stroke="#8d8d8d" stroke-width="1.3" opacity="0.38"/>
<path d="M1083.8 1264.0l-0.5 3.8" stroke="#8d8d8d" stroke-width="1.2" opacity="0.66"/>
<path d="M947.0 1197.9l-2.5 1.3" stroke="#8d8d8d" stroke-width="1.5" opacity="0.41"/>
<path d="M1048.8 1159.1l-2.7 0.9" stroke="#777" stroke-width="1.2" opacity="0.49"/>
<path d="M1130.6 1175.8l-0.0 3.0" stroke="#4a4a4a" stroke-width="0.9" opacity="0.71"/>
<path d="M1087.2 1224.4l2.6 0.8" stroke="#5a5a5a" stroke-width="1.4" opacity="0.43"/>
<path d="M1144.2 1204.9l2.3 2.2" stroke="#777" stroke-width="1.5" opacity="0.76"/>
<path d="M1124.3 1186.5l3.0 0.5" stroke="#777" stroke-width="1.2" opacity="0.49"/>
<path d="M1006.6 1156.2l-1.7 1.1" stroke="#8d8d8d" stroke-width="0.8" opacity="0.40"/>
<path d="M1192.9 1150.4l-3.4 2.0" stroke="#777" stroke-width="0.8" opacity="0.49"/>
<path d="M1015.3 1214.1l3.8 1.0" stroke="#4a4a4a" stroke-width="1.4" opacity="0.74"/>
<path d="M987.7 1247.0l0.5 2.8" stroke="#4a4a4a" stroke-width="1.2" opacity="0.47"/>
<path d="M1010.0 1263.3l-1.1 2.3" stroke="#4a4a4a" stroke-width="1.0" opacity="0.54"/>
<path d="M972.1 1240.6l-1.2 0.5" stroke="#5a5a5a" stroke-width="1.0" opacity="0.36"/>
<path d="M1119.1 1184.3l0.9 1.5" stroke="#8d8d8d" stroke-width="1.3" opacity="0.53"/>
<path d="M1149.0 1190.7l0.8 3.4" stroke="#4a4a4a" stroke-width="1.2" opacity="0.39"/>
<path d="M1122.9 1139.1l-3.3 0.1" stroke="#777" stroke-width="1.4" opacity="0.47"/>
<path d="M992.1 1188.8l-0.2 1.7" stroke="#777" stroke-width="1.2" opacity="0.38"/>
<path d="M960.8 1210.5l-2.0 0.5" stroke="#5a5a5a" stroke-width="1.2" opacity="0.38"/>
<path d="M1070.6 1216.5l-0.0 1.9" stroke="#777" stroke-width="1.4" opacity="0.33"/>
<path d="M1020.9 1154.9l-2.8 1.7" stroke="#777" stroke-width="1.4" opacity="0.49"/>
<path d="M1078.2 1168.9l-0.4 2.7" stroke="#8d8d8d" stroke-width="1.0" opacity="0.52"/>
<path d="M1172.4 1236.2l-0.3 2.9" stroke="#4a4a4a" stroke-width="1.0" opacity="0.40"/>
<path d="M962.3 1144.0l-1.1 1.1" stroke="#8d8d8d" stroke-width="0.7" opacity="0.37"/>
<path d="M1046.1 1154.2l-3.0 2.3" stroke="#aaa" stroke-width="1.2" opacity="0.82"/>
<path d="M1033.3 1244.6l-1.1 2.6" stroke="#5a5a5a" stroke-width="0.8" opacity="0.55"/>
<path d="M1184.7 1188.8l-1.2 2.1" stroke="#aaa" stroke-width="1.2" opacity="0.76"/>
<path d="M1025.3 1206.2l-1.3 1.8" stroke="#4a4a4a" stroke-width="1.1" opacity="0.37"/>
<path d="M1138.9 1161.3l-2.3 2.4" stroke="#aaa" stroke-width="1.0" opacity="0.69"/>
<path d="M1046.6 1208.9l-1.4 2.9" stroke="#4a4a4a" stroke-width="1.1" opacity="0.47"/>
<path d="M949.2 1160.8l-1.3 0.4" stroke="#5a5a5a" stroke-width="1.3" opacity="0.49"/>
<path d="M1017.6 1178.4l-1.4 2.1" stroke="#777" stroke-width="1.0" opacity="0.71"/>
<path d="M1075.1 1148.9l-2.1 2.6" stroke="#5a5a5a" stroke-width="1.0" opacity="0.41"/>
<path d="M1169.3 1214.4l0.0 2.5" stroke="#5a5a5a" stroke-width="0.7" opacity="0.36"/>
<path d="M993.6 1224.4l1.2 3.3" stroke="#aaa" stroke-width="1.5" opacity="0.80"/>
<path d="M1176.2 1159.0l-4.0 0.1" stroke="#aaa" stroke-width="1.4" opacity="0.44"/>
<path d="M1058.3 1153.8l0.4 4.0" stroke="#4a4a4a" stroke-width="1.1" opacity="0.47"/>
<path d="M1001.1 1197.5l1.6 2.0" stroke="#aaa" stroke-width="1.1" opacity="0.45"/>
<path d="M1090.9 1194.5l3.0 0.1" stroke="#777" stroke-width="1.4" opacity="0.62"/>
<path d="M1143.2 1180.1l1.8 1.0" stroke="#777" stroke-width="1.1" opacity="0.80"/>
<path d="M1102.9 1200.4l-2.2 2.3" stroke="#5a5a5a" stroke-width="1.2" opacity="0.38"/>
<path d="M1204.3 1241.4l-3.9 0.5" stroke="#777" stroke-width="1.4" opacity="0.82"/>
<path d="M987.5 1186.2l-0.3 3.0" stroke="#777" stroke-width="1.0" opacity="0.40"/>
<path d="M1117.8 1242.6l3.1 0.2" stroke="#4a4a4a" stroke-width="1.4" opacity="0.40"/>
<path d="M1045.9 1229.3l-2.9 2.0" stroke="#5a5a5a" stroke-width="1.3" opacity="0.43"/>
<path d="M1026.2 1173.2l-2.2 0.5" stroke="#5a5a5a" stroke-width="1.2" opacity="0.52"/>
<path d="M1156.6 1183.0l-1.5 0.0" stroke="#5a5a5a" stroke-width="0.8" opacity="0.70"/>
<path d="M1196.8 1199.0l-3.4 1.9" stroke="#777" stroke-width="1.0" opacity="0.75"/>
<path d="M1118.5 1171.2l1.2 3.1" stroke="#aaa" stroke-width="1.1" opacity="0.60"/>
<path d="M1045.6 1238.4l-0.9 1.0" stroke="#4a4a4a" stroke-width="1.0" opacity="0.78"/>
<path d="M967.6 1151.2l2.2 1.0" stroke="#4a4a4a" stroke-width="1.3" opacity="0.76"/>
<path d="M1111.3 1252.1l1.7 0.1" stroke="#777" stroke-width="0.9" opacity="0.72"/>
<path d="M1040.7 1269.2l-1.7 0.2" stroke="#8d8d8d" stroke-width="1.2" opacity="0.51"/>
<path d="M1080.7 1262.1l0.2 2.8" stroke="#4a4a4a" stroke-width="1.1" opacity="0.81"/>
<path d="M1019.3 1247.8l-3.8 0.5" stroke="#4a4a4a" stroke-width="0.9" opacity="0.68"/>
<path d="M1108.6 1240.6l-3.3 2.1" stroke="#5a5a5a" stroke-width="0.8" opacity="0.79"/>
<path d="M1087.2 1265.4l-0.1 2.2" stroke="#4a4a4a" stroke-width="1.0" opacity="0.34"/>
<path d="M1155.9 1200.9l-1.3 0.7" stroke="#8d8d8d" stroke-width="1.2" opacity="0.54"/>
<path d="M1088.2 1247.7l2.3 1.3" stroke="#8d8d8d" stroke-width="1.0" opacity="0.69"/>
<path d="M1007.4 1272.9l1.3 2.3" stroke="#4a4a4a" stroke-width="0.9" opacity="0.41"/>
<path d="M963.8 1212.7l0.3 3.0" stroke="#777" stroke-width="0.8" opacity="0.41"/>
<path d="M1029.1 1143.6l0.9 1.7" stroke="#8d8d8d" stroke-width="1.5" opacity="0.68"/>
<path d="M1110.9 1149.3l-0.2 3.1" stroke="#8d8d8d" stroke-width="1.5" opacity="0.51"/>
<path d="M1147.6 1220.4l1.3 3.3" stroke="#4a4a4a" stroke-width="1.4" opacity="0.73"/>
<path d="M1053.0 1221.9l1.2 2.8" stroke="#5a5a5a" stroke-width="1.0" opacity="0.39"/>
<path d="M1129.2 1139.9l-1.2 0.5" stroke="#777" stroke-width="1.2" opacity="0.68"/>
<path d="M1122.6 1223.4l-1.9 0.9" stroke="#aaa" stroke-width="1.0" opacity="0.82"/>
<path d="M1009.5 1151.9l-2.3 2.6" stroke="#4a4a4a" stroke-width="1.3" opacity="0.31"/>
<path d="M1084.1 1224.3l1.7 0.2" stroke="#aaa" stroke-width="1.1" opacity="0.69"/>
<path d="M1040.2 1193.0l-3.2 0.7" stroke="#aaa" stroke-width="0.8" opacity="0.53"/>
<path d="M1184.6 1265.1l-3.1 2.0" stroke="#8d8d8d" stroke-width="1.3" opacity="0.68"/>
<path d="M1011.3 1250.6l-0.2 2.3" stroke="#4a4a4a" stroke-width="0.9" opacity="0.63"/>
<path d="M1108.9 1243.6l-1.3 2.4" stroke="#aaa" stroke-width="1.0" opacity="0.44"/>
<path d="M1165.3 1246.9l-1.5 2.6" stroke="#8d8d8d" stroke-width="1.1" opacity="0.57"/>
<path d="M1085.8 1139.7l-0.8 2.7" stroke="#8d8d8d" stroke-width="1.4" opacity="0.39"/>
<path d="M1190.2 1208.4l2.5 1.0" stroke="#777" stroke-width="0.9" opacity="0.81"/>
<path d="M1134.4 1265.0l-0.6 1.1" stroke="#777" stroke-width="1.3" opacity="0.78"/>
<path d="M1163.7 1206.4l-3.8 0.7" stroke="#777" stroke-width="1.3" opacity="0.37"/>
<path d="M1156.4 1202.2l-3.0 0.9" stroke="#777" stroke-width="1.0" opacity="0.63"/>
<path d="M1141.7 1235.0l1.7 0.6" stroke="#4a4a4a" stroke-width="1.1" opacity="0.79"/>
<path d="M950.5 1234.7l-1.4 0.9" stroke="#777" stroke-width="0.9" opacity="0.76"/>
<path d="M1089.2 1142.5l0.3 2.7" stroke="#5a5a5a" stroke-width="1.2" opacity="0.49"/>
<path d="M1103.3 1171.2l0.6 2.1" stroke="#8d8d8d" stroke-width="1.1" opacity="0.64"/>
<path d="M1205.7 1229.5l-0.3 2.4" stroke="#8d8d8d" stroke-width="1.3" opacity="0.38"/>
<path d="M1197.2 1180.4l-1.5 0.7" stroke="#aaa" stroke-width="0.8" opacity="0.46"/>
<path d="M994.9 1163.9l-2.5 0.3" stroke="#4a4a4a" stroke-width="1.2" opacity="0.77"/>
<path d="M1137.7 1235.7l2.4 0.5" stroke="#8d8d8d" stroke-width="0.7" opacity="0.31"/>
<path d="M1147.4 1261.3l0.9 2.7" stroke="#5a5a5a" stroke-width="1.0" opacity="0.46"/>
<path d="M996.0 1169.3l0.1 3.7" stroke="#777" stroke-width="0.7" opacity="0.72"/>
<path d="M1159.9 1143.7l-3.4 0.5" stroke="#5a5a5a" stroke-width="0.9" opacity="0.65"/>
<path d="M1039.8 1161.8l2.0 2.3" stroke="#777" stroke-width="0.9" opacity="0.65"/>
<path d="M1202.8 1243.5l-3.0 1.6" stroke="#aaa" stroke-width="1.1" opacity="0.84"/>
<path d="M985.6 1217.5l0.6 3.2" stroke="#aaa" stroke-width="0.9" opacity="0.69"/>
<path d="M1066.5 1242.0l-0.5 2.3" stroke="#4a4a4a" stroke-width="1.3" opacity="0.73"/>
<path d="M1044.9 1265.3l-1.1 2.4" stroke="#5a5a5a" stroke-width="1.0" opacity="0.47"/>
<path d="M1159.7 1181.4l-3.1 1.5" stroke="#5a5a5a" stroke-width="0.8" opacity="0.31"/>
<path d="M1188.1 1231.2l-1.0 0.7" stroke="#777" stroke-width="1.0" opacity="0.38"/>
<path d="M1029.6 1154.2l-2.9 1.2" stroke="#8d8d8d" stroke-width="1.5" opacity="0.65"/>
<path d="M985.3 1144.7l3.0 0.2" stroke="#8d8d8d" stroke-width="1.1" opacity="0.59"/>
<path d="M1064.8 1194.7l-0.5 2.2" stroke="#8d8d8d" stroke-width="1.1" opacity="0.59"/>
<path d="M1194.4 1263.0l1.2 3.5" stroke="#8d8d8d" stroke-width="0.7" opacity="0.49"/>
<path d="M1196.6 1235.7l2.4 2.2" stroke="#aaa" stroke-width="1.1" opacity="0.72"/>
<path d="M1080.1 1173.2l2.2 2.1" stroke="#5a5a5a" stroke-width="1.1" opacity="0.67"/>
<path d="M1107.4 1249.5l1.2 2.8" stroke="#777" stroke-width="0.8" opacity="0.62"/>
<path d="M1180.6 1271.8l-3.4 2.0" stroke="#8d8d8d" stroke-width="1.2" opacity="0.63"/>
<path d="M1093.5 1221.4l-2.4 1.4" stroke="#5a5a5a" stroke-width="1.4" opacity="0.67"/>
<path d="M1152.1 1153.5l0.5 2.0" stroke="#8d8d8d" stroke-width="0.8" opacity="0.83"/>
<path d="M999.4 1157.2l-0.5 2.4" stroke="#aaa" stroke-width="0.7" opacity="0.80"/>
<path d="M1131.5 1182.2l2.8 1.5" stroke="#5a5a5a" stroke-width="0.9" opacity="0.50"/>
<path d="M1132.7 1167.3l-2.3 2.4" stroke="#4a4a4a" stroke-width="1.2" opacity="0.65"/>
<path d="M1150.2 1252.0l-3.8 0.4" stroke="#8d8d8d" stroke-width="1.2" opacity="0.66"/>
<path d="M1146.5 1231.1l-3.9 1.1" stroke="#5a5a5a" stroke-width="0.9" opacity="0.59"/>
<path d="M960.0 1199.7l-1.5 0.9" stroke="#777" stroke-width="1.3" opacity="0.37"/>
<path d="M973.3 1198.6l1.7 0.2" stroke="#777" stroke-width="1.1" opacity="0.64"/>
<path d="M1030.6 1261.9l-2.1 1.8" stroke="#4a4a4a" stroke-width="0.7" opacity="0.44"/>
<path d="M1154.5 1177.2l-2.1 2.3" stroke="#5a5a5a" stroke-width="1.2" opacity="0.58"/>
<path d="M1091.3 1140.7l-1.2 1.1" stroke="#777" stroke-width="1.0" opacity="0.52"/>
<path d="M1004.6 1194.7l1.4 0.2" stroke="#777" stroke-width="1.3" opacity="0.69"/>
<path d="M1140.7 1201.9l-1.8 0.1" stroke="#4a4a4a" stroke-width="1.3" opacity="0.75"/>
<path d="M1091.4 1242.6l-0.5 1.1" stroke="#8d8d8d" stroke-width="0.8" opacity="0.39"/>
<path d="M1004.2 1185.4l-1.7 3.6" stroke="#777" stroke-width="0.9" opacity="0.38"/>
<path d="M1042.6 1182.2l2.6 1.8" stroke="#4a4a4a" stroke-width="1.0" opacity="0.78"/>
<path d="M1104.1 1188.1l-0.3 2.2" stroke="#8d8d8d" stroke-width="1.3" opacity="0.30"/>
<path d="M998.3 1246.8l-0.9 1.3" stroke="#8d8d8d" stroke-width="0.9" opacity="0.75"/>
<path d="M1120.2 1215.1l-2.4 0.9" stroke="#aaa" stroke-width="0.9" opacity="0.59"/>
<path d="M948.0 1236.7l-1.6 0.2" stroke="#4a4a4a" stroke-width="1.2" opacity="0.80"/>
<path d="M1023.6 1241.6l-2.9 0.5" stroke="#5a5a5a" stroke-width="1.1" opacity="0.62"/>
<path d="M1178.4 1163.1l0.0 2.2" stroke="#5a5a5a" stroke-width="1.1" opacity="0.82"/>
<path d="M989.0 1162.6l-2.3 0.1" stroke="#8d8d8d" stroke-width="1.0" opacity="0.57"/>
<path d="M1038.7 1206.1l2.0 0.2" stroke="#8d8d8d" stroke-width="1.2" opacity="0.66"/>
<path d="M1141.9 1143.6l1.9 1.1" stroke="#8d8d8d" stroke-width="1.3" opacity="0.47"/>
<path d="M1005.7 1201.6l-2.0 1.6" stroke="#5a5a5a" stroke-width="1.1" opacity="0.56"/>
<path d="M1195.1 1177.5l1.9 2.0" stroke="#8d8d8d" stroke-width="1.0" opacity="0.41"/>
<path d="M1140.5 1147.8l1.5 2.0" stroke="#8d8d8d" stroke-width="1.1" opacity="0.73"/>
<path d="M1092.0 1218.9l2.1 1.7" stroke="#8d8d8d" stroke-width="1.0" opacity="0.31"/>
<path d="M1198.1 1207.7l-2.9 0.3" stroke="#8d8d8d" stroke-width="1.5" opacity="0.72"/>
<path d="M1085.3 1255.4l-2.4 1.5" stroke="#777" stroke-width="1.0" opacity="0.35"/>
<path d="M1068.8 1202.9l2.1 1.6" stroke="#4a4a4a" stroke-width="1.4" opacity="0.47"/>
<path d="M1006.5 1204.0l-1.8 0.4" stroke="#5a5a5a" stroke-width="1.2" opacity="0.30"/>
<path d="M963.2 1174.3l0.7 3.6" stroke="#aaa" stroke-width="0.9" opacity="0.71"/>
<path d="M1122.5 1150.7l0.3 2.5" stroke="#777" stroke-width="1.3" opacity="0.77"/>
<path d="M1031.0 1169.9l1.9 1.0" stroke="#5a5a5a" stroke-width="0.7" opacity="0.56"/>
<path d="M953.1 1253.2l-1.8 0.6" stroke="#4a4a4a" stroke-width="0.9" opacity="0.70"/>
<path d="M1129.1 1256.6l-0.8 1.2" stroke="#5a5a5a" stroke-width="1.4" opacity="0.66"/>
<path d="M978.7 1256.8l0.1 3.2" stroke="#777" stroke-width="0.8" opacity="0.82"/>
<path d="M1168.1 1162.6l-1.9 2.8" stroke="#aaa" stroke-width="1.2" opacity="0.59"/>
<path d="M1205.2 1143.0l0.6 1.5" stroke="#4a4a4a" stroke-width="1.2" opacity="0.44"/>
<path d="M1171.8 1263.3l0.2 3.9" stroke="#777" stroke-width="1.5" opacity="0.62"/>
<path d="M1017.6 1195.8l-3.0 0.8" stroke="#8d8d8d" stroke-width="0.8" opacity="0.71"/>
<path d="M1023.9 1157.4l-1.9 1.9" stroke="#8d8d8d" stroke-width="1.1" opacity="0.81"/>
<path d="M1201.7 1269.9l-0.8 2.2" stroke="#5a5a5a" stroke-width="1.3" opacity="0.74"/>
<path d="M1151.3 1175.4l-3.0 1.4" stroke="#aaa" stroke-width="0.9" opacity="0.51"/>
<path d="M1167.9 1157.9l1.4 0.1" stroke="#aaa" stroke-width="1.0" opacity="0.48"/>
<path d="M993.3 1248.2l-0.3 2.7" stroke="#777" stroke-width="1.4" opacity="0.74"/>
<path d="M1158.6 1258.8l2.2 0.2" stroke="#4a4a4a" stroke-width="0.8" opacity="0.47"/>
<path d="M1196.5 1266.5l-3.7 1.0" stroke="#4a4a4a" stroke-width="1.1" opacity="0.48"/>
<path d="M1205.5 1245.4l0.7 2.2" stroke="#8d8d8d" stroke-width="1.2" opacity="0.85"/>
<path d="M1133.8 1255.3l-2.5 1.1" stroke="#777" stroke-width="1.0" opacity="0.75"/>
<path d="M1058.9 1168.3l-2.9 1.8" stroke="#4a4a4a" stroke-width="1.3" opacity="0.35"/>
<path d="M995.3 1223.3l-3.5 0.4" stroke="#8d8d8d" stroke-width="1.3" opacity="0.77"/>
<path d="M982.2 1145.4l-1.8 0.8" stroke="#aaa" stroke-width="1.4" opacity="0.47"/>
<path d="M1046.4 1170.0l3.2 0.9" stroke="#aaa" stroke-width="1.0" opacity="0.74"/>
<path d="M985.2 1248.8l-2.7 1.8" stroke="#5a5a5a" stroke-width="0.9" opacity="0.47"/>
<path d="M1056.0 1158.4l-1.5 3.3" stroke="#8d8d8d" stroke-width="1.2" opacity="0.46"/>
<path d="M998.3 1257.4l-0.4 2.1" stroke="#8d8d8d" stroke-width="1.5" opacity="0.80"/>
<path d="M1079.4 1172.5l-1.1 2.4" stroke="#777" stroke-width="1.0" opacity="0.32"/>
<path d="M1176.0 1180.2l-2.7 2.7" stroke="#4a4a4a" stroke-width="0.8" opacity="0.73"/>
<path d="M1093.9 1231.7l-1.8 0.5" stroke="#8d8d8d" stroke-width="0.9" opacity="0.46"/>
<path d="M1025.9 1258.0l-0.3 2.7" stroke="#aaa" stroke-width="1.0" opacity="0.62"/>
<path d="M1040.0 1160.4l-3.9 0.8" stroke="#5a5a5a" stroke-width="1.4" opacity="0.56"/>
<path d="M1084.0 1180.2l-1.8 0.9" stroke="#777" stroke-width="1.4" opacity="0.51"/>
<path d="M1002.3 1244.3l1.8 3.2" stroke="#8d8d8d" stroke-width="1.4" opacity="0.81"/>
<path d="M1023.5 1182.5l-1.6 0.6" stroke="#8d8d8d" stroke-width="1.3" opacity="0.52"/>
<path d="M1058.3 1239.7l-1.1 1.5" stroke="#4a4a4a" stroke-width="1.3" opacity="0.52"/>
<path d="M1001.2 1184.5l1.0 2.4" stroke="#4a4a4a" stroke-width="1.4" opacity="0.60"/>
<path d="M983.6 1168.3l1.4 0.2" stroke="#8d8d8d" stroke-width="1.1" opacity="0.80"/>
<path d="M1200.8 1218.1l2.6 0.5" stroke="#777" stroke-width="1.4" opacity="0.79"/>
<path d="M1137.6 1154.9l2.0 2.7" stroke="#5a5a5a" stroke-width="1.1" opacity="0.75"/>
<path d="M1205.6 1271.3l1.2 2.1" stroke="#aaa" stroke-width="1.0" opacity="0.43"/>
<path d="M1169.3 1175.3l-0.9 3.1" stroke="#aaa" stroke-width="1.2" opacity="0.76"/>
<path d="M987.2 1176.3l-2.8 0.4" stroke="#aaa" stroke-width="1.1" opacity="0.70"/>
<path d="M1098.3 1195.3l-2.4 0.2" stroke="#777" stroke-width="0.8" opacity="0.78"/>
<path d="M1113.8 1206.5l1.6 2.6" stroke="#8d8d8d" stroke-width="0.8" opacity="0.67"/>
<path d="M980.0 1183.1l-1.7 2.5" stroke="#8d8d8d" stroke-width="0.9" opacity="0.32"/>
<path d="M1004.1 1267.1l-1.2 3.0" stroke="#4a4a4a" stroke-width="0.7" opacity="0.78"/>
<path d="M1099.3 1212.8l-3.9 0.5" stroke="#777" stroke-width="1.2" opacity="0.75"/>
<path d="M988.0 1166.7l-1.3 0.4" stroke="#4a4a4a" stroke-width="1.2" opacity="0.37"/>
<path d="M978.3 1224.7l-2.5 1.7" stroke="#8d8d8d" stroke-width="1.5" opacity="0.52"/>
<path d="M1155.5 1222.9l2.0 1.7" stroke="#777" stroke-width="1.5" opacity="0.75"/>
<path d="M1103.4 1249.2l2.2 0.1" stroke="#4a4a4a" stroke-width="1.1" opacity="0.32"/>
<path d="M1089.2 1189.1l3.5 1.9" stroke="#aaa" stroke-width="0.9" opacity="0.58"/>
<path d="M1047.0 1155.5l-1.2 3.5" stroke="#aaa" stroke-width="1.4" opacity="0.54"/>
<path d="M1050.4 1196.6l-0.7 3.9" stroke="#777" stroke-width="1.3" opacity="0.53"/>
<path d="M1173.2 1155.1l0.9 1.4" stroke="#777" stroke-width="0.8" opacity="0.61"/>
<path d="M1077.3 1238.8l-0.2 2.0" stroke="#777" stroke-width="1.1" opacity="0.39"/>
<path d="M1087.6 1208.9l1.3 0.4" stroke="#4a4a4a" stroke-width="1.1" opacity="0.50"/>
<path d="M1027.1 1178.4l-3.5 0.0" stroke="#777" stroke-width="1.1" opacity="0.81"/>
<path d="M1052.2 1190.4l2.3 0.1" stroke="#8d8d8d" stroke-width="1.0" opacity="0.54"/>
<path d="M1103.8 1146.4l-0.2 3.6" stroke="#777" stroke-width="1.1" opacity="0.60"/>
<path d="M1089.3 1268.7l-2.2 2.7" stroke="#5a5a5a" stroke-width="1.5" opacity="0.39"/>
<path d="M1029.2 1175.0l-2.8 0.8" stroke="#aaa" stroke-width="1.2" opacity="0.68"/>
<path d="M1154.1 1190.2l2.0 1.7" stroke="#777" stroke-width="1.4" opacity="0.43"/>
<path d="M990.1 1257.4l-1.3 2.1" stroke="#777" stroke-width="1.4" opacity="0.30"/>
<path d="M1187.9 1164.8l1.7 3.3" stroke="#4a4a4a" stroke-width="0.8" opacity="0.55"/>
<path d="M991.2 1196.2l0.1 1.4" stroke="#5a5a5a" stroke-width="1.0" opacity="0.47"/>
<path d="M1155.0 1250.8l1.1 1.6" stroke="#8d8d8d" stroke-width="0.9" opacity="0.54"/>
<path d="M963.7 1199.4l-1.8 3.3" stroke="#8d8d8d" stroke-width="0.7" opacity="0.66"/>
<path d="M1008.8 1255.2l-0.8 3.0" stroke="#5a5a5a" stroke-width="1.4" opacity="0.75"/>
<path d="M1184.6 1251.2l2.3 2.4" stroke="#8d8d8d" stroke-width="0.7" opacity="0.43"/>
<path d="M1014.5 1255.9l3.6 0.5" stroke="#8d8d8d" stroke-width="0.8" opacity="0.78"/>
<path d="M1182.6 1186.6l0.4 2.8" stroke="#4a4a4a" stroke-width="0.8" opacity="0.83"/>
<path d="M953.9 1154.5l-1.4 1.6" stroke="#aaa" stroke-width="1.2" opacity="0.79"/>
<path d="M1120.4 1204.1l-2.2 0.7" stroke="#5a5a5a" stroke-width="1.4" opacity="0.36"/>
<path d="M1023.0 1142.2l2.7 0.2" stroke="#4a4a4a" stroke-width="1.0" opacity="0.35"/>
<path d="M1163.3 1258.8l-0.2 1.6" stroke="#777" stroke-width="1.2" opacity="0.54"/>
<path d="M1073.9 1149.0l-2.8 0.1" stroke="#5a5a5a" stroke-width="1.4" opacity="0.36"/>
<path d="M961.6 1169.4l1.5 0.9" stroke="#4a4a4a" stroke-width="0.9" opacity="0.71"/>
<path d="M1028.3 1171.2l1.2 3.1" stroke="#777" stroke-width="0.9" opacity="0.43"/>
<path d="M1140.1 1163.8l-1.7 0.0" stroke="#777" stroke-width="0.9" opacity="0.35"/>
<path d="M964.2 1244.8l-0.0 2.2" stroke="#777" stroke-width="1.0" opacity="0.80"/>
<path d="M1006.1 1166.0l3.0 2.5" stroke="#8d8d8d" stroke-width="0.9" opacity="0.81"/>
<path d="M954.8 1233.9l0.2 1.8" stroke="#aaa" stroke-width="1.3" opacity="0.43"/>
<path d="M1079.0 1201.5l1.0 3.6" stroke="#aaa" stroke-width="0.8" opacity="0.42"/>
<path d="M948.8 1186.9l2.0 0.5" stroke="#5a5a5a" stroke-width="1.2" opacity="0.78"/>
<path d="M1049.3 1259.2l-2.2 0.0" stroke="#8d8d8d" stroke-width="0.8" opacity="0.33"/>
<path d="M1159.0 1150.9l0.8 1.7" stroke="#777" stroke-width="0.9" opacity="0.47"/>
<path d="M1091.1 1158.1l-2.1 0.1" stroke="#4a4a4a" stroke-width="1.4" opacity="0.79"/>
<path d="M1078.6 1267.5l-2.4 2.8" stroke="#aaa" stroke-width="1.1" opacity="0.34"/>
<path d="M1200.0 1162.0l-2.4 1.6" stroke="#aaa" stroke-width="1.4" opacity="0.47"/>
<path d="M1143.4 1244.9l-0.9 1.6" stroke="#5a5a5a" stroke-width="1.1" opacity="0.59"/>
<path d="M1197.8 1233.1l2.1 1.3" stroke="#777" stroke-width="1.4" opacity="0.64"/>
<path d="M1023.2 1241.3l-3.4 0.0" stroke="#8d8d8d" stroke-width="1.5" opacity="0.47"/>
<path d="M1161.6 1274.8l-2.5 2.2" stroke="#777" stroke-width="1.5" opacity="0.45"/>
<path d="M1048.1 1243.2l2.0 2.6" stroke="#5a5a5a" stroke-width="1.4" opacity="0.53"/>
<path d="M1038.9 1241.7l2.5 2.3" stroke="#5a5a5a" stroke-width="1.2" opacity="0.71"/>
<path d="M1102.6 1169.7l-1.4 1.2" stroke="#8d8d8d" stroke-width="0.8" opacity="0.40"/>
<path d="M1175.7 1265.1l3.9 0.2" stroke="#aaa" stroke-width="1.0" opacity="0.42"/>
<path d="M1051.4 1191.3l-0.2 2.1" stroke="#8d8d8d" stroke-width="1.5" opacity="0.37"/>
<path d="M1079.1 1141.7l-3.2 0.0" stroke="#aaa" stroke-width="1.3" opacity="0.72"/>
<path d="M988.8 1237.0l0.6 3.6" stroke="#777" stroke-width="0.8" opacity="0.53"/>
<path d="M1200.5 1197.3l-0.4 2.7" stroke="#777" stroke-width="0.8" opacity="0.74"/>
<path d="M1173.4 1209.4l-0.1 1.3" stroke="#4a4a4a" stroke-width="0.8" opacity="0.57"/>
<path d="M1114.3 1245.9l-1.1 1.3" stroke="#777" stroke-width="0.7" opacity="0.41"/>
<path d="M1109.9 1226.8l1.0 2.9" stroke="#4a4a4a" stroke-width="1.4" opacity="0.55"/>
<path d="M996.0 1221.5l2.4 2.7" stroke="#777" stroke-width="1.2" opacity="0.81"/>
<path d="M1157.4 1250.2l2.9 1.9" stroke="#5a5a5a" stroke-width="1.3" opacity="0.76"/>
<path d="M976.7 1166.2l-2.6 0.3" stroke="#aaa" stroke-width="0.9" opacity="0.70"/>
<path d="M948.7 1262.3l1.0 1.4" stroke="#5a5a5a" stroke-width="1.3" opacity="0.73"/>
<path d="M1174.5 1200.7l0.7 3.3" stroke="#4a4a4a" stroke-width="1.5" opacity="0.66"/>
<path d="M1067.1 1152.1l0.6 1.1" stroke="#5a5a5a" stroke-width="1.2" opacity="0.51"/>
<path d="M1055.3 1205.6l-0.1 3.1" stroke="#777" stroke-width="1.0" opacity="0.60"/>
<path d="M962.4 1145.6l-1.9 3.3" stroke="#5a5a5a" stroke-width="1.2" opacity="0.84"/>
<path d="M1103.2 1230.4l1.6 0.0" stroke="#aaa" stroke-width="1.3" opacity="0.83"/>
<path d="M1028.1 1232.9l-3.5 0.7" stroke="#4a4a4a" stroke-width="1.5" opacity="0.45"/>
<path d="M1154.8 1172.7l-1.1 0.6" stroke="#aaa" stroke-width="1.2" opacity="0.55"/>
<path d="M1035.0 1263.4l1.0 3.0" stroke="#8d8d8d" stroke-width="1.0" opacity="0.71"/>
<path d="M981.2 1251.5l-2.2 0.8" stroke="#5a5a5a" stroke-width="0.9" opacity="0.53"/>
<path d="M1127.1 1262.3l2.1 1.2" stroke="#8d8d8d" stroke-width="1.2" opacity="0.76"/>
<path d="M1007.9 1213.9l-1.3 2.4" stroke="#8d8d8d" stroke-width="0.7" opacity="0.50"/>
<path d="M1073.5 1263.4l2.3 0.7" stroke="#8d8d8d" stroke-width="0.9" opacity="0.55"/>
<path d="M1091.8 1161.6l-1.5 0.5" stroke="#8d8d8d" stroke-width="1.4" opacity="0.47"/>
<path d="M1205.8 1168.3l1.6 1.1" stroke="#5a5a5a" stroke-width="0.9" opacity="0.82"/>
<path d="M966.3 1179.1l-2.0 2.3" stroke="#8d8d8d" stroke-width="1.1" opacity="0.79"/>
<path d="M972.5 1243.1l-1.8 0.3" stroke="#777" stroke-width="0.9" opacity="0.61"/>
<path d="M1178.8 1225.4l-2.0 0.8" stroke="#8d8d8d" stroke-width="0.7" opacity="0.54"/>
<path d="M1177.4 1145.0l0.2 3.3" stroke="#5a5a5a" stroke-width="1.1" opacity="0.35"/>
<path d="M1118.4 1214.6l0.7 1.2" stroke="#777" stroke-width="1.1" opacity="0.56"/>
<path d="M1031.3 1209.3l-1.7 1.4" stroke="#777" stroke-width="1.2" opacity="0.42"/>
<path d="M1151.0 1182.7l-1.9 2.8" stroke="#777" stroke-width="1.0" opacity="0.46"/>
<path d="M1132.5 1182.6l1.9 1.6" stroke="#4a4a4a" stroke-width="1.2" opacity="0.79"/>
<path d="M1091.9 1199.1l2.0 0.3" stroke="#777" stroke-width="1.0" opacity="0.51"/>
<path d="M958.5 1221.2l0.8 1.4" stroke="#aaa" stroke-width="1.3" opacity="0.33"/>
<path d="M997.3 1166.4l-3.0 1.3" stroke="#5a5a5a" stroke-width="1.5" opacity="0.37"/>
<path d="M1164.4 1162.2l-2.0 2.8" stroke="#8d8d8d" stroke-width="0.9" opacity="0.45"/>
<path d="M1076.4 1194.2l-1.4 1.0" stroke="#4a4a4a" stroke-width="1.2" opacity="0.52"/>
<path d="M1197.5 1186.4l-2.9 2.6" stroke="#4a4a4a" stroke-width="0.8" opacity="0.45"/>
<path d="M1188.8 1242.6l0.6 2.1" stroke="#5a5a5a" stroke-width="0.9" opacity="0.73"/>
<path d="M976.2 1192.5l-0.5 2.0" stroke="#5a5a5a" stroke-width="0.8" opacity="0.48"/>
<path d="M1047.2 1240.0l-1.3 0.9" stroke="#aaa" stroke-width="0.9" opacity="0.56"/>
<path d="M1007.6 1258.7l2.4 1.4" stroke="#5a5a5a" stroke-width="1.1" opacity="0.53"/>
<path d="M996.9 1262.6l-3.8 0.8" stroke="#8d8d8d" stroke-width="1.2" opacity="0.55"/>
<path d="M1134.5 1245.4l0.8 1.1" stroke="#aaa" stroke-width="0.7" opacity="0.46"/>
<path d="M1151.0 1221.9l-1.1 0.7" stroke="#4a4a4a" stroke-width="0.7" opacity="0.56"/>
<path d="M1181.1 1205.2l-1.5 2.2" stroke="#5a5a5a" stroke-width="0.9" opacity="0.40"/>
<path d="M967.4 1231.3l-3.6 1.4" stroke="#777" stroke-width="0.8" opacity="0.69"/>
<path d="M1026.9 1224.8l1.6 1.6" stroke="#8d8d8d" stroke-width="1.0" opacity="0.55"/>
<path d="M954.6 1144.3l-2.0 0.2" stroke="#8d8d8d" stroke-width="1.1" opacity="0.73"/>
<path d="M1013.0 1188.2l-2.3 0.3" stroke="#8d8d8d" stroke-width="0.9" opacity="0.37"/>
<path d="M1002.9 1243.3l-0.4 3.0" stroke="#4a4a4a" stroke-width="1.2" opacity="0.67"/>
<path d="M996.3 1164.0l0.7 3.5" stroke="#777" stroke-width="1.3" opacity="0.65"/>
<path d="M1153.8 1224.6l-1.5 0.5" stroke="#777" stroke-width="1.2" opacity="0.73"/>
<path d="M957.4 1174.8l2.7 0.3" stroke="#5a5a5a" stroke-width="1.0" opacity="0.81"/>
<path d="M1015.6 1200.6l2.6 1.0" stroke="#aaa" stroke-width="1.2" opacity="0.74"/>
<path d="M1009.5 1204.6l1.4 2.5" stroke="#5a5a5a" stroke-width="1.4" opacity="0.66"/>
<path d="M1143.9 1177.3l-2.8 0.5" stroke="#aaa" stroke-width="0.8" opacity="0.44"/>
<path d="M1065.1 1148.8l-1.4 2.3" stroke="#5a5a5a" stroke-width="1.5" opacity="0.41"/>
<path d="M1195.9 1177.6l0.7 3.2" stroke="#8d8d8d" stroke-width="1.2" opacity="0.33"/>
<path d="M1171.7 1225.5l1.6 2.0" stroke="#777" stroke-width="1.4" opacity="0.49"/>
<path d="M1183.7 1224.2l1.6 0.6" stroke="#8d8d8d" stroke-width="0.8" opacity="0.75"/>
<path d="M1014.6 1180.3l1.6 0.1" stroke="#777" stroke-width="1.2" opacity="0.76"/>
<path d="M1059.2 1167.8l2.8 0.3" stroke="#aaa" stroke-width="1.2" opacity="0.84"/>
<path d="M1107.3 1252.9l-3.3 1.2" stroke="#8d8d8d" stroke-width="0.9" opacity="0.40"/>
<path d="M1165.6 1217.2l1.4 1.7" stroke="#8d8d8d" stroke-width="1.5" opacity="0.59"/>
<path d="M1066.5 1274.9l-1.9 1.6" stroke="#4a4a4a" stroke-width="0.9" opacity="0.69"/>
<path d="M1184.2 1180.4l-1.6 1.3" stroke="#8d8d8d" stroke-width="0.8" opacity="0.40"/>
<path d="M1127.1 1185.9l0.5 3.6" stroke="#777" stroke-width="1.1" opacity="0.85"/>
<path d="M1047.3 1192.3l1.4 0.5" stroke="#4a4a4a" stroke-width="1.2" opacity="0.33"/>
<path d="M1150.9 1266.5l2.0 2.8" stroke="#8d8d8d" stroke-width="0.9" opacity="0.83"/>
<path d="M1017.5 1170.9l0.4 1.2" stroke="#777" stroke-width="1.4" opacity="0.81"/>
<path d="M1130.1 1263.8l0.7 1.2" stroke="#4a4a4a" stroke-width="1.0" opacity="0.68"/>
<path d="M969.9 1141.5l-2.2 2.2" stroke="#aaa" stroke-width="0.9" opacity="0.51"/>
<path d="M1195.5 1264.3l-1.1 3.0" stroke="#8d8d8d" stroke-width="1.3" opacity="0.58"/>
<path d="M1164.9 1260.8l3.1 0.5" stroke="#aaa" stroke-width="0.7" opacity="0.52"/>
<path d="M1138.2 1171.8l-3.3 0.6" stroke="#777" stroke-width="0.9" opacity="0.49"/>
<path d="M1176.2 1264.7l1.0 1.4" stroke="#5a5a5a" stroke-width="1.2" opacity="0.50"/>
<path d="M1128.7 1165.9l2.3 3.1" stroke="#777" stroke-width="1.5" opacity="0.49"/>
<path d="M1155.2 1249.7l-0.8 2.8" stroke="#4a4a4a" stroke-width="1.1" opacity="0.74"/>
<path d="M1071.5 1183.1l-1.6 0.0" stroke="#4a4a4a" stroke-width="1.3" opacity="0.40"/>
<path d="M1177.0 1144.4l-2.5 3.0" stroke="#4a4a4a" stroke-width="1.4" opacity="0.68"/>
<path d="M1135.7 1262.3l-2.2 0.5" stroke="#777" stroke-width="1.1" opacity="0.49"/>
<path d="M1008.4 1228.3l1.7 1.8" stroke="#4a4a4a" stroke-width="0.8" opacity="0.43"/>
<path d="M1110.8 1237.8l-1.8 3.0" stroke="#aaa" stroke-width="1.0" opacity="0.31"/>
<path d="M1056.7 1139.8l-1.0 1.4" stroke="#aaa" stroke-width="1.2" opacity="0.55"/>
<path d="M1108.9 1265.8l0.7 1.6" stroke="#aaa" stroke-width="1.1" opacity="0.47"/>
<path d="M1106.9 1171.7l0.9 2.9" stroke="#4a4a4a" stroke-width="1.4" opacity="0.65"/>
<path d="M1091.3 1204.0l-4.0 0.4" stroke="#4a4a4a" stroke-width="1.2" opacity="0.66"/>
<path d="M1186.8 1170.4l0.1 2.8" stroke="#8d8d8d" stroke-width="1.5" opacity="0.40"/>
<path d="M960.1 1255.5l2.8 0.0" stroke="#5a5a5a" stroke-width="1.1" opacity="0.45"/>
<path d="M1085.6 1184.8l0.5 1.3" stroke="#aaa" stroke-width="1.5" opacity="0.79"/>
<path d="M1115.3 1204.8l-2.9 0.8" stroke="#4a4a4a" stroke-width="1.2" opacity="0.85"/>
<path d="M970.0 1237.8l-3.3 2.2" stroke="#777" stroke-width="0.9" opacity="0.63"/>
<path d="M958.9 1244.7l-3.0 0.3" stroke="#5a5a5a" stroke-width="0.8" opacity="0.70"/>
<path d="M1050.2 1160.6l2.4 2.5" stroke="#5a5a5a" stroke-width="1.5" opacity="0.32"/>
<path d="M1175.5 1224.3l0.4 1.2" stroke="#5a5a5a" stroke-width="1.1" opacity="0.42"/>
<path d="M1085.0 1149.9l-3.5 0.6" stroke="#5a5a5a" stroke-width="0.8" opacity="0.57"/>
<path d="M1194.3 1261.9l-0.6 1.4" stroke="#4a4a4a" stroke-width="0.7" opacity="0.60"/>
<path d="M1161.5 1164.0l2.1 2.1" stroke="#8d8d8d" stroke-width="1.5" opacity="0.39"/>
<path d="M999.7 1272.6l1.2 0.5" stroke="#4a4a4a" stroke-width="1.0" opacity="0.42"/>
<path d="M1151.3 1270.8l-0.2 1.8" stroke="#5a5a5a" stroke-width="0.9" opacity="0.64"/>
<path d="M1160.3 1155.5l-0.5 3.8" stroke="#4a4a4a" stroke-width="1.4" opacity="0.34"/>
<path d="M965.5 1230.4l3.2 1.5" stroke="#5a5a5a" stroke-width="1.4" opacity="0.56"/>
<path d="M1089.9 1158.4l-0.3 2.4" stroke="#5a5a5a" stroke-width="1.4" opacity="0.56"/>
<path d="M1021.2 1256.5l3.2 2.2" stroke="#4a4a4a" stroke-width="0.8" opacity="0.50"/>
<path d="M954.2 1262.2l-0.6 3.7" stroke="#aaa" stroke-width="1.1" opacity="0.37"/>
<path d="M1104.7 1253.6l2.5 1.6" stroke="#aaa" stroke-width="1.4" opacity="0.38"/>
<path d="M1055.1 1259.6l-1.0 3.4" stroke="#8d8d8d" stroke-width="0.9" opacity="0.68"/>
<path d="M1118.7 1230.6l-1.5 1.3" stroke="#4a4a4a" stroke-width="1.1" opacity="0.63"/>
<path d="M1205.0 1161.0l1.7 3.1" stroke="#aaa" stroke-width="0.8" opacity="0.58"/>
<path d="M1121.8 1244.9l-0.7 1.1" stroke="#aaa" stroke-width="0.8" opacity="0.32"/>
<path d="M1193.0 1207.4l1.2 0.6" stroke="#aaa" stroke-width="1.0" opacity="0.39"/>
<path d="M1151.3 1173.2l-1.2 2.9" stroke="#5a5a5a" stroke-width="1.1" opacity="0.64"/>
<path d="M1176.5 1152.5l-3.1 1.5" stroke="#777" stroke-width="0.9" opacity="0.43"/>
<path d="M1027.8 1242.4l0.3 1.3" stroke="#777" stroke-width="1.0" opacity="0.64"/>
<path d="M1039.7 1184.6l1.5 3.2" stroke="#4a4a4a" stroke-width="1.2" opacity="0.69"/>
<path d="M1033.1 1193.3l-2.3 1.7" stroke="#8d8d8d" stroke-width="0.9" opacity="0.66"/>
<path d="M1113.0 1234.1l2.1 2.1" stroke="#aaa" stroke-width="1.3" opacity="0.38"/>
<path d="M1076.0 1157.4l-2.1 1.7" stroke="#5a5a5a" stroke-width="1.2" opacity="0.69"/>
<path d="M1052.2 1167.3l1.7 0.6" stroke="#777" stroke-width="1.2" opacity="0.57"/>
<path d="M993.2 1139.2l-2.8 2.5" stroke="#aaa" stroke-width="1.3" opacity="0.54"/>
<path d="M1072.5 1259.8l-2.3 0.6" stroke="#aaa" stroke-width="1.3" opacity="0.79"/>
<path d="M1072.6 1220.2l-3.1 0.1" stroke="#8d8d8d" stroke-width="1.0" opacity="0.34"/>
<path d="M1035.4 1205.0l2.9 2.1" stroke="#5a5a5a" stroke-width="1.3" opacity="0.69"/>
<path d="M989.5 1223.6l-2.0 0.1" stroke="#4a4a4a" stroke-width="0.8" opacity="0.65"/>
<path d="M1072.0 1220.4l1.6 3.4" stroke="#aaa" stroke-width="0.9" opacity="0.49"/>
<path d="M1168.6 1142.4l-2.9 1.5" stroke="#8d8d8d" stroke-width="1.3" opacity="0.58"/>
<path d="M1134.7 1211.1l-1.1 2.8" stroke="#aaa" stroke-width="1.0" opacity="0.37"/>
<path d="M1026.0 1231.0l-0.3 1.5" stroke="#777" stroke-width="1.0" opacity="0.75"/>
<path d="M1115.9 1257.2l2.4 1.9" stroke="#8d8d8d" stroke-width="1.1" opacity="0.75"/>
<path d="M1030.6 1146.3l-2.6 1.7" stroke="#5a5a5a" stroke-width="1.0" opacity="0.55"/>
<path d="M1050.8 1239.5l-0.2 3.0" stroke="#8d8d8d" stroke-width="1.3" opacity="0.61"/>
<path d="M1083.8 1187.4l-3.1 2.4" stroke="#5a5a5a" stroke-width="1.2" opacity="0.44"/>
<path d="M1163.0 1214.5l1.6 1.6" stroke="#aaa" stroke-width="1.1" opacity="0.31"/>
<path d="M1093.5 1161.4l0.0 3.3" stroke="#5a5a5a" stroke-width="1.0" opacity="0.39"/>
<path d="M971.2 1246.3l0.4 2.8" stroke="#aaa" stroke-width="1.5" opacity="0.56"/>
<path d="M1105.6 1185.0l2.1 1.1" stroke="#777" stroke-width="1.5" opacity="0.61"/>
<path d="M1010.7 1269.7l-0.1 2.5" stroke="#5a5a5a" stroke-width="1.3" opacity="0.49"/>
<path d="M977.5 1148.1l-0.3 1.6" stroke="#4a4a4a" stroke-width="0.9" opacity="0.52"/>
<path d="M1013.5 1141.2l-2.3 0.3" stroke="#aaa" stroke-width="0.7" opacity="0.80"/>
<path d="M1073.1 1252.0l1.1 1.5" stroke="#4a4a4a" stroke-width="1.3" opacity="0.63"/>
<path d="M986.2 1267.8l-1.5 0.8" stroke="#777" stroke-width="0.9" opacity="0.76"/>
<path d="M1118.8 1215.3l2.0 0.5" stroke="#aaa" stroke-width="1.4" opacity="0.79"/>
<path d="M1039.6 1227.4l2.1 2.1" stroke="#aaa" stroke-width="1.0" opacity="0.35"/>
<path d="M1086.4 1228.2l-2.8 2.4" stroke="#4a4a4a" stroke-width="1.4" opacity="0.76"/>
<path d="M1162.8 1153.0l0.4 3.6" stroke="#5a5a5a" stroke-width="1.3" opacity="0.65"/>
<path d="M977.4 1187.3l-1.4 2.9" stroke="#aaa" stroke-width="1.5" opacity="0.84"/>
<path d="M1035.7 1271.5l0.7 3.0" stroke="#4a4a4a" stroke-width="0.9" opacity="0.58"/>
<path d="M963.7 1251.7l2.4 2.7" stroke="#777" stroke-width="0.7" opacity="0.78"/>
<path d="M1120.2 1206.0l-1.7 1.2" stroke="#4a4a4a" stroke-width="1.3" opacity="0.84"/>
<path d="M1102.8 1164.0l-2.5 1.2" stroke="#5a5a5a" stroke-width="0.8" opacity="0.73"/>
<path d="M953.9 1209.2l3.6 0.7" stroke="#4a4a4a" stroke-width="1.0" opacity="0.61"/>
<path d="M1147.6 1267.1l-0.8 3.6" stroke="#4a4a4a" stroke-width="1.5" opacity="0.41"/>
<path d="M1064.6 1222.6l-0.5 1.4" stroke="#aaa" stroke-width="0.7" opacity="0.84"/>
<path d="M994.6 1143.6l-0.4 1.4" stroke="#4a4a4a" stroke-width="0.8" opacity="0.46"/>
<path d="M1094.8 1161.4l0.1 2.6" stroke="#8d8d8d" stroke-width="1.3" opacity="0.55"/>
<path d="M988.0 1259.0l0.4 3.4" stroke="#777" stroke-width="0.8" opacity="0.59"/>
<path d="M1018.4 1157.8l2.5 1.1" stroke="#aaa" stroke-width="1.3" opacity="0.83"/>
<path d="M1150.5 1231.3l-1.7 1.7" stroke="#8d8d8d" stroke-width="0.8" opacity="0.74"/>
<path d="M967.9 1226.2l2.2 3.2" stroke="#777" stroke-width="0.9" opacity="0.71"/>
<path d="M976.5 1267.5l-1.8 2.4" stroke="#aaa" stroke-width="0.8" opacity="0.46"/>
<path d="M1010.6 1173.6l-0.4 1.2" stroke="#5a5a5a" stroke-width="1.2" opacity="0.37"/>
<path d="M1021.0 1156.8l-2.8 0.6" stroke="#8d8d8d" stroke-width="1.3" opacity="0.83"/>
<path d="M993.6 1188.7l0.2 2.9" stroke="#aaa" stroke-width="0.7" opacity="0.69"/>
<path d="M1160.3 1200.7l0.4 2.2" stroke="#aaa" stroke-width="1.0" opacity="0.78"/>
<g fill="#1d1d1d">
<rect x="1047.6" y="1010" width="2.2" height="161"/><rect x="1051.6" y="1010" width="2.2" height="161"/>
<rect x="1085.6" y="1010" width="3.8" height="129"/>
<rect x="1116.4" y="1010" width="3.8" height="128"/>
<rect x="1147.2" y="1010" width="3.6" height="130"/>
<rect x="1178" y="1010" width="3.6" height="126"/>
<rect x="1089" y="1047.4" width="120" height="2.6"/>
<rect x="1040" y="1134.5" width="170" height="2.5" opacity="0.8"/>
</g>
<path d="M1034.2 1137.5V1170" stroke="#fff" stroke-width="1.8"/>
<path d="M1026.8 1163q7.4 3.2 14.8 0l-7.4 19.6Z" fill="#fff"/>
</g>
<g transform="translate(0 0)"><rect x="804" y="390.3" width="60.2" height="61.3" rx="8" ry="8" fill="none" stroke="#fdfff4" stroke-width="5.2"/><path d="M807 417.7L825.4 406.4L835.3 423.7C843 407 856 388.5 874.5 375.6C872.3 385 872.6 393.5 875.2 399.7C861 408 848 425 836.3 442.1C828 431 818.5 423 807 417.7Z" fill="#20ab2d" stroke="#9bec8f" stroke-width="1.2" stroke-linejoin="round"/></g>
<g transform="translate(3.4 361.3)"><rect x="804" y="390.3" width="60.2" height="61.3" rx="8" ry="8" fill="none" stroke="#fdfff4" stroke-width="5.2"/><path d="M807 417.7L825.4 406.4L835.3 423.7C843 407 856 388.5 874.5 375.6C872.3 385 872.6 393.5 875.2 399.7C861 408 848 425 836.3 442.1C828 431 818.5 423 807 417.7Z" fill="#20ab2d" stroke="#9bec8f" stroke-width="1.2" stroke-linejoin="round"/></g>
<g transform="translate(4.2 716.8)"><rect x="804" y="390.3" width="60.2" height="61.3" rx="8" ry="8" fill="none" stroke="#fdfff4" stroke-width="5.2"/><path d="M807 417.7L825.4 406.4L835.3 423.7C843 407 856 388.5 874.5 375.6C872.3 385 872.6 393.5 875.2 399.7C861 408 848 425 836.3 442.1C828 431 818.5 423 807 417.7Z" fill="#20ab2d" stroke="#9bec8f" stroke-width="1.2" stroke-linejoin="round"/></g>
<g transform="translate(1298 442.8)"><rect x="1.3" y="1.3" width="51.6" height="52.2" rx="8.5" ry="8.5" fill="#9b9d9c" stroke="#373737" stroke-width="2.7"/><path d="M6.9 8.7H22.4L27.4 15.9L33.6 8.7H47.3L38.6 26.8L47.9 45.5H33L27.1 37L21.8 45.5H6.2L15.3 26.8Z" fill="#cf2122" stroke="#e98a86" stroke-width="0.8" stroke-linejoin="round"/></g>
<g transform="translate(1300.3 784.3)"><rect x="1.3" y="1.3" width="51.6" height="52.2" rx="8.5" ry="8.5" fill="#9b9d9c" stroke="#373737" stroke-width="2.7"/><path d="M6.9 8.7H22.4L27.4 15.9L33.6 8.7H47.3L38.6 26.8L47.9 45.5H33L27.1 37L21.8 45.5H6.2L15.3 26.8Z" fill="#cf2122" stroke="#e98a86" stroke-width="0.8" stroke-linejoin="round"/></g>
<g transform="translate(1300.3 1084.6)"><rect x="1.3" y="1.3" width="51.6" height="52.2" rx="8.5" ry="8.5" fill="#9b9d9c" stroke="#373737" stroke-width="2.7"/><path d="M6.9 8.7H22.4L27.4 15.9L33.6 8.7H47.3L38.6 26.8L47.9 45.5H33L27.1 37L21.8 45.5H6.2L15.3 26.8Z" fill="#cf2122" stroke="#e98a86" stroke-width="0.8" stroke-linejoin="round"/></g>
<g filter="url(#nf)">
<text class="hv" transform="translate(122.84 78.9) scale(0.9973 1)" font-size="66.6" letter-spacing="4.412" stroke-width="5.0">WHY CHOOSE US?</text>
<text class="hv" transform="translate(363.52 220.2) scale(0.9795 1)" font-size="80.2" letter-spacing="5.105" stroke-width="5.6">Ours</text>
<text class="hv" transform="translate(503.35 366.4) scale(0.966 1)" font-size="53.9" letter-spacing="4.141" stroke-width="4.2">Rustproof</text>
<text class="hv" transform="translate(534.29 432.5) scale(0.9842 1)" font-size="53.9" letter-spacing="4.064" stroke-width="4.2">Coating</text>
<text class="hv" transform="translate(508.22 494.9) scale(1.004 1)" font-size="33" letter-spacing="0.398" stroke-width="0.25">prevent corrosion</text>
<text class="hv" transform="translate(586.57 533.0) scale(0.9883 1)" font-size="33" letter-spacing="0.405" stroke-width="0.25">and rust</text>
<text class="hv" transform="translate(561.81 718.4) scale(0.9861 1)" font-size="53.9" letter-spacing="4.056" stroke-width="4.2">Small</text>
<text class="hv" transform="translate(505.27 784.4) scale(0.9672 1)" font-size="53.9" letter-spacing="4.136" stroke-width="4.2">Interstice</text>
<text class="hv" transform="translate(488.03 847.8) scale(1.0215 1)" font-size="33" letter-spacing="0.392" stroke-width="0.25">better defend small</text>
<text class="hv" transform="translate(526.71 886.3) scale(0.9797 1)" font-size="33" letter-spacing="0.408" stroke-width="0.25">animal invasion</text>
<text class="hv" transform="translate(534.97 1068.2) scale(0.9774 1)" font-size="53.9" letter-spacing="4.092" stroke-width="4.2">Safe &amp;</text>
<text class="hv" transform="translate(516.52 1134.4) scale(0.9667 1)" font-size="53.9" letter-spacing="4.138" stroke-width="4.2">Stability</text>
<text class="hv" transform="translate(491.87 1202.7) scale(1.0233 1)" font-size="33" letter-spacing="0.391" stroke-width="0.25">deeper embedding,</text>
<text class="hv" transform="translate(555.85 1241.0) scale(1.0042 1)" font-size="33" letter-spacing="0.398" stroke-width="0.25">more sturdy</text>
<text class="hv" transform="translate(1083.62 317.6) scale(1.0321 1)" font-size="53.2" letter-spacing="2.519" stroke-width="3.8">Others</text>
<text class="hv" transform="translate(1244.6 555.0) scale(0.9802 1)" font-size="38.2" letter-spacing="0.306" stroke-width="0.3">Rust and</text>
<text class="hv" transform="translate(1235.17 598.3) scale(0.978 1)" font-size="38.2" letter-spacing="0.307" stroke-width="0.3">Corrosion</text>
<text class="hv" transform="translate(1229.16 893.5) scale(0.9973 1)" font-size="38.2" letter-spacing="0.301" stroke-width="0.3">Large Gap</text>
<text class="hv" transform="translate(1231.4 1192.0) scale(0.9941 1)" font-size="38.2" letter-spacing="0.302" stroke-width="0.3">Instability</text>
<text class="lbl" x="255.4" y="760.8" font-size="16.6" textLength="31.8" lengthAdjust="spacingAndGlyphs" fill="#f6ffe6" stroke="#f6ffe6">1.45</text>
<text class="lbl" x="256.6" y="780.9" font-size="16.6" textLength="28.8" lengthAdjust="spacingAndGlyphs" fill="#f6ffe6" stroke="#f6ffe6">inch</text>
<text class="lbl" x="114.6" y="1163.4" font-size="25.6" textLength="68.4" lengthAdjust="spacingAndGlyphs" fill="#fff" stroke="#fff">7 inch</text>
<text class="lbl" x="955.2" y="1170.6" font-size="25.6" textLength="69.8" lengthAdjust="spacingAndGlyphs" fill="#fff" stroke="#fff">2 inch</text>
<text class="lbl" x="1052.8" y="840.5" font-size="16.5" textLength="42.6" lengthAdjust="spacingAndGlyphs" fill="#fff" stroke="#fff">2 inch</text>
</g>
</svg>
</body>
</html>
